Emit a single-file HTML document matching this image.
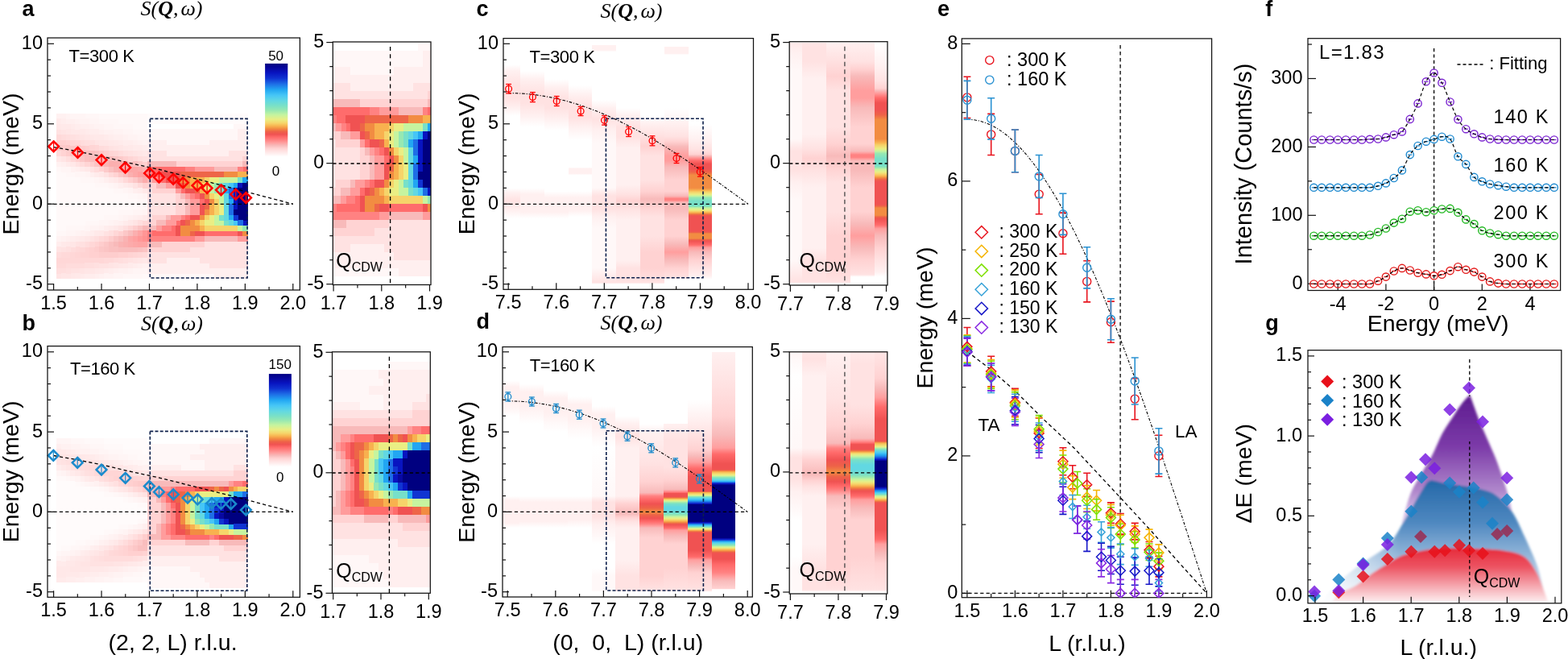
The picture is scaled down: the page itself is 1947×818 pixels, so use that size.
<!DOCTYPE html>
<html><head><meta charset="utf-8"><title>Figure</title>
<style>html,body{margin:0;padding:0;background:#fff;width:1947px;height:818px;overflow:hidden}svg{display:block}</style>
</head><body>
<svg width="1947" height="818" viewBox="0 0 1947 818"><clipPath id="cp1"><rect x="413.3" y="52" width="121.7" height="301.5"/></clipPath><g clip-path="url(#cp1)" shape-rendering="crispEdges"><path fill="#fff7f7" d="M518.6 52.6h6.4v10.4h-6.4zM524.5 52.6h6.4v10.4h-6.4zM530.5 52.6h6.4v10.4h-6.4zM411.1 62.6h6.4v10.4h-6.4zM417.1 62.6h6.4v10.4h-6.4zM423.1 62.6h6.4v10.4h-6.4zM429 62.6h6.4v10.4h-6.4zM435 62.6h6.4v10.4h-6.4zM441 62.6h6.4v10.4h-6.4zM446.9 62.6h6.4v10.4h-6.4zM452.9 62.6h6.4v10.4h-6.4zM458.9 62.6h6.4v10.4h-6.4zM464.8 62.6h6.4v10.4h-6.4zM470.8 62.6h6.4v10.4h-6.4zM476.8 62.6h6.4v10.4h-6.4zM482.8 62.6h6.4v10.4h-6.4zM488.7 62.6h6.4v10.4h-6.4zM494.7 62.6h6.4v10.4h-6.4zM500.7 62.6h6.4v10.4h-6.4zM506.6 62.6h6.4v10.4h-6.4zM512.6 62.6h6.4v10.4h-6.4zM518.6 62.6h6.4v10.4h-6.4zM411.1 72.6h6.4v10.4h-6.4zM417.1 72.6h6.4v10.4h-6.4zM423.1 72.6h6.4v10.4h-6.4zM429 72.6h6.4v10.4h-6.4zM435 72.6h6.4v10.4h-6.4zM441 72.6h6.4v10.4h-6.4zM446.9 72.6h6.4v10.4h-6.4zM452.9 72.6h6.4v10.4h-6.4zM458.9 72.6h6.4v10.4h-6.4zM464.8 72.6h6.4v10.4h-6.4zM470.8 72.6h6.4v10.4h-6.4zM476.8 72.6h6.4v10.4h-6.4zM482.8 72.6h6.4v10.4h-6.4zM488.7 72.6h6.4v10.4h-6.4zM494.7 72.6h6.4v10.4h-6.4zM500.7 72.6h6.4v10.4h-6.4zM506.6 72.6h6.4v10.4h-6.4zM512.6 72.6h6.4v10.4h-6.4zM518.6 72.6h6.4v10.4h-6.4zM435 82.6h6.4v10.4h-6.4zM441 82.6h6.4v10.4h-6.4zM446.9 82.6h6.4v10.4h-6.4zM452.9 82.6h6.4v10.4h-6.4zM458.9 82.6h6.4v10.4h-6.4zM464.8 82.6h6.4v10.4h-6.4zM470.8 82.6h6.4v10.4h-6.4zM476.8 82.6h6.4v10.4h-6.4zM482.8 82.6h6.4v10.4h-6.4zM411.1 332.7h6.4v10.4h-6.4zM417.1 332.7h6.4v10.4h-6.4zM423.1 332.7h6.4v10.4h-6.4zM429 332.7h6.4v10.4h-6.4zM435 332.7h6.4v10.4h-6.4zM441 332.7h6.4v10.4h-6.4zM446.9 332.7h6.4v10.4h-6.4zM452.9 332.7h6.4v10.4h-6.4zM458.9 332.7h6.4v10.4h-6.4zM464.8 332.7h6.4v10.4h-6.4zM470.8 332.7h6.4v10.4h-6.4zM476.8 332.7h6.4v10.4h-6.4zM482.8 332.7h6.4v10.4h-6.4zM488.7 332.7h6.4v10.4h-6.4z"/><path fill="#ffefef" d="M524.5 62.6h6.4v10.4h-6.4zM530.5 62.6h6.4v10.4h-6.4zM524.5 72.6h6.4v10.4h-6.4zM530.5 72.6h6.4v10.4h-6.4zM411.1 82.6h6.4v10.4h-6.4zM417.1 82.6h6.4v10.4h-6.4zM423.1 82.6h6.4v10.4h-6.4zM429 82.6h6.4v10.4h-6.4zM488.7 82.6h6.4v10.4h-6.4zM494.7 82.6h6.4v10.4h-6.4zM500.7 82.6h6.4v10.4h-6.4zM506.6 82.6h6.4v10.4h-6.4zM512.6 82.6h6.4v10.4h-6.4zM518.6 82.6h6.4v10.4h-6.4zM524.5 82.6h6.4v10.4h-6.4zM530.5 82.6h6.4v10.4h-6.4zM411.1 92.6h6.4v10.4h-6.4zM417.1 92.6h6.4v10.4h-6.4zM423.1 92.6h6.4v10.4h-6.4zM429 92.6h6.4v10.4h-6.4zM435 92.6h6.4v10.4h-6.4zM441 92.6h6.4v10.4h-6.4zM446.9 92.6h6.4v10.4h-6.4zM452.9 92.6h6.4v10.4h-6.4zM458.9 92.6h6.4v10.4h-6.4zM464.8 92.6h6.4v10.4h-6.4zM470.8 92.6h6.4v10.4h-6.4zM476.8 92.6h6.4v10.4h-6.4zM482.8 92.6h6.4v10.4h-6.4zM488.7 92.6h6.4v10.4h-6.4zM494.7 92.6h6.4v10.4h-6.4zM500.7 92.6h6.4v10.4h-6.4zM506.6 92.6h6.4v10.4h-6.4zM512.6 92.6h6.4v10.4h-6.4zM518.6 92.6h6.4v10.4h-6.4zM524.5 92.6h6.4v10.4h-6.4zM530.5 92.6h6.4v10.4h-6.4zM435 102.6h6.4v10.4h-6.4zM441 102.6h6.4v10.4h-6.4zM446.9 102.6h6.4v10.4h-6.4zM452.9 102.6h6.4v10.4h-6.4zM458.9 102.6h6.4v10.4h-6.4zM464.8 102.6h6.4v10.4h-6.4zM470.8 102.6h6.4v10.4h-6.4zM476.8 102.6h6.4v10.4h-6.4zM482.8 102.6h6.4v10.4h-6.4zM488.7 102.6h6.4v10.4h-6.4zM494.7 102.6h6.4v10.4h-6.4zM500.7 102.6h6.4v10.4h-6.4zM506.6 102.6h6.4v10.4h-6.4zM435 302.7h6.4v10.4h-6.4zM441 302.7h6.4v10.4h-6.4zM446.9 302.7h6.4v10.4h-6.4zM452.9 302.7h6.4v10.4h-6.4zM458.9 302.7h6.4v10.4h-6.4zM464.8 302.7h6.4v10.4h-6.4zM470.8 302.7h6.4v10.4h-6.4zM411.1 312.7h6.4v10.4h-6.4zM417.1 312.7h6.4v10.4h-6.4zM423.1 312.7h6.4v10.4h-6.4zM429 312.7h6.4v10.4h-6.4zM435 312.7h6.4v10.4h-6.4zM441 312.7h6.4v10.4h-6.4zM446.9 312.7h6.4v10.4h-6.4zM452.9 312.7h6.4v10.4h-6.4zM458.9 312.7h6.4v10.4h-6.4zM464.8 312.7h6.4v10.4h-6.4zM470.8 312.7h6.4v10.4h-6.4zM476.8 312.7h6.4v10.4h-6.4zM482.8 312.7h6.4v10.4h-6.4zM411.1 322.7h6.4v10.4h-6.4zM417.1 322.7h6.4v10.4h-6.4zM423.1 322.7h6.4v10.4h-6.4zM429 322.7h6.4v10.4h-6.4zM435 322.7h6.4v10.4h-6.4zM441 322.7h6.4v10.4h-6.4zM446.9 322.7h6.4v10.4h-6.4zM452.9 322.7h6.4v10.4h-6.4zM458.9 322.7h6.4v10.4h-6.4zM464.8 322.7h6.4v10.4h-6.4zM470.8 322.7h6.4v10.4h-6.4zM476.8 322.7h6.4v10.4h-6.4zM482.8 322.7h6.4v10.4h-6.4zM488.7 322.7h6.4v10.4h-6.4zM494.7 322.7h6.4v10.4h-6.4zM500.7 322.7h6.4v10.4h-6.4zM506.6 322.7h6.4v10.4h-6.4zM512.6 322.7h6.4v10.4h-6.4zM518.6 322.7h6.4v10.4h-6.4zM524.5 322.7h6.4v10.4h-6.4zM530.5 322.7h6.4v10.4h-6.4zM494.7 332.7h6.4v10.4h-6.4zM500.7 332.7h6.4v10.4h-6.4zM506.6 332.7h6.4v10.4h-6.4zM512.6 332.7h6.4v10.4h-6.4zM518.6 332.7h6.4v10.4h-6.4zM524.5 332.7h6.4v10.4h-6.4zM530.5 332.7h6.4v10.4h-6.4z"/><path fill="#ffe2e2" d="M411.1 102.6h6.4v10.4h-6.4zM417.1 102.6h6.4v10.4h-6.4zM423.1 102.6h6.4v10.4h-6.4zM429 102.6h6.4v10.4h-6.4zM512.6 102.6h6.4v10.4h-6.4zM518.6 102.6h6.4v10.4h-6.4zM524.5 102.6h6.4v10.4h-6.4zM530.5 102.6h6.4v10.4h-6.4zM411.1 112.6h6.4v10.4h-6.4zM417.1 112.6h6.4v10.4h-6.4zM423.1 112.6h6.4v10.4h-6.4zM429 112.6h6.4v10.4h-6.4zM435 112.6h6.4v10.4h-6.4zM441 112.6h6.4v10.4h-6.4zM446.9 112.6h6.4v10.4h-6.4zM452.9 112.6h6.4v10.4h-6.4zM458.9 112.6h6.4v10.4h-6.4zM464.8 112.6h6.4v10.4h-6.4zM470.8 112.6h6.4v10.4h-6.4zM476.8 112.6h6.4v10.4h-6.4zM482.8 112.6h6.4v10.4h-6.4zM488.7 112.6h6.4v10.4h-6.4zM494.7 112.6h6.4v10.4h-6.4zM500.7 112.6h6.4v10.4h-6.4zM506.6 112.6h6.4v10.4h-6.4zM512.6 112.6h6.4v10.4h-6.4zM518.6 112.6h6.4v10.4h-6.4zM524.5 112.6h6.4v10.4h-6.4zM411.1 172.6h6.4v10.4h-6.4zM411.1 182.6h6.4v10.4h-6.4zM417.1 182.6h6.4v10.4h-6.4zM423.1 182.6h6.4v10.4h-6.4zM429 182.6h6.4v10.4h-6.4zM435 182.6h6.4v10.4h-6.4zM441 182.6h6.4v10.4h-6.4zM411.1 192.6h6.4v10.4h-6.4zM417.1 192.6h6.4v10.4h-6.4zM423.1 192.6h6.4v10.4h-6.4zM429 192.6h6.4v10.4h-6.4zM435 192.6h6.4v10.4h-6.4zM441 192.6h6.4v10.4h-6.4zM411.1 202.6h6.4v10.4h-6.4zM417.1 202.6h6.4v10.4h-6.4zM423.1 202.6h6.4v10.4h-6.4zM429 202.6h6.4v10.4h-6.4zM435 202.6h6.4v10.4h-6.4zM441 202.6h6.4v10.4h-6.4zM411.1 212.7h6.4v10.4h-6.4zM417.1 212.7h6.4v10.4h-6.4zM423.1 212.7h6.4v10.4h-6.4zM429 212.7h6.4v10.4h-6.4zM435 212.7h6.4v10.4h-6.4zM441 212.7h6.4v10.4h-6.4zM411.1 222.7h6.4v10.4h-6.4zM482.8 272.7h6.4v10.4h-6.4zM488.7 272.7h6.4v10.4h-6.4zM494.7 272.7h6.4v10.4h-6.4zM500.7 272.7h6.4v10.4h-6.4zM506.6 272.7h6.4v10.4h-6.4zM512.6 272.7h6.4v10.4h-6.4zM518.6 272.7h6.4v10.4h-6.4zM524.5 272.7h6.4v10.4h-6.4zM530.5 272.7h6.4v10.4h-6.4zM464.8 282.7h6.4v10.4h-6.4zM470.8 282.7h6.4v10.4h-6.4zM476.8 282.7h6.4v10.4h-6.4zM482.8 282.7h6.4v10.4h-6.4zM488.7 282.7h6.4v10.4h-6.4zM494.7 282.7h6.4v10.4h-6.4zM500.7 282.7h6.4v10.4h-6.4zM506.6 282.7h6.4v10.4h-6.4zM512.6 282.7h6.4v10.4h-6.4zM518.6 282.7h6.4v10.4h-6.4zM524.5 282.7h6.4v10.4h-6.4zM530.5 282.7h6.4v10.4h-6.4zM411.1 292.7h6.4v10.4h-6.4zM417.1 292.7h6.4v10.4h-6.4zM423.1 292.7h6.4v10.4h-6.4zM429 292.7h6.4v10.4h-6.4zM435 292.7h6.4v10.4h-6.4zM441 292.7h6.4v10.4h-6.4zM446.9 292.7h6.4v10.4h-6.4zM452.9 292.7h6.4v10.4h-6.4zM458.9 292.7h6.4v10.4h-6.4zM464.8 292.7h6.4v10.4h-6.4zM470.8 292.7h6.4v10.4h-6.4zM476.8 292.7h6.4v10.4h-6.4zM482.8 292.7h6.4v10.4h-6.4zM488.7 292.7h6.4v10.4h-6.4zM494.7 292.7h6.4v10.4h-6.4zM500.7 292.7h6.4v10.4h-6.4zM506.6 292.7h6.4v10.4h-6.4zM512.6 292.7h6.4v10.4h-6.4zM518.6 292.7h6.4v10.4h-6.4zM524.5 292.7h6.4v10.4h-6.4zM530.5 292.7h6.4v10.4h-6.4zM411.1 302.7h6.4v10.4h-6.4zM417.1 302.7h6.4v10.4h-6.4zM423.1 302.7h6.4v10.4h-6.4zM429 302.7h6.4v10.4h-6.4zM476.8 302.7h6.4v10.4h-6.4zM482.8 302.7h6.4v10.4h-6.4zM488.7 302.7h6.4v10.4h-6.4zM494.7 302.7h6.4v10.4h-6.4zM500.7 302.7h6.4v10.4h-6.4zM506.6 302.7h6.4v10.4h-6.4zM512.6 302.7h6.4v10.4h-6.4zM518.6 302.7h6.4v10.4h-6.4zM524.5 302.7h6.4v10.4h-6.4zM530.5 302.7h6.4v10.4h-6.4zM488.7 312.7h6.4v10.4h-6.4zM494.7 312.7h6.4v10.4h-6.4zM500.7 312.7h6.4v10.4h-6.4zM506.6 312.7h6.4v10.4h-6.4zM512.6 312.7h6.4v10.4h-6.4zM518.6 312.7h6.4v10.4h-6.4zM524.5 312.7h6.4v10.4h-6.4zM530.5 312.7h6.4v10.4h-6.4z"/><path fill="#ffd3d3" d="M530.5 112.6h6.4v10.4h-6.4zM446.9 122.6h6.4v10.4h-6.4zM452.9 122.6h6.4v10.4h-6.4zM458.9 122.6h6.4v10.4h-6.4zM464.8 122.6h6.4v10.4h-6.4zM470.8 122.6h6.4v10.4h-6.4zM476.8 122.6h6.4v10.4h-6.4zM482.8 122.6h6.4v10.4h-6.4zM488.7 122.6h6.4v10.4h-6.4zM494.7 122.6h6.4v10.4h-6.4zM500.7 122.6h6.4v10.4h-6.4zM506.6 122.6h6.4v10.4h-6.4zM512.6 122.6h6.4v10.4h-6.4zM518.6 122.6h6.4v10.4h-6.4zM524.5 122.6h6.4v10.4h-6.4zM411.1 162.6h6.4v10.4h-6.4zM417.1 162.6h6.4v10.4h-6.4zM417.1 172.6h6.4v10.4h-6.4zM423.1 172.6h6.4v10.4h-6.4zM429 172.6h6.4v10.4h-6.4zM435 172.6h6.4v10.4h-6.4zM441 172.6h6.4v10.4h-6.4zM446.9 182.6h6.4v10.4h-6.4zM446.9 192.6h6.4v10.4h-6.4zM452.9 192.6h6.4v10.4h-6.4zM446.9 202.6h6.4v10.4h-6.4zM452.9 202.6h6.4v10.4h-6.4zM446.9 212.7h6.4v10.4h-6.4zM452.9 212.7h6.4v10.4h-6.4zM417.1 222.7h6.4v10.4h-6.4zM423.1 222.7h6.4v10.4h-6.4zM429 222.7h6.4v10.4h-6.4zM411.1 232.7h6.4v10.4h-6.4zM417.1 232.7h6.4v10.4h-6.4zM429 272.7h6.4v10.4h-6.4zM435 272.7h6.4v10.4h-6.4zM441 272.7h6.4v10.4h-6.4zM446.9 272.7h6.4v10.4h-6.4zM452.9 272.7h6.4v10.4h-6.4zM458.9 272.7h6.4v10.4h-6.4zM464.8 272.7h6.4v10.4h-6.4zM470.8 272.7h6.4v10.4h-6.4zM476.8 272.7h6.4v10.4h-6.4zM411.1 282.7h6.4v10.4h-6.4zM417.1 282.7h6.4v10.4h-6.4zM423.1 282.7h6.4v10.4h-6.4zM429 282.7h6.4v10.4h-6.4zM435 282.7h6.4v10.4h-6.4zM441 282.7h6.4v10.4h-6.4zM446.9 282.7h6.4v10.4h-6.4zM452.9 282.7h6.4v10.4h-6.4zM458.9 282.7h6.4v10.4h-6.4z"/><path fill="#f8baba" d="M411.1 122.6h6.4v10.4h-6.4zM417.1 122.6h6.4v10.4h-6.4zM423.1 122.6h6.4v10.4h-6.4zM429 122.6h6.4v10.4h-6.4zM435 122.6h6.4v10.4h-6.4zM441 122.6h6.4v10.4h-6.4zM530.5 122.6h6.4v10.4h-6.4zM494.7 132.6h6.4v10.4h-6.4zM500.7 132.6h6.4v10.4h-6.4zM506.6 132.6h6.4v10.4h-6.4zM512.6 132.6h6.4v10.4h-6.4zM518.6 132.6h6.4v10.4h-6.4zM411.1 152.6h6.4v10.4h-6.4zM423.1 162.6h6.4v10.4h-6.4zM429 162.6h6.4v10.4h-6.4zM452.9 182.6h6.4v10.4h-6.4zM458.9 192.6h6.4v10.4h-6.4zM458.9 202.6h6.4v10.4h-6.4zM458.9 212.7h6.4v10.4h-6.4zM435 222.7h6.4v10.4h-6.4zM423.1 232.7h6.4v10.4h-6.4zM429 232.7h6.4v10.4h-6.4zM411.1 242.7h6.4v10.4h-6.4zM417.1 242.7h6.4v10.4h-6.4zM482.8 262.7h6.4v10.4h-6.4zM488.7 262.7h6.4v10.4h-6.4zM494.7 262.7h6.4v10.4h-6.4zM500.7 262.7h6.4v10.4h-6.4zM506.6 262.7h6.4v10.4h-6.4zM512.6 262.7h6.4v10.4h-6.4zM518.6 262.7h6.4v10.4h-6.4zM411.1 272.7h6.4v10.4h-6.4zM417.1 272.7h6.4v10.4h-6.4zM423.1 272.7h6.4v10.4h-6.4z"/><path fill="#ff6c6c" d="M411.1 132.6h6.4v10.4h-6.4zM417.1 132.6h6.4v10.4h-6.4zM423.1 132.6h6.4v10.4h-6.4zM429 132.6h6.4v10.4h-6.4zM435 132.6h6.4v10.4h-6.4zM441 132.6h6.4v10.4h-6.4zM446.9 132.6h6.4v10.4h-6.4zM452.9 132.6h6.4v10.4h-6.4zM530.5 132.6h6.4v10.4h-6.4zM417.1 142.6h6.4v10.4h-6.4zM423.1 142.6h6.4v10.4h-6.4zM429 152.6h6.4v10.4h-6.4zM452.9 172.6h6.4v10.4h-6.4zM470.8 182.6h6.4v10.4h-6.4zM476.8 192.6h6.4v10.4h-6.4zM458.9 222.7h6.4v10.4h-6.4zM446.9 232.7h6.4v10.4h-6.4zM441 242.7h6.4v10.4h-6.4zM417.1 252.7h6.4v10.4h-6.4zM423.1 252.7h6.4v10.4h-6.4zM429 252.7h6.4v10.4h-6.4zM435 252.7h6.4v10.4h-6.4zM441 252.7h6.4v10.4h-6.4zM482.8 252.7h6.4v10.4h-6.4zM488.7 252.7h6.4v10.4h-6.4zM494.7 252.7h6.4v10.4h-6.4zM500.7 252.7h6.4v10.4h-6.4zM506.6 252.7h6.4v10.4h-6.4zM512.6 252.7h6.4v10.4h-6.4zM518.6 252.7h6.4v10.4h-6.4z"/><path fill="#ff8282" d="M458.9 132.6h6.4v10.4h-6.4zM464.8 132.6h6.4v10.4h-6.4zM524.5 132.6h6.4v10.4h-6.4zM411.1 142.6h6.4v10.4h-6.4zM423.1 152.6h6.4v10.4h-6.4zM464.8 182.6h6.4v10.4h-6.4zM452.9 222.7h6.4v10.4h-6.4zM429 242.7h6.4v10.4h-6.4zM435 242.7h6.4v10.4h-6.4zM411.1 252.7h6.4v10.4h-6.4zM411.1 262.7h6.4v10.4h-6.4zM417.1 262.7h6.4v10.4h-6.4zM423.1 262.7h6.4v10.4h-6.4zM429 262.7h6.4v10.4h-6.4zM435 262.7h6.4v10.4h-6.4zM441 262.7h6.4v10.4h-6.4zM446.9 262.7h6.4v10.4h-6.4zM452.9 262.7h6.4v10.4h-6.4zM458.9 262.7h6.4v10.4h-6.4zM464.8 262.7h6.4v10.4h-6.4z"/><path fill="#ff9c9c" d="M470.8 132.6h6.4v10.4h-6.4zM476.8 132.6h6.4v10.4h-6.4zM482.8 132.6h6.4v10.4h-6.4zM488.7 132.6h6.4v10.4h-6.4zM417.1 152.6h6.4v10.4h-6.4zM435 162.6h6.4v10.4h-6.4zM441 162.6h6.4v10.4h-6.4zM446.9 172.6h6.4v10.4h-6.4zM458.9 182.6h6.4v10.4h-6.4zM464.8 192.6h6.4v10.4h-6.4zM470.8 192.6h6.4v10.4h-6.4zM464.8 202.6h6.4v10.4h-6.4zM470.8 202.6h6.4v10.4h-6.4zM464.8 212.7h6.4v10.4h-6.4zM470.8 212.7h6.4v10.4h-6.4zM441 222.7h6.4v10.4h-6.4zM446.9 222.7h6.4v10.4h-6.4zM435 232.7h6.4v10.4h-6.4zM441 232.7h6.4v10.4h-6.4zM423.1 242.7h6.4v10.4h-6.4zM470.8 262.7h6.4v10.4h-6.4zM476.8 262.7h6.4v10.4h-6.4zM524.5 262.7h6.4v10.4h-6.4zM530.5 262.7h6.4v10.4h-6.4z"/><path fill="#f05252" d="M429 142.6h6.4v10.4h-6.4zM435 142.6h6.4v10.4h-6.4zM441 142.6h6.4v10.4h-6.4zM446.9 142.6h6.4v10.4h-6.4zM435 152.6h6.4v10.4h-6.4zM441 152.6h6.4v10.4h-6.4zM446.9 162.6h6.4v10.4h-6.4zM458.9 172.6h6.4v10.4h-6.4zM464.8 172.6h6.4v10.4h-6.4zM476.8 182.6h6.4v10.4h-6.4zM482.8 192.6h6.4v10.4h-6.4zM476.8 202.6h6.4v10.4h-6.4zM476.8 212.7h6.4v10.4h-6.4zM464.8 222.7h6.4v10.4h-6.4zM470.8 222.7h6.4v10.4h-6.4zM452.9 232.7h6.4v10.4h-6.4zM446.9 242.7h6.4v10.4h-6.4zM446.9 252.7h6.4v10.4h-6.4zM470.8 252.7h6.4v10.4h-6.4zM476.8 252.7h6.4v10.4h-6.4zM524.5 252.7h6.4v10.4h-6.4z"/><path fill="#ee6548" d="M452.9 142.6h6.4v10.4h-6.4zM458.9 142.6h6.4v10.4h-6.4zM464.8 142.6h6.4v10.4h-6.4zM470.8 142.6h6.4v10.4h-6.4zM476.8 142.6h6.4v10.4h-6.4zM482.8 142.6h6.4v10.4h-6.4zM488.7 142.6h6.4v10.4h-6.4zM494.7 142.6h6.4v10.4h-6.4zM500.7 142.6h6.4v10.4h-6.4zM446.9 152.6h6.4v10.4h-6.4zM452.9 162.6h6.4v10.4h-6.4zM470.8 172.6h6.4v10.4h-6.4zM482.8 202.6h6.4v10.4h-6.4zM458.9 232.7h6.4v10.4h-6.4zM464.8 252.7h6.4v10.4h-6.4z"/><path fill="#f28c42" d="M506.6 142.6h6.4v10.4h-6.4zM512.6 142.6h6.4v10.4h-6.4zM518.6 142.6h6.4v10.4h-6.4zM452.9 152.6h6.4v10.4h-6.4zM458.9 152.6h6.4v10.4h-6.4zM458.9 162.6h6.4v10.4h-6.4zM482.8 182.6h6.4v10.4h-6.4zM488.7 192.6h6.4v10.4h-6.4zM482.8 212.7h6.4v10.4h-6.4zM476.8 222.7h6.4v10.4h-6.4zM464.8 232.7h6.4v10.4h-6.4zM452.9 242.7h6.4v10.4h-6.4zM458.9 242.7h6.4v10.4h-6.4zM464.8 242.7h6.4v10.4h-6.4zM470.8 242.7h6.4v10.4h-6.4zM452.9 252.7h6.4v10.4h-6.4zM458.9 252.7h6.4v10.4h-6.4zM530.5 252.7h6.4v10.4h-6.4z"/><path fill="#f8b14f" d="M524.5 142.6h6.4v10.4h-6.4zM530.5 142.6h6.4v10.4h-6.4zM464.8 152.6h6.4v10.4h-6.4zM470.8 152.6h6.4v10.4h-6.4zM476.8 152.6h6.4v10.4h-6.4zM464.8 162.6h6.4v10.4h-6.4zM470.8 162.6h6.4v10.4h-6.4zM476.8 172.6h6.4v10.4h-6.4zM488.7 202.6h6.4v10.4h-6.4zM488.7 212.7h6.4v10.4h-6.4zM470.8 232.7h6.4v10.4h-6.4zM476.8 242.7h6.4v10.4h-6.4z"/><path fill="#f6d46a" d="M482.8 152.6h6.4v10.4h-6.4zM476.8 162.6h6.4v10.4h-6.4zM488.7 182.6h6.4v10.4h-6.4zM494.7 192.6h6.4v10.4h-6.4zM494.7 202.6h6.4v10.4h-6.4zM494.7 212.7h6.4v10.4h-6.4zM482.8 222.7h6.4v10.4h-6.4zM476.8 232.7h6.4v10.4h-6.4zM482.8 242.7h6.4v10.4h-6.4zM488.7 242.7h6.4v10.4h-6.4zM494.7 242.7h6.4v10.4h-6.4zM500.7 242.7h6.4v10.4h-6.4zM506.6 242.7h6.4v10.4h-6.4zM512.6 242.7h6.4v10.4h-6.4zM518.6 242.7h6.4v10.4h-6.4z"/><path fill="#eaee84" d="M488.7 152.6h6.4v10.4h-6.4zM494.7 152.6h6.4v10.4h-6.4zM482.8 162.6h6.4v10.4h-6.4zM482.8 172.6h6.4v10.4h-6.4zM494.7 182.6h6.4v10.4h-6.4zM500.7 202.6h6.4v10.4h-6.4zM500.7 212.7h6.4v10.4h-6.4zM488.7 222.7h6.4v10.4h-6.4zM482.8 232.7h6.4v10.4h-6.4zM488.7 232.7h6.4v10.4h-6.4z"/><path fill="#c6f49f" d="M500.7 152.6h6.4v10.4h-6.4zM506.6 152.6h6.4v10.4h-6.4zM512.6 152.6h6.4v10.4h-6.4zM518.6 152.6h6.4v10.4h-6.4zM488.7 162.6h6.4v10.4h-6.4zM488.7 172.6h6.4v10.4h-6.4zM500.7 182.6h6.4v10.4h-6.4zM500.7 192.6h6.4v10.4h-6.4zM494.7 222.7h6.4v10.4h-6.4zM494.7 232.7h6.4v10.4h-6.4zM500.7 232.7h6.4v10.4h-6.4zM524.5 242.7h6.4v10.4h-6.4z"/><path fill="#77e0c9" d="M524.5 152.6h6.4v10.4h-6.4zM500.7 162.6h6.4v10.4h-6.4zM500.7 172.6h6.4v10.4h-6.4zM500.7 222.7h6.4v10.4h-6.4zM506.6 232.7h6.4v10.4h-6.4z"/><path fill="#22a6f2" d="M530.5 152.6h6.4v10.4h-6.4zM518.6 162.6h6.4v10.4h-6.4zM506.6 172.6h6.4v10.4h-6.4zM512.6 192.6h6.4v10.4h-6.4zM512.6 222.7h6.4v10.4h-6.4z"/><path fill="#96e8b2" d="M494.7 162.6h6.4v10.4h-6.4zM494.7 172.6h6.4v10.4h-6.4zM530.5 242.7h6.4v10.4h-6.4z"/><path fill="#62d8e2" d="M506.6 162.6h6.4v10.4h-6.4zM506.6 182.6h6.4v10.4h-6.4zM506.6 192.6h6.4v10.4h-6.4zM506.6 202.6h6.4v10.4h-6.4zM506.6 212.7h6.4v10.4h-6.4zM506.6 222.7h6.4v10.4h-6.4zM512.6 232.7h6.4v10.4h-6.4z"/><path fill="#46c6f6" d="M512.6 162.6h6.4v10.4h-6.4zM518.6 232.7h6.4v10.4h-6.4z"/><path fill="#0814c0" d="M524.5 162.6h6.4v10.4h-6.4zM518.6 172.6h6.4v10.4h-6.4zM518.6 182.6h6.4v10.4h-6.4zM518.6 192.6h6.4v10.4h-6.4zM518.6 202.6h6.4v10.4h-6.4zM530.5 232.7h6.4v10.4h-6.4z"/><path fill="#000080" d="M530.5 162.6h6.4v10.4h-6.4zM524.5 172.6h6.4v10.4h-6.4zM530.5 172.6h6.4v10.4h-6.4zM524.5 182.6h6.4v10.4h-6.4zM530.5 182.6h6.4v10.4h-6.4zM524.5 192.6h6.4v10.4h-6.4zM530.5 192.6h6.4v10.4h-6.4zM524.5 202.6h6.4v10.4h-6.4zM530.5 202.6h6.4v10.4h-6.4zM518.6 212.7h6.4v10.4h-6.4zM524.5 212.7h6.4v10.4h-6.4zM530.5 212.7h6.4v10.4h-6.4zM524.5 222.7h6.4v10.4h-6.4zM530.5 222.7h6.4v10.4h-6.4z"/><path fill="#1e6ee6" d="M512.6 172.6h6.4v10.4h-6.4zM512.6 182.6h6.4v10.4h-6.4zM512.6 202.6h6.4v10.4h-6.4zM512.6 212.7h6.4v10.4h-6.4zM524.5 232.7h6.4v10.4h-6.4z"/><path fill="#1034d2" d="M518.6 222.7h6.4v10.4h-6.4z"/></g>
<clipPath id="cp2"><rect x="59" y="47" width="313.4" height="313"/></clipPath><g clip-path="url(#cp2)" shape-rendering="crispEdges"><path fill="#fff7f7" d="M289.5 153.8h6.3v7h-6.3zM295.4 153.8h6.3v7h-6.3zM301.4 153.8h6.3v7h-6.3zM182.5 160.4h6.3v7h-6.3zM188.5 160.4h6.3v7h-6.3zM194.4 160.4h6.3v7h-6.3zM200.3 160.4h6.3v7h-6.3zM206.3 160.4h6.3v7h-6.3zM212.2 160.4h6.3v7h-6.3zM218.2 160.4h6.3v7h-6.3zM224.1 160.4h6.3v7h-6.3zM230.1 160.4h6.3v7h-6.3zM236 160.4h6.3v7h-6.3zM241.9 160.4h6.3v7h-6.3zM247.9 160.4h6.3v7h-6.3zM253.8 160.4h6.3v7h-6.3zM259.8 160.4h6.3v7h-6.3zM265.7 160.4h6.3v7h-6.3zM271.7 160.4h6.3v7h-6.3zM277.6 160.4h6.3v7h-6.3zM283.6 160.4h6.3v7h-6.3zM289.5 160.4h6.3v7h-6.3zM182.5 167h6.3v7h-6.3zM188.5 167h6.3v7h-6.3zM194.4 167h6.3v7h-6.3zM200.3 167h6.3v7h-6.3zM206.3 167h6.3v7h-6.3zM212.2 167h6.3v7h-6.3zM218.2 167h6.3v7h-6.3zM224.1 167h6.3v7h-6.3zM230.1 167h6.3v7h-6.3zM236 167h6.3v7h-6.3zM241.9 167h6.3v7h-6.3zM247.9 167h6.3v7h-6.3zM253.8 167h6.3v7h-6.3zM259.8 167h6.3v7h-6.3zM265.7 167h6.3v7h-6.3zM271.7 167h6.3v7h-6.3zM277.6 167h6.3v7h-6.3zM283.6 167h6.3v7h-6.3zM289.5 167h6.3v7h-6.3zM206.3 173.7h6.3v7h-6.3zM212.2 173.7h6.3v7h-6.3zM218.2 173.7h6.3v7h-6.3zM224.1 173.7h6.3v7h-6.3zM230.1 173.7h6.3v7h-6.3zM236 173.7h6.3v7h-6.3zM241.9 173.7h6.3v7h-6.3zM247.9 173.7h6.3v7h-6.3zM253.8 173.7h6.3v7h-6.3zM182.5 339.4h6.3v7h-6.3zM188.5 339.4h6.3v7h-6.3zM194.4 339.4h6.3v7h-6.3zM200.3 339.4h6.3v7h-6.3zM206.3 339.4h6.3v7h-6.3zM212.2 339.4h6.3v7h-6.3zM218.2 339.4h6.3v7h-6.3zM224.1 339.4h6.3v7h-6.3zM230.1 339.4h6.3v7h-6.3zM236 339.4h6.3v7h-6.3zM241.9 339.4h6.3v7h-6.3zM247.9 339.4h6.3v7h-6.3zM253.8 339.4h6.3v7h-6.3zM259.8 339.4h6.3v7h-6.3zM69.6 206.8h6.3v7h-6.3zM69.6 286.4h6.3v7h-6.3zM75.5 286.4h6.3v7h-6.3zM81.5 213.4h6.3v7h-6.3zM81.5 279.8h6.3v7h-6.3zM87.4 213.4h6.3v7h-6.3zM87.4 279.8h6.3v7h-6.3zM93.3 279.8h6.3v7h-6.3zM99.3 220.1h6.3v7h-6.3zM99.3 279.8h6.3v7h-6.3zM105.2 140.5h6.3v7h-6.3zM105.2 220.1h6.3v7h-6.3zM105.2 273.1h6.3v7h-6.3zM111.2 140.5h6.3v7h-6.3zM111.2 220.1h6.3v7h-6.3zM111.2 273.1h6.3v7h-6.3zM117.1 140.5h6.3v7h-6.3zM117.1 226.7h6.3v7h-6.3zM117.1 273.1h6.3v7h-6.3zM123.1 147.1h6.3v7h-6.3zM123.1 226.7h6.3v7h-6.3zM129 147.1h6.3v7h-6.3zM129 226.7h6.3v7h-6.3zM129 266.5h6.3v7h-6.3zM135 147.1h6.3v7h-6.3zM135 266.5h6.3v7h-6.3zM140.9 147.1h6.3v7h-6.3zM140.9 153.8h6.3v7h-6.3zM140.9 233.3h6.3v7h-6.3zM140.9 266.5h6.3v7h-6.3zM146.8 153.8h6.3v7h-6.3zM146.8 233.3h6.3v7h-6.3zM146.8 259.9h6.3v7h-6.3zM152.8 153.8h6.3v7h-6.3zM152.8 259.9h6.3v7h-6.3zM152.8 339.4h6.3v7h-6.3zM158.7 153.8h6.3v7h-6.3zM158.7 240h6.3v7h-6.3zM158.7 259.9h6.3v7h-6.3zM158.7 339.4h6.3v7h-6.3zM164.7 160.4h6.3v7h-6.3zM164.7 240h6.3v7h-6.3zM164.7 339.4h6.3v7h-6.3zM170.6 160.4h6.3v7h-6.3zM170.6 246.6h6.3v7h-6.3zM170.6 253.2h6.3v7h-6.3zM170.6 339.4h6.3v7h-6.3zM176.6 160.4h6.3v7h-6.3zM176.6 246.6h6.3v7h-6.3zM176.6 253.2h6.3v7h-6.3z"/><path fill="#ffefef" d="M295.4 160.4h6.3v7h-6.3zM301.4 160.4h6.3v7h-6.3zM295.4 167h6.3v7h-6.3zM301.4 167h6.3v7h-6.3zM182.5 173.7h6.3v7h-6.3zM188.5 173.7h6.3v7h-6.3zM194.4 173.7h6.3v7h-6.3zM200.3 173.7h6.3v7h-6.3zM259.8 173.7h6.3v7h-6.3zM265.7 173.7h6.3v7h-6.3zM271.7 173.7h6.3v7h-6.3zM277.6 173.7h6.3v7h-6.3zM283.6 173.7h6.3v7h-6.3zM289.5 173.7h6.3v7h-6.3zM295.4 173.7h6.3v7h-6.3zM301.4 173.7h6.3v7h-6.3zM182.5 180.3h6.3v7h-6.3zM188.5 180.3h6.3v7h-6.3zM194.4 180.3h6.3v7h-6.3zM200.3 180.3h6.3v7h-6.3zM206.3 180.3h6.3v7h-6.3zM212.2 180.3h6.3v7h-6.3zM218.2 180.3h6.3v7h-6.3zM224.1 180.3h6.3v7h-6.3zM230.1 180.3h6.3v7h-6.3zM236 180.3h6.3v7h-6.3zM241.9 180.3h6.3v7h-6.3zM247.9 180.3h6.3v7h-6.3zM253.8 180.3h6.3v7h-6.3zM259.8 180.3h6.3v7h-6.3zM265.7 180.3h6.3v7h-6.3zM271.7 180.3h6.3v7h-6.3zM277.6 180.3h6.3v7h-6.3zM283.6 180.3h6.3v7h-6.3zM289.5 180.3h6.3v7h-6.3zM295.4 180.3h6.3v7h-6.3zM301.4 180.3h6.3v7h-6.3zM206.3 186.9h6.3v7h-6.3zM212.2 186.9h6.3v7h-6.3zM218.2 186.9h6.3v7h-6.3zM224.1 186.9h6.3v7h-6.3zM230.1 186.9h6.3v7h-6.3zM236 186.9h6.3v7h-6.3zM241.9 186.9h6.3v7h-6.3zM247.9 186.9h6.3v7h-6.3zM253.8 186.9h6.3v7h-6.3zM259.8 186.9h6.3v7h-6.3zM265.7 186.9h6.3v7h-6.3zM271.7 186.9h6.3v7h-6.3zM277.6 186.9h6.3v7h-6.3zM206.3 319.5h6.3v7h-6.3zM212.2 319.5h6.3v7h-6.3zM218.2 319.5h6.3v7h-6.3zM224.1 319.5h6.3v7h-6.3zM230.1 319.5h6.3v7h-6.3zM236 319.5h6.3v7h-6.3zM241.9 319.5h6.3v7h-6.3zM182.5 326.2h6.3v7h-6.3zM188.5 326.2h6.3v7h-6.3zM194.4 326.2h6.3v7h-6.3zM200.3 326.2h6.3v7h-6.3zM206.3 326.2h6.3v7h-6.3zM212.2 326.2h6.3v7h-6.3zM218.2 326.2h6.3v7h-6.3zM224.1 326.2h6.3v7h-6.3zM230.1 326.2h6.3v7h-6.3zM236 326.2h6.3v7h-6.3zM241.9 326.2h6.3v7h-6.3zM247.9 326.2h6.3v7h-6.3zM253.8 326.2h6.3v7h-6.3zM182.5 332.8h6.3v7h-6.3zM188.5 332.8h6.3v7h-6.3zM194.4 332.8h6.3v7h-6.3zM200.3 332.8h6.3v7h-6.3zM206.3 332.8h6.3v7h-6.3zM212.2 332.8h6.3v7h-6.3zM218.2 332.8h6.3v7h-6.3zM224.1 332.8h6.3v7h-6.3zM230.1 332.8h6.3v7h-6.3zM236 332.8h6.3v7h-6.3zM241.9 332.8h6.3v7h-6.3zM247.9 332.8h6.3v7h-6.3zM253.8 332.8h6.3v7h-6.3zM259.8 332.8h6.3v7h-6.3zM265.7 332.8h6.3v7h-6.3zM271.7 332.8h6.3v7h-6.3zM277.6 332.8h6.3v7h-6.3zM283.6 332.8h6.3v7h-6.3zM289.5 332.8h6.3v7h-6.3zM295.4 332.8h6.3v7h-6.3zM301.4 332.8h6.3v7h-6.3zM265.7 339.4h6.3v7h-6.3zM271.7 339.4h6.3v7h-6.3zM277.6 339.4h6.3v7h-6.3zM283.6 339.4h6.3v7h-6.3zM289.5 339.4h6.3v7h-6.3zM295.4 339.4h6.3v7h-6.3zM301.4 339.4h6.3v7h-6.3zM75.5 200.2h6.3v7h-6.3zM81.5 147.1h6.3v7h-6.3zM81.5 293h6.3v7h-6.3zM87.4 147.1h6.3v7h-6.3zM93.3 206.8h6.3v7h-6.3zM99.3 153.8h6.3v7h-6.3zM105.2 153.8h6.3v7h-6.3zM105.2 286.4h6.3v7h-6.3zM111.2 213.4h6.3v7h-6.3zM117.1 339.4h6.3v7h-6.3zM123.1 160.4h6.3v7h-6.3zM129 220.1h6.3v7h-6.3zM140.9 167h6.3v7h-6.3zM140.9 332.8h6.3v7h-6.3zM146.8 167h6.3v7h-6.3zM146.8 226.7h6.3v7h-6.3zM146.8 273.1h6.3v7h-6.3zM164.7 173.7h6.3v7h-6.3zM164.7 233.3h6.3v7h-6.3zM164.7 266.5h6.3v7h-6.3zM170.6 326.2h6.3v7h-6.3z"/><path fill="#ffe2e2" d="M182.5 186.9h6.3v7h-6.3zM188.5 186.9h6.3v7h-6.3zM194.4 186.9h6.3v7h-6.3zM200.3 186.9h6.3v7h-6.3zM283.6 186.9h6.3v7h-6.3zM289.5 186.9h6.3v7h-6.3zM295.4 186.9h6.3v7h-6.3zM301.4 186.9h6.3v7h-6.3zM182.5 193.6h6.3v7h-6.3zM188.5 193.6h6.3v7h-6.3zM194.4 193.6h6.3v7h-6.3zM200.3 193.6h6.3v7h-6.3zM206.3 193.6h6.3v7h-6.3zM212.2 193.6h6.3v7h-6.3zM218.2 193.6h6.3v7h-6.3zM224.1 193.6h6.3v7h-6.3zM230.1 193.6h6.3v7h-6.3zM236 193.6h6.3v7h-6.3zM241.9 193.6h6.3v7h-6.3zM247.9 193.6h6.3v7h-6.3zM253.8 193.6h6.3v7h-6.3zM259.8 193.6h6.3v7h-6.3zM265.7 193.6h6.3v7h-6.3zM271.7 193.6h6.3v7h-6.3zM277.6 193.6h6.3v7h-6.3zM283.6 193.6h6.3v7h-6.3zM289.5 193.6h6.3v7h-6.3zM295.4 193.6h6.3v7h-6.3zM182.5 233.3h6.3v7h-6.3zM182.5 240h6.3v7h-6.3zM188.5 240h6.3v7h-6.3zM194.4 240h6.3v7h-6.3zM200.3 240h6.3v7h-6.3zM206.3 240h6.3v7h-6.3zM212.2 240h6.3v7h-6.3zM182.5 246.6h6.3v7h-6.3zM188.5 246.6h6.3v7h-6.3zM194.4 246.6h6.3v7h-6.3zM200.3 246.6h6.3v7h-6.3zM206.3 246.6h6.3v7h-6.3zM212.2 246.6h6.3v7h-6.3zM182.5 253.2h6.3v7h-6.3zM188.5 253.2h6.3v7h-6.3zM194.4 253.2h6.3v7h-6.3zM200.3 253.2h6.3v7h-6.3zM206.3 253.2h6.3v7h-6.3zM212.2 253.2h6.3v7h-6.3zM182.5 259.9h6.3v7h-6.3zM188.5 259.9h6.3v7h-6.3zM194.4 259.9h6.3v7h-6.3zM200.3 259.9h6.3v7h-6.3zM206.3 259.9h6.3v7h-6.3zM212.2 259.9h6.3v7h-6.3zM182.5 266.5h6.3v7h-6.3zM253.8 299.7h6.3v7h-6.3zM259.8 299.7h6.3v7h-6.3zM265.7 299.7h6.3v7h-6.3zM271.7 299.7h6.3v7h-6.3zM277.6 299.7h6.3v7h-6.3zM283.6 299.7h6.3v7h-6.3zM289.5 299.7h6.3v7h-6.3zM295.4 299.7h6.3v7h-6.3zM301.4 299.7h6.3v7h-6.3zM236 306.3h6.3v7h-6.3zM241.9 306.3h6.3v7h-6.3zM247.9 306.3h6.3v7h-6.3zM253.8 306.3h6.3v7h-6.3zM259.8 306.3h6.3v7h-6.3zM265.7 306.3h6.3v7h-6.3zM271.7 306.3h6.3v7h-6.3zM277.6 306.3h6.3v7h-6.3zM283.6 306.3h6.3v7h-6.3zM289.5 306.3h6.3v7h-6.3zM295.4 306.3h6.3v7h-6.3zM301.4 306.3h6.3v7h-6.3zM182.5 312.9h6.3v7h-6.3zM188.5 312.9h6.3v7h-6.3zM194.4 312.9h6.3v7h-6.3zM200.3 312.9h6.3v7h-6.3zM206.3 312.9h6.3v7h-6.3zM212.2 312.9h6.3v7h-6.3zM218.2 312.9h6.3v7h-6.3zM224.1 312.9h6.3v7h-6.3zM230.1 312.9h6.3v7h-6.3zM236 312.9h6.3v7h-6.3zM241.9 312.9h6.3v7h-6.3zM247.9 312.9h6.3v7h-6.3zM253.8 312.9h6.3v7h-6.3zM259.8 312.9h6.3v7h-6.3zM265.7 312.9h6.3v7h-6.3zM271.7 312.9h6.3v7h-6.3zM277.6 312.9h6.3v7h-6.3zM283.6 312.9h6.3v7h-6.3zM289.5 312.9h6.3v7h-6.3zM295.4 312.9h6.3v7h-6.3zM301.4 312.9h6.3v7h-6.3zM182.5 319.5h6.3v7h-6.3zM188.5 319.5h6.3v7h-6.3zM194.4 319.5h6.3v7h-6.3zM200.3 319.5h6.3v7h-6.3zM247.9 319.5h6.3v7h-6.3zM253.8 319.5h6.3v7h-6.3zM259.8 319.5h6.3v7h-6.3zM265.7 319.5h6.3v7h-6.3zM271.7 319.5h6.3v7h-6.3zM277.6 319.5h6.3v7h-6.3zM283.6 319.5h6.3v7h-6.3zM289.5 319.5h6.3v7h-6.3zM295.4 319.5h6.3v7h-6.3zM301.4 319.5h6.3v7h-6.3zM259.8 326.2h6.3v7h-6.3zM265.7 326.2h6.3v7h-6.3zM271.7 326.2h6.3v7h-6.3zM277.6 326.2h6.3v7h-6.3zM283.6 326.2h6.3v7h-6.3zM289.5 326.2h6.3v7h-6.3zM295.4 326.2h6.3v7h-6.3zM301.4 326.2h6.3v7h-6.3zM69.6 160.4h6.3v7h-6.3zM75.5 306.3h6.3v7h-6.3zM87.4 332.8h6.3v7h-6.3zM93.3 167h6.3v7h-6.3zM93.3 200.2h6.3v7h-6.3zM93.3 299.7h6.3v7h-6.3zM93.3 332.8h6.3v7h-6.3zM111.2 206.8h6.3v7h-6.3zM111.2 293h6.3v7h-6.3zM123.1 326.2h6.3v7h-6.3zM129 213.4h6.3v7h-6.3zM129 286.4h6.3v7h-6.3zM129 326.2h6.3v7h-6.3zM135 180.3h6.3v7h-6.3zM146.8 220.1h6.3v7h-6.3zM158.7 186.9h6.3v7h-6.3zM158.7 319.5h6.3v7h-6.3zM164.7 226.7h6.3v7h-6.3z"/><path fill="#ffd3d3" d="M301.4 193.6h6.3v7h-6.3zM218.2 200.2h6.3v7h-6.3zM224.1 200.2h6.3v7h-6.3zM230.1 200.2h6.3v7h-6.3zM236 200.2h6.3v7h-6.3zM241.9 200.2h6.3v7h-6.3zM247.9 200.2h6.3v7h-6.3zM253.8 200.2h6.3v7h-6.3zM259.8 200.2h6.3v7h-6.3zM265.7 200.2h6.3v7h-6.3zM271.7 200.2h6.3v7h-6.3zM277.6 200.2h6.3v7h-6.3zM283.6 200.2h6.3v7h-6.3zM289.5 200.2h6.3v7h-6.3zM295.4 200.2h6.3v7h-6.3zM182.5 226.7h6.3v7h-6.3zM188.5 226.7h6.3v7h-6.3zM188.5 233.3h6.3v7h-6.3zM194.4 233.3h6.3v7h-6.3zM200.3 233.3h6.3v7h-6.3zM206.3 233.3h6.3v7h-6.3zM212.2 233.3h6.3v7h-6.3zM218.2 240h6.3v7h-6.3zM218.2 246.6h6.3v7h-6.3zM224.1 246.6h6.3v7h-6.3zM218.2 253.2h6.3v7h-6.3zM224.1 253.2h6.3v7h-6.3zM218.2 259.9h6.3v7h-6.3zM224.1 259.9h6.3v7h-6.3zM188.5 266.5h6.3v7h-6.3zM194.4 266.5h6.3v7h-6.3zM200.3 266.5h6.3v7h-6.3zM182.5 273.1h6.3v7h-6.3zM188.5 273.1h6.3v7h-6.3zM200.3 299.7h6.3v7h-6.3zM206.3 299.7h6.3v7h-6.3zM212.2 299.7h6.3v7h-6.3zM218.2 299.7h6.3v7h-6.3zM224.1 299.7h6.3v7h-6.3zM230.1 299.7h6.3v7h-6.3zM236 299.7h6.3v7h-6.3zM241.9 299.7h6.3v7h-6.3zM247.9 299.7h6.3v7h-6.3zM182.5 306.3h6.3v7h-6.3zM188.5 306.3h6.3v7h-6.3zM194.4 306.3h6.3v7h-6.3zM200.3 306.3h6.3v7h-6.3zM206.3 306.3h6.3v7h-6.3zM212.2 306.3h6.3v7h-6.3zM218.2 306.3h6.3v7h-6.3zM224.1 306.3h6.3v7h-6.3zM230.1 306.3h6.3v7h-6.3zM75.5 186.9h6.3v7h-6.3zM81.5 173.7h6.3v7h-6.3zM99.3 312.9h6.3v7h-6.3zM105.2 306.3h6.3v7h-6.3zM105.2 312.9h6.3v7h-6.3zM117.1 299.7h6.3v7h-6.3zM123.1 206.8h6.3v7h-6.3zM140.9 213.4h6.3v7h-6.3zM158.7 312.9h6.3v7h-6.3z"/><path fill="#f8baba" d="M182.5 200.2h6.3v7h-6.3zM188.5 200.2h6.3v7h-6.3zM194.4 200.2h6.3v7h-6.3zM200.3 200.2h6.3v7h-6.3zM206.3 200.2h6.3v7h-6.3zM212.2 200.2h6.3v7h-6.3zM301.4 200.2h6.3v7h-6.3zM265.7 206.8h6.3v7h-6.3zM271.7 206.8h6.3v7h-6.3zM277.6 206.8h6.3v7h-6.3zM283.6 206.8h6.3v7h-6.3zM289.5 206.8h6.3v7h-6.3zM182.5 220.1h6.3v7h-6.3zM194.4 226.7h6.3v7h-6.3zM200.3 226.7h6.3v7h-6.3zM224.1 240h6.3v7h-6.3zM230.1 246.6h6.3v7h-6.3zM230.1 253.2h6.3v7h-6.3zM230.1 259.9h6.3v7h-6.3zM206.3 266.5h6.3v7h-6.3zM194.4 273.1h6.3v7h-6.3zM200.3 273.1h6.3v7h-6.3zM182.5 279.8h6.3v7h-6.3zM188.5 279.8h6.3v7h-6.3zM253.8 293h6.3v7h-6.3zM259.8 293h6.3v7h-6.3zM265.7 293h6.3v7h-6.3zM271.7 293h6.3v7h-6.3zM277.6 293h6.3v7h-6.3zM283.6 293h6.3v7h-6.3zM289.5 293h6.3v7h-6.3zM182.5 299.7h6.3v7h-6.3zM188.5 299.7h6.3v7h-6.3zM194.4 299.7h6.3v7h-6.3zM117.1 193.6h6.3v7h-6.3zM123.1 200.2h6.3v7h-6.3zM129 193.6h6.3v7h-6.3zM140.9 299.7h6.3v7h-6.3zM158.7 200.2h6.3v7h-6.3zM170.6 220.1h6.3v7h-6.3z"/><path fill="#ff6c6c" d="M182.5 206.8h6.3v7h-6.3zM188.5 206.8h6.3v7h-6.3zM194.4 206.8h6.3v7h-6.3zM200.3 206.8h6.3v7h-6.3zM206.3 206.8h6.3v7h-6.3zM212.2 206.8h6.3v7h-6.3zM218.2 206.8h6.3v7h-6.3zM224.1 206.8h6.3v7h-6.3zM301.4 206.8h6.3v7h-6.3zM188.5 213.4h6.3v7h-6.3zM194.4 213.4h6.3v7h-6.3zM200.3 220.1h6.3v7h-6.3zM224.1 233.3h6.3v7h-6.3zM241.9 240h6.3v7h-6.3zM247.9 246.6h6.3v7h-6.3zM230.1 266.5h6.3v7h-6.3zM218.2 273.1h6.3v7h-6.3zM212.2 279.8h6.3v7h-6.3zM188.5 286.4h6.3v7h-6.3zM194.4 286.4h6.3v7h-6.3zM200.3 286.4h6.3v7h-6.3zM206.3 286.4h6.3v7h-6.3zM212.2 286.4h6.3v7h-6.3zM253.8 286.4h6.3v7h-6.3zM259.8 286.4h6.3v7h-6.3zM265.7 286.4h6.3v7h-6.3zM271.7 286.4h6.3v7h-6.3zM277.6 286.4h6.3v7h-6.3zM283.6 286.4h6.3v7h-6.3zM289.5 286.4h6.3v7h-6.3z"/><path fill="#ff8282" d="M230.1 206.8h6.3v7h-6.3zM236 206.8h6.3v7h-6.3zM295.4 206.8h6.3v7h-6.3zM182.5 213.4h6.3v7h-6.3zM194.4 220.1h6.3v7h-6.3zM236 240h6.3v7h-6.3zM224.1 266.5h6.3v7h-6.3zM200.3 279.8h6.3v7h-6.3zM206.3 279.8h6.3v7h-6.3zM182.5 286.4h6.3v7h-6.3zM182.5 293h6.3v7h-6.3zM188.5 293h6.3v7h-6.3zM194.4 293h6.3v7h-6.3zM200.3 293h6.3v7h-6.3zM206.3 293h6.3v7h-6.3zM212.2 293h6.3v7h-6.3zM218.2 293h6.3v7h-6.3zM224.1 293h6.3v7h-6.3zM230.1 293h6.3v7h-6.3zM236 293h6.3v7h-6.3z"/><path fill="#ff9c9c" d="M241.9 206.8h6.3v7h-6.3zM247.9 206.8h6.3v7h-6.3zM253.8 206.8h6.3v7h-6.3zM259.8 206.8h6.3v7h-6.3zM188.5 220.1h6.3v7h-6.3zM206.3 226.7h6.3v7h-6.3zM212.2 226.7h6.3v7h-6.3zM218.2 233.3h6.3v7h-6.3zM230.1 240h6.3v7h-6.3zM236 246.6h6.3v7h-6.3zM241.9 246.6h6.3v7h-6.3zM236 253.2h6.3v7h-6.3zM241.9 253.2h6.3v7h-6.3zM236 259.9h6.3v7h-6.3zM241.9 259.9h6.3v7h-6.3zM212.2 266.5h6.3v7h-6.3zM218.2 266.5h6.3v7h-6.3zM206.3 273.1h6.3v7h-6.3zM212.2 273.1h6.3v7h-6.3zM194.4 279.8h6.3v7h-6.3zM241.9 293h6.3v7h-6.3zM247.9 293h6.3v7h-6.3zM295.4 293h6.3v7h-6.3zM301.4 293h6.3v7h-6.3zM176.6 213.4h6.3v7h-6.3z"/><path fill="#f05252" d="M200.3 213.4h6.3v7h-6.3zM206.3 213.4h6.3v7h-6.3zM212.2 213.4h6.3v7h-6.3zM218.2 213.4h6.3v7h-6.3zM206.3 220.1h6.3v7h-6.3zM212.2 220.1h6.3v7h-6.3zM218.2 226.7h6.3v7h-6.3zM230.1 233.3h6.3v7h-6.3zM236 233.3h6.3v7h-6.3zM247.9 240h6.3v7h-6.3zM253.8 246.6h6.3v7h-6.3zM247.9 253.2h6.3v7h-6.3zM247.9 259.9h6.3v7h-6.3zM236 266.5h6.3v7h-6.3zM241.9 266.5h6.3v7h-6.3zM224.1 273.1h6.3v7h-6.3zM218.2 279.8h6.3v7h-6.3zM218.2 286.4h6.3v7h-6.3zM241.9 286.4h6.3v7h-6.3zM247.9 286.4h6.3v7h-6.3zM295.4 286.4h6.3v7h-6.3z"/><path fill="#ee6548" d="M224.1 213.4h6.3v7h-6.3zM230.1 213.4h6.3v7h-6.3zM236 213.4h6.3v7h-6.3zM241.9 213.4h6.3v7h-6.3zM247.9 213.4h6.3v7h-6.3zM253.8 213.4h6.3v7h-6.3zM259.8 213.4h6.3v7h-6.3zM265.7 213.4h6.3v7h-6.3zM271.7 213.4h6.3v7h-6.3zM218.2 220.1h6.3v7h-6.3zM224.1 226.7h6.3v7h-6.3zM241.9 233.3h6.3v7h-6.3zM253.8 253.2h6.3v7h-6.3zM230.1 273.1h6.3v7h-6.3zM236 286.4h6.3v7h-6.3z"/><path fill="#f28c42" d="M277.6 213.4h6.3v7h-6.3zM283.6 213.4h6.3v7h-6.3zM289.5 213.4h6.3v7h-6.3zM224.1 220.1h6.3v7h-6.3zM230.1 220.1h6.3v7h-6.3zM230.1 226.7h6.3v7h-6.3zM253.8 240h6.3v7h-6.3zM259.8 246.6h6.3v7h-6.3zM253.8 259.9h6.3v7h-6.3zM247.9 266.5h6.3v7h-6.3zM236 273.1h6.3v7h-6.3zM224.1 279.8h6.3v7h-6.3zM230.1 279.8h6.3v7h-6.3zM236 279.8h6.3v7h-6.3zM241.9 279.8h6.3v7h-6.3zM224.1 286.4h6.3v7h-6.3zM230.1 286.4h6.3v7h-6.3zM301.4 286.4h6.3v7h-6.3z"/><path fill="#f8b14f" d="M295.4 213.4h6.3v7h-6.3zM301.4 213.4h6.3v7h-6.3zM236 220.1h6.3v7h-6.3zM241.9 220.1h6.3v7h-6.3zM247.9 220.1h6.3v7h-6.3zM236 226.7h6.3v7h-6.3zM241.9 226.7h6.3v7h-6.3zM247.9 233.3h6.3v7h-6.3zM259.8 253.2h6.3v7h-6.3zM259.8 259.9h6.3v7h-6.3zM241.9 273.1h6.3v7h-6.3zM247.9 279.8h6.3v7h-6.3z"/><path fill="#f6d46a" d="M253.8 220.1h6.3v7h-6.3zM247.9 226.7h6.3v7h-6.3zM259.8 240h6.3v7h-6.3zM265.7 246.6h6.3v7h-6.3zM265.7 253.2h6.3v7h-6.3zM265.7 259.9h6.3v7h-6.3zM253.8 266.5h6.3v7h-6.3zM247.9 273.1h6.3v7h-6.3zM253.8 279.8h6.3v7h-6.3zM259.8 279.8h6.3v7h-6.3zM265.7 279.8h6.3v7h-6.3zM271.7 279.8h6.3v7h-6.3zM277.6 279.8h6.3v7h-6.3zM283.6 279.8h6.3v7h-6.3zM289.5 279.8h6.3v7h-6.3z"/><path fill="#eaee84" d="M259.8 220.1h6.3v7h-6.3zM265.7 220.1h6.3v7h-6.3zM253.8 226.7h6.3v7h-6.3zM253.8 233.3h6.3v7h-6.3zM265.7 240h6.3v7h-6.3zM271.7 253.2h6.3v7h-6.3zM271.7 259.9h6.3v7h-6.3zM259.8 266.5h6.3v7h-6.3zM253.8 273.1h6.3v7h-6.3zM259.8 273.1h6.3v7h-6.3z"/><path fill="#c6f49f" d="M271.7 220.1h6.3v7h-6.3zM277.6 220.1h6.3v7h-6.3zM283.6 220.1h6.3v7h-6.3zM289.5 220.1h6.3v7h-6.3zM259.8 226.7h6.3v7h-6.3zM259.8 233.3h6.3v7h-6.3zM271.7 240h6.3v7h-6.3zM271.7 246.6h6.3v7h-6.3zM265.7 266.5h6.3v7h-6.3zM265.7 273.1h6.3v7h-6.3zM271.7 273.1h6.3v7h-6.3zM295.4 279.8h6.3v7h-6.3z"/><path fill="#77e0c9" d="M295.4 220.1h6.3v7h-6.3zM271.7 226.7h6.3v7h-6.3zM271.7 233.3h6.3v7h-6.3zM271.7 266.5h6.3v7h-6.3zM277.6 273.1h6.3v7h-6.3z"/><path fill="#22a6f2" d="M301.4 220.1h6.3v7h-6.3zM289.5 226.7h6.3v7h-6.3zM277.6 233.3h6.3v7h-6.3zM283.6 246.6h6.3v7h-6.3zM283.6 266.5h6.3v7h-6.3z"/><path fill="#96e8b2" d="M265.7 226.7h6.3v7h-6.3zM265.7 233.3h6.3v7h-6.3zM301.4 279.8h6.3v7h-6.3z"/><path fill="#62d8e2" d="M277.6 226.7h6.3v7h-6.3zM277.6 240h6.3v7h-6.3zM277.6 246.6h6.3v7h-6.3zM277.6 253.2h6.3v7h-6.3zM277.6 259.9h6.3v7h-6.3zM277.6 266.5h6.3v7h-6.3zM283.6 273.1h6.3v7h-6.3z"/><path fill="#46c6f6" d="M283.6 226.7h6.3v7h-6.3zM289.5 273.1h6.3v7h-6.3z"/><path fill="#0814c0" d="M295.4 226.7h6.3v7h-6.3zM289.5 233.3h6.3v7h-6.3zM289.5 240h6.3v7h-6.3zM289.5 246.6h6.3v7h-6.3zM289.5 253.2h6.3v7h-6.3zM301.4 273.1h6.3v7h-6.3z"/><path fill="#000080" d="M301.4 226.7h6.3v7h-6.3zM295.4 233.3h6.3v7h-6.3zM301.4 233.3h6.3v7h-6.3zM295.4 240h6.3v7h-6.3zM301.4 240h6.3v7h-6.3zM295.4 246.6h6.3v7h-6.3zM301.4 246.6h6.3v7h-6.3zM295.4 253.2h6.3v7h-6.3zM301.4 253.2h6.3v7h-6.3zM289.5 259.9h6.3v7h-6.3zM295.4 259.9h6.3v7h-6.3zM301.4 259.9h6.3v7h-6.3zM295.4 266.5h6.3v7h-6.3zM301.4 266.5h6.3v7h-6.3z"/><path fill="#1e6ee6" d="M283.6 233.3h6.3v7h-6.3zM283.6 240h6.3v7h-6.3zM283.6 253.2h6.3v7h-6.3zM283.6 259.9h6.3v7h-6.3zM295.4 273.1h6.3v7h-6.3z"/><path fill="#1034d2" d="M289.5 266.5h6.3v7h-6.3z"/><path fill="#fffbfb" d="M182.5 147.1h6.3v7h-6.3zM188.5 147.1h6.3v7h-6.3zM194.4 147.1h6.3v7h-6.3zM200.3 147.1h6.3v7h-6.3zM206.3 147.1h6.3v7h-6.3zM212.2 147.1h6.3v7h-6.3zM218.2 147.1h6.3v7h-6.3zM224.1 147.1h6.3v7h-6.3zM230.1 147.1h6.3v7h-6.3zM236 147.1h6.3v7h-6.3zM241.9 147.1h6.3v7h-6.3zM247.9 147.1h6.3v7h-6.3zM253.8 147.1h6.3v7h-6.3zM259.8 147.1h6.3v7h-6.3zM265.7 147.1h6.3v7h-6.3zM271.7 147.1h6.3v7h-6.3zM277.6 147.1h6.3v7h-6.3zM283.6 147.1h6.3v7h-6.3zM289.5 147.1h6.3v7h-6.3zM295.4 147.1h6.3v7h-6.3zM301.4 147.1h6.3v7h-6.3zM182.5 140.5h6.3v7h-6.3zM188.5 140.5h6.3v7h-6.3zM194.4 140.5h6.3v7h-6.3zM200.3 140.5h6.3v7h-6.3zM206.3 140.5h6.3v7h-6.3zM212.2 140.5h6.3v7h-6.3zM218.2 140.5h6.3v7h-6.3zM224.1 140.5h6.3v7h-6.3zM230.1 140.5h6.3v7h-6.3zM236 140.5h6.3v7h-6.3zM241.9 140.5h6.3v7h-6.3zM247.9 140.5h6.3v7h-6.3zM253.8 140.5h6.3v7h-6.3zM259.8 140.5h6.3v7h-6.3zM265.7 140.5h6.3v7h-6.3zM271.7 140.5h6.3v7h-6.3zM277.6 140.5h6.3v7h-6.3zM283.6 140.5h6.3v7h-6.3zM289.5 140.5h6.3v7h-6.3zM295.4 140.5h6.3v7h-6.3zM301.4 140.5h6.3v7h-6.3z"/><path fill="#fff1f1" d="M69.6 140.5h6.3v7h-6.3zM69.6 200.2h6.3v7h-6.3zM75.5 140.5h6.3v7h-6.3zM75.5 293h6.3v7h-6.3zM87.4 206.8h6.3v7h-6.3zM93.3 147.1h6.3v7h-6.3zM99.3 286.4h6.3v7h-6.3zM111.2 153.8h6.3v7h-6.3zM123.1 279.8h6.3v7h-6.3zM123.1 339.4h6.3v7h-6.3zM129 160.4h6.3v7h-6.3zM135 160.4h6.3v7h-6.3zM140.9 273.1h6.3v7h-6.3zM146.8 332.8h6.3v7h-6.3zM152.8 167h6.3v7h-6.3zM152.8 332.8h6.3v7h-6.3zM158.7 266.5h6.3v7h-6.3zM170.6 173.7h6.3v7h-6.3zM176.6 326.2h6.3v7h-6.3z"/><path fill="#ffebeb" d="M69.6 147.1h6.3v7h-6.3zM81.5 200.2h6.3v7h-6.3zM87.4 153.8h6.3v7h-6.3zM93.3 293h6.3v7h-6.3zM99.3 206.8h6.3v7h-6.3zM99.3 339.4h6.3v7h-6.3zM105.2 160.4h6.3v7h-6.3zM117.1 213.4h6.3v7h-6.3zM129 167h6.3v7h-6.3zM129 332.8h6.3v7h-6.3zM135 220.1h6.3v7h-6.3zM135 279.8h6.3v7h-6.3zM146.8 173.7h6.3v7h-6.3zM152.8 226.7h6.3v7h-6.3zM152.8 273.1h6.3v7h-6.3zM158.7 326.2h6.3v7h-6.3zM164.7 180.3h6.3v7h-6.3zM170.6 180.3h6.3v7h-6.3z"/><path fill="#ffe8e8" d="M69.6 153.8h6.3v7h-6.3zM69.6 193.6h6.3v7h-6.3zM81.5 299.7h6.3v7h-6.3zM87.4 160.4h6.3v7h-6.3zM87.4 200.2h6.3v7h-6.3zM87.4 339.4h6.3v7h-6.3zM93.3 160.4h6.3v7h-6.3zM105.2 206.8h6.3v7h-6.3zM111.2 167h6.3v7h-6.3zM117.1 332.8h6.3v7h-6.3zM123.1 213.4h6.3v7h-6.3zM123.1 286.4h6.3v7h-6.3zM135 173.7h6.3v7h-6.3zM140.9 220.1h6.3v7h-6.3zM140.9 279.8h6.3v7h-6.3zM146.8 326.2h6.3v7h-6.3zM152.8 180.3h6.3v7h-6.3zM158.7 226.7h6.3v7h-6.3zM158.7 273.1h6.3v7h-6.3zM176.6 186.9h6.3v7h-6.3zM176.6 233.3h6.3v7h-6.3zM176.6 319.5h6.3v7h-6.3z"/><path fill="#ffd9d9" d="M69.6 167h6.3v7h-6.3zM69.6 186.9h6.3v7h-6.3zM69.6 326.2h6.3v7h-6.3zM75.5 312.9h6.3v7h-6.3zM75.5 326.2h6.3v7h-6.3zM81.5 312.9h6.3v7h-6.3zM93.3 306.3h6.3v7h-6.3zM123.1 293h6.3v7h-6.3zM129 319.5h6.3v7h-6.3zM135 213.4h6.3v7h-6.3zM135 319.5h6.3v7h-6.3zM152.8 220.1h6.3v7h-6.3zM164.7 193.6h6.3v7h-6.3zM170.6 226.7h6.3v7h-6.3zM176.6 312.9h6.3v7h-6.3z"/><path fill="#ffd0d0" d="M69.6 173.7h6.3v7h-6.3zM75.5 173.7h6.3v7h-6.3zM93.3 193.6h6.3v7h-6.3zM105.2 180.3h6.3v7h-6.3zM111.2 306.3h6.3v7h-6.3zM111.2 312.9h6.3v7h-6.3zM117.1 312.9h6.3v7h-6.3zM129 186.9h6.3v7h-6.3zM146.8 286.4h6.3v7h-6.3zM146.8 312.9h6.3v7h-6.3zM152.8 193.6h6.3v7h-6.3zM152.8 312.9h6.3v7h-6.3zM158.7 220.1h6.3v7h-6.3zM176.6 200.2h6.3v7h-6.3zM176.6 226.7h6.3v7h-6.3z"/><path fill="#fecdcd" d="M69.6 180.3h6.3v7h-6.3zM81.5 186.9h6.3v7h-6.3zM99.3 180.3h6.3v7h-6.3zM111.2 200.2h6.3v7h-6.3zM117.1 306.3h6.3v7h-6.3zM123.1 299.7h6.3v7h-6.3zM123.1 312.9h6.3v7h-6.3zM129 312.9h6.3v7h-6.3zM135 293h6.3v7h-6.3zM135 312.9h6.3v7h-6.3zM140.9 312.9h6.3v7h-6.3zM164.7 279.8h6.3v7h-6.3z"/><path fill="#fff9f9" d="M69.6 213.4h6.3v7h-6.3zM69.6 220.1h6.3v7h-6.3zM69.6 226.7h6.3v7h-6.3zM69.6 233.3h6.3v7h-6.3zM69.6 240h6.3v7h-6.3zM69.6 246.6h6.3v7h-6.3zM69.6 253.2h6.3v7h-6.3zM69.6 259.9h6.3v7h-6.3zM69.6 266.5h6.3v7h-6.3zM69.6 273.1h6.3v7h-6.3zM69.6 279.8h6.3v7h-6.3zM75.5 213.4h6.3v7h-6.3zM75.5 220.1h6.3v7h-6.3zM75.5 226.7h6.3v7h-6.3zM75.5 233.3h6.3v7h-6.3zM75.5 240h6.3v7h-6.3zM75.5 246.6h6.3v7h-6.3zM75.5 253.2h6.3v7h-6.3zM75.5 259.9h6.3v7h-6.3zM75.5 266.5h6.3v7h-6.3zM75.5 273.1h6.3v7h-6.3zM75.5 279.8h6.3v7h-6.3zM81.5 220.1h6.3v7h-6.3zM81.5 226.7h6.3v7h-6.3zM81.5 233.3h6.3v7h-6.3zM81.5 240h6.3v7h-6.3zM81.5 246.6h6.3v7h-6.3zM81.5 253.2h6.3v7h-6.3zM81.5 259.9h6.3v7h-6.3zM81.5 266.5h6.3v7h-6.3zM81.5 273.1h6.3v7h-6.3zM87.4 220.1h6.3v7h-6.3zM87.4 226.7h6.3v7h-6.3zM87.4 233.3h6.3v7h-6.3zM87.4 240h6.3v7h-6.3zM87.4 246.6h6.3v7h-6.3zM87.4 253.2h6.3v7h-6.3zM87.4 259.9h6.3v7h-6.3zM87.4 266.5h6.3v7h-6.3zM87.4 273.1h6.3v7h-6.3zM93.3 220.1h6.3v7h-6.3zM93.3 226.7h6.3v7h-6.3zM93.3 233.3h6.3v7h-6.3zM93.3 240h6.3v7h-6.3zM93.3 246.6h6.3v7h-6.3zM93.3 253.2h6.3v7h-6.3zM93.3 259.9h6.3v7h-6.3zM93.3 266.5h6.3v7h-6.3zM93.3 273.1h6.3v7h-6.3zM99.3 226.7h6.3v7h-6.3zM99.3 233.3h6.3v7h-6.3zM99.3 240h6.3v7h-6.3zM99.3 246.6h6.3v7h-6.3zM99.3 253.2h6.3v7h-6.3zM99.3 259.9h6.3v7h-6.3zM99.3 266.5h6.3v7h-6.3zM99.3 273.1h6.3v7h-6.3zM105.2 226.7h6.3v7h-6.3zM105.2 233.3h6.3v7h-6.3zM105.2 240h6.3v7h-6.3zM105.2 246.6h6.3v7h-6.3zM105.2 253.2h6.3v7h-6.3zM105.2 259.9h6.3v7h-6.3zM105.2 266.5h6.3v7h-6.3zM111.2 226.7h6.3v7h-6.3zM111.2 233.3h6.3v7h-6.3zM111.2 240h6.3v7h-6.3zM111.2 246.6h6.3v7h-6.3zM111.2 253.2h6.3v7h-6.3zM111.2 259.9h6.3v7h-6.3zM111.2 266.5h6.3v7h-6.3zM117.1 233.3h6.3v7h-6.3zM117.1 240h6.3v7h-6.3zM117.1 246.6h6.3v7h-6.3zM117.1 253.2h6.3v7h-6.3zM117.1 259.9h6.3v7h-6.3zM117.1 266.5h6.3v7h-6.3zM123.1 140.5h6.3v7h-6.3zM123.1 233.3h6.3v7h-6.3zM123.1 240h6.3v7h-6.3zM123.1 246.6h6.3v7h-6.3zM123.1 253.2h6.3v7h-6.3zM123.1 259.9h6.3v7h-6.3zM123.1 266.5h6.3v7h-6.3zM129 140.5h6.3v7h-6.3zM129 233.3h6.3v7h-6.3zM129 240h6.3v7h-6.3zM129 246.6h6.3v7h-6.3zM129 253.2h6.3v7h-6.3zM129 259.9h6.3v7h-6.3zM135 140.5h6.3v7h-6.3zM135 233.3h6.3v7h-6.3zM135 240h6.3v7h-6.3zM135 246.6h6.3v7h-6.3zM135 253.2h6.3v7h-6.3zM135 259.9h6.3v7h-6.3zM140.9 140.5h6.3v7h-6.3zM140.9 240h6.3v7h-6.3zM140.9 246.6h6.3v7h-6.3zM140.9 253.2h6.3v7h-6.3zM140.9 259.9h6.3v7h-6.3zM146.8 140.5h6.3v7h-6.3zM146.8 147.1h6.3v7h-6.3zM146.8 240h6.3v7h-6.3zM146.8 246.6h6.3v7h-6.3zM146.8 253.2h6.3v7h-6.3zM152.8 140.5h6.3v7h-6.3zM152.8 147.1h6.3v7h-6.3zM152.8 240h6.3v7h-6.3zM152.8 246.6h6.3v7h-6.3zM152.8 253.2h6.3v7h-6.3zM158.7 140.5h6.3v7h-6.3zM158.7 147.1h6.3v7h-6.3zM158.7 246.6h6.3v7h-6.3zM158.7 253.2h6.3v7h-6.3zM164.7 140.5h6.3v7h-6.3zM164.7 147.1h6.3v7h-6.3zM164.7 153.8h6.3v7h-6.3zM164.7 246.6h6.3v7h-6.3zM164.7 253.2h6.3v7h-6.3zM170.6 140.5h6.3v7h-6.3zM170.6 147.1h6.3v7h-6.3zM170.6 153.8h6.3v7h-6.3zM176.6 140.5h6.3v7h-6.3zM176.6 147.1h6.3v7h-6.3zM176.6 153.8h6.3v7h-6.3zM176.6 339.4h6.3v7h-6.3z"/><path fill="#fff3f3" d="M69.6 293h6.3v7h-6.3zM81.5 140.5h6.3v7h-6.3zM93.3 286.4h6.3v7h-6.3zM99.3 147.1h6.3v7h-6.3zM105.2 147.1h6.3v7h-6.3zM105.2 213.4h6.3v7h-6.3zM111.2 279.8h6.3v7h-6.3zM117.1 153.8h6.3v7h-6.3zM117.1 279.8h6.3v7h-6.3zM123.1 153.8h6.3v7h-6.3zM123.1 220.1h6.3v7h-6.3zM129 339.4h6.3v7h-6.3zM135 273.1h6.3v7h-6.3zM135 339.4h6.3v7h-6.3zM140.9 160.4h6.3v7h-6.3zM140.9 226.7h6.3v7h-6.3zM146.8 160.4h6.3v7h-6.3zM152.8 266.5h6.3v7h-6.3zM158.7 167h6.3v7h-6.3zM158.7 233.3h6.3v7h-6.3zM158.7 332.8h6.3v7h-6.3zM164.7 167h6.3v7h-6.3zM176.6 173.7h6.3v7h-6.3zM176.6 240h6.3v7h-6.3zM176.6 259.9h6.3v7h-6.3z"/><path fill="#ffeded" d="M69.6 299.7h6.3v7h-6.3zM75.5 147.1h6.3v7h-6.3zM87.4 293h6.3v7h-6.3zM93.3 153.8h6.3v7h-6.3zM105.2 339.4h6.3v7h-6.3zM111.2 160.4h6.3v7h-6.3zM111.2 286.4h6.3v7h-6.3zM111.2 339.4h6.3v7h-6.3zM117.1 160.4h6.3v7h-6.3zM129 279.8h6.3v7h-6.3zM135 167h6.3v7h-6.3zM135 332.8h6.3v7h-6.3zM152.8 173.7h6.3v7h-6.3zM158.7 173.7h6.3v7h-6.3zM164.7 326.2h6.3v7h-6.3zM170.6 233.3h6.3v7h-6.3zM170.6 266.5h6.3v7h-6.3zM176.6 180.3h6.3v7h-6.3z"/><path fill="#ffe4e4" d="M69.6 306.3h6.3v7h-6.3zM69.6 339.4h6.3v7h-6.3zM75.5 160.4h6.3v7h-6.3zM75.5 193.6h6.3v7h-6.3zM99.3 167h6.3v7h-6.3zM99.3 332.8h6.3v7h-6.3zM117.1 173.7h6.3v7h-6.3zM135 326.2h6.3v7h-6.3zM140.9 180.3h6.3v7h-6.3zM146.8 279.8h6.3v7h-6.3zM164.7 186.9h6.3v7h-6.3zM164.7 273.1h6.3v7h-6.3zM164.7 319.5h6.3v7h-6.3z"/><path fill="#ffdcdc" d="M69.6 312.9h6.3v7h-6.3zM75.5 167h6.3v7h-6.3zM81.5 326.2h6.3v7h-6.3zM87.4 306.3h6.3v7h-6.3zM87.4 326.2h6.3v7h-6.3zM93.3 326.2h6.3v7h-6.3zM99.3 173.7h6.3v7h-6.3zM99.3 200.2h6.3v7h-6.3zM99.3 326.2h6.3v7h-6.3zM105.2 299.7h6.3v7h-6.3zM117.1 206.8h6.3v7h-6.3zM123.1 180.3h6.3v7h-6.3zM140.9 319.5h6.3v7h-6.3zM146.8 186.9h6.3v7h-6.3z"/><path fill="#ffd7d7" d="M69.6 319.5h6.3v7h-6.3zM75.5 319.5h6.3v7h-6.3zM81.5 319.5h6.3v7h-6.3zM87.4 193.6h6.3v7h-6.3zM87.4 312.9h6.3v7h-6.3zM87.4 319.5h6.3v7h-6.3zM93.3 173.7h6.3v7h-6.3zM93.3 319.5h6.3v7h-6.3zM99.3 306.3h6.3v7h-6.3zM99.3 319.5h6.3v7h-6.3zM105.2 319.5h6.3v7h-6.3zM111.2 299.7h6.3v7h-6.3zM111.2 319.5h6.3v7h-6.3zM117.1 180.3h6.3v7h-6.3zM117.1 319.5h6.3v7h-6.3zM123.1 319.5h6.3v7h-6.3zM140.9 186.9h6.3v7h-6.3zM140.9 286.4h6.3v7h-6.3zM158.7 279.8h6.3v7h-6.3zM170.6 312.9h6.3v7h-6.3zM176.6 273.1h6.3v7h-6.3z"/><path fill="#ffdede" d="M69.6 332.8h6.3v7h-6.3zM75.5 332.8h6.3v7h-6.3zM81.5 167h6.3v7h-6.3zM81.5 193.6h6.3v7h-6.3zM105.2 173.7h6.3v7h-6.3zM105.2 326.2h6.3v7h-6.3zM111.2 326.2h6.3v7h-6.3zM117.1 293h6.3v7h-6.3zM129 180.3h6.3v7h-6.3zM135 286.4h6.3v7h-6.3zM146.8 319.5h6.3v7h-6.3zM152.8 279.8h6.3v7h-6.3zM170.6 193.6h6.3v7h-6.3zM170.6 273.1h6.3v7h-6.3z"/><path fill="#ffe9e9" d="M75.5 153.8h6.3v7h-6.3zM75.5 299.7h6.3v7h-6.3zM81.5 153.8h6.3v7h-6.3zM93.3 339.4h6.3v7h-6.3zM99.3 160.4h6.3v7h-6.3zM99.3 293h6.3v7h-6.3zM117.1 167h6.3v7h-6.3zM117.1 286.4h6.3v7h-6.3zM123.1 167h6.3v7h-6.3zM123.1 332.8h6.3v7h-6.3zM140.9 173.7h6.3v7h-6.3zM152.8 326.2h6.3v7h-6.3zM158.7 180.3h6.3v7h-6.3zM176.6 266.5h6.3v7h-6.3z"/><path fill="#fdcaca" d="M75.5 180.3h6.3v7h-6.3zM93.3 180.3h6.3v7h-6.3zM123.1 186.9h6.3v7h-6.3zM129 206.8h6.3v7h-6.3zM146.8 193.6h6.3v7h-6.3zM170.6 200.2h6.3v7h-6.3z"/><path fill="#fff5f5" d="M75.5 206.8h6.3v7h-6.3zM81.5 206.8h6.3v7h-6.3zM81.5 286.4h6.3v7h-6.3zM87.4 140.5h6.3v7h-6.3zM87.4 286.4h6.3v7h-6.3zM93.3 140.5h6.3v7h-6.3zM93.3 213.4h6.3v7h-6.3zM99.3 140.5h6.3v7h-6.3zM99.3 213.4h6.3v7h-6.3zM105.2 279.8h6.3v7h-6.3zM111.2 147.1h6.3v7h-6.3zM117.1 147.1h6.3v7h-6.3zM117.1 220.1h6.3v7h-6.3zM123.1 273.1h6.3v7h-6.3zM129 153.8h6.3v7h-6.3zM129 273.1h6.3v7h-6.3zM135 153.8h6.3v7h-6.3zM135 226.7h6.3v7h-6.3zM140.9 339.4h6.3v7h-6.3zM146.8 266.5h6.3v7h-6.3zM146.8 339.4h6.3v7h-6.3zM152.8 160.4h6.3v7h-6.3zM152.8 233.3h6.3v7h-6.3zM158.7 160.4h6.3v7h-6.3zM164.7 259.9h6.3v7h-6.3zM164.7 332.8h6.3v7h-6.3zM170.6 167h6.3v7h-6.3zM170.6 240h6.3v7h-6.3zM170.6 259.9h6.3v7h-6.3zM170.6 332.8h6.3v7h-6.3zM176.6 167h6.3v7h-6.3zM176.6 332.8h6.3v7h-6.3z"/><path fill="#ffe6e6" d="M75.5 339.4h6.3v7h-6.3zM81.5 160.4h6.3v7h-6.3zM81.5 339.4h6.3v7h-6.3zM87.4 299.7h6.3v7h-6.3zM105.2 167h6.3v7h-6.3zM105.2 293h6.3v7h-6.3zM105.2 332.8h6.3v7h-6.3zM111.2 332.8h6.3v7h-6.3zM123.1 173.7h6.3v7h-6.3zM129 173.7h6.3v7h-6.3zM140.9 326.2h6.3v7h-6.3zM146.8 180.3h6.3v7h-6.3zM170.6 186.9h6.3v7h-6.3zM170.6 319.5h6.3v7h-6.3z"/><path fill="#fcc7c7" d="M81.5 180.3h6.3v7h-6.3zM87.4 180.3h6.3v7h-6.3zM87.4 186.9h6.3v7h-6.3zM99.3 193.6h6.3v7h-6.3zM123.1 306.3h6.3v7h-6.3zM129 299.7h6.3v7h-6.3zM146.8 213.4h6.3v7h-6.3zM152.8 286.4h6.3v7h-6.3zM164.7 220.1h6.3v7h-6.3z"/><path fill="#ffe0e0" d="M81.5 306.3h6.3v7h-6.3zM81.5 332.8h6.3v7h-6.3zM87.4 167h6.3v7h-6.3zM99.3 299.7h6.3v7h-6.3zM111.2 173.7h6.3v7h-6.3zM117.1 326.2h6.3v7h-6.3zM152.8 186.9h6.3v7h-6.3zM152.8 319.5h6.3v7h-6.3zM176.6 193.6h6.3v7h-6.3z"/><path fill="#ffd5d5" d="M87.4 173.7h6.3v7h-6.3zM93.3 312.9h6.3v7h-6.3zM105.2 200.2h6.3v7h-6.3zM111.2 180.3h6.3v7h-6.3zM129 293h6.3v7h-6.3zM135 186.9h6.3v7h-6.3zM158.7 193.6h6.3v7h-6.3zM164.7 312.9h6.3v7h-6.3z"/><path fill="#fbc4c4" d="M93.3 186.9h6.3v7h-6.3zM117.1 186.9h6.3v7h-6.3zM117.1 200.2h6.3v7h-6.3zM129 306.3h6.3v7h-6.3zM140.9 193.6h6.3v7h-6.3zM140.9 293h6.3v7h-6.3zM170.6 279.8h6.3v7h-6.3zM176.6 306.3h6.3v7h-6.3z"/><path fill="#fac0c0" d="M99.3 186.9h6.3v7h-6.3zM105.2 186.9h6.3v7h-6.3zM105.2 193.6h6.3v7h-6.3zM111.2 186.9h6.3v7h-6.3zM135 206.8h6.3v7h-6.3zM135 299.7h6.3v7h-6.3zM135 306.3h6.3v7h-6.3zM140.9 306.3h6.3v7h-6.3zM164.7 200.2h6.3v7h-6.3zM170.6 306.3h6.3v7h-6.3z"/><path fill="#f9bdbd" d="M111.2 193.6h6.3v7h-6.3zM135 193.6h6.3v7h-6.3zM146.8 293h6.3v7h-6.3zM146.8 306.3h6.3v7h-6.3zM152.8 213.4h6.3v7h-6.3zM152.8 306.3h6.3v7h-6.3zM158.7 286.4h6.3v7h-6.3zM158.7 306.3h6.3v7h-6.3zM164.7 306.3h6.3v7h-6.3z"/><path fill="#f9b6b6" d="M123.1 193.6h6.3v7h-6.3zM129 200.2h6.3v7h-6.3zM140.9 206.8h6.3v7h-6.3zM152.8 200.2h6.3v7h-6.3zM176.6 279.8h6.3v7h-6.3z"/><path fill="#fbafaf" d="M135 200.2h6.3v7h-6.3zM140.9 200.2h6.3v7h-6.3zM146.8 200.2h6.3v7h-6.3zM146.8 206.8h6.3v7h-6.3zM152.8 299.7h6.3v7h-6.3zM158.7 213.4h6.3v7h-6.3zM164.7 286.4h6.3v7h-6.3z"/><path fill="#fab3b3" d="M146.8 299.7h6.3v7h-6.3zM152.8 293h6.3v7h-6.3zM176.6 206.8h6.3v7h-6.3z"/><path fill="#fda7a7" d="M152.8 206.8h6.3v7h-6.3zM158.7 206.8h6.3v7h-6.3zM158.7 293h6.3v7h-6.3zM164.7 206.8h6.3v7h-6.3zM164.7 213.4h6.3v7h-6.3zM164.7 299.7h6.3v7h-6.3z"/><path fill="#fcabab" d="M158.7 299.7h6.3v7h-6.3zM170.6 206.8h6.3v7h-6.3zM176.6 220.1h6.3v7h-6.3z"/><path fill="#ffa0a0" d="M164.7 293h6.3v7h-6.3zM170.6 213.4h6.3v7h-6.3z"/><path fill="#fea4a4" d="M170.6 286.4h6.3v7h-6.3zM170.6 299.7h6.3v7h-6.3zM176.6 299.7h6.3v7h-6.3z"/><path fill="#ff9898" d="M170.6 293h6.3v7h-6.3z"/><path fill="#ff9595" d="M176.6 286.4h6.3v7h-6.3z"/><path fill="#ff9191" d="M176.6 293h6.3v7h-6.3z"/></g>
<clipPath id="cp3"><rect x="412.5" y="436.8" width="121.8" height="299.5"/></clipPath><g clip-path="url(#cp3)" shape-rendering="crispEdges"><path fill="#fff7f7" d="M481.9 449.4h6.3v10.4h-6.3zM487.8 449.4h6.3v10.4h-6.3zM493.8 449.4h6.3v10.4h-6.3zM499.7 449.4h6.3v10.4h-6.3zM505.6 449.4h6.3v10.4h-6.3zM511.5 449.4h6.3v10.4h-6.3zM517.5 449.4h6.3v10.4h-6.3zM523.4 449.4h6.3v10.4h-6.3zM529.3 449.4h6.3v10.4h-6.3zM410.7 459.4h6.3v10.4h-6.3zM416.7 459.4h6.3v10.4h-6.3zM422.6 459.4h6.3v10.4h-6.3zM428.5 459.4h6.3v10.4h-6.3zM434.5 459.4h6.3v10.4h-6.3zM440.4 459.4h6.3v10.4h-6.3zM446.3 459.4h6.3v10.4h-6.3zM452.2 459.4h6.3v10.4h-6.3zM458.2 459.4h6.3v10.4h-6.3zM464.1 459.4h6.3v10.4h-6.3zM410.7 469.3h6.3v10.4h-6.3zM416.7 469.3h6.3v10.4h-6.3zM422.6 469.3h6.3v10.4h-6.3zM428.5 469.3h6.3v10.4h-6.3zM434.5 469.3h6.3v10.4h-6.3zM440.4 469.3h6.3v10.4h-6.3zM446.3 469.3h6.3v10.4h-6.3zM452.2 469.3h6.3v10.4h-6.3zM458.2 469.3h6.3v10.4h-6.3zM464.1 469.3h6.3v10.4h-6.3zM470 469.3h6.3v10.4h-6.3zM410.7 479.3h6.3v10.4h-6.3zM416.7 479.3h6.3v10.4h-6.3zM422.6 479.3h6.3v10.4h-6.3zM428.5 479.3h6.3v10.4h-6.3zM434.5 479.3h6.3v10.4h-6.3zM440.4 479.3h6.3v10.4h-6.3zM446.3 479.3h6.3v10.4h-6.3zM452.2 479.3h6.3v10.4h-6.3zM410.7 489.3h6.3v10.4h-6.3zM416.7 489.3h6.3v10.4h-6.3zM422.6 489.3h6.3v10.4h-6.3zM428.5 489.3h6.3v10.4h-6.3zM434.5 489.3h6.3v10.4h-6.3zM440.4 489.3h6.3v10.4h-6.3zM446.3 489.3h6.3v10.4h-6.3zM452.2 489.3h6.3v10.4h-6.3zM458.2 489.3h6.3v10.4h-6.3zM464.1 489.3h6.3v10.4h-6.3zM470 489.3h6.3v10.4h-6.3zM446.3 499.2h6.3v10.4h-6.3zM452.2 499.2h6.3v10.4h-6.3zM458.2 499.2h6.3v10.4h-6.3zM464.1 499.2h6.3v10.4h-6.3zM470 499.2h6.3v10.4h-6.3zM410.7 688.7h6.3v10.4h-6.3zM416.7 688.7h6.3v10.4h-6.3zM422.6 688.7h6.3v10.4h-6.3zM428.5 688.7h6.3v10.4h-6.3zM434.5 688.7h6.3v10.4h-6.3zM440.4 688.7h6.3v10.4h-6.3zM446.3 688.7h6.3v10.4h-6.3zM452.2 688.7h6.3v10.4h-6.3zM410.7 698.6h6.3v10.4h-6.3zM416.7 698.6h6.3v10.4h-6.3zM422.6 698.6h6.3v10.4h-6.3zM428.5 698.6h6.3v10.4h-6.3zM434.5 698.6h6.3v10.4h-6.3zM440.4 698.6h6.3v10.4h-6.3zM446.3 698.6h6.3v10.4h-6.3zM452.2 698.6h6.3v10.4h-6.3zM458.2 698.6h6.3v10.4h-6.3zM464.1 698.6h6.3v10.4h-6.3zM410.7 708.6h6.3v10.4h-6.3zM416.7 708.6h6.3v10.4h-6.3zM422.6 708.6h6.3v10.4h-6.3zM428.5 708.6h6.3v10.4h-6.3zM434.5 708.6h6.3v10.4h-6.3zM440.4 708.6h6.3v10.4h-6.3zM446.3 708.6h6.3v10.4h-6.3zM452.2 708.6h6.3v10.4h-6.3zM458.2 708.6h6.3v10.4h-6.3zM464.1 708.6h6.3v10.4h-6.3zM470 708.6h6.3v10.4h-6.3zM410.7 718.6h6.3v10.4h-6.3zM416.7 718.6h6.3v10.4h-6.3zM422.6 718.6h6.3v10.4h-6.3zM428.5 718.6h6.3v10.4h-6.3zM434.5 718.6h6.3v10.4h-6.3zM440.4 718.6h6.3v10.4h-6.3zM446.3 718.6h6.3v10.4h-6.3zM452.2 718.6h6.3v10.4h-6.3zM458.2 718.6h6.3v10.4h-6.3zM464.1 718.6h6.3v10.4h-6.3zM470 718.6h6.3v10.4h-6.3zM476 718.6h6.3v10.4h-6.3z"/><path fill="#ffefef" d="M470 459.4h6.3v10.4h-6.3zM476 459.4h6.3v10.4h-6.3zM481.9 459.4h6.3v10.4h-6.3zM487.8 459.4h6.3v10.4h-6.3zM493.8 459.4h6.3v10.4h-6.3zM499.7 459.4h6.3v10.4h-6.3zM505.6 459.4h6.3v10.4h-6.3zM511.5 459.4h6.3v10.4h-6.3zM517.5 459.4h6.3v10.4h-6.3zM523.4 459.4h6.3v10.4h-6.3zM529.3 459.4h6.3v10.4h-6.3zM476 469.3h6.3v10.4h-6.3zM481.9 469.3h6.3v10.4h-6.3zM487.8 469.3h6.3v10.4h-6.3zM493.8 469.3h6.3v10.4h-6.3zM499.7 469.3h6.3v10.4h-6.3zM505.6 469.3h6.3v10.4h-6.3zM511.5 469.3h6.3v10.4h-6.3zM517.5 469.3h6.3v10.4h-6.3zM523.4 469.3h6.3v10.4h-6.3zM529.3 469.3h6.3v10.4h-6.3zM458.2 479.3h6.3v10.4h-6.3zM464.1 479.3h6.3v10.4h-6.3zM470 479.3h6.3v10.4h-6.3zM476 479.3h6.3v10.4h-6.3zM481.9 479.3h6.3v10.4h-6.3zM487.8 479.3h6.3v10.4h-6.3zM493.8 479.3h6.3v10.4h-6.3zM499.7 479.3h6.3v10.4h-6.3zM505.6 479.3h6.3v10.4h-6.3zM511.5 479.3h6.3v10.4h-6.3zM517.5 479.3h6.3v10.4h-6.3zM523.4 479.3h6.3v10.4h-6.3zM529.3 479.3h6.3v10.4h-6.3zM476 489.3h6.3v10.4h-6.3zM481.9 489.3h6.3v10.4h-6.3zM487.8 489.3h6.3v10.4h-6.3zM493.8 489.3h6.3v10.4h-6.3zM499.7 489.3h6.3v10.4h-6.3zM505.6 489.3h6.3v10.4h-6.3zM511.5 489.3h6.3v10.4h-6.3zM517.5 489.3h6.3v10.4h-6.3zM523.4 489.3h6.3v10.4h-6.3zM410.7 499.2h6.3v10.4h-6.3zM416.7 499.2h6.3v10.4h-6.3zM422.6 499.2h6.3v10.4h-6.3zM428.5 499.2h6.3v10.4h-6.3zM434.5 499.2h6.3v10.4h-6.3zM440.4 499.2h6.3v10.4h-6.3zM476 499.2h6.3v10.4h-6.3zM481.9 499.2h6.3v10.4h-6.3zM487.8 499.2h6.3v10.4h-6.3zM493.8 499.2h6.3v10.4h-6.3zM499.7 499.2h6.3v10.4h-6.3zM505.6 499.2h6.3v10.4h-6.3zM410.7 668.7h6.3v10.4h-6.3zM416.7 668.7h6.3v10.4h-6.3zM422.6 668.7h6.3v10.4h-6.3zM428.5 668.7h6.3v10.4h-6.3zM434.5 668.7h6.3v10.4h-6.3zM440.4 668.7h6.3v10.4h-6.3zM446.3 668.7h6.3v10.4h-6.3zM452.2 668.7h6.3v10.4h-6.3zM458.2 668.7h6.3v10.4h-6.3zM464.1 668.7h6.3v10.4h-6.3zM470 668.7h6.3v10.4h-6.3zM476 668.7h6.3v10.4h-6.3zM481.9 668.7h6.3v10.4h-6.3zM487.8 668.7h6.3v10.4h-6.3zM410.7 678.7h6.3v10.4h-6.3zM416.7 678.7h6.3v10.4h-6.3zM422.6 678.7h6.3v10.4h-6.3zM428.5 678.7h6.3v10.4h-6.3zM434.5 678.7h6.3v10.4h-6.3zM440.4 678.7h6.3v10.4h-6.3zM446.3 678.7h6.3v10.4h-6.3zM452.2 678.7h6.3v10.4h-6.3zM458.2 678.7h6.3v10.4h-6.3zM464.1 678.7h6.3v10.4h-6.3zM470 678.7h6.3v10.4h-6.3zM476 678.7h6.3v10.4h-6.3zM481.9 678.7h6.3v10.4h-6.3zM487.8 678.7h6.3v10.4h-6.3zM493.8 678.7h6.3v10.4h-6.3zM499.7 678.7h6.3v10.4h-6.3zM505.6 678.7h6.3v10.4h-6.3zM511.5 678.7h6.3v10.4h-6.3zM517.5 678.7h6.3v10.4h-6.3zM523.4 678.7h6.3v10.4h-6.3zM529.3 678.7h6.3v10.4h-6.3zM458.2 688.7h6.3v10.4h-6.3zM464.1 688.7h6.3v10.4h-6.3zM470 688.7h6.3v10.4h-6.3zM476 688.7h6.3v10.4h-6.3zM481.9 688.7h6.3v10.4h-6.3zM487.8 688.7h6.3v10.4h-6.3zM493.8 688.7h6.3v10.4h-6.3zM499.7 688.7h6.3v10.4h-6.3zM505.6 688.7h6.3v10.4h-6.3zM511.5 688.7h6.3v10.4h-6.3zM517.5 688.7h6.3v10.4h-6.3zM523.4 688.7h6.3v10.4h-6.3zM529.3 688.7h6.3v10.4h-6.3zM470 698.6h6.3v10.4h-6.3zM476 698.6h6.3v10.4h-6.3zM481.9 698.6h6.3v10.4h-6.3zM487.8 698.6h6.3v10.4h-6.3zM493.8 698.6h6.3v10.4h-6.3zM499.7 698.6h6.3v10.4h-6.3zM505.6 698.6h6.3v10.4h-6.3zM511.5 698.6h6.3v10.4h-6.3zM517.5 698.6h6.3v10.4h-6.3zM523.4 698.6h6.3v10.4h-6.3zM529.3 698.6h6.3v10.4h-6.3zM476 708.6h6.3v10.4h-6.3zM481.9 708.6h6.3v10.4h-6.3zM487.8 708.6h6.3v10.4h-6.3zM493.8 708.6h6.3v10.4h-6.3zM499.7 708.6h6.3v10.4h-6.3zM505.6 708.6h6.3v10.4h-6.3zM511.5 708.6h6.3v10.4h-6.3zM517.5 708.6h6.3v10.4h-6.3zM523.4 708.6h6.3v10.4h-6.3zM529.3 708.6h6.3v10.4h-6.3zM481.9 718.6h6.3v10.4h-6.3zM487.8 718.6h6.3v10.4h-6.3zM493.8 718.6h6.3v10.4h-6.3zM499.7 718.6h6.3v10.4h-6.3zM505.6 718.6h6.3v10.4h-6.3zM511.5 718.6h6.3v10.4h-6.3zM517.5 718.6h6.3v10.4h-6.3zM523.4 718.6h6.3v10.4h-6.3zM529.3 718.6h6.3v10.4h-6.3z"/><path fill="#ffe2e2" d="M529.3 489.3h6.3v10.4h-6.3zM511.5 499.2h6.3v10.4h-6.3zM517.5 499.2h6.3v10.4h-6.3zM523.4 499.2h6.3v10.4h-6.3zM529.3 499.2h6.3v10.4h-6.3zM410.7 509.2h6.3v10.4h-6.3zM416.7 509.2h6.3v10.4h-6.3zM422.6 509.2h6.3v10.4h-6.3zM428.5 509.2h6.3v10.4h-6.3zM434.5 509.2h6.3v10.4h-6.3zM440.4 509.2h6.3v10.4h-6.3zM446.3 509.2h6.3v10.4h-6.3zM452.2 509.2h6.3v10.4h-6.3zM458.2 509.2h6.3v10.4h-6.3zM464.1 509.2h6.3v10.4h-6.3zM470 509.2h6.3v10.4h-6.3zM476 509.2h6.3v10.4h-6.3zM481.9 509.2h6.3v10.4h-6.3zM487.8 509.2h6.3v10.4h-6.3zM493.8 509.2h6.3v10.4h-6.3zM499.7 509.2h6.3v10.4h-6.3zM505.6 509.2h6.3v10.4h-6.3zM410.7 648.8h6.3v10.4h-6.3zM416.7 648.8h6.3v10.4h-6.3zM422.6 648.8h6.3v10.4h-6.3zM428.5 648.8h6.3v10.4h-6.3zM434.5 648.8h6.3v10.4h-6.3zM440.4 648.8h6.3v10.4h-6.3zM446.3 648.8h6.3v10.4h-6.3zM452.2 648.8h6.3v10.4h-6.3zM458.2 648.8h6.3v10.4h-6.3zM464.1 648.8h6.3v10.4h-6.3zM470 648.8h6.3v10.4h-6.3zM476 648.8h6.3v10.4h-6.3zM481.9 648.8h6.3v10.4h-6.3zM487.8 648.8h6.3v10.4h-6.3zM493.8 648.8h6.3v10.4h-6.3zM410.7 658.8h6.3v10.4h-6.3zM416.7 658.8h6.3v10.4h-6.3zM422.6 658.8h6.3v10.4h-6.3zM428.5 658.8h6.3v10.4h-6.3zM434.5 658.8h6.3v10.4h-6.3zM440.4 658.8h6.3v10.4h-6.3zM446.3 658.8h6.3v10.4h-6.3zM452.2 658.8h6.3v10.4h-6.3zM458.2 658.8h6.3v10.4h-6.3zM464.1 658.8h6.3v10.4h-6.3zM470 658.8h6.3v10.4h-6.3zM476 658.8h6.3v10.4h-6.3zM481.9 658.8h6.3v10.4h-6.3zM487.8 658.8h6.3v10.4h-6.3zM493.8 658.8h6.3v10.4h-6.3zM499.7 658.8h6.3v10.4h-6.3zM505.6 658.8h6.3v10.4h-6.3zM511.5 658.8h6.3v10.4h-6.3zM517.5 658.8h6.3v10.4h-6.3zM523.4 658.8h6.3v10.4h-6.3zM529.3 658.8h6.3v10.4h-6.3zM493.8 668.7h6.3v10.4h-6.3zM499.7 668.7h6.3v10.4h-6.3zM505.6 668.7h6.3v10.4h-6.3zM511.5 668.7h6.3v10.4h-6.3zM517.5 668.7h6.3v10.4h-6.3zM523.4 668.7h6.3v10.4h-6.3zM529.3 668.7h6.3v10.4h-6.3z"/><path fill="#ffd3d3" d="M511.5 509.2h6.3v10.4h-6.3zM517.5 509.2h6.3v10.4h-6.3zM523.4 509.2h6.3v10.4h-6.3zM529.3 509.2h6.3v10.4h-6.3zM410.7 519.2h6.3v10.4h-6.3zM416.7 519.2h6.3v10.4h-6.3zM422.6 519.2h6.3v10.4h-6.3zM428.5 519.2h6.3v10.4h-6.3zM434.5 519.2h6.3v10.4h-6.3zM440.4 519.2h6.3v10.4h-6.3zM446.3 519.2h6.3v10.4h-6.3zM452.2 519.2h6.3v10.4h-6.3zM458.2 519.2h6.3v10.4h-6.3zM464.1 519.2h6.3v10.4h-6.3zM470 519.2h6.3v10.4h-6.3zM476 519.2h6.3v10.4h-6.3zM481.9 519.2h6.3v10.4h-6.3zM487.8 519.2h6.3v10.4h-6.3zM493.8 519.2h6.3v10.4h-6.3zM499.7 519.2h6.3v10.4h-6.3zM505.6 519.2h6.3v10.4h-6.3zM511.5 519.2h6.3v10.4h-6.3zM517.5 519.2h6.3v10.4h-6.3zM523.4 519.2h6.3v10.4h-6.3zM529.3 519.2h6.3v10.4h-6.3zM410.7 559.1h6.3v10.4h-6.3zM410.7 569h6.3v10.4h-6.3zM416.7 569h6.3v10.4h-6.3zM410.7 579h6.3v10.4h-6.3zM416.7 579h6.3v10.4h-6.3zM410.7 589h6.3v10.4h-6.3zM416.7 589h6.3v10.4h-6.3zM410.7 598.9h6.3v10.4h-6.3zM416.7 598.9h6.3v10.4h-6.3zM410.7 608.9h6.3v10.4h-6.3zM410.7 618.9h6.3v10.4h-6.3zM410.7 638.8h6.3v10.4h-6.3zM416.7 638.8h6.3v10.4h-6.3zM422.6 638.8h6.3v10.4h-6.3zM428.5 638.8h6.3v10.4h-6.3zM434.5 638.8h6.3v10.4h-6.3zM440.4 638.8h6.3v10.4h-6.3zM446.3 638.8h6.3v10.4h-6.3zM481.9 638.8h6.3v10.4h-6.3zM487.8 638.8h6.3v10.4h-6.3zM499.7 648.8h6.3v10.4h-6.3zM505.6 648.8h6.3v10.4h-6.3zM511.5 648.8h6.3v10.4h-6.3zM517.5 648.8h6.3v10.4h-6.3zM523.4 648.8h6.3v10.4h-6.3zM529.3 648.8h6.3v10.4h-6.3z"/><path fill="#f8baba" d="M410.7 529.1h6.3v10.4h-6.3zM416.7 529.1h6.3v10.4h-6.3zM422.6 529.1h6.3v10.4h-6.3zM428.5 529.1h6.3v10.4h-6.3zM434.5 529.1h6.3v10.4h-6.3zM440.4 529.1h6.3v10.4h-6.3zM446.3 529.1h6.3v10.4h-6.3zM452.2 529.1h6.3v10.4h-6.3zM458.2 529.1h6.3v10.4h-6.3zM464.1 529.1h6.3v10.4h-6.3zM470 529.1h6.3v10.4h-6.3zM476 529.1h6.3v10.4h-6.3zM481.9 529.1h6.3v10.4h-6.3zM487.8 529.1h6.3v10.4h-6.3zM493.8 529.1h6.3v10.4h-6.3zM499.7 529.1h6.3v10.4h-6.3zM410.7 539.1h6.3v10.4h-6.3zM416.7 539.1h6.3v10.4h-6.3zM410.7 549.1h6.3v10.4h-6.3zM416.7 559.1h6.3v10.4h-6.3zM422.6 569h6.3v10.4h-6.3zM422.6 579h6.3v10.4h-6.3zM422.6 589h6.3v10.4h-6.3zM422.6 598.9h6.3v10.4h-6.3zM416.7 608.9h6.3v10.4h-6.3zM416.7 618.9h6.3v10.4h-6.3zM410.7 628.8h6.3v10.4h-6.3zM416.7 628.8h6.3v10.4h-6.3zM452.2 638.8h6.3v10.4h-6.3zM458.2 638.8h6.3v10.4h-6.3zM464.1 638.8h6.3v10.4h-6.3zM470 638.8h6.3v10.4h-6.3zM476 638.8h6.3v10.4h-6.3zM493.8 638.8h6.3v10.4h-6.3zM499.7 638.8h6.3v10.4h-6.3zM505.6 638.8h6.3v10.4h-6.3zM511.5 638.8h6.3v10.4h-6.3zM517.5 638.8h6.3v10.4h-6.3zM523.4 638.8h6.3v10.4h-6.3z"/><path fill="#ff9c9c" d="M505.6 529.1h6.3v10.4h-6.3zM422.6 539.1h6.3v10.4h-6.3zM428.5 539.1h6.3v10.4h-6.3zM416.7 549.1h6.3v10.4h-6.3zM422.6 559.1h6.3v10.4h-6.3zM428.5 569h6.3v10.4h-6.3zM428.5 579h6.3v10.4h-6.3zM428.5 589h6.3v10.4h-6.3zM428.5 598.9h6.3v10.4h-6.3zM422.6 608.9h6.3v10.4h-6.3zM422.6 618.9h6.3v10.4h-6.3zM422.6 628.8h6.3v10.4h-6.3zM428.5 628.8h6.3v10.4h-6.3zM529.3 638.8h6.3v10.4h-6.3z"/><path fill="#ff8282" d="M511.5 529.1h6.3v10.4h-6.3zM517.5 529.1h6.3v10.4h-6.3zM434.5 539.1h6.3v10.4h-6.3zM422.6 549.1h6.3v10.4h-6.3zM434.5 579h6.3v10.4h-6.3zM434.5 589h6.3v10.4h-6.3zM434.5 598.9h6.3v10.4h-6.3zM428.5 608.9h6.3v10.4h-6.3zM428.5 618.9h6.3v10.4h-6.3zM434.5 628.8h6.3v10.4h-6.3zM440.4 628.8h6.3v10.4h-6.3zM446.3 628.8h6.3v10.4h-6.3zM481.9 628.8h6.3v10.4h-6.3z"/><path fill="#ff6c6c" d="M523.4 529.1h6.3v10.4h-6.3zM529.3 529.1h6.3v10.4h-6.3zM440.4 539.1h6.3v10.4h-6.3zM446.3 539.1h6.3v10.4h-6.3zM452.2 539.1h6.3v10.4h-6.3zM458.2 539.1h6.3v10.4h-6.3zM428.5 549.1h6.3v10.4h-6.3zM428.5 559.1h6.3v10.4h-6.3zM434.5 569h6.3v10.4h-6.3zM434.5 608.9h6.3v10.4h-6.3zM434.5 618.9h6.3v10.4h-6.3zM452.2 628.8h6.3v10.4h-6.3zM458.2 628.8h6.3v10.4h-6.3zM464.1 628.8h6.3v10.4h-6.3zM470 628.8h6.3v10.4h-6.3zM476 628.8h6.3v10.4h-6.3zM487.8 628.8h6.3v10.4h-6.3z"/><path fill="#f05252" d="M464.1 539.1h6.3v10.4h-6.3zM470 539.1h6.3v10.4h-6.3zM476 539.1h6.3v10.4h-6.3zM499.7 539.1h6.3v10.4h-6.3zM434.5 549.1h6.3v10.4h-6.3zM434.5 559.1h6.3v10.4h-6.3zM440.4 569h6.3v10.4h-6.3zM440.4 579h6.3v10.4h-6.3zM440.4 589h6.3v10.4h-6.3zM440.4 598.9h6.3v10.4h-6.3zM440.4 608.9h6.3v10.4h-6.3zM440.4 618.9h6.3v10.4h-6.3zM446.3 618.9h6.3v10.4h-6.3zM493.8 628.8h6.3v10.4h-6.3zM499.7 628.8h6.3v10.4h-6.3zM505.6 628.8h6.3v10.4h-6.3z"/><path fill="#ee6548" d="M481.9 539.1h6.3v10.4h-6.3zM493.8 539.1h6.3v10.4h-6.3zM440.4 549.1h6.3v10.4h-6.3zM446.3 549.1h6.3v10.4h-6.3zM440.4 559.1h6.3v10.4h-6.3zM446.3 608.9h6.3v10.4h-6.3zM452.2 618.9h6.3v10.4h-6.3zM511.5 628.8h6.3v10.4h-6.3zM517.5 628.8h6.3v10.4h-6.3z"/><path fill="#f28c42" d="M487.8 539.1h6.3v10.4h-6.3zM505.6 539.1h6.3v10.4h-6.3zM452.2 549.1h6.3v10.4h-6.3zM446.3 559.1h6.3v10.4h-6.3zM446.3 569h6.3v10.4h-6.3zM446.3 579h6.3v10.4h-6.3zM446.3 589h6.3v10.4h-6.3zM446.3 598.9h6.3v10.4h-6.3zM452.2 608.9h6.3v10.4h-6.3zM458.2 618.9h6.3v10.4h-6.3zM464.1 618.9h6.3v10.4h-6.3zM470 618.9h6.3v10.4h-6.3zM523.4 628.8h6.3v10.4h-6.3zM529.3 628.8h6.3v10.4h-6.3z"/><path fill="#f8b14f" d="M511.5 539.1h6.3v10.4h-6.3zM458.2 549.1h6.3v10.4h-6.3zM452.2 559.1h6.3v10.4h-6.3zM458.2 608.9h6.3v10.4h-6.3zM476 618.9h6.3v10.4h-6.3zM481.9 618.9h6.3v10.4h-6.3zM487.8 618.9h6.3v10.4h-6.3z"/><path fill="#f6d46a" d="M517.5 539.1h6.3v10.4h-6.3zM523.4 539.1h6.3v10.4h-6.3zM464.1 549.1h6.3v10.4h-6.3zM452.2 569h6.3v10.4h-6.3zM452.2 579h6.3v10.4h-6.3zM452.2 589h6.3v10.4h-6.3zM452.2 598.9h6.3v10.4h-6.3zM464.1 608.9h6.3v10.4h-6.3zM493.8 618.9h6.3v10.4h-6.3zM499.7 618.9h6.3v10.4h-6.3z"/><path fill="#eaee84" d="M529.3 539.1h6.3v10.4h-6.3zM470 549.1h6.3v10.4h-6.3zM476 549.1h6.3v10.4h-6.3zM481.9 549.1h6.3v10.4h-6.3zM487.8 549.1h6.3v10.4h-6.3zM493.8 549.1h6.3v10.4h-6.3zM499.7 549.1h6.3v10.4h-6.3zM458.2 559.1h6.3v10.4h-6.3zM458.2 598.9h6.3v10.4h-6.3zM470 608.9h6.3v10.4h-6.3zM505.6 618.9h6.3v10.4h-6.3z"/><path fill="#77e0c9" d="M505.6 549.1h6.3v10.4h-6.3zM470 559.1h6.3v10.4h-6.3zM464.1 569h6.3v10.4h-6.3zM464.1 579h6.3v10.4h-6.3zM464.1 589h6.3v10.4h-6.3zM470 598.9h6.3v10.4h-6.3zM487.8 608.9h6.3v10.4h-6.3zM493.8 608.9h6.3v10.4h-6.3zM499.7 608.9h6.3v10.4h-6.3z"/><path fill="#22a6f2" d="M511.5 549.1h6.3v10.4h-6.3zM517.5 549.1h6.3v10.4h-6.3zM487.8 559.1h6.3v10.4h-6.3zM493.8 559.1h6.3v10.4h-6.3zM476 569h6.3v10.4h-6.3zM476 579h6.3v10.4h-6.3zM476 589h6.3v10.4h-6.3zM487.8 598.9h6.3v10.4h-6.3zM505.6 608.9h6.3v10.4h-6.3z"/><path fill="#1e6ee6" d="M523.4 549.1h6.3v10.4h-6.3zM529.3 549.1h6.3v10.4h-6.3zM481.9 569h6.3v10.4h-6.3zM481.9 579h6.3v10.4h-6.3zM481.9 589h6.3v10.4h-6.3z"/><path fill="#c6f49f" d="M464.1 559.1h6.3v10.4h-6.3zM458.2 569h6.3v10.4h-6.3zM458.2 579h6.3v10.4h-6.3zM458.2 589h6.3v10.4h-6.3zM476 608.9h6.3v10.4h-6.3zM511.5 618.9h6.3v10.4h-6.3zM517.5 618.9h6.3v10.4h-6.3zM523.4 618.9h6.3v10.4h-6.3zM529.3 618.9h6.3v10.4h-6.3z"/><path fill="#62d8e2" d="M476 559.1h6.3v10.4h-6.3zM470 589h6.3v10.4h-6.3zM476 598.9h6.3v10.4h-6.3z"/><path fill="#46c6f6" d="M481.9 559.1h6.3v10.4h-6.3zM470 569h6.3v10.4h-6.3zM470 579h6.3v10.4h-6.3zM481.9 598.9h6.3v10.4h-6.3z"/><path fill="#0814c0" d="M499.7 559.1h6.3v10.4h-6.3zM487.8 569h6.3v10.4h-6.3zM493.8 569h6.3v10.4h-6.3zM493.8 579h6.3v10.4h-6.3zM487.8 589h6.3v10.4h-6.3zM499.7 598.9h6.3v10.4h-6.3z"/><path fill="#000080" d="M505.6 559.1h6.3v10.4h-6.3zM511.5 559.1h6.3v10.4h-6.3zM517.5 559.1h6.3v10.4h-6.3zM523.4 559.1h6.3v10.4h-6.3zM529.3 559.1h6.3v10.4h-6.3zM499.7 569h6.3v10.4h-6.3zM505.6 569h6.3v10.4h-6.3zM511.5 569h6.3v10.4h-6.3zM517.5 569h6.3v10.4h-6.3zM523.4 569h6.3v10.4h-6.3zM529.3 569h6.3v10.4h-6.3zM499.7 579h6.3v10.4h-6.3zM505.6 579h6.3v10.4h-6.3zM511.5 579h6.3v10.4h-6.3zM517.5 579h6.3v10.4h-6.3zM523.4 579h6.3v10.4h-6.3zM529.3 579h6.3v10.4h-6.3zM499.7 589h6.3v10.4h-6.3zM505.6 589h6.3v10.4h-6.3zM511.5 589h6.3v10.4h-6.3zM517.5 589h6.3v10.4h-6.3zM523.4 589h6.3v10.4h-6.3zM529.3 589h6.3v10.4h-6.3zM505.6 598.9h6.3v10.4h-6.3zM511.5 598.9h6.3v10.4h-6.3zM517.5 598.9h6.3v10.4h-6.3zM523.4 598.9h6.3v10.4h-6.3zM529.3 598.9h6.3v10.4h-6.3z"/><path fill="#1034d2" d="M487.8 579h6.3v10.4h-6.3zM493.8 598.9h6.3v10.4h-6.3zM511.5 608.9h6.3v10.4h-6.3zM517.5 608.9h6.3v10.4h-6.3zM523.4 608.9h6.3v10.4h-6.3zM529.3 608.9h6.3v10.4h-6.3z"/><path fill="#0808a1" d="M493.8 589h6.3v10.4h-6.3z"/><path fill="#96e8b2" d="M464.1 598.9h6.3v10.4h-6.3zM481.9 608.9h6.3v10.4h-6.3z"/></g>
<clipPath id="cp4"><rect x="59" y="429.6" width="313.4" height="311.7"/></clipPath><g clip-path="url(#cp4)" shape-rendering="crispEdges"><path fill="#fff7f7" d="M259.8 544.1h6.3v7h-6.3zM265.7 544.1h6.3v7h-6.3zM271.7 544.1h6.3v7h-6.3zM277.6 544.1h6.3v7h-6.3zM283.6 544.1h6.3v7h-6.3zM289.5 544.1h6.3v7h-6.3zM295.4 544.1h6.3v7h-6.3zM301.4 544.1h6.3v7h-6.3zM188.5 550.7h6.3v7h-6.3zM194.4 550.7h6.3v7h-6.3zM200.3 550.7h6.3v7h-6.3zM206.3 550.7h6.3v7h-6.3zM212.2 550.7h6.3v7h-6.3zM218.2 550.7h6.3v7h-6.3zM224.1 550.7h6.3v7h-6.3zM230.1 550.7h6.3v7h-6.3zM236 550.7h6.3v7h-6.3zM241.9 550.7h6.3v7h-6.3zM188.5 557.4h6.3v7h-6.3zM194.4 557.4h6.3v7h-6.3zM200.3 557.4h6.3v7h-6.3zM206.3 557.4h6.3v7h-6.3zM212.2 557.4h6.3v7h-6.3zM218.2 557.4h6.3v7h-6.3zM224.1 557.4h6.3v7h-6.3zM230.1 557.4h6.3v7h-6.3zM236 557.4h6.3v7h-6.3zM241.9 557.4h6.3v7h-6.3zM247.9 557.4h6.3v7h-6.3zM188.5 564h6.3v7h-6.3zM194.4 564h6.3v7h-6.3zM200.3 564h6.3v7h-6.3zM206.3 564h6.3v7h-6.3zM212.2 564h6.3v7h-6.3zM218.2 564h6.3v7h-6.3zM224.1 564h6.3v7h-6.3zM230.1 564h6.3v7h-6.3zM188.5 570.6h6.3v7h-6.3zM194.4 570.6h6.3v7h-6.3zM200.3 570.6h6.3v7h-6.3zM206.3 570.6h6.3v7h-6.3zM212.2 570.6h6.3v7h-6.3zM218.2 570.6h6.3v7h-6.3zM224.1 570.6h6.3v7h-6.3zM230.1 570.6h6.3v7h-6.3zM236 570.6h6.3v7h-6.3zM241.9 570.6h6.3v7h-6.3zM247.9 570.6h6.3v7h-6.3zM224.1 577.2h6.3v7h-6.3zM230.1 577.2h6.3v7h-6.3zM236 577.2h6.3v7h-6.3zM241.9 577.2h6.3v7h-6.3zM247.9 577.2h6.3v7h-6.3zM188.5 703.1h6.3v7h-6.3zM194.4 703.1h6.3v7h-6.3zM200.3 703.1h6.3v7h-6.3zM206.3 703.1h6.3v7h-6.3zM212.2 703.1h6.3v7h-6.3zM218.2 703.1h6.3v7h-6.3zM224.1 703.1h6.3v7h-6.3zM230.1 703.1h6.3v7h-6.3zM188.5 709.7h6.3v7h-6.3zM194.4 709.7h6.3v7h-6.3zM200.3 709.7h6.3v7h-6.3zM206.3 709.7h6.3v7h-6.3zM212.2 709.7h6.3v7h-6.3zM218.2 709.7h6.3v7h-6.3zM224.1 709.7h6.3v7h-6.3zM230.1 709.7h6.3v7h-6.3zM236 709.7h6.3v7h-6.3zM241.9 709.7h6.3v7h-6.3zM188.5 716.3h6.3v7h-6.3zM194.4 716.3h6.3v7h-6.3zM200.3 716.3h6.3v7h-6.3zM206.3 716.3h6.3v7h-6.3zM212.2 716.3h6.3v7h-6.3zM218.2 716.3h6.3v7h-6.3zM224.1 716.3h6.3v7h-6.3zM230.1 716.3h6.3v7h-6.3zM236 716.3h6.3v7h-6.3zM241.9 716.3h6.3v7h-6.3zM247.9 716.3h6.3v7h-6.3zM188.5 722.9h6.3v7h-6.3zM194.4 722.9h6.3v7h-6.3zM200.3 722.9h6.3v7h-6.3zM206.3 722.9h6.3v7h-6.3zM212.2 722.9h6.3v7h-6.3zM218.2 722.9h6.3v7h-6.3zM224.1 722.9h6.3v7h-6.3zM230.1 722.9h6.3v7h-6.3zM236 722.9h6.3v7h-6.3zM241.9 722.9h6.3v7h-6.3zM247.9 722.9h6.3v7h-6.3zM253.8 722.9h6.3v7h-6.3zM182.5 550.7h6.3v7h-6.3zM182.5 557.4h6.3v7h-6.3zM182.5 564h6.3v7h-6.3zM182.5 570.6h6.3v7h-6.3zM182.5 703.1h6.3v7h-6.3zM182.5 709.7h6.3v7h-6.3zM182.5 716.3h6.3v7h-6.3zM182.5 722.9h6.3v7h-6.3zM69.6 683.2h6.3v7h-6.3zM81.5 590.5h6.3v7h-6.3zM87.4 544.1h6.3v7h-6.3zM87.4 676.6h6.3v7h-6.3zM93.3 544.1h6.3v7h-6.3zM93.3 676.6h6.3v7h-6.3zM99.3 544.1h6.3v7h-6.3zM99.3 597.1h6.3v7h-6.3zM105.2 669.9h6.3v7h-6.3zM111.2 550.7h6.3v7h-6.3zM111.2 669.9h6.3v7h-6.3zM117.1 550.7h6.3v7h-6.3zM123.1 550.7h6.3v7h-6.3zM123.1 603.7h6.3v7h-6.3zM123.1 663.3h6.3v7h-6.3zM135 557.4h6.3v7h-6.3zM140.9 557.4h6.3v7h-6.3zM140.9 610.3h6.3v7h-6.3zM140.9 656.7h6.3v7h-6.3zM140.9 716.3h6.3v7h-6.3zM146.8 557.4h6.3v7h-6.3zM146.8 716.3h6.3v7h-6.3zM158.7 564h6.3v7h-6.3zM158.7 617h6.3v7h-6.3zM158.7 650.1h6.3v7h-6.3zM164.7 564h6.3v7h-6.3zM164.7 709.7h6.3v7h-6.3zM170.6 709.7h6.3v7h-6.3zM176.6 570.6h6.3v7h-6.3zM176.6 643.5h6.3v7h-6.3z"/><path fill="#ffefef" d="M247.9 550.7h6.3v7h-6.3zM253.8 550.7h6.3v7h-6.3zM259.8 550.7h6.3v7h-6.3zM265.7 550.7h6.3v7h-6.3zM271.7 550.7h6.3v7h-6.3zM277.6 550.7h6.3v7h-6.3zM283.6 550.7h6.3v7h-6.3zM289.5 550.7h6.3v7h-6.3zM295.4 550.7h6.3v7h-6.3zM301.4 550.7h6.3v7h-6.3zM253.8 557.4h6.3v7h-6.3zM259.8 557.4h6.3v7h-6.3zM265.7 557.4h6.3v7h-6.3zM271.7 557.4h6.3v7h-6.3zM277.6 557.4h6.3v7h-6.3zM283.6 557.4h6.3v7h-6.3zM289.5 557.4h6.3v7h-6.3zM295.4 557.4h6.3v7h-6.3zM301.4 557.4h6.3v7h-6.3zM236 564h6.3v7h-6.3zM241.9 564h6.3v7h-6.3zM247.9 564h6.3v7h-6.3zM253.8 564h6.3v7h-6.3zM259.8 564h6.3v7h-6.3zM265.7 564h6.3v7h-6.3zM271.7 564h6.3v7h-6.3zM277.6 564h6.3v7h-6.3zM283.6 564h6.3v7h-6.3zM289.5 564h6.3v7h-6.3zM295.4 564h6.3v7h-6.3zM301.4 564h6.3v7h-6.3zM253.8 570.6h6.3v7h-6.3zM259.8 570.6h6.3v7h-6.3zM265.7 570.6h6.3v7h-6.3zM271.7 570.6h6.3v7h-6.3zM277.6 570.6h6.3v7h-6.3zM283.6 570.6h6.3v7h-6.3zM289.5 570.6h6.3v7h-6.3zM295.4 570.6h6.3v7h-6.3zM301.4 570.6h6.3v7h-6.3zM188.5 577.2h6.3v7h-6.3zM194.4 577.2h6.3v7h-6.3zM200.3 577.2h6.3v7h-6.3zM206.3 577.2h6.3v7h-6.3zM212.2 577.2h6.3v7h-6.3zM218.2 577.2h6.3v7h-6.3zM253.8 577.2h6.3v7h-6.3zM259.8 577.2h6.3v7h-6.3zM265.7 577.2h6.3v7h-6.3zM271.7 577.2h6.3v7h-6.3zM277.6 577.2h6.3v7h-6.3zM283.6 577.2h6.3v7h-6.3zM188.5 689.8h6.3v7h-6.3zM194.4 689.8h6.3v7h-6.3zM200.3 689.8h6.3v7h-6.3zM206.3 689.8h6.3v7h-6.3zM212.2 689.8h6.3v7h-6.3zM218.2 689.8h6.3v7h-6.3zM224.1 689.8h6.3v7h-6.3zM230.1 689.8h6.3v7h-6.3zM236 689.8h6.3v7h-6.3zM241.9 689.8h6.3v7h-6.3zM247.9 689.8h6.3v7h-6.3zM253.8 689.8h6.3v7h-6.3zM259.8 689.8h6.3v7h-6.3zM265.7 689.8h6.3v7h-6.3zM188.5 696.4h6.3v7h-6.3zM194.4 696.4h6.3v7h-6.3zM200.3 696.4h6.3v7h-6.3zM206.3 696.4h6.3v7h-6.3zM212.2 696.4h6.3v7h-6.3zM218.2 696.4h6.3v7h-6.3zM224.1 696.4h6.3v7h-6.3zM230.1 696.4h6.3v7h-6.3zM236 696.4h6.3v7h-6.3zM241.9 696.4h6.3v7h-6.3zM247.9 696.4h6.3v7h-6.3zM253.8 696.4h6.3v7h-6.3zM259.8 696.4h6.3v7h-6.3zM265.7 696.4h6.3v7h-6.3zM271.7 696.4h6.3v7h-6.3zM277.6 696.4h6.3v7h-6.3zM283.6 696.4h6.3v7h-6.3zM289.5 696.4h6.3v7h-6.3zM295.4 696.4h6.3v7h-6.3zM301.4 696.4h6.3v7h-6.3zM236 703.1h6.3v7h-6.3zM241.9 703.1h6.3v7h-6.3zM247.9 703.1h6.3v7h-6.3zM253.8 703.1h6.3v7h-6.3zM259.8 703.1h6.3v7h-6.3zM265.7 703.1h6.3v7h-6.3zM271.7 703.1h6.3v7h-6.3zM277.6 703.1h6.3v7h-6.3zM283.6 703.1h6.3v7h-6.3zM289.5 703.1h6.3v7h-6.3zM295.4 703.1h6.3v7h-6.3zM301.4 703.1h6.3v7h-6.3zM247.9 709.7h6.3v7h-6.3zM253.8 709.7h6.3v7h-6.3zM259.8 709.7h6.3v7h-6.3zM265.7 709.7h6.3v7h-6.3zM271.7 709.7h6.3v7h-6.3zM277.6 709.7h6.3v7h-6.3zM283.6 709.7h6.3v7h-6.3zM289.5 709.7h6.3v7h-6.3zM295.4 709.7h6.3v7h-6.3zM301.4 709.7h6.3v7h-6.3zM253.8 716.3h6.3v7h-6.3zM259.8 716.3h6.3v7h-6.3zM265.7 716.3h6.3v7h-6.3zM271.7 716.3h6.3v7h-6.3zM277.6 716.3h6.3v7h-6.3zM283.6 716.3h6.3v7h-6.3zM289.5 716.3h6.3v7h-6.3zM295.4 716.3h6.3v7h-6.3zM301.4 716.3h6.3v7h-6.3zM259.8 722.9h6.3v7h-6.3zM265.7 722.9h6.3v7h-6.3zM271.7 722.9h6.3v7h-6.3zM277.6 722.9h6.3v7h-6.3zM283.6 722.9h6.3v7h-6.3zM289.5 722.9h6.3v7h-6.3zM295.4 722.9h6.3v7h-6.3zM301.4 722.9h6.3v7h-6.3zM182.5 577.2h6.3v7h-6.3zM182.5 689.8h6.3v7h-6.3zM182.5 696.4h6.3v7h-6.3zM69.6 550.7h6.3v7h-6.3zM81.5 583.9h6.3v7h-6.3zM81.5 689.8h6.3v7h-6.3zM93.3 557.4h6.3v7h-6.3zM93.3 716.3h6.3v7h-6.3zM99.3 590.5h6.3v7h-6.3zM99.3 716.3h6.3v7h-6.3zM111.2 676.6h6.3v7h-6.3zM123.1 564h6.3v7h-6.3zM123.1 709.7h6.3v7h-6.3zM129 669.9h6.3v7h-6.3zM129 709.7h6.3v7h-6.3zM146.8 570.6h6.3v7h-6.3zM152.8 703.1h6.3v7h-6.3zM158.7 610.3h6.3v7h-6.3zM158.7 656.7h6.3v7h-6.3zM170.6 577.2h6.3v7h-6.3zM176.6 650.1h6.3v7h-6.3z"/><path fill="#ffe2e2" d="M289.5 577.2h6.3v7h-6.3zM295.4 577.2h6.3v7h-6.3zM301.4 577.2h6.3v7h-6.3zM188.5 583.9h6.3v7h-6.3zM194.4 583.9h6.3v7h-6.3zM200.3 583.9h6.3v7h-6.3zM206.3 583.9h6.3v7h-6.3zM212.2 583.9h6.3v7h-6.3zM218.2 583.9h6.3v7h-6.3zM224.1 583.9h6.3v7h-6.3zM230.1 583.9h6.3v7h-6.3zM236 583.9h6.3v7h-6.3zM241.9 583.9h6.3v7h-6.3zM247.9 583.9h6.3v7h-6.3zM253.8 583.9h6.3v7h-6.3zM259.8 583.9h6.3v7h-6.3zM265.7 583.9h6.3v7h-6.3zM271.7 583.9h6.3v7h-6.3zM277.6 583.9h6.3v7h-6.3zM283.6 583.9h6.3v7h-6.3zM188.5 676.6h6.3v7h-6.3zM194.4 676.6h6.3v7h-6.3zM200.3 676.6h6.3v7h-6.3zM206.3 676.6h6.3v7h-6.3zM212.2 676.6h6.3v7h-6.3zM218.2 676.6h6.3v7h-6.3zM224.1 676.6h6.3v7h-6.3zM230.1 676.6h6.3v7h-6.3zM236 676.6h6.3v7h-6.3zM241.9 676.6h6.3v7h-6.3zM247.9 676.6h6.3v7h-6.3zM253.8 676.6h6.3v7h-6.3zM259.8 676.6h6.3v7h-6.3zM265.7 676.6h6.3v7h-6.3zM271.7 676.6h6.3v7h-6.3zM188.5 683.2h6.3v7h-6.3zM194.4 683.2h6.3v7h-6.3zM200.3 683.2h6.3v7h-6.3zM206.3 683.2h6.3v7h-6.3zM212.2 683.2h6.3v7h-6.3zM218.2 683.2h6.3v7h-6.3zM224.1 683.2h6.3v7h-6.3zM230.1 683.2h6.3v7h-6.3zM236 683.2h6.3v7h-6.3zM241.9 683.2h6.3v7h-6.3zM247.9 683.2h6.3v7h-6.3zM253.8 683.2h6.3v7h-6.3zM259.8 683.2h6.3v7h-6.3zM265.7 683.2h6.3v7h-6.3zM271.7 683.2h6.3v7h-6.3zM277.6 683.2h6.3v7h-6.3zM283.6 683.2h6.3v7h-6.3zM289.5 683.2h6.3v7h-6.3zM295.4 683.2h6.3v7h-6.3zM301.4 683.2h6.3v7h-6.3zM271.7 689.8h6.3v7h-6.3zM277.6 689.8h6.3v7h-6.3zM283.6 689.8h6.3v7h-6.3zM289.5 689.8h6.3v7h-6.3zM295.4 689.8h6.3v7h-6.3zM301.4 689.8h6.3v7h-6.3zM182.5 583.9h6.3v7h-6.3zM182.5 676.6h6.3v7h-6.3zM182.5 683.2h6.3v7h-6.3zM75.5 570.6h6.3v7h-6.3zM87.4 577.2h6.3v7h-6.3zM111.2 570.6h6.3v7h-6.3zM111.2 689.8h6.3v7h-6.3zM111.2 696.4h6.3v7h-6.3zM117.1 696.4h6.3v7h-6.3zM123.1 683.2h6.3v7h-6.3zM123.1 696.4h6.3v7h-6.3zM129 696.4h6.3v7h-6.3zM135 676.6h6.3v7h-6.3zM135 696.4h6.3v7h-6.3zM140.9 577.2h6.3v7h-6.3zM146.8 669.9h6.3v7h-6.3zM164.7 583.9h6.3v7h-6.3zM176.6 610.3h6.3v7h-6.3zM176.6 656.7h6.3v7h-6.3zM176.6 689.8h6.3v7h-6.3z"/><path fill="#ffd3d3" d="M289.5 583.9h6.3v7h-6.3zM295.4 583.9h6.3v7h-6.3zM301.4 583.9h6.3v7h-6.3zM188.5 590.5h6.3v7h-6.3zM194.4 590.5h6.3v7h-6.3zM200.3 590.5h6.3v7h-6.3zM206.3 590.5h6.3v7h-6.3zM212.2 590.5h6.3v7h-6.3zM218.2 590.5h6.3v7h-6.3zM224.1 590.5h6.3v7h-6.3zM230.1 590.5h6.3v7h-6.3zM236 590.5h6.3v7h-6.3zM241.9 590.5h6.3v7h-6.3zM247.9 590.5h6.3v7h-6.3zM253.8 590.5h6.3v7h-6.3zM259.8 590.5h6.3v7h-6.3zM265.7 590.5h6.3v7h-6.3zM271.7 590.5h6.3v7h-6.3zM277.6 590.5h6.3v7h-6.3zM283.6 590.5h6.3v7h-6.3zM289.5 590.5h6.3v7h-6.3zM295.4 590.5h6.3v7h-6.3zM301.4 590.5h6.3v7h-6.3zM188.5 617h6.3v7h-6.3zM188.5 623.6h6.3v7h-6.3zM194.4 623.6h6.3v7h-6.3zM188.5 630.2h6.3v7h-6.3zM194.4 630.2h6.3v7h-6.3zM188.5 636.8h6.3v7h-6.3zM194.4 636.8h6.3v7h-6.3zM188.5 643.5h6.3v7h-6.3zM194.4 643.5h6.3v7h-6.3zM188.5 650.1h6.3v7h-6.3zM188.5 656.7h6.3v7h-6.3zM188.5 669.9h6.3v7h-6.3zM194.4 669.9h6.3v7h-6.3zM200.3 669.9h6.3v7h-6.3zM206.3 669.9h6.3v7h-6.3zM212.2 669.9h6.3v7h-6.3zM218.2 669.9h6.3v7h-6.3zM224.1 669.9h6.3v7h-6.3zM259.8 669.9h6.3v7h-6.3zM265.7 669.9h6.3v7h-6.3zM277.6 676.6h6.3v7h-6.3zM283.6 676.6h6.3v7h-6.3zM289.5 676.6h6.3v7h-6.3zM295.4 676.6h6.3v7h-6.3zM301.4 676.6h6.3v7h-6.3zM182.5 590.5h6.3v7h-6.3zM182.5 617h6.3v7h-6.3zM182.5 623.6h6.3v7h-6.3zM182.5 630.2h6.3v7h-6.3zM182.5 636.8h6.3v7h-6.3zM182.5 643.5h6.3v7h-6.3zM182.5 650.1h6.3v7h-6.3zM182.5 656.7h6.3v7h-6.3zM182.5 669.9h6.3v7h-6.3zM140.9 590.5h6.3v7h-6.3zM152.8 676.6h6.3v7h-6.3zM152.8 683.2h6.3v7h-6.3zM164.7 590.5h6.3v7h-6.3zM176.6 683.2h6.3v7h-6.3z"/><path fill="#f8baba" d="M188.5 597.1h6.3v7h-6.3zM194.4 597.1h6.3v7h-6.3zM200.3 597.1h6.3v7h-6.3zM206.3 597.1h6.3v7h-6.3zM212.2 597.1h6.3v7h-6.3zM218.2 597.1h6.3v7h-6.3zM224.1 597.1h6.3v7h-6.3zM230.1 597.1h6.3v7h-6.3zM236 597.1h6.3v7h-6.3zM241.9 597.1h6.3v7h-6.3zM247.9 597.1h6.3v7h-6.3zM253.8 597.1h6.3v7h-6.3zM259.8 597.1h6.3v7h-6.3zM265.7 597.1h6.3v7h-6.3zM271.7 597.1h6.3v7h-6.3zM277.6 597.1h6.3v7h-6.3zM188.5 603.7h6.3v7h-6.3zM194.4 603.7h6.3v7h-6.3zM188.5 610.3h6.3v7h-6.3zM194.4 617h6.3v7h-6.3zM200.3 623.6h6.3v7h-6.3zM200.3 630.2h6.3v7h-6.3zM200.3 636.8h6.3v7h-6.3zM200.3 643.5h6.3v7h-6.3zM194.4 650.1h6.3v7h-6.3zM194.4 656.7h6.3v7h-6.3zM188.5 663.3h6.3v7h-6.3zM194.4 663.3h6.3v7h-6.3zM230.1 669.9h6.3v7h-6.3zM236 669.9h6.3v7h-6.3zM241.9 669.9h6.3v7h-6.3zM247.9 669.9h6.3v7h-6.3zM253.8 669.9h6.3v7h-6.3zM271.7 669.9h6.3v7h-6.3zM277.6 669.9h6.3v7h-6.3zM283.6 669.9h6.3v7h-6.3zM289.5 669.9h6.3v7h-6.3zM295.4 669.9h6.3v7h-6.3zM301.4 669.9h6.3v7h-6.3zM182.5 597.1h6.3v7h-6.3zM182.5 603.7h6.3v7h-6.3zM182.5 610.3h6.3v7h-6.3zM182.5 663.3h6.3v7h-6.3z"/><path fill="#ff9c9c" d="M283.6 597.1h6.3v7h-6.3zM200.3 603.7h6.3v7h-6.3zM206.3 603.7h6.3v7h-6.3zM194.4 610.3h6.3v7h-6.3zM200.3 617h6.3v7h-6.3zM206.3 623.6h6.3v7h-6.3zM206.3 630.2h6.3v7h-6.3zM206.3 636.8h6.3v7h-6.3zM206.3 643.5h6.3v7h-6.3zM200.3 650.1h6.3v7h-6.3zM200.3 656.7h6.3v7h-6.3zM200.3 663.3h6.3v7h-6.3zM206.3 663.3h6.3v7h-6.3z"/><path fill="#ff8282" d="M289.5 597.1h6.3v7h-6.3zM295.4 597.1h6.3v7h-6.3zM212.2 603.7h6.3v7h-6.3zM200.3 610.3h6.3v7h-6.3zM212.2 630.2h6.3v7h-6.3zM212.2 636.8h6.3v7h-6.3zM212.2 643.5h6.3v7h-6.3zM206.3 650.1h6.3v7h-6.3zM206.3 656.7h6.3v7h-6.3zM212.2 663.3h6.3v7h-6.3zM218.2 663.3h6.3v7h-6.3zM224.1 663.3h6.3v7h-6.3zM259.8 663.3h6.3v7h-6.3z"/><path fill="#ff6c6c" d="M301.4 597.1h6.3v7h-6.3zM218.2 603.7h6.3v7h-6.3zM224.1 603.7h6.3v7h-6.3zM230.1 603.7h6.3v7h-6.3zM236 603.7h6.3v7h-6.3zM206.3 610.3h6.3v7h-6.3zM206.3 617h6.3v7h-6.3zM212.2 623.6h6.3v7h-6.3zM212.2 650.1h6.3v7h-6.3zM212.2 656.7h6.3v7h-6.3zM230.1 663.3h6.3v7h-6.3zM236 663.3h6.3v7h-6.3zM241.9 663.3h6.3v7h-6.3zM247.9 663.3h6.3v7h-6.3zM253.8 663.3h6.3v7h-6.3zM265.7 663.3h6.3v7h-6.3z"/><path fill="#f05252" d="M241.9 603.7h6.3v7h-6.3zM247.9 603.7h6.3v7h-6.3zM253.8 603.7h6.3v7h-6.3zM277.6 603.7h6.3v7h-6.3zM212.2 610.3h6.3v7h-6.3zM212.2 617h6.3v7h-6.3zM218.2 623.6h6.3v7h-6.3zM218.2 630.2h6.3v7h-6.3zM218.2 636.8h6.3v7h-6.3zM218.2 643.5h6.3v7h-6.3zM218.2 650.1h6.3v7h-6.3zM218.2 656.7h6.3v7h-6.3zM224.1 656.7h6.3v7h-6.3zM271.7 663.3h6.3v7h-6.3zM277.6 663.3h6.3v7h-6.3zM283.6 663.3h6.3v7h-6.3z"/><path fill="#ee6548" d="M259.8 603.7h6.3v7h-6.3zM271.7 603.7h6.3v7h-6.3zM218.2 610.3h6.3v7h-6.3zM224.1 610.3h6.3v7h-6.3zM218.2 617h6.3v7h-6.3zM224.1 650.1h6.3v7h-6.3zM230.1 656.7h6.3v7h-6.3zM289.5 663.3h6.3v7h-6.3zM295.4 663.3h6.3v7h-6.3z"/><path fill="#f28c42" d="M265.7 603.7h6.3v7h-6.3zM283.6 603.7h6.3v7h-6.3zM230.1 610.3h6.3v7h-6.3zM224.1 617h6.3v7h-6.3zM224.1 623.6h6.3v7h-6.3zM224.1 630.2h6.3v7h-6.3zM224.1 636.8h6.3v7h-6.3zM224.1 643.5h6.3v7h-6.3zM230.1 650.1h6.3v7h-6.3zM236 656.7h6.3v7h-6.3zM241.9 656.7h6.3v7h-6.3zM247.9 656.7h6.3v7h-6.3zM301.4 663.3h6.3v7h-6.3z"/><path fill="#f8b14f" d="M289.5 603.7h6.3v7h-6.3zM236 610.3h6.3v7h-6.3zM230.1 617h6.3v7h-6.3zM236 650.1h6.3v7h-6.3zM253.8 656.7h6.3v7h-6.3zM259.8 656.7h6.3v7h-6.3zM265.7 656.7h6.3v7h-6.3z"/><path fill="#f6d46a" d="M295.4 603.7h6.3v7h-6.3zM301.4 603.7h6.3v7h-6.3zM241.9 610.3h6.3v7h-6.3zM230.1 623.6h6.3v7h-6.3zM230.1 630.2h6.3v7h-6.3zM230.1 636.8h6.3v7h-6.3zM230.1 643.5h6.3v7h-6.3zM241.9 650.1h6.3v7h-6.3zM271.7 656.7h6.3v7h-6.3zM277.6 656.7h6.3v7h-6.3z"/><path fill="#eaee84" d="M247.9 610.3h6.3v7h-6.3zM253.8 610.3h6.3v7h-6.3zM259.8 610.3h6.3v7h-6.3zM265.7 610.3h6.3v7h-6.3zM271.7 610.3h6.3v7h-6.3zM277.6 610.3h6.3v7h-6.3zM236 617h6.3v7h-6.3zM236 643.5h6.3v7h-6.3zM247.9 650.1h6.3v7h-6.3zM283.6 656.7h6.3v7h-6.3z"/><path fill="#77e0c9" d="M283.6 610.3h6.3v7h-6.3zM247.9 617h6.3v7h-6.3zM241.9 623.6h6.3v7h-6.3zM241.9 630.2h6.3v7h-6.3zM241.9 636.8h6.3v7h-6.3zM247.9 643.5h6.3v7h-6.3zM265.7 650.1h6.3v7h-6.3zM271.7 650.1h6.3v7h-6.3zM277.6 650.1h6.3v7h-6.3z"/><path fill="#22a6f2" d="M289.5 610.3h6.3v7h-6.3zM295.4 610.3h6.3v7h-6.3zM265.7 617h6.3v7h-6.3zM271.7 617h6.3v7h-6.3zM253.8 623.6h6.3v7h-6.3zM253.8 630.2h6.3v7h-6.3zM253.8 636.8h6.3v7h-6.3zM265.7 643.5h6.3v7h-6.3zM283.6 650.1h6.3v7h-6.3z"/><path fill="#1e6ee6" d="M301.4 610.3h6.3v7h-6.3zM259.8 623.6h6.3v7h-6.3zM259.8 630.2h6.3v7h-6.3zM259.8 636.8h6.3v7h-6.3z"/><path fill="#c6f49f" d="M241.9 617h6.3v7h-6.3zM236 623.6h6.3v7h-6.3zM236 630.2h6.3v7h-6.3zM236 636.8h6.3v7h-6.3zM253.8 650.1h6.3v7h-6.3zM289.5 656.7h6.3v7h-6.3zM295.4 656.7h6.3v7h-6.3zM301.4 656.7h6.3v7h-6.3z"/><path fill="#62d8e2" d="M253.8 617h6.3v7h-6.3zM247.9 636.8h6.3v7h-6.3zM253.8 643.5h6.3v7h-6.3z"/><path fill="#46c6f6" d="M259.8 617h6.3v7h-6.3zM247.9 623.6h6.3v7h-6.3zM247.9 630.2h6.3v7h-6.3zM259.8 643.5h6.3v7h-6.3z"/><path fill="#0814c0" d="M277.6 617h6.3v7h-6.3zM265.7 623.6h6.3v7h-6.3zM271.7 623.6h6.3v7h-6.3zM271.7 630.2h6.3v7h-6.3zM265.7 636.8h6.3v7h-6.3zM277.6 643.5h6.3v7h-6.3z"/><path fill="#000080" d="M283.6 617h6.3v7h-6.3zM289.5 617h6.3v7h-6.3zM295.4 617h6.3v7h-6.3zM301.4 617h6.3v7h-6.3zM277.6 623.6h6.3v7h-6.3zM283.6 623.6h6.3v7h-6.3zM289.5 623.6h6.3v7h-6.3zM295.4 623.6h6.3v7h-6.3zM301.4 623.6h6.3v7h-6.3zM277.6 630.2h6.3v7h-6.3zM283.6 630.2h6.3v7h-6.3zM289.5 630.2h6.3v7h-6.3zM295.4 630.2h6.3v7h-6.3zM301.4 630.2h6.3v7h-6.3zM277.6 636.8h6.3v7h-6.3zM283.6 636.8h6.3v7h-6.3zM289.5 636.8h6.3v7h-6.3zM295.4 636.8h6.3v7h-6.3zM301.4 636.8h6.3v7h-6.3zM283.6 643.5h6.3v7h-6.3zM289.5 643.5h6.3v7h-6.3zM295.4 643.5h6.3v7h-6.3zM301.4 643.5h6.3v7h-6.3z"/><path fill="#1034d2" d="M265.7 630.2h6.3v7h-6.3zM271.7 643.5h6.3v7h-6.3zM289.5 650.1h6.3v7h-6.3zM295.4 650.1h6.3v7h-6.3zM301.4 650.1h6.3v7h-6.3z"/><path fill="#0808a1" d="M271.7 636.8h6.3v7h-6.3z"/><path fill="#96e8b2" d="M241.9 643.5h6.3v7h-6.3zM259.8 650.1h6.3v7h-6.3z"/><path fill="#fff5f5" d="M69.6 544.1h6.3v7h-6.3zM69.6 583.9h6.3v7h-6.3zM75.5 544.1h6.3v7h-6.3zM75.5 683.2h6.3v7h-6.3zM81.5 544.1h6.3v7h-6.3zM81.5 683.2h6.3v7h-6.3zM87.4 590.5h6.3v7h-6.3zM99.3 550.7h6.3v7h-6.3zM99.3 676.6h6.3v7h-6.3zM105.2 550.7h6.3v7h-6.3zM105.2 597.1h6.3v7h-6.3zM117.1 669.9h6.3v7h-6.3zM123.1 557.4h6.3v7h-6.3zM129 557.4h6.3v7h-6.3zM129 603.7h6.3v7h-6.3zM129 663.3h6.3v7h-6.3zM129 716.3h6.3v7h-6.3zM135 716.3h6.3v7h-6.3zM146.8 564h6.3v7h-6.3zM146.8 610.3h6.3v7h-6.3zM146.8 656.7h6.3v7h-6.3zM152.8 564h6.3v7h-6.3zM152.8 709.7h6.3v7h-6.3zM158.7 709.7h6.3v7h-6.3zM164.7 570.6h6.3v7h-6.3zM164.7 617h6.3v7h-6.3zM164.7 650.1h6.3v7h-6.3zM170.6 570.6h6.3v7h-6.3zM176.6 703.1h6.3v7h-6.3z"/><path fill="#ffe9e9" d="M69.6 557.4h6.3v7h-6.3zM75.5 557.4h6.3v7h-6.3zM75.5 577.2h6.3v7h-6.3zM81.5 696.4h6.3v7h-6.3zM81.5 709.7h6.3v7h-6.3zM87.4 709.7h6.3v7h-6.3zM93.3 689.8h6.3v7h-6.3zM93.3 709.7h6.3v7h-6.3zM105.2 564h6.3v7h-6.3zM123.1 676.6h6.3v7h-6.3zM129 570.6h6.3v7h-6.3zM129 597.1h6.3v7h-6.3zM129 703.1h6.3v7h-6.3zM146.8 603.7h6.3v7h-6.3zM152.8 663.3h6.3v7h-6.3zM164.7 696.4h6.3v7h-6.3z"/><path fill="#ffe4e4" d="M69.6 564h6.3v7h-6.3zM69.6 570.6h6.3v7h-6.3zM75.5 564h6.3v7h-6.3zM81.5 564h6.3v7h-6.3zM99.3 583.9h6.3v7h-6.3zM99.3 696.4h6.3v7h-6.3zM105.2 696.4h6.3v7h-6.3zM117.1 570.6h6.3v7h-6.3zM117.1 590.5h6.3v7h-6.3zM135 597.1h6.3v7h-6.3zM140.9 696.4h6.3v7h-6.3zM146.8 696.4h6.3v7h-6.3zM158.7 663.3h6.3v7h-6.3zM170.6 583.9h6.3v7h-6.3z"/><path fill="#ffeded" d="M69.6 577.2h6.3v7h-6.3zM81.5 716.3h6.3v7h-6.3zM87.4 557.4h6.3v7h-6.3zM87.4 716.3h6.3v7h-6.3zM99.3 683.2h6.3v7h-6.3zM111.2 709.7h6.3v7h-6.3zM117.1 564h6.3v7h-6.3zM117.1 676.6h6.3v7h-6.3zM117.1 709.7h6.3v7h-6.3zM123.1 597.1h6.3v7h-6.3zM140.9 570.6h6.3v7h-6.3zM140.9 603.7h6.3v7h-6.3zM146.8 663.3h6.3v7h-6.3zM146.8 703.1h6.3v7h-6.3zM164.7 577.2h6.3v7h-6.3zM176.6 696.4h6.3v7h-6.3z"/><path fill="#fff9f9" d="M69.6 590.5h6.3v7h-6.3zM75.5 590.5h6.3v7h-6.3zM75.5 676.6h6.3v7h-6.3zM81.5 676.6h6.3v7h-6.3zM93.3 597.1h6.3v7h-6.3zM93.3 669.9h6.3v7h-6.3zM99.3 669.9h6.3v7h-6.3zM105.2 544.1h6.3v7h-6.3zM111.2 544.1h6.3v7h-6.3zM111.2 603.7h6.3v7h-6.3zM111.2 663.3h6.3v7h-6.3zM117.1 544.1h6.3v7h-6.3zM117.1 603.7h6.3v7h-6.3zM117.1 663.3h6.3v7h-6.3zM123.1 544.1h6.3v7h-6.3zM129 550.7h6.3v7h-6.3zM129 610.3h6.3v7h-6.3zM129 656.7h6.3v7h-6.3zM135 550.7h6.3v7h-6.3zM135 610.3h6.3v7h-6.3zM135 656.7h6.3v7h-6.3zM140.9 550.7h6.3v7h-6.3zM146.8 550.7h6.3v7h-6.3zM146.8 650.1h6.3v7h-6.3zM152.8 557.4h6.3v7h-6.3zM152.8 617h6.3v7h-6.3zM152.8 650.1h6.3v7h-6.3zM152.8 716.3h6.3v7h-6.3zM158.7 557.4h6.3v7h-6.3zM158.7 716.3h6.3v7h-6.3zM164.7 557.4h6.3v7h-6.3zM164.7 716.3h6.3v7h-6.3zM170.6 557.4h6.3v7h-6.3zM170.6 564h6.3v7h-6.3zM170.6 623.6h6.3v7h-6.3zM170.6 643.5h6.3v7h-6.3zM170.6 716.3h6.3v7h-6.3zM176.6 564h6.3v7h-6.3zM176.6 623.6h6.3v7h-6.3zM176.6 709.7h6.3v7h-6.3z"/><path fill="#fffbfb" d="M69.6 597.1h6.3v7h-6.3zM69.6 603.7h6.3v7h-6.3zM69.6 610.3h6.3v7h-6.3zM69.6 617h6.3v7h-6.3zM69.6 623.6h6.3v7h-6.3zM69.6 630.2h6.3v7h-6.3zM69.6 636.8h6.3v7h-6.3zM69.6 643.5h6.3v7h-6.3zM69.6 650.1h6.3v7h-6.3zM69.6 656.7h6.3v7h-6.3zM69.6 663.3h6.3v7h-6.3zM69.6 669.9h6.3v7h-6.3zM69.6 676.6h6.3v7h-6.3zM75.5 597.1h6.3v7h-6.3zM75.5 603.7h6.3v7h-6.3zM75.5 610.3h6.3v7h-6.3zM75.5 617h6.3v7h-6.3zM75.5 623.6h6.3v7h-6.3zM75.5 630.2h6.3v7h-6.3zM75.5 636.8h6.3v7h-6.3zM75.5 643.5h6.3v7h-6.3zM75.5 650.1h6.3v7h-6.3zM75.5 656.7h6.3v7h-6.3zM75.5 663.3h6.3v7h-6.3zM75.5 669.9h6.3v7h-6.3zM81.5 597.1h6.3v7h-6.3zM81.5 603.7h6.3v7h-6.3zM81.5 610.3h6.3v7h-6.3zM81.5 617h6.3v7h-6.3zM81.5 623.6h6.3v7h-6.3zM81.5 630.2h6.3v7h-6.3zM81.5 636.8h6.3v7h-6.3zM81.5 643.5h6.3v7h-6.3zM81.5 650.1h6.3v7h-6.3zM81.5 656.7h6.3v7h-6.3zM81.5 663.3h6.3v7h-6.3zM81.5 669.9h6.3v7h-6.3zM87.4 597.1h6.3v7h-6.3zM87.4 603.7h6.3v7h-6.3zM87.4 610.3h6.3v7h-6.3zM87.4 617h6.3v7h-6.3zM87.4 623.6h6.3v7h-6.3zM87.4 630.2h6.3v7h-6.3zM87.4 636.8h6.3v7h-6.3zM87.4 643.5h6.3v7h-6.3zM87.4 650.1h6.3v7h-6.3zM87.4 656.7h6.3v7h-6.3zM87.4 663.3h6.3v7h-6.3zM87.4 669.9h6.3v7h-6.3zM93.3 603.7h6.3v7h-6.3zM93.3 610.3h6.3v7h-6.3zM93.3 617h6.3v7h-6.3zM93.3 623.6h6.3v7h-6.3zM93.3 630.2h6.3v7h-6.3zM93.3 636.8h6.3v7h-6.3zM93.3 643.5h6.3v7h-6.3zM93.3 650.1h6.3v7h-6.3zM93.3 656.7h6.3v7h-6.3zM93.3 663.3h6.3v7h-6.3zM99.3 603.7h6.3v7h-6.3zM99.3 610.3h6.3v7h-6.3zM99.3 617h6.3v7h-6.3zM99.3 623.6h6.3v7h-6.3zM99.3 630.2h6.3v7h-6.3zM99.3 636.8h6.3v7h-6.3zM99.3 643.5h6.3v7h-6.3zM99.3 650.1h6.3v7h-6.3zM99.3 656.7h6.3v7h-6.3zM99.3 663.3h6.3v7h-6.3zM105.2 603.7h6.3v7h-6.3zM105.2 610.3h6.3v7h-6.3zM105.2 617h6.3v7h-6.3zM105.2 623.6h6.3v7h-6.3zM105.2 630.2h6.3v7h-6.3zM105.2 636.8h6.3v7h-6.3zM105.2 643.5h6.3v7h-6.3zM105.2 650.1h6.3v7h-6.3zM105.2 656.7h6.3v7h-6.3zM105.2 663.3h6.3v7h-6.3zM111.2 610.3h6.3v7h-6.3zM111.2 617h6.3v7h-6.3zM111.2 623.6h6.3v7h-6.3zM111.2 630.2h6.3v7h-6.3zM111.2 636.8h6.3v7h-6.3zM111.2 643.5h6.3v7h-6.3zM111.2 650.1h6.3v7h-6.3zM111.2 656.7h6.3v7h-6.3zM117.1 610.3h6.3v7h-6.3zM117.1 617h6.3v7h-6.3zM117.1 623.6h6.3v7h-6.3zM117.1 630.2h6.3v7h-6.3zM117.1 636.8h6.3v7h-6.3zM117.1 643.5h6.3v7h-6.3zM117.1 650.1h6.3v7h-6.3zM117.1 656.7h6.3v7h-6.3zM123.1 610.3h6.3v7h-6.3zM123.1 617h6.3v7h-6.3zM123.1 623.6h6.3v7h-6.3zM123.1 630.2h6.3v7h-6.3zM123.1 636.8h6.3v7h-6.3zM123.1 643.5h6.3v7h-6.3zM123.1 650.1h6.3v7h-6.3zM123.1 656.7h6.3v7h-6.3zM129 544.1h6.3v7h-6.3zM129 617h6.3v7h-6.3zM129 623.6h6.3v7h-6.3zM129 630.2h6.3v7h-6.3zM129 636.8h6.3v7h-6.3zM129 643.5h6.3v7h-6.3zM129 650.1h6.3v7h-6.3zM135 544.1h6.3v7h-6.3zM135 617h6.3v7h-6.3zM135 623.6h6.3v7h-6.3zM135 630.2h6.3v7h-6.3zM135 636.8h6.3v7h-6.3zM135 643.5h6.3v7h-6.3zM135 650.1h6.3v7h-6.3zM140.9 544.1h6.3v7h-6.3zM140.9 617h6.3v7h-6.3zM140.9 623.6h6.3v7h-6.3zM140.9 630.2h6.3v7h-6.3zM140.9 636.8h6.3v7h-6.3zM140.9 643.5h6.3v7h-6.3zM140.9 650.1h6.3v7h-6.3zM146.8 544.1h6.3v7h-6.3zM146.8 617h6.3v7h-6.3zM146.8 623.6h6.3v7h-6.3zM146.8 630.2h6.3v7h-6.3zM146.8 636.8h6.3v7h-6.3zM146.8 643.5h6.3v7h-6.3zM152.8 544.1h6.3v7h-6.3zM152.8 550.7h6.3v7h-6.3zM152.8 623.6h6.3v7h-6.3zM152.8 630.2h6.3v7h-6.3zM152.8 636.8h6.3v7h-6.3zM152.8 643.5h6.3v7h-6.3zM158.7 544.1h6.3v7h-6.3zM158.7 550.7h6.3v7h-6.3zM158.7 623.6h6.3v7h-6.3zM158.7 630.2h6.3v7h-6.3zM158.7 636.8h6.3v7h-6.3zM158.7 643.5h6.3v7h-6.3zM164.7 544.1h6.3v7h-6.3zM164.7 550.7h6.3v7h-6.3zM164.7 623.6h6.3v7h-6.3zM164.7 630.2h6.3v7h-6.3zM164.7 636.8h6.3v7h-6.3zM164.7 643.5h6.3v7h-6.3zM170.6 544.1h6.3v7h-6.3zM170.6 550.7h6.3v7h-6.3zM170.6 630.2h6.3v7h-6.3zM170.6 636.8h6.3v7h-6.3zM176.6 544.1h6.3v7h-6.3zM176.6 550.7h6.3v7h-6.3zM176.6 557.4h6.3v7h-6.3zM176.6 630.2h6.3v7h-6.3zM176.6 636.8h6.3v7h-6.3zM176.6 716.3h6.3v7h-6.3z"/><path fill="#fff3f3" d="M69.6 689.8h6.3v7h-6.3zM75.5 583.9h6.3v7h-6.3zM87.4 550.7h6.3v7h-6.3zM87.4 683.2h6.3v7h-6.3zM93.3 550.7h6.3v7h-6.3zM93.3 590.5h6.3v7h-6.3zM105.2 676.6h6.3v7h-6.3zM111.2 557.4h6.3v7h-6.3zM111.2 597.1h6.3v7h-6.3zM117.1 557.4h6.3v7h-6.3zM117.1 716.3h6.3v7h-6.3zM123.1 716.3h6.3v7h-6.3zM135 564h6.3v7h-6.3zM135 663.3h6.3v7h-6.3zM140.9 564h6.3v7h-6.3zM140.9 709.7h6.3v7h-6.3zM146.8 709.7h6.3v7h-6.3zM152.8 610.3h6.3v7h-6.3zM152.8 656.7h6.3v7h-6.3zM158.7 570.6h6.3v7h-6.3zM170.6 617h6.3v7h-6.3zM170.6 650.1h6.3v7h-6.3zM170.6 703.1h6.3v7h-6.3z"/><path fill="#ffebeb" d="M69.6 696.4h6.3v7h-6.3zM69.6 716.3h6.3v7h-6.3zM75.5 696.4h6.3v7h-6.3zM75.5 716.3h6.3v7h-6.3zM81.5 557.4h6.3v7h-6.3zM87.4 583.9h6.3v7h-6.3zM87.4 689.8h6.3v7h-6.3zM99.3 709.7h6.3v7h-6.3zM105.2 590.5h6.3v7h-6.3zM105.2 683.2h6.3v7h-6.3zM105.2 709.7h6.3v7h-6.3zM111.2 564h6.3v7h-6.3zM135 570.6h6.3v7h-6.3zM135 669.9h6.3v7h-6.3zM135 703.1h6.3v7h-6.3zM140.9 703.1h6.3v7h-6.3zM158.7 577.2h6.3v7h-6.3zM164.7 610.3h6.3v7h-6.3zM164.7 656.7h6.3v7h-6.3zM170.6 696.4h6.3v7h-6.3z"/><path fill="#ffe8e8" d="M69.6 703.1h6.3v7h-6.3zM69.6 709.7h6.3v7h-6.3zM75.5 703.1h6.3v7h-6.3zM75.5 709.7h6.3v7h-6.3zM81.5 703.1h6.3v7h-6.3zM87.4 696.4h6.3v7h-6.3zM93.3 583.9h6.3v7h-6.3zM99.3 564h6.3v7h-6.3zM99.3 689.8h6.3v7h-6.3zM111.2 590.5h6.3v7h-6.3zM111.2 683.2h6.3v7h-6.3zM111.2 703.1h6.3v7h-6.3zM117.1 703.1h6.3v7h-6.3zM123.1 570.6h6.3v7h-6.3zM123.1 703.1h6.3v7h-6.3zM140.9 669.9h6.3v7h-6.3zM152.8 577.2h6.3v7h-6.3zM158.7 696.4h6.3v7h-6.3zM170.6 656.7h6.3v7h-6.3zM176.6 583.9h6.3v7h-6.3z"/><path fill="#fff1f1" d="M75.5 550.7h6.3v7h-6.3zM75.5 689.8h6.3v7h-6.3zM81.5 550.7h6.3v7h-6.3zM93.3 683.2h6.3v7h-6.3zM99.3 557.4h6.3v7h-6.3zM105.2 557.4h6.3v7h-6.3zM105.2 716.3h6.3v7h-6.3zM111.2 716.3h6.3v7h-6.3zM117.1 597.1h6.3v7h-6.3zM123.1 669.9h6.3v7h-6.3zM129 564h6.3v7h-6.3zM135 603.7h6.3v7h-6.3zM135 709.7h6.3v7h-6.3zM140.9 663.3h6.3v7h-6.3zM152.8 570.6h6.3v7h-6.3zM158.7 703.1h6.3v7h-6.3zM164.7 703.1h6.3v7h-6.3zM176.6 577.2h6.3v7h-6.3zM176.6 617h6.3v7h-6.3z"/><path fill="#ffe0e0" d="M81.5 570.6h6.3v7h-6.3zM87.4 570.6h6.3v7h-6.3zM93.3 577.2h6.3v7h-6.3zM99.3 570.6h6.3v7h-6.3zM105.2 570.6h6.3v7h-6.3zM105.2 583.9h6.3v7h-6.3zM117.1 689.8h6.3v7h-6.3zM123.1 590.5h6.3v7h-6.3zM135 577.2h6.3v7h-6.3zM140.9 597.1h6.3v7h-6.3zM158.7 603.7h6.3v7h-6.3zM170.6 689.8h6.3v7h-6.3z"/><path fill="#ffe6e6" d="M81.5 577.2h6.3v7h-6.3zM87.4 564h6.3v7h-6.3zM87.4 703.1h6.3v7h-6.3zM93.3 564h6.3v7h-6.3zM93.3 696.4h6.3v7h-6.3zM93.3 703.1h6.3v7h-6.3zM99.3 703.1h6.3v7h-6.3zM105.2 689.8h6.3v7h-6.3zM105.2 703.1h6.3v7h-6.3zM117.1 683.2h6.3v7h-6.3zM129 676.6h6.3v7h-6.3zM146.8 577.2h6.3v7h-6.3zM152.8 603.7h6.3v7h-6.3zM152.8 696.4h6.3v7h-6.3zM170.6 610.3h6.3v7h-6.3z"/><path fill="#ffdede" d="M93.3 570.6h6.3v7h-6.3zM99.3 577.2h6.3v7h-6.3zM111.2 583.9h6.3v7h-6.3zM123.1 689.8h6.3v7h-6.3zM129 577.2h6.3v7h-6.3zM129 683.2h6.3v7h-6.3zM158.7 583.9h6.3v7h-6.3zM164.7 663.3h6.3v7h-6.3zM164.7 689.8h6.3v7h-6.3z"/><path fill="#ffdcdc" d="M105.2 577.2h6.3v7h-6.3zM123.1 577.2h6.3v7h-6.3zM129 590.5h6.3v7h-6.3zM129 689.8h6.3v7h-6.3zM135 689.8h6.3v7h-6.3zM140.9 676.6h6.3v7h-6.3zM140.9 689.8h6.3v7h-6.3zM146.8 689.8h6.3v7h-6.3zM152.8 669.9h6.3v7h-6.3zM152.8 689.8h6.3v7h-6.3zM158.7 689.8h6.3v7h-6.3z"/><path fill="#ffd9d9" d="M111.2 577.2h6.3v7h-6.3zM117.1 577.2h6.3v7h-6.3zM117.1 583.9h6.3v7h-6.3zM135 683.2h6.3v7h-6.3zM146.8 597.1h6.3v7h-6.3zM152.8 583.9h6.3v7h-6.3zM164.7 603.7h6.3v7h-6.3z"/><path fill="#ffd7d7" d="M123.1 583.9h6.3v7h-6.3zM135 590.5h6.3v7h-6.3zM140.9 683.2h6.3v7h-6.3zM146.8 583.9h6.3v7h-6.3zM146.8 676.6h6.3v7h-6.3zM170.6 663.3h6.3v7h-6.3zM176.6 590.5h6.3v7h-6.3z"/><path fill="#ffd5d5" d="M129 583.9h6.3v7h-6.3zM135 583.9h6.3v7h-6.3zM140.9 583.9h6.3v7h-6.3zM146.8 683.2h6.3v7h-6.3zM152.8 597.1h6.3v7h-6.3zM158.7 669.9h6.3v7h-6.3zM170.6 590.5h6.3v7h-6.3zM170.6 603.7h6.3v7h-6.3z"/><path fill="#ffd0d0" d="M146.8 590.5h6.3v7h-6.3zM152.8 590.5h6.3v7h-6.3zM158.7 590.5h6.3v7h-6.3zM158.7 597.1h6.3v7h-6.3zM158.7 683.2h6.3v7h-6.3zM164.7 683.2h6.3v7h-6.3zM170.6 683.2h6.3v7h-6.3z"/><path fill="#fecdcd" d="M158.7 676.6h6.3v7h-6.3zM164.7 597.1h6.3v7h-6.3zM164.7 669.9h6.3v7h-6.3zM176.6 603.7h6.3v7h-6.3zM176.6 663.3h6.3v7h-6.3z"/><path fill="#fcc7c7" d="M164.7 676.6h6.3v7h-6.3zM170.6 669.9h6.3v7h-6.3z"/><path fill="#fdcaca" d="M170.6 597.1h6.3v7h-6.3zM176.6 597.1h6.3v7h-6.3z"/><path fill="#fac0c0" d="M170.6 676.6h6.3v7h-6.3zM176.6 676.6h6.3v7h-6.3z"/><path fill="#f9bdbd" d="M176.6 669.9h6.3v7h-6.3z"/></g>
<clipPath id="cp5"><rect x="625" y="47.6" width="310.5" height="311.7"/></clipPath><g clip-path="url(#cp5)" shape-rendering="crispEdges"><linearGradient id="sg1" x1="0" y1="0" x2="0" y2="1"><stop offset="0.000" stop-color="#ffffff"/><stop offset="0.042" stop-color="#fff0f0"/><stop offset="0.135" stop-color="#ffe2e2"/><stop offset="0.219" stop-color="#ffe2e2"/><stop offset="0.281" stop-color="#fff0f0"/><stop offset="0.333" stop-color="#ffffff"/><stop offset="0.802" stop-color="#ffffff"/><stop offset="0.833" stop-color="#fff0f0"/><stop offset="0.885" stop-color="#ffe2e2"/><stop offset="0.948" stop-color="#fff0f0"/><stop offset="1.000" stop-color="#ffffff"/></linearGradient><rect x="616.3" y="80.2" width="29.8" height="191.0" fill="url(#sg1)"/><linearGradient id="sg2" x1="0" y1="0" x2="0" y2="1"><stop offset="0.000" stop-color="#ffffff"/><stop offset="0.054" stop-color="#fff0f0"/><stop offset="0.152" stop-color="#ffe2e2"/><stop offset="0.217" stop-color="#ffe2e2"/><stop offset="0.304" stop-color="#fff0f0"/><stop offset="0.380" stop-color="#ffffff"/><stop offset="0.793" stop-color="#ffffff"/><stop offset="0.837" stop-color="#fff0f0"/><stop offset="0.957" stop-color="#fff0f0"/><stop offset="1.000" stop-color="#ffffff"/></linearGradient><rect x="646.1" y="88.1" width="29.8" height="183.0" fill="url(#sg2)"/><linearGradient id="sg3" x1="0" y1="0" x2="0" y2="1"><stop offset="0.000" stop-color="#ffffff"/><stop offset="0.057" stop-color="#fff0f0"/><stop offset="0.138" stop-color="#ffe2e2"/><stop offset="0.207" stop-color="#ffe2e2"/><stop offset="0.287" stop-color="#fff0f0"/><stop offset="0.368" stop-color="#ffffff"/><stop offset="0.805" stop-color="#ffffff"/><stop offset="0.851" stop-color="#fff0f0"/><stop offset="0.954" stop-color="#fff0f0"/><stop offset="1.000" stop-color="#ffffff"/></linearGradient><rect x="675.9" y="98.1" width="29.8" height="173.1" fill="url(#sg3)"/><linearGradient id="sg4" x1="0" y1="0" x2="0" y2="1"><stop offset="0.000" stop-color="#ffffff"/><stop offset="0.073" stop-color="#fff0f0"/><stop offset="0.159" stop-color="#ffe2e2"/><stop offset="0.244" stop-color="#ffe2e2"/><stop offset="0.317" stop-color="#fff0f0"/><stop offset="0.415" stop-color="#ffffff"/><stop offset="0.622" stop-color="#ffffff"/><stop offset="0.634" stop-color="#fff0f0"/><stop offset="0.671" stop-color="#fff0f0"/><stop offset="0.683" stop-color="#ffffff"/><stop offset="0.805" stop-color="#ffffff"/><stop offset="0.854" stop-color="#fff0f0"/><stop offset="0.951" stop-color="#fff0f0"/><stop offset="1.000" stop-color="#ffffff"/></linearGradient><rect x="705.7" y="106.0" width="29.8" height="163.1" fill="url(#sg4)"/><linearGradient id="sg5" x1="0" y1="0" x2="0" y2="1"><stop offset="0.000" stop-color="#fff0f0"/><stop offset="0.020" stop-color="#fff0f0"/><stop offset="0.027" stop-color="#ffffff"/><stop offset="0.228" stop-color="#ffffff"/><stop offset="0.262" stop-color="#fff0f0"/><stop offset="0.309" stop-color="#ffe2e2"/><stop offset="0.356" stop-color="#fff0f0"/><stop offset="0.409" stop-color="#fff8f8"/><stop offset="0.597" stop-color="#fff8f8"/><stop offset="0.614" stop-color="#ffecec"/><stop offset="0.631" stop-color="#ffe2e2"/><stop offset="0.685" stop-color="#ffe2e2"/><stop offset="0.718" stop-color="#fff0f0"/><stop offset="0.765" stop-color="#fff8f8"/><stop offset="0.933" stop-color="#fff8f8"/><stop offset="0.953" stop-color="#fff0f0"/><stop offset="0.993" stop-color="#ffe2e2"/><stop offset="0.997" stop-color="#fff0f0"/><stop offset="1.000" stop-color="#ffffff"/></linearGradient><rect x="735.4" y="56.3" width="29.8" height="296.4" fill="url(#sg5)"/><linearGradient id="sg6" x1="0" y1="0" x2="0" y2="1"><stop offset="0.000" stop-color="#ffffff"/><stop offset="0.045" stop-color="#fff0f0"/><stop offset="0.109" stop-color="#ffe2e2"/><stop offset="0.164" stop-color="#ffe2e2"/><stop offset="0.227" stop-color="#fff0f0"/><stop offset="0.436" stop-color="#fff0f0"/><stop offset="0.491" stop-color="#ffe2e2"/><stop offset="0.527" stop-color="#ffd2d2"/><stop offset="0.573" stop-color="#ffe2e2"/><stop offset="0.636" stop-color="#fff0f0"/><stop offset="0.864" stop-color="#fff0f0"/><stop offset="0.909" stop-color="#ffe2e2"/><stop offset="0.991" stop-color="#ffe2e2"/><stop offset="0.995" stop-color="#fff0f0"/><stop offset="1.000" stop-color="#ffffff"/></linearGradient><rect x="765.2" y="133.9" width="29.8" height="218.8" fill="url(#sg6)"/><linearGradient id="sg7" x1="0" y1="0" x2="0" y2="1"><stop offset="0.000" stop-color="#ffffff"/><stop offset="0.048" stop-color="#fff0f0"/><stop offset="0.114" stop-color="#ffe2e2"/><stop offset="0.181" stop-color="#ffd2d2"/><stop offset="0.238" stop-color="#ffe2e2"/><stop offset="0.381" stop-color="#ffe2e2"/><stop offset="0.448" stop-color="#ffd2d2"/><stop offset="0.495" stop-color="#f8baba"/><stop offset="0.543" stop-color="#ffd2d2"/><stop offset="0.600" stop-color="#ffe2e2"/><stop offset="0.714" stop-color="#ffe2e2"/><stop offset="0.810" stop-color="#ffd2d2"/><stop offset="0.905" stop-color="#ffd2d2"/><stop offset="0.990" stop-color="#ffe2e2"/><stop offset="0.995" stop-color="#fff0f0"/><stop offset="1.000" stop-color="#ffffff"/></linearGradient><rect x="795.0" y="143.8" width="29.8" height="208.9" fill="url(#sg7)"/><linearGradient id="sg8" x1="0" y1="0" x2="0" y2="1"><stop offset="0.000" stop-color="#fff0f0"/><stop offset="0.028" stop-color="#fff0f0"/><stop offset="0.034" stop-color="#ffffff"/><stop offset="0.262" stop-color="#ffffff"/><stop offset="0.331" stop-color="#fff0f0"/><stop offset="0.386" stop-color="#ffe2e2"/><stop offset="0.407" stop-color="#ffd2d2"/><stop offset="0.428" stop-color="#f8baba"/><stop offset="0.469" stop-color="#ff9e9e"/><stop offset="0.490" stop-color="#ff9e9e"/><stop offset="0.517" stop-color="#f8baba"/><stop offset="0.572" stop-color="#ffd2d2"/><stop offset="0.621" stop-color="#ffd2d2"/><stop offset="0.641" stop-color="#f8baba"/><stop offset="0.647" stop-color="#ff9e9e"/><stop offset="0.652" stop-color="#ff8282"/><stop offset="0.659" stop-color="#ff8282"/><stop offset="0.664" stop-color="#ff9e9e"/><stop offset="0.669" stop-color="#f8baba"/><stop offset="0.697" stop-color="#f8baba"/><stop offset="0.745" stop-color="#ffd2d2"/><stop offset="0.814" stop-color="#ffd2d2"/><stop offset="0.848" stop-color="#f8baba"/><stop offset="0.883" stop-color="#ff9e9e"/><stop offset="0.917" stop-color="#f8baba"/><stop offset="0.952" stop-color="#ffd2d2"/><stop offset="0.993" stop-color="#ffe2e2"/><stop offset="0.997" stop-color="#fff0f0"/><stop offset="1.000" stop-color="#ffffff"/></linearGradient><rect x="824.8" y="58.3" width="29.8" height="288.5" fill="url(#sg8)"/><linearGradient id="sg9" x1="0" y1="0" x2="0" y2="1"><stop offset="0.000" stop-color="#ffffff"/><stop offset="0.103" stop-color="#fff0f0"/><stop offset="0.165" stop-color="#ffe2e2"/><stop offset="0.196" stop-color="#ffd2d2"/><stop offset="0.206" stop-color="#f8baba"/><stop offset="0.216" stop-color="#ff9e9e"/><stop offset="0.227" stop-color="#ff8282"/><stop offset="0.237" stop-color="#ff6a6a"/><stop offset="0.258" stop-color="#f05252"/><stop offset="0.289" stop-color="#f05252"/><stop offset="0.299" stop-color="#ef5a4d"/><stop offset="0.309" stop-color="#ee6248"/><stop offset="0.330" stop-color="#f28c42"/><stop offset="0.412" stop-color="#f28c42"/><stop offset="0.420" stop-color="#f5a049"/><stop offset="0.428" stop-color="#f8b450"/><stop offset="0.436" stop-color="#f6cd64"/><stop offset="0.445" stop-color="#f1df75"/><stop offset="0.454" stop-color="#eaee84"/><stop offset="0.459" stop-color="#d7f192"/><stop offset="0.464" stop-color="#c4f4a0"/><stop offset="0.469" stop-color="#adeea9"/><stop offset="0.474" stop-color="#96e8b2"/><stop offset="0.485" stop-color="#87e4bd"/><stop offset="0.495" stop-color="#78e0c8"/><stop offset="0.526" stop-color="#78e0c8"/><stop offset="0.530" stop-color="#87e4bd"/><stop offset="0.534" stop-color="#96e8b2"/><stop offset="0.537" stop-color="#adeea9"/><stop offset="0.541" stop-color="#c4f4a0"/><stop offset="0.546" stop-color="#d5f193"/><stop offset="0.552" stop-color="#e6ef87"/><stop offset="0.557" stop-color="#efe379"/><stop offset="0.562" stop-color="#f6d46a"/><stop offset="0.570" stop-color="#f8b450"/><stop offset="0.577" stop-color="#f28c42"/><stop offset="0.585" stop-color="#ee6248"/><stop offset="0.593" stop-color="#f05252"/><stop offset="0.691" stop-color="#f05252"/><stop offset="0.698" stop-color="#ee6248"/><stop offset="0.706" stop-color="#f28c42"/><stop offset="0.737" stop-color="#f28c42"/><stop offset="0.745" stop-color="#ee6248"/><stop offset="0.753" stop-color="#f05252"/><stop offset="0.778" stop-color="#ff6a6a"/><stop offset="0.786" stop-color="#ff8282"/><stop offset="0.794" stop-color="#ff9e9e"/><stop offset="0.825" stop-color="#f8baba"/><stop offset="0.876" stop-color="#ffd2d2"/><stop offset="0.928" stop-color="#ffe2e2"/><stop offset="0.979" stop-color="#fff0f0"/><stop offset="1.000" stop-color="#ffffff"/></linearGradient><rect x="854.5" y="153.8" width="29.8" height="193.0" fill="url(#sg9)"/></g>
<clipPath id="cp6"><rect x="980.2" y="51.7" width="121.8" height="302.3"/></clipPath><g clip-path="url(#cp6)" shape-rendering="crispEdges"><linearGradient id="sg10" x1="0" y1="0" x2="0" y2="1"><stop offset="0.000" stop-color="#ffe8e8"/><stop offset="0.040" stop-color="#fff0f0"/><stop offset="0.120" stop-color="#fff8f8"/><stop offset="0.400" stop-color="#fff8f8"/><stop offset="0.425" stop-color="#ffecec"/><stop offset="0.450" stop-color="#ffe2e2"/><stop offset="0.530" stop-color="#ffe2e2"/><stop offset="0.580" stop-color="#fff0f0"/><stop offset="0.650" stop-color="#fff8f8"/><stop offset="0.900" stop-color="#fff8f8"/><stop offset="0.930" stop-color="#fff0f0"/><stop offset="0.990" stop-color="#ffe2e2"/><stop offset="0.995" stop-color="#fff0f0"/><stop offset="1.000" stop-color="#ffffff"/></linearGradient><rect x="966.5" y="52.6" width="29.8" height="300.1" fill="url(#sg10)"/><linearGradient id="sg11" x1="0" y1="0" x2="0" y2="1"><stop offset="0.000" stop-color="#ffe6e6"/><stop offset="0.020" stop-color="#ffe2e2"/><stop offset="0.080" stop-color="#ffe2e2"/><stop offset="0.150" stop-color="#fff0f0"/><stop offset="0.380" stop-color="#fff0f0"/><stop offset="0.440" stop-color="#ffe2e2"/><stop offset="0.480" stop-color="#ffd2d2"/><stop offset="0.530" stop-color="#ffe2e2"/><stop offset="0.600" stop-color="#fff0f0"/><stop offset="0.850" stop-color="#fff0f0"/><stop offset="0.900" stop-color="#ffe2e2"/><stop offset="0.990" stop-color="#ffe2e2"/><stop offset="0.995" stop-color="#fff0f0"/><stop offset="1.000" stop-color="#ffffff"/></linearGradient><rect x="996.3" y="52.6" width="29.8" height="300.1" fill="url(#sg11)"/><linearGradient id="sg12" x1="0" y1="0" x2="0" y2="1"><stop offset="0.000" stop-color="#fff0f0"/><stop offset="0.070" stop-color="#ffe2e2"/><stop offset="0.140" stop-color="#ffd2d2"/><stop offset="0.200" stop-color="#ffe2e2"/><stop offset="0.350" stop-color="#ffe2e2"/><stop offset="0.420" stop-color="#ffd2d2"/><stop offset="0.470" stop-color="#f8baba"/><stop offset="0.520" stop-color="#ffd2d2"/><stop offset="0.580" stop-color="#ffe2e2"/><stop offset="0.700" stop-color="#ffe2e2"/><stop offset="0.800" stop-color="#ffd2d2"/><stop offset="0.900" stop-color="#ffd2d2"/><stop offset="0.990" stop-color="#ffe2e2"/><stop offset="0.995" stop-color="#fff0f0"/><stop offset="1.000" stop-color="#ffffff"/></linearGradient><rect x="1026.1" y="52.6" width="29.8" height="300.1" fill="url(#sg12)"/><linearGradient id="sg13" x1="0" y1="0" x2="0" y2="1"><stop offset="0.000" stop-color="#fff0f0"/><stop offset="0.082" stop-color="#ffe2e2"/><stop offset="0.113" stop-color="#ffd2d2"/><stop offset="0.144" stop-color="#f8baba"/><stop offset="0.206" stop-color="#ff9e9e"/><stop offset="0.237" stop-color="#ff9e9e"/><stop offset="0.278" stop-color="#f8baba"/><stop offset="0.361" stop-color="#ffd2d2"/><stop offset="0.433" stop-color="#ffd2d2"/><stop offset="0.464" stop-color="#f8baba"/><stop offset="0.472" stop-color="#ff9e9e"/><stop offset="0.479" stop-color="#ff8282"/><stop offset="0.490" stop-color="#ff8282"/><stop offset="0.497" stop-color="#ff9e9e"/><stop offset="0.505" stop-color="#f8baba"/><stop offset="0.546" stop-color="#f8baba"/><stop offset="0.619" stop-color="#ffd2d2"/><stop offset="0.722" stop-color="#ffd2d2"/><stop offset="0.773" stop-color="#f8baba"/><stop offset="0.825" stop-color="#ff9e9e"/><stop offset="0.876" stop-color="#f8baba"/><stop offset="0.928" stop-color="#ffd2d2"/><stop offset="0.990" stop-color="#ffe2e2"/><stop offset="0.995" stop-color="#fff0f0"/><stop offset="1.000" stop-color="#ffffff"/></linearGradient><rect x="1055.8" y="52.6" width="29.8" height="291.1" fill="url(#sg13)"/><linearGradient id="sg14" x1="0" y1="0" x2="0" y2="1"><stop offset="0.000" stop-color="#ffffff"/><stop offset="0.103" stop-color="#fff0f0"/><stop offset="0.165" stop-color="#ffe2e2"/><stop offset="0.196" stop-color="#ffd2d2"/><stop offset="0.206" stop-color="#f8baba"/><stop offset="0.216" stop-color="#ff9e9e"/><stop offset="0.227" stop-color="#ff8282"/><stop offset="0.237" stop-color="#ff6a6a"/><stop offset="0.258" stop-color="#f05252"/><stop offset="0.289" stop-color="#f05252"/><stop offset="0.299" stop-color="#ef5a4d"/><stop offset="0.309" stop-color="#ee6248"/><stop offset="0.330" stop-color="#f28c42"/><stop offset="0.412" stop-color="#f28c42"/><stop offset="0.420" stop-color="#f5a049"/><stop offset="0.428" stop-color="#f8b450"/><stop offset="0.436" stop-color="#f6cd64"/><stop offset="0.445" stop-color="#f1df75"/><stop offset="0.454" stop-color="#eaee84"/><stop offset="0.459" stop-color="#d7f192"/><stop offset="0.464" stop-color="#c4f4a0"/><stop offset="0.469" stop-color="#adeea9"/><stop offset="0.474" stop-color="#96e8b2"/><stop offset="0.485" stop-color="#87e4bd"/><stop offset="0.495" stop-color="#78e0c8"/><stop offset="0.526" stop-color="#78e0c8"/><stop offset="0.530" stop-color="#87e4bd"/><stop offset="0.534" stop-color="#96e8b2"/><stop offset="0.537" stop-color="#adeea9"/><stop offset="0.541" stop-color="#c4f4a0"/><stop offset="0.546" stop-color="#d5f193"/><stop offset="0.552" stop-color="#e6ef87"/><stop offset="0.557" stop-color="#efe379"/><stop offset="0.562" stop-color="#f6d46a"/><stop offset="0.570" stop-color="#f8b450"/><stop offset="0.577" stop-color="#f28c42"/><stop offset="0.585" stop-color="#ee6248"/><stop offset="0.593" stop-color="#f05252"/><stop offset="0.691" stop-color="#f05252"/><stop offset="0.698" stop-color="#ee6248"/><stop offset="0.706" stop-color="#f28c42"/><stop offset="0.737" stop-color="#f28c42"/><stop offset="0.745" stop-color="#ee6248"/><stop offset="0.753" stop-color="#f05252"/><stop offset="0.778" stop-color="#ff6a6a"/><stop offset="0.786" stop-color="#ff8282"/><stop offset="0.794" stop-color="#ff9e9e"/><stop offset="0.825" stop-color="#f8baba"/><stop offset="0.876" stop-color="#ffd2d2"/><stop offset="0.928" stop-color="#ffe2e2"/><stop offset="0.979" stop-color="#fff0f0"/><stop offset="1.000" stop-color="#ffffff"/></linearGradient><rect x="1085.6" y="52.6" width="29.8" height="291.1" fill="url(#sg14)"/></g>
<clipPath id="cp7"><rect x="624" y="430.6" width="310.3" height="310.4"/></clipPath><g clip-path="url(#cp7)" shape-rendering="crispEdges"><linearGradient id="sg15" x1="0" y1="0" x2="0" y2="1"><stop offset="0.000" stop-color="#ffffff"/><stop offset="0.043" stop-color="#fff0f0"/><stop offset="0.130" stop-color="#fff0f0"/><stop offset="0.207" stop-color="#fff8f8"/><stop offset="0.239" stop-color="#ffffff"/><stop offset="0.783" stop-color="#ffffff"/><stop offset="0.815" stop-color="#fff0f0"/><stop offset="0.891" stop-color="#fff0f0"/><stop offset="0.967" stop-color="#fff0f0"/><stop offset="1.000" stop-color="#ffffff"/></linearGradient><rect x="615.3" y="472.5" width="29.8" height="182.7" fill="url(#sg15)"/><linearGradient id="sg16" x1="0" y1="0" x2="0" y2="1"><stop offset="0.000" stop-color="#ffffff"/><stop offset="0.056" stop-color="#fff0f0"/><stop offset="0.156" stop-color="#fff0f0"/><stop offset="0.222" stop-color="#fff8f8"/><stop offset="0.278" stop-color="#ffffff"/><stop offset="0.778" stop-color="#ffffff"/><stop offset="0.822" stop-color="#fff0f0"/><stop offset="0.956" stop-color="#fff0f0"/><stop offset="1.000" stop-color="#ffffff"/></linearGradient><rect x="645.1" y="476.5" width="29.8" height="178.7" fill="url(#sg16)"/><linearGradient id="sg17" x1="0" y1="0" x2="0" y2="1"><stop offset="0.000" stop-color="#ffffff"/><stop offset="0.058" stop-color="#fff0f0"/><stop offset="0.163" stop-color="#fff0f0"/><stop offset="0.233" stop-color="#fff8f8"/><stop offset="0.302" stop-color="#ffffff"/><stop offset="0.767" stop-color="#ffffff"/><stop offset="0.814" stop-color="#fff0f0"/><stop offset="0.953" stop-color="#fff0f0"/><stop offset="1.000" stop-color="#ffffff"/></linearGradient><rect x="674.9" y="484.5" width="29.8" height="170.8" fill="url(#sg17)"/><linearGradient id="sg18" x1="0" y1="0" x2="0" y2="1"><stop offset="0.000" stop-color="#ffffff"/><stop offset="0.061" stop-color="#fff0f0"/><stop offset="0.171" stop-color="#fff0f0"/><stop offset="0.244" stop-color="#fff8f8"/><stop offset="0.329" stop-color="#ffffff"/><stop offset="0.756" stop-color="#ffffff"/><stop offset="0.805" stop-color="#fff0f0"/><stop offset="0.939" stop-color="#fff0f0"/><stop offset="1.000" stop-color="#ffffff"/></linearGradient><rect x="704.7" y="492.4" width="29.8" height="162.9" fill="url(#sg18)"/><linearGradient id="sg19" x1="0" y1="0" x2="0" y2="1"><stop offset="0.000" stop-color="#ffffff"/><stop offset="0.043" stop-color="#fff0f0"/><stop offset="0.112" stop-color="#fff0f0"/><stop offset="0.164" stop-color="#fff8f8"/><stop offset="0.224" stop-color="#ffffff"/><stop offset="0.483" stop-color="#fff8f8"/><stop offset="0.500" stop-color="#ffecec"/><stop offset="0.517" stop-color="#ffe2e2"/><stop offset="0.595" stop-color="#ffe2e2"/><stop offset="0.638" stop-color="#fff0f0"/><stop offset="0.698" stop-color="#fff8f8"/><stop offset="0.741" stop-color="#ffffff"/><stop offset="0.871" stop-color="#ffffff"/><stop offset="0.914" stop-color="#fff8f8"/><stop offset="0.991" stop-color="#fff8f8"/><stop offset="1.000" stop-color="#ffffff"/></linearGradient><rect x="734.5" y="504.3" width="29.8" height="230.4" fill="url(#sg19)"/><linearGradient id="sg20" x1="0" y1="0" x2="0" y2="1"><stop offset="0.000" stop-color="#ffffff"/><stop offset="0.045" stop-color="#fff0f0"/><stop offset="0.118" stop-color="#ffe2e2"/><stop offset="0.182" stop-color="#fff0f0"/><stop offset="0.273" stop-color="#fff0f0"/><stop offset="0.455" stop-color="#fff0f0"/><stop offset="0.477" stop-color="#ffe2e2"/><stop offset="0.500" stop-color="#ffd2d2"/><stop offset="0.555" stop-color="#f8baba"/><stop offset="0.577" stop-color="#ffd2d2"/><stop offset="0.600" stop-color="#ffe2e2"/><stop offset="0.636" stop-color="#fff0f0"/><stop offset="0.818" stop-color="#fff0f0"/><stop offset="0.909" stop-color="#ffe2e2"/><stop offset="0.991" stop-color="#ffe2e2"/><stop offset="0.995" stop-color="#fff0f0"/><stop offset="1.000" stop-color="#ffffff"/></linearGradient><rect x="764.3" y="516.2" width="29.8" height="218.5" fill="url(#sg20)"/><linearGradient id="sg21" x1="0" y1="0" x2="0" y2="1"><stop offset="0.000" stop-color="#ffffff"/><stop offset="0.048" stop-color="#fff0f0"/><stop offset="0.238" stop-color="#ffe2e2"/><stop offset="0.343" stop-color="#ffd2d2"/><stop offset="0.410" stop-color="#f8baba"/><stop offset="0.419" stop-color="#ff9e9e"/><stop offset="0.429" stop-color="#ff8282"/><stop offset="0.448" stop-color="#ff6a6a"/><stop offset="0.476" stop-color="#f05252"/><stop offset="0.488" stop-color="#ef5a4d"/><stop offset="0.500" stop-color="#ee6248"/><stop offset="0.524" stop-color="#f28c42"/><stop offset="0.543" stop-color="#ee6248"/><stop offset="0.552" stop-color="#ef5a4d"/><stop offset="0.562" stop-color="#f05252"/><stop offset="0.581" stop-color="#ff6a6a"/><stop offset="0.595" stop-color="#ff8282"/><stop offset="0.607" stop-color="#ff9e9e"/><stop offset="0.619" stop-color="#f8baba"/><stop offset="0.676" stop-color="#ffd2d2"/><stop offset="0.810" stop-color="#ffd2d2"/><stop offset="0.905" stop-color="#ffd2d2"/><stop offset="0.990" stop-color="#ffe2e2"/><stop offset="0.995" stop-color="#fff0f0"/><stop offset="1.000" stop-color="#ffffff"/></linearGradient><rect x="794.1" y="526.2" width="29.8" height="208.5" fill="url(#sg21)"/><linearGradient id="sg22" x1="0" y1="0" x2="0" y2="1"><stop offset="0.000" stop-color="#fff0f0"/><stop offset="0.095" stop-color="#ffe2e2"/><stop offset="0.257" stop-color="#ffe2e2"/><stop offset="0.333" stop-color="#ffd2d2"/><stop offset="0.390" stop-color="#f8baba"/><stop offset="0.398" stop-color="#ff9e9e"/><stop offset="0.405" stop-color="#ff8282"/><stop offset="0.410" stop-color="#ff6a6a"/><stop offset="0.414" stop-color="#f05252"/><stop offset="0.433" stop-color="#f05252"/><stop offset="0.436" stop-color="#ee5e4b"/><stop offset="0.440" stop-color="#f07745"/><stop offset="0.443" stop-color="#f49646"/><stop offset="0.446" stop-color="#f8b450"/><stop offset="0.450" stop-color="#f6d46a"/><stop offset="0.454" stop-color="#ede87e"/><stop offset="0.458" stop-color="#dbf08f"/><stop offset="0.462" stop-color="#c4f4a0"/><stop offset="0.465" stop-color="#adeea9"/><stop offset="0.469" stop-color="#96e8b2"/><stop offset="0.473" stop-color="#87e4bd"/><stop offset="0.476" stop-color="#78e0c8"/><stop offset="0.486" stop-color="#6ddcd5"/><stop offset="0.495" stop-color="#62d8e2"/><stop offset="0.514" stop-color="#62d8e2"/><stop offset="0.524" stop-color="#6ddcd5"/><stop offset="0.533" stop-color="#78e0c8"/><stop offset="0.538" stop-color="#87e4bd"/><stop offset="0.543" stop-color="#96e8b2"/><stop offset="0.548" stop-color="#adeea9"/><stop offset="0.552" stop-color="#c4f4a0"/><stop offset="0.557" stop-color="#d5f193"/><stop offset="0.562" stop-color="#e6ef87"/><stop offset="0.567" stop-color="#efe379"/><stop offset="0.571" stop-color="#f6d46a"/><stop offset="0.579" stop-color="#f8b450"/><stop offset="0.586" stop-color="#f28c42"/><stop offset="0.593" stop-color="#ee6248"/><stop offset="0.600" stop-color="#f05252"/><stop offset="0.619" stop-color="#ff6a6a"/><stop offset="0.626" stop-color="#ff8282"/><stop offset="0.633" stop-color="#ff9e9e"/><stop offset="0.667" stop-color="#f8baba"/><stop offset="0.714" stop-color="#ffd2d2"/><stop offset="0.857" stop-color="#ffd2d2"/><stop offset="0.990" stop-color="#ffe2e2"/><stop offset="0.995" stop-color="#fff0f0"/><stop offset="1.000" stop-color="#ffffff"/></linearGradient><rect x="823.9" y="526.2" width="29.8" height="208.5" fill="url(#sg22)"/><linearGradient id="sg23" x1="0" y1="0" x2="0" y2="1"><stop offset="0.000" stop-color="#ffffff"/><stop offset="0.100" stop-color="#fff0f0"/><stop offset="0.183" stop-color="#ffe2e2"/><stop offset="0.258" stop-color="#ffd2d2"/><stop offset="0.292" stop-color="#f8baba"/><stop offset="0.325" stop-color="#ff9e9e"/><stop offset="0.342" stop-color="#ff8282"/><stop offset="0.358" stop-color="#ff6a6a"/><stop offset="0.400" stop-color="#f05252"/><stop offset="0.475" stop-color="#f05252"/><stop offset="0.477" stop-color="#ee5e4a"/><stop offset="0.479" stop-color="#f07745"/><stop offset="0.481" stop-color="#f39645"/><stop offset="0.483" stop-color="#f8b450"/><stop offset="0.488" stop-color="#f6cd64"/><stop offset="0.492" stop-color="#f1df75"/><stop offset="0.496" stop-color="#eaee84"/><stop offset="0.498" stop-color="#d4f194"/><stop offset="0.500" stop-color="#bdf2a3"/><stop offset="0.502" stop-color="#a3ebad"/><stop offset="0.504" stop-color="#8de6b8"/><stop offset="0.506" stop-color="#7ce1c5"/><stop offset="0.508" stop-color="#6fddd3"/><stop offset="0.510" stop-color="#62d8e2"/><stop offset="0.514" stop-color="#54cfec"/><stop offset="0.518" stop-color="#46c6f6"/><stop offset="0.521" stop-color="#34b6f4"/><stop offset="0.525" stop-color="#22a6f2"/><stop offset="0.528" stop-color="#208aec"/><stop offset="0.531" stop-color="#1e6ee6"/><stop offset="0.534" stop-color="#1751dc"/><stop offset="0.538" stop-color="#1034d2"/><stop offset="0.539" stop-color="#0c26ca"/><stop offset="0.540" stop-color="#0918c2"/><stop offset="0.542" stop-color="#080fb3"/><stop offset="0.543" stop-color="#0809a2"/><stop offset="0.544" stop-color="#040491"/><stop offset="0.546" stop-color="#000080"/><stop offset="0.633" stop-color="#000080"/><stop offset="0.635" stop-color="#040491"/><stop offset="0.636" stop-color="#0809a2"/><stop offset="0.638" stop-color="#080fb3"/><stop offset="0.639" stop-color="#0918c2"/><stop offset="0.640" stop-color="#0c26ca"/><stop offset="0.642" stop-color="#1034d2"/><stop offset="0.644" stop-color="#1751dc"/><stop offset="0.646" stop-color="#1e6ee6"/><stop offset="0.648" stop-color="#208aec"/><stop offset="0.650" stop-color="#22a6f2"/><stop offset="0.652" stop-color="#34b6f4"/><stop offset="0.654" stop-color="#46c6f6"/><stop offset="0.656" stop-color="#52ceed"/><stop offset="0.657" stop-color="#5ed6e5"/><stop offset="0.659" stop-color="#6adbd8"/><stop offset="0.660" stop-color="#76dfcb"/><stop offset="0.662" stop-color="#85e3bf"/><stop offset="0.664" stop-color="#95e8b3"/><stop offset="0.665" stop-color="#aceea9"/><stop offset="0.667" stop-color="#c4f4a0"/><stop offset="0.670" stop-color="#dbf08f"/><stop offset="0.673" stop-color="#ede87e"/><stop offset="0.676" stop-color="#f6d46a"/><stop offset="0.679" stop-color="#f8b450"/><stop offset="0.682" stop-color="#f49646"/><stop offset="0.685" stop-color="#f07745"/><stop offset="0.689" stop-color="#ee5e4a"/><stop offset="0.692" stop-color="#f05252"/><stop offset="0.783" stop-color="#f05252"/><stop offset="0.817" stop-color="#ff6a6a"/><stop offset="0.825" stop-color="#ff8282"/><stop offset="0.833" stop-color="#ff9e9e"/><stop offset="0.867" stop-color="#f8baba"/><stop offset="0.900" stop-color="#ffd2d2"/><stop offset="0.992" stop-color="#ffe2e2"/><stop offset="0.996" stop-color="#fff0f0"/><stop offset="1.000" stop-color="#ffffff"/></linearGradient><rect x="853.7" y="496.4" width="29.8" height="238.3" fill="url(#sg23)"/><linearGradient id="sg24" x1="0" y1="0" x2="0" y2="1"><stop offset="0.000" stop-color="#fff0f0"/><stop offset="0.135" stop-color="#ffe2e2"/><stop offset="0.269" stop-color="#ffd2d2"/><stop offset="0.350" stop-color="#f8baba"/><stop offset="0.404" stop-color="#ff9e9e"/><stop offset="0.418" stop-color="#ff8282"/><stop offset="0.431" stop-color="#ff6a6a"/><stop offset="0.471" stop-color="#f05252"/><stop offset="0.495" stop-color="#f05252"/><stop offset="0.497" stop-color="#ee5e4a"/><stop offset="0.500" stop-color="#f07745"/><stop offset="0.503" stop-color="#f49645"/><stop offset="0.505" stop-color="#f8b450"/><stop offset="0.510" stop-color="#f6cd64"/><stop offset="0.514" stop-color="#f1df75"/><stop offset="0.519" stop-color="#eaee84"/><stop offset="0.521" stop-color="#d7f192"/><stop offset="0.523" stop-color="#c4f4a0"/><stop offset="0.525" stop-color="#adeea9"/><stop offset="0.527" stop-color="#96e8b2"/><stop offset="0.530" stop-color="#87e4bd"/><stop offset="0.532" stop-color="#78e0c8"/><stop offset="0.535" stop-color="#6cdcd6"/><stop offset="0.538" stop-color="#60d6e4"/><stop offset="0.541" stop-color="#53ceed"/><stop offset="0.543" stop-color="#46c6f6"/><stop offset="0.545" stop-color="#34b6f4"/><stop offset="0.546" stop-color="#22a6f2"/><stop offset="0.548" stop-color="#208aec"/><stop offset="0.549" stop-color="#1e6ee6"/><stop offset="0.551" stop-color="#1751dc"/><stop offset="0.552" stop-color="#1034d2"/><stop offset="0.554" stop-color="#0c26ca"/><stop offset="0.555" stop-color="#0918c2"/><stop offset="0.556" stop-color="#080fb3"/><stop offset="0.558" stop-color="#0809a2"/><stop offset="0.559" stop-color="#040491"/><stop offset="0.560" stop-color="#000080"/><stop offset="0.782" stop-color="#000080"/><stop offset="0.784" stop-color="#040491"/><stop offset="0.785" stop-color="#0809a2"/><stop offset="0.787" stop-color="#080fb3"/><stop offset="0.788" stop-color="#0918c2"/><stop offset="0.790" stop-color="#0c26ca"/><stop offset="0.791" stop-color="#1034d2"/><stop offset="0.793" stop-color="#1751dc"/><stop offset="0.795" stop-color="#1e6ee6"/><stop offset="0.796" stop-color="#208aec"/><stop offset="0.798" stop-color="#22a6f2"/><stop offset="0.800" stop-color="#34b6f4"/><stop offset="0.801" stop-color="#46c6f6"/><stop offset="0.804" stop-color="#52ceed"/><stop offset="0.806" stop-color="#5fd6e4"/><stop offset="0.808" stop-color="#6bdbd8"/><stop offset="0.810" stop-color="#77dfca"/><stop offset="0.813" stop-color="#86e4be"/><stop offset="0.815" stop-color="#96e8b2"/><stop offset="0.818" stop-color="#b0efa8"/><stop offset="0.820" stop-color="#c9f39d"/><stop offset="0.823" stop-color="#def08d"/><stop offset="0.826" stop-color="#eee67c"/><stop offset="0.828" stop-color="#f6d46a"/><stop offset="0.833" stop-color="#f8b450"/><stop offset="0.838" stop-color="#f28c42"/><stop offset="0.843" stop-color="#ee6248"/><stop offset="0.848" stop-color="#f05252"/><stop offset="0.872" stop-color="#f05252"/><stop offset="0.896" stop-color="#ff6a6a"/><stop offset="0.929" stop-color="#ff8282"/><stop offset="0.946" stop-color="#ff9e9e"/><stop offset="0.963" stop-color="#f8baba"/><stop offset="0.997" stop-color="#ffd2d2"/><stop offset="0.998" stop-color="#ffe2e2"/><stop offset="0.999" stop-color="#fff0f0"/><stop offset="1.000" stop-color="#ffffff"/></linearGradient><rect x="883.5" y="436.8" width="29.8" height="294.9" fill="url(#sg24)"/></g>
<clipPath id="cp8"><rect x="980.2" y="436.8" width="121.6" height="300.2"/></clipPath><g clip-path="url(#cp8)" shape-rendering="crispEdges"><linearGradient id="sg25" x1="0" y1="0" x2="0" y2="1"><stop offset="0.000" stop-color="#fff4f4"/><stop offset="0.030" stop-color="#fff8f8"/><stop offset="0.100" stop-color="#ffffff"/><stop offset="0.400" stop-color="#fff8f8"/><stop offset="0.420" stop-color="#ffecec"/><stop offset="0.440" stop-color="#ffe2e2"/><stop offset="0.530" stop-color="#ffe2e2"/><stop offset="0.580" stop-color="#fff0f0"/><stop offset="0.650" stop-color="#fff8f8"/><stop offset="0.700" stop-color="#ffffff"/><stop offset="0.850" stop-color="#ffffff"/><stop offset="0.900" stop-color="#fff8f8"/><stop offset="0.990" stop-color="#fff8f8"/><stop offset="1.000" stop-color="#ffffff"/></linearGradient><rect x="966.5" y="436.8" width="29.8" height="298.2" fill="url(#sg25)"/><linearGradient id="sg26" x1="0" y1="0" x2="0" y2="1"><stop offset="0.000" stop-color="#ffe7e7"/><stop offset="0.030" stop-color="#ffe2e2"/><stop offset="0.100" stop-color="#fff0f0"/><stop offset="0.200" stop-color="#fff0f0"/><stop offset="0.400" stop-color="#fff0f0"/><stop offset="0.425" stop-color="#ffe2e2"/><stop offset="0.450" stop-color="#ffd2d2"/><stop offset="0.510" stop-color="#f8baba"/><stop offset="0.535" stop-color="#ffd2d2"/><stop offset="0.560" stop-color="#ffe2e2"/><stop offset="0.600" stop-color="#fff0f0"/><stop offset="0.800" stop-color="#fff0f0"/><stop offset="0.900" stop-color="#ffe2e2"/><stop offset="0.990" stop-color="#ffe2e2"/><stop offset="0.995" stop-color="#fff0f0"/><stop offset="1.000" stop-color="#ffffff"/></linearGradient><rect x="996.3" y="436.8" width="29.8" height="298.2" fill="url(#sg26)"/><linearGradient id="sg27" x1="0" y1="0" x2="0" y2="1"><stop offset="0.000" stop-color="#fff0f0"/><stop offset="0.200" stop-color="#ffe2e2"/><stop offset="0.310" stop-color="#ffd2d2"/><stop offset="0.380" stop-color="#f8baba"/><stop offset="0.390" stop-color="#ff9e9e"/><stop offset="0.400" stop-color="#ff8282"/><stop offset="0.420" stop-color="#ff6a6a"/><stop offset="0.450" stop-color="#f05252"/><stop offset="0.462" stop-color="#ef5a4d"/><stop offset="0.475" stop-color="#ee6248"/><stop offset="0.500" stop-color="#f28c42"/><stop offset="0.520" stop-color="#ee6248"/><stop offset="0.530" stop-color="#ef5a4d"/><stop offset="0.540" stop-color="#f05252"/><stop offset="0.560" stop-color="#ff6a6a"/><stop offset="0.575" stop-color="#ff8282"/><stop offset="0.588" stop-color="#ff9e9e"/><stop offset="0.600" stop-color="#f8baba"/><stop offset="0.660" stop-color="#ffd2d2"/><stop offset="0.800" stop-color="#ffd2d2"/><stop offset="0.900" stop-color="#ffd2d2"/><stop offset="0.990" stop-color="#ffe2e2"/><stop offset="0.995" stop-color="#fff0f0"/><stop offset="1.000" stop-color="#ffffff"/></linearGradient><rect x="1026.1" y="436.8" width="29.8" height="298.2" fill="url(#sg27)"/><linearGradient id="sg28" x1="0" y1="0" x2="0" y2="1"><stop offset="0.000" stop-color="#ffe9e9"/><stop offset="0.050" stop-color="#ffe2e2"/><stop offset="0.220" stop-color="#ffe2e2"/><stop offset="0.300" stop-color="#ffd2d2"/><stop offset="0.360" stop-color="#f8baba"/><stop offset="0.368" stop-color="#ff9e9e"/><stop offset="0.375" stop-color="#ff8282"/><stop offset="0.380" stop-color="#ff6a6a"/><stop offset="0.385" stop-color="#f05252"/><stop offset="0.405" stop-color="#f05252"/><stop offset="0.408" stop-color="#ee5e4b"/><stop offset="0.412" stop-color="#f07745"/><stop offset="0.415" stop-color="#f49646"/><stop offset="0.418" stop-color="#f8b450"/><stop offset="0.422" stop-color="#f6d46a"/><stop offset="0.426" stop-color="#ede87e"/><stop offset="0.431" stop-color="#dbf08f"/><stop offset="0.435" stop-color="#c4f4a0"/><stop offset="0.439" stop-color="#adeea9"/><stop offset="0.443" stop-color="#96e8b2"/><stop offset="0.446" stop-color="#87e4bd"/><stop offset="0.450" stop-color="#78e0c8"/><stop offset="0.460" stop-color="#6ddcd5"/><stop offset="0.470" stop-color="#62d8e2"/><stop offset="0.490" stop-color="#62d8e2"/><stop offset="0.500" stop-color="#6ddcd5"/><stop offset="0.510" stop-color="#78e0c8"/><stop offset="0.515" stop-color="#87e4bd"/><stop offset="0.520" stop-color="#96e8b2"/><stop offset="0.525" stop-color="#adeea9"/><stop offset="0.530" stop-color="#c4f4a0"/><stop offset="0.535" stop-color="#d5f193"/><stop offset="0.540" stop-color="#e6ef87"/><stop offset="0.545" stop-color="#efe379"/><stop offset="0.550" stop-color="#f6d46a"/><stop offset="0.558" stop-color="#f8b450"/><stop offset="0.565" stop-color="#f28c42"/><stop offset="0.573" stop-color="#ee6248"/><stop offset="0.580" stop-color="#f05252"/><stop offset="0.600" stop-color="#ff6a6a"/><stop offset="0.608" stop-color="#ff8282"/><stop offset="0.615" stop-color="#ff9e9e"/><stop offset="0.650" stop-color="#f8baba"/><stop offset="0.700" stop-color="#ffd2d2"/><stop offset="0.850" stop-color="#ffd2d2"/><stop offset="0.990" stop-color="#ffe2e2"/><stop offset="0.995" stop-color="#fff0f0"/><stop offset="1.000" stop-color="#ffffff"/></linearGradient><rect x="1055.8" y="436.8" width="29.8" height="298.2" fill="url(#sg28)"/><linearGradient id="sg29" x1="0" y1="0" x2="0" y2="1"><stop offset="0.000" stop-color="#ffe5e5"/><stop offset="0.020" stop-color="#ffe2e2"/><stop offset="0.110" stop-color="#ffd2d2"/><stop offset="0.150" stop-color="#f8baba"/><stop offset="0.190" stop-color="#ff9e9e"/><stop offset="0.210" stop-color="#ff8282"/><stop offset="0.230" stop-color="#ff6a6a"/><stop offset="0.280" stop-color="#f05252"/><stop offset="0.370" stop-color="#f05252"/><stop offset="0.372" stop-color="#ee5e4a"/><stop offset="0.375" stop-color="#f07745"/><stop offset="0.377" stop-color="#f39645"/><stop offset="0.380" stop-color="#f8b450"/><stop offset="0.385" stop-color="#f6cd64"/><stop offset="0.390" stop-color="#f1df75"/><stop offset="0.395" stop-color="#eaee84"/><stop offset="0.397" stop-color="#d4f194"/><stop offset="0.400" stop-color="#bdf2a3"/><stop offset="0.402" stop-color="#a3ebad"/><stop offset="0.405" stop-color="#8de6b8"/><stop offset="0.407" stop-color="#7ce1c5"/><stop offset="0.410" stop-color="#6fddd3"/><stop offset="0.412" stop-color="#62d8e2"/><stop offset="0.417" stop-color="#54cfec"/><stop offset="0.421" stop-color="#46c6f6"/><stop offset="0.425" stop-color="#34b6f4"/><stop offset="0.430" stop-color="#22a6f2"/><stop offset="0.434" stop-color="#208aec"/><stop offset="0.438" stop-color="#1e6ee6"/><stop offset="0.441" stop-color="#1751dc"/><stop offset="0.445" stop-color="#1034d2"/><stop offset="0.447" stop-color="#0c26ca"/><stop offset="0.448" stop-color="#0918c2"/><stop offset="0.450" stop-color="#080fb3"/><stop offset="0.452" stop-color="#0809a2"/><stop offset="0.453" stop-color="#040491"/><stop offset="0.455" stop-color="#000080"/><stop offset="0.560" stop-color="#000080"/><stop offset="0.562" stop-color="#040491"/><stop offset="0.563" stop-color="#0809a2"/><stop offset="0.565" stop-color="#080fb3"/><stop offset="0.567" stop-color="#0918c2"/><stop offset="0.568" stop-color="#0c26ca"/><stop offset="0.570" stop-color="#1034d2"/><stop offset="0.573" stop-color="#1751dc"/><stop offset="0.575" stop-color="#1e6ee6"/><stop offset="0.577" stop-color="#208aec"/><stop offset="0.580" stop-color="#22a6f2"/><stop offset="0.583" stop-color="#34b6f4"/><stop offset="0.585" stop-color="#46c6f6"/><stop offset="0.587" stop-color="#52ceed"/><stop offset="0.589" stop-color="#5ed6e5"/><stop offset="0.591" stop-color="#6adbd8"/><stop offset="0.593" stop-color="#76dfcb"/><stop offset="0.594" stop-color="#85e3bf"/><stop offset="0.596" stop-color="#95e8b3"/><stop offset="0.598" stop-color="#aceea9"/><stop offset="0.600" stop-color="#c4f4a0"/><stop offset="0.604" stop-color="#dbf08f"/><stop offset="0.608" stop-color="#ede87e"/><stop offset="0.611" stop-color="#f6d46a"/><stop offset="0.615" stop-color="#f8b450"/><stop offset="0.619" stop-color="#f49646"/><stop offset="0.622" stop-color="#f07745"/><stop offset="0.626" stop-color="#ee5e4a"/><stop offset="0.630" stop-color="#f05252"/><stop offset="0.740" stop-color="#f05252"/><stop offset="0.780" stop-color="#ff6a6a"/><stop offset="0.790" stop-color="#ff8282"/><stop offset="0.800" stop-color="#ff9e9e"/><stop offset="0.840" stop-color="#f8baba"/><stop offset="0.880" stop-color="#ffd2d2"/><stop offset="0.990" stop-color="#ffe2e2"/><stop offset="0.995" stop-color="#fff0f0"/><stop offset="1.000" stop-color="#ffffff"/></linearGradient><rect x="1085.6" y="436.8" width="29.8" height="298.2" fill="url(#sg29)"/></g>
<line x1="59" y1="253.4" x2="363.80000000000007" y2="253.4" stroke="#000" stroke-width="1.3" stroke-dasharray="4.2,3.2"/>
<polyline points="66.6,182.6 95.7,187.8 126.6,194.2 159.9,202.1 198.9,210.7 256.8,225.3 295.4,235.2 327.5,243.8 363.8,253.2" fill="none" stroke="#000" stroke-width="1.3" stroke-dasharray="4.2,3.2"/>
<rect x="186.3" y="147.4" width="120.8" height="197.6" fill="none" stroke="#0c1f4a" stroke-width="1.6" stroke-dasharray="4,2.2"/>
<line x1="66.6" y1="174.8" x2="66.6" y2="188.8" stroke="#f00" stroke-width="1.2"/>
<path d="M66.60 175.40L73.00 181.80L66.60 188.20L60.20 181.80Z" fill="none" stroke="#ff0000" stroke-width="2.5" stroke-linejoin="miter"/>
<line x1="96.5" y1="182.4" x2="96.5" y2="196.4" stroke="#f00" stroke-width="1.2"/>
<path d="M96.50 183.00L102.90 189.40L96.50 195.80L90.10 189.40Z" fill="none" stroke="#ff0000" stroke-width="2.5" stroke-linejoin="miter"/>
<line x1="126" y1="191.6" x2="126" y2="205.6" stroke="#f00" stroke-width="1.2"/>
<path d="M126.00 192.20L132.40 198.60L126.00 205.00L119.60 198.60Z" fill="none" stroke="#ff0000" stroke-width="2.5" stroke-linejoin="miter"/>
<line x1="155.6" y1="201" x2="155.6" y2="215" stroke="#f00" stroke-width="1.2"/>
<path d="M155.60 201.60L162.00 208.00L155.60 214.40L149.20 208.00Z" fill="none" stroke="#ff0000" stroke-width="2.5" stroke-linejoin="miter"/>
<line x1="185.6" y1="207.9" x2="185.6" y2="221.9" stroke="#f00" stroke-width="1.2"/>
<path d="M185.60 208.50L192.00 214.90L185.60 221.30L179.20 214.90Z" fill="none" stroke="#ff0000" stroke-width="2.5" stroke-linejoin="miter"/>
<line x1="197.5" y1="213.1" x2="197.5" y2="227.1" stroke="#f00" stroke-width="1.2"/>
<path d="M197.50 213.70L203.90 220.10L197.50 226.50L191.10 220.10Z" fill="none" stroke="#ff0000" stroke-width="2.5" stroke-linejoin="miter"/>
<line x1="215.2" y1="215.3" x2="215.2" y2="229.3" stroke="#f00" stroke-width="1.2"/>
<path d="M215.20 215.90L221.60 222.30L215.20 228.70L208.80 222.30Z" fill="none" stroke="#ff0000" stroke-width="2.5" stroke-linejoin="miter"/>
<line x1="227.3" y1="219.7" x2="227.3" y2="233.7" stroke="#f00" stroke-width="1.2"/>
<path d="M227.30 220.30L233.70 226.70L227.30 233.10L220.90 226.70Z" fill="none" stroke="#ff0000" stroke-width="2.5" stroke-linejoin="miter"/>
<line x1="245" y1="223.3" x2="245" y2="237.3" stroke="#f00" stroke-width="1.2"/>
<path d="M245.00 223.90L251.40 230.30L245.00 236.70L238.60 230.30Z" fill="none" stroke="#ff0000" stroke-width="2.5" stroke-linejoin="miter"/>
<line x1="257.1" y1="226.5" x2="257.1" y2="240.5" stroke="#f00" stroke-width="1.2"/>
<path d="M257.10 227.10L263.50 233.50L257.10 239.90L250.70 233.50Z" fill="none" stroke="#ff0000" stroke-width="2.5" stroke-linejoin="miter"/>
<line x1="274.5" y1="228.8" x2="274.5" y2="242.8" stroke="#f00" stroke-width="1.2"/>
<path d="M274.50 229.40L280.90 235.80L274.50 242.20L268.10 235.80Z" fill="none" stroke="#ff0000" stroke-width="2.5" stroke-linejoin="miter"/>
<line x1="292.7" y1="234.2" x2="292.7" y2="248.2" stroke="#f00" stroke-width="1.2"/>
<path d="M292.70 234.80L299.10 241.20L292.70 247.60L286.30 241.20Z" fill="none" stroke="#ff0000" stroke-width="2.5" stroke-linejoin="miter"/>
<line x1="305.5" y1="238.5" x2="305.5" y2="252.5" stroke="#f00" stroke-width="1.2"/>
<path d="M305.50 239.10L311.90 245.50L305.50 251.90L299.10 245.50Z" fill="none" stroke="#ff0000" stroke-width="2.5" stroke-linejoin="miter"/>
<linearGradient id="cb329" x1="0" y1="0" x2="0" y2="1"><stop offset="0.000" stop-color="#000080"/><stop offset="0.050" stop-color="#0808a0"/><stop offset="0.100" stop-color="#0814c0"/><stop offset="0.160" stop-color="#1034d2"/><stop offset="0.220" stop-color="#1e6ee6"/><stop offset="0.280" stop-color="#22a6f2"/><stop offset="0.340" stop-color="#46c6f6"/><stop offset="0.400" stop-color="#62d8e2"/><stop offset="0.450" stop-color="#78e0c8"/><stop offset="0.500" stop-color="#96e8b2"/><stop offset="0.550" stop-color="#c4f4a0"/><stop offset="0.600" stop-color="#eaee84"/><stop offset="0.640" stop-color="#f6d46a"/><stop offset="0.670" stop-color="#f8b450"/><stop offset="0.700" stop-color="#f28c42"/><stop offset="0.730" stop-color="#ee6248"/><stop offset="0.760" stop-color="#f05252"/><stop offset="0.790" stop-color="#ff6a6a"/><stop offset="0.820" stop-color="#ff8282"/><stop offset="0.850" stop-color="#ff9e9e"/><stop offset="0.880" stop-color="#f8baba"/><stop offset="0.910" stop-color="#ffd2d2"/><stop offset="0.940" stop-color="#ffe2e2"/><stop offset="0.970" stop-color="#fff0f0"/><stop offset="0.985" stop-color="#fff8f8"/><stop offset="1.000" stop-color="#ffffff"/></linearGradient><rect x="329.1" y="78.9" width="28.19999999999999" height="115.6" fill="url(#cb329)"/><text x="342.6" y="74.7" font-size="17" font-family="'Liberation Sans', Arial, Helvetica, sans-serif" text-anchor="middle">50</text><text x="342.6" y="218" font-size="17" font-family="'Liberation Sans', Arial, Helvetica, sans-serif" text-anchor="middle">0</text>
<line x1="59" y1="635.4" x2="363.80000000000007" y2="635.4" stroke="#000" stroke-width="1.3" stroke-dasharray="4.2,3.2"/>
<polyline points="66.6,565.5 95.7,570.7 126.6,577.0 159.9,584.8 198.9,593.3 256.8,607.8 295.4,617.5 327.5,626.1 363.8,635.4" fill="none" stroke="#000" stroke-width="1.3" stroke-dasharray="4.2,3.2"/>
<rect x="186.3" y="535.4" width="120.5" height="197.8" fill="none" stroke="#0c1f4a" stroke-width="1.6" stroke-dasharray="4,2.2"/>
<line x1="66.3" y1="558.4" x2="66.3" y2="572.4" stroke="#1a8acc" stroke-width="1.2"/>
<path d="M66.30 559.00L72.70 565.40L66.30 571.80L59.90 565.40Z" fill="none" stroke="#1a8acc" stroke-width="2.5" stroke-linejoin="miter"/>
<line x1="96.2" y1="567.3" x2="96.2" y2="581.3" stroke="#1a8acc" stroke-width="1.2"/>
<path d="M96.20 567.90L102.60 574.30L96.20 580.70L89.80 574.30Z" fill="none" stroke="#1a8acc" stroke-width="2.5" stroke-linejoin="miter"/>
<line x1="126" y1="576.1" x2="126" y2="590.1" stroke="#1a8acc" stroke-width="1.2"/>
<path d="M126.00 576.70L132.40 583.10L126.00 589.50L119.60 583.10Z" fill="none" stroke="#1a8acc" stroke-width="2.5" stroke-linejoin="miter"/>
<line x1="155.7" y1="586.3" x2="155.7" y2="600.3" stroke="#1a8acc" stroke-width="1.2"/>
<path d="M155.70 586.90L162.10 593.30L155.70 599.70L149.30 593.30Z" fill="none" stroke="#1a8acc" stroke-width="2.5" stroke-linejoin="miter"/>
<line x1="185.4" y1="596.5" x2="185.4" y2="610.5" stroke="#1a8acc" stroke-width="1.2"/>
<path d="M185.40 597.10L191.80 603.50L185.40 609.90L179.00 603.50Z" fill="none" stroke="#1a8acc" stroke-width="2.5" stroke-linejoin="miter"/>
<line x1="197.5" y1="603.7" x2="197.5" y2="617.7" stroke="#1a8acc" stroke-width="1.2"/>
<path d="M197.50 604.30L203.90 610.70L197.50 617.10L191.10 610.70Z" fill="none" stroke="#1a8acc" stroke-width="2.5" stroke-linejoin="miter"/>
<line x1="215.3" y1="606.7" x2="215.3" y2="620.7" stroke="#1a8acc" stroke-width="1.2"/>
<path d="M215.30 607.30L221.70 613.70L215.30 620.10L208.90 613.70Z" fill="none" stroke="#1a8acc" stroke-width="2.5" stroke-linejoin="miter"/>
<line x1="233" y1="611.1" x2="233" y2="625.1" stroke="#1a8acc" stroke-width="1.2"/>
<path d="M233.00 611.70L239.40 618.10L233.00 624.50L226.60 618.10Z" fill="none" stroke="#1a8acc" stroke-width="2.5" stroke-linejoin="miter"/>
<line x1="245.3" y1="612.9" x2="245.3" y2="626.9" stroke="#1a8acc" stroke-width="1.2"/>
<path d="M245.30 613.50L251.70 619.90L245.30 626.30L238.90 619.90Z" fill="none" stroke="#1a8acc" stroke-width="2.5" stroke-linejoin="miter"/>
<line x1="263" y1="617.6" x2="263" y2="631.6" stroke="#1a8acc" stroke-width="1.2"/>
<path d="M263.00 618.20L269.40 624.60L263.00 631.00L256.60 624.60Z" fill="none" stroke="#1a8acc" stroke-width="2.5" stroke-linejoin="miter"/>
<line x1="274.4" y1="618.3" x2="274.4" y2="632.3" stroke="#1a8acc" stroke-width="1.2"/>
<path d="M274.40 618.90L280.80 625.30L274.40 631.70L268.00 625.30Z" fill="none" stroke="#1a8acc" stroke-width="2.5" stroke-linejoin="miter"/>
<line x1="286.7" y1="618.6" x2="286.7" y2="632.6" stroke="#1a8acc" stroke-width="1.2"/>
<path d="M286.70 619.20L293.10 625.60L286.70 632.00L280.30 625.60Z" fill="none" stroke="#1a8acc" stroke-width="2.5" stroke-linejoin="miter"/>
<line x1="305.4" y1="626.1" x2="305.4" y2="640.1" stroke="#1a8acc" stroke-width="1.2"/>
<path d="M305.40 626.70L311.80 633.10L305.40 639.50L299.00 633.10Z" fill="none" stroke="#1a8acc" stroke-width="2.5" stroke-linejoin="miter"/>
<linearGradient id="cb333" x1="0" y1="0" x2="0" y2="1"><stop offset="0.000" stop-color="#000080"/><stop offset="0.050" stop-color="#0808a0"/><stop offset="0.100" stop-color="#0814c0"/><stop offset="0.160" stop-color="#1034d2"/><stop offset="0.220" stop-color="#1e6ee6"/><stop offset="0.280" stop-color="#22a6f2"/><stop offset="0.340" stop-color="#46c6f6"/><stop offset="0.400" stop-color="#62d8e2"/><stop offset="0.450" stop-color="#78e0c8"/><stop offset="0.500" stop-color="#96e8b2"/><stop offset="0.550" stop-color="#c4f4a0"/><stop offset="0.600" stop-color="#eaee84"/><stop offset="0.640" stop-color="#f6d46a"/><stop offset="0.670" stop-color="#f8b450"/><stop offset="0.700" stop-color="#f28c42"/><stop offset="0.730" stop-color="#ee6248"/><stop offset="0.760" stop-color="#f05252"/><stop offset="0.790" stop-color="#ff6a6a"/><stop offset="0.820" stop-color="#ff8282"/><stop offset="0.850" stop-color="#ff9e9e"/><stop offset="0.880" stop-color="#f8baba"/><stop offset="0.910" stop-color="#ffd2d2"/><stop offset="0.940" stop-color="#ffe2e2"/><stop offset="0.970" stop-color="#fff0f0"/><stop offset="0.985" stop-color="#fff8f8"/><stop offset="1.000" stop-color="#ffffff"/></linearGradient><rect x="333.9" y="464.1" width="28.0" height="115.19999999999993" fill="url(#cb333)"/><text x="347.8" y="457.8" font-size="17" font-family="'Liberation Sans', Arial, Helvetica, sans-serif" text-anchor="middle">150</text><text x="347.8" y="598" font-size="17" font-family="'Liberation Sans', Arial, Helvetica, sans-serif" text-anchor="middle">0</text>
<line x1="413.3" y1="203.0" x2="535" y2="203.0" stroke="#000" stroke-width="1.3" stroke-dasharray="4.2,3.2"/>
<line x1="484.6" y1="58" x2="484.6" y2="353.5" stroke="#000" stroke-width="1.3" stroke-dasharray="5,4.3"/>
<line x1="412.5" y1="587.0" x2="534.3" y2="587.0" stroke="#000" stroke-width="1.3" stroke-dasharray="4.2,3.2"/>
<line x1="483.4" y1="442.8" x2="483.4" y2="736.3" stroke="#000" stroke-width="1.3" stroke-dasharray="5,4.3"/>
<text x="417.3" y="331.8" font-size="25" font-family="'Liberation Sans', Arial, Helvetica, sans-serif">Q<tspan font-size="16" dy="5">CDW</tspan></text>
<text x="417.3" y="716.5" font-size="25" font-family="'Liberation Sans', Arial, Helvetica, sans-serif">Q<tspan font-size="16" dy="5">CDW</tspan></text>
<text x="85.5" y="77.3" font-size="22" letter-spacing="-0.4" font-family="'Liberation Sans', Arial, Helvetica, sans-serif">T=300 K</text>
<line x1="625" y1="253.3" x2="929.0" y2="253.3" stroke="#000" stroke-width="1.3" stroke-dasharray="4.2,3.2"/>
<polyline points="631.2,115.6 636.2,115.6 641.1,115.8 646.1,116.0 651.1,116.3 656.0,116.7 661.0,117.3 665.9,117.9 670.9,118.6 675.9,119.4 680.8,120.3 685.8,121.2 690.8,122.3 695.7,123.5 700.7,124.7 705.7,126.1 710.6,127.5 715.6,129.0 720.5,130.6 725.5,132.3 730.5,134.0 735.4,135.9 740.4,137.8 745.4,139.8 750.3,141.9 755.3,144.0 760.2,146.2 765.2,148.6 770.2,150.9 775.1,153.4 780.1,155.9 785.1,158.5 790.0,161.1 795.0,163.8 800.0,166.6 804.9,169.4 809.9,172.3 814.8,175.3 819.8,178.3 824.8,181.3 829.7,184.4 834.7,187.5 839.7,190.7 844.6,194.0 849.6,197.2 854.5,200.6 859.5,203.9 864.5,207.3 869.4,210.7 874.4,214.1 879.4,217.6 884.3,221.1 889.3,224.6 894.3,228.1 899.2,231.7 904.2,235.3 909.1,238.8 914.1,242.4 919.1,246.0 924.0,249.6 929.0,253.2" fill="none" stroke="#000" stroke-width="1.1" stroke-dasharray="3.6,1.9,1.1,1.9"/>
<rect x="752.4" y="147.2" width="120.6" height="197.5" fill="none" stroke="#0c1f4a" stroke-width="1.6" stroke-dasharray="4,2.2"/>
<line x1="631.6" y1="104.5" x2="631.6" y2="115.9" stroke="#f00" stroke-width="1.3"/><line x1="628.2" y1="104.5" x2="635.0" y2="104.5" stroke="#f00" stroke-width="1.3"/><line x1="628.2" y1="115.9" x2="635.0" y2="115.9" stroke="#f00" stroke-width="1.3"/><circle cx="631.6" cy="110.2" r="3.9" fill="none" stroke="#f00" stroke-width="1.3"/>
<line x1="661.4" y1="114.6" x2="661.4" y2="126.6" stroke="#f00" stroke-width="1.3"/><line x1="658.0" y1="114.6" x2="664.8" y2="114.6" stroke="#f00" stroke-width="1.3"/><line x1="658.0" y1="126.6" x2="664.8" y2="126.6" stroke="#f00" stroke-width="1.3"/><circle cx="661.4" cy="120.6" r="3.9" fill="none" stroke="#f00" stroke-width="1.3"/>
<line x1="691.2" y1="119.5" x2="691.2" y2="131.5" stroke="#f00" stroke-width="1.3"/><line x1="687.8000000000001" y1="119.5" x2="694.6" y2="119.5" stroke="#f00" stroke-width="1.3"/><line x1="687.8000000000001" y1="131.5" x2="694.6" y2="131.5" stroke="#f00" stroke-width="1.3"/><circle cx="691.2" cy="125.5" r="3.9" fill="none" stroke="#f00" stroke-width="1.3"/>
<line x1="721.1" y1="132.4" x2="721.1" y2="143.6" stroke="#f00" stroke-width="1.3"/><line x1="717.7" y1="132.4" x2="724.5" y2="132.4" stroke="#f00" stroke-width="1.3"/><line x1="717.7" y1="143.6" x2="724.5" y2="143.6" stroke="#f00" stroke-width="1.3"/><circle cx="721.1" cy="138" r="3.9" fill="none" stroke="#f00" stroke-width="1.3"/>
<line x1="750.5" y1="143.5" x2="750.5" y2="155.1" stroke="#f00" stroke-width="1.3"/><line x1="747.1" y1="143.5" x2="753.9" y2="143.5" stroke="#f00" stroke-width="1.3"/><line x1="747.1" y1="155.1" x2="753.9" y2="155.1" stroke="#f00" stroke-width="1.3"/><circle cx="750.5" cy="149.3" r="3.9" fill="none" stroke="#f00" stroke-width="1.3"/>
<line x1="780.6" y1="157.5" x2="780.6" y2="169.5" stroke="#f00" stroke-width="1.3"/><line x1="777.2" y1="157.5" x2="784.0" y2="157.5" stroke="#f00" stroke-width="1.3"/><line x1="777.2" y1="169.5" x2="784.0" y2="169.5" stroke="#f00" stroke-width="1.3"/><circle cx="780.6" cy="163.5" r="3.9" fill="none" stroke="#f00" stroke-width="1.3"/>
<line x1="810" y1="168.8" x2="810" y2="180.8" stroke="#f00" stroke-width="1.3"/><line x1="806.6" y1="168.8" x2="813.4" y2="168.8" stroke="#f00" stroke-width="1.3"/><line x1="806.6" y1="180.8" x2="813.4" y2="180.8" stroke="#f00" stroke-width="1.3"/><circle cx="810" cy="174.8" r="3.9" fill="none" stroke="#f00" stroke-width="1.3"/>
<line x1="840" y1="190.5" x2="840" y2="202.5" stroke="#f00" stroke-width="1.3"/><line x1="836.6" y1="190.5" x2="843.4" y2="190.5" stroke="#f00" stroke-width="1.3"/><line x1="836.6" y1="202.5" x2="843.4" y2="202.5" stroke="#f00" stroke-width="1.3"/><circle cx="840" cy="196.5" r="3.9" fill="none" stroke="#f00" stroke-width="1.3"/>
<line x1="869.3" y1="207.5" x2="869.3" y2="219.1" stroke="#f00" stroke-width="1.3"/><line x1="865.9" y1="207.5" x2="872.6999999999999" y2="207.5" stroke="#f00" stroke-width="1.3"/><line x1="865.9" y1="219.1" x2="872.6999999999999" y2="219.1" stroke="#f00" stroke-width="1.3"/><circle cx="869.3" cy="213.3" r="3.9" fill="none" stroke="#f00" stroke-width="1.3"/>
<text x="657.5" y="77.6" font-size="22" letter-spacing="-0.4" font-family="'Liberation Sans', Arial, Helvetica, sans-serif">T=300 K</text>
<line x1="624" y1="635.4" x2="928.2" y2="635.4" stroke="#000" stroke-width="1.3" stroke-dasharray="4.2,3.2"/>
<polyline points="630.2,497.8 635.2,497.8 640.1,498.0 645.1,498.2 650.1,498.5 655.0,498.9 660.0,499.5 665.0,500.1 669.9,500.8 674.9,501.6 679.9,502.5 684.8,503.4 689.8,504.5 694.8,505.7 699.7,506.9 704.7,508.2 709.7,509.7 714.6,511.2 719.6,512.8 724.6,514.4 729.5,516.2 734.5,518.1 739.5,520.0 744.4,522.0 749.4,524.1 754.4,526.2 759.3,528.4 764.3,530.7 769.3,533.1 774.2,535.6 779.2,538.1 784.2,540.7 789.1,543.3 794.1,546.0 799.1,548.8 804.0,551.6 809.0,554.5 814.0,557.4 818.9,560.4 823.9,563.5 828.9,566.6 833.8,569.7 838.8,572.9 843.8,576.1 848.7,579.4 853.7,582.7 858.7,586.1 863.6,589.5 868.6,592.9 873.6,596.3 878.5,599.8 883.5,603.3 888.5,606.8 893.4,610.3 898.4,613.9 903.4,617.4 908.3,621.0 913.3,624.6 918.3,628.2 923.2,631.8 928.2,635.4" fill="none" stroke="#000" stroke-width="1.1" stroke-dasharray="3.6,1.9,1.1,1.9"/>
<rect x="752.8" y="534.7" width="120.6" height="198.3" fill="none" stroke="#0c1f4a" stroke-width="1.6" stroke-dasharray="4,2.2"/>
<line x1="630.8" y1="486.9" x2="630.8" y2="497.9" stroke="#1a8acc" stroke-width="1.3"/><line x1="627.4" y1="486.9" x2="634.1999999999999" y2="486.9" stroke="#1a8acc" stroke-width="1.3"/><line x1="627.4" y1="497.9" x2="634.1999999999999" y2="497.9" stroke="#1a8acc" stroke-width="1.3"/><circle cx="630.8" cy="492.4" r="3.9" fill="none" stroke="#1a8acc" stroke-width="1.3"/>
<line x1="660.4" y1="493.0" x2="660.4" y2="504.0" stroke="#1a8acc" stroke-width="1.3"/><line x1="657.0" y1="493.0" x2="663.8" y2="493.0" stroke="#1a8acc" stroke-width="1.3"/><line x1="657.0" y1="504.0" x2="663.8" y2="504.0" stroke="#1a8acc" stroke-width="1.3"/><circle cx="660.4" cy="498.5" r="3.9" fill="none" stroke="#1a8acc" stroke-width="1.3"/>
<line x1="690.5" y1="501.5" x2="690.5" y2="512.5" stroke="#1a8acc" stroke-width="1.3"/><line x1="687.1" y1="501.5" x2="693.9" y2="501.5" stroke="#1a8acc" stroke-width="1.3"/><line x1="687.1" y1="512.5" x2="693.9" y2="512.5" stroke="#1a8acc" stroke-width="1.3"/><circle cx="690.5" cy="507" r="3.9" fill="none" stroke="#1a8acc" stroke-width="1.3"/>
<line x1="719.3" y1="509.2" x2="719.3" y2="520.2" stroke="#1a8acc" stroke-width="1.3"/><line x1="715.9" y1="509.2" x2="722.6999999999999" y2="509.2" stroke="#1a8acc" stroke-width="1.3"/><line x1="715.9" y1="520.2" x2="722.6999999999999" y2="520.2" stroke="#1a8acc" stroke-width="1.3"/><circle cx="719.3" cy="514.7" r="3.9" fill="none" stroke="#1a8acc" stroke-width="1.3"/>
<line x1="749" y1="520.0" x2="749" y2="531.0" stroke="#1a8acc" stroke-width="1.3"/><line x1="745.6" y1="520.0" x2="752.4" y2="520.0" stroke="#1a8acc" stroke-width="1.3"/><line x1="745.6" y1="531.0" x2="752.4" y2="531.0" stroke="#1a8acc" stroke-width="1.3"/><circle cx="749" cy="525.5" r="3.9" fill="none" stroke="#1a8acc" stroke-width="1.3"/>
<line x1="779" y1="536.2" x2="779" y2="547.2" stroke="#1a8acc" stroke-width="1.3"/><line x1="775.6" y1="536.2" x2="782.4" y2="536.2" stroke="#1a8acc" stroke-width="1.3"/><line x1="775.6" y1="547.2" x2="782.4" y2="547.2" stroke="#1a8acc" stroke-width="1.3"/><circle cx="779" cy="541.7" r="3.9" fill="none" stroke="#1a8acc" stroke-width="1.3"/>
<line x1="808.7" y1="550.8" x2="808.7" y2="561.8" stroke="#1a8acc" stroke-width="1.3"/><line x1="805.3000000000001" y1="550.8" x2="812.1" y2="550.8" stroke="#1a8acc" stroke-width="1.3"/><line x1="805.3000000000001" y1="561.8" x2="812.1" y2="561.8" stroke="#1a8acc" stroke-width="1.3"/><circle cx="808.7" cy="556.3" r="3.9" fill="none" stroke="#1a8acc" stroke-width="1.3"/>
<line x1="838.7" y1="568.9" x2="838.7" y2="579.9" stroke="#1a8acc" stroke-width="1.3"/><line x1="835.3000000000001" y1="568.9" x2="842.1" y2="568.9" stroke="#1a8acc" stroke-width="1.3"/><line x1="835.3000000000001" y1="579.9" x2="842.1" y2="579.9" stroke="#1a8acc" stroke-width="1.3"/><circle cx="838.7" cy="574.4" r="3.9" fill="none" stroke="#1a8acc" stroke-width="1.3"/>
<line x1="868.4" y1="588.9" x2="868.4" y2="599.9" stroke="#1a8acc" stroke-width="1.3"/><line x1="865.0" y1="588.9" x2="871.8" y2="588.9" stroke="#1a8acc" stroke-width="1.3"/><line x1="865.0" y1="599.9" x2="871.8" y2="599.9" stroke="#1a8acc" stroke-width="1.3"/><circle cx="868.4" cy="594.4" r="3.9" fill="none" stroke="#1a8acc" stroke-width="1.3"/>
<text x="657.7" y="460.8" font-size="22" letter-spacing="-0.4" font-family="'Liberation Sans', Arial, Helvetica, sans-serif">T=160 K</text>
<text x="86.9" y="465.2" font-size="22" letter-spacing="-0.4" font-family="'Liberation Sans', Arial, Helvetica, sans-serif">T=160 K</text>
<line x1="980.2" y1="203.0" x2="1102" y2="203.0" stroke="#000" stroke-width="1.3" stroke-dasharray="4.2,3.2"/>
<line x1="1048.9" y1="57.7" x2="1048.9" y2="354" stroke="#444" stroke-width="1.3" stroke-dasharray="5.5,4"/>
<line x1="980.2" y1="586.9" x2="1101.8" y2="586.9" stroke="#000" stroke-width="1.3" stroke-dasharray="4.2,3.2"/>
<line x1="1048.9" y1="442.8" x2="1048.9" y2="737" stroke="#444" stroke-width="1.3" stroke-dasharray="5.5,4"/>
<text x="992.6" y="331.8" font-size="25" font-family="'Liberation Sans', Arial, Helvetica, sans-serif">Q<tspan font-size="16" dy="5">CDW</tspan></text>
<text x="992.6" y="715.8" font-size="25" font-family="'Liberation Sans', Arial, Helvetica, sans-serif">Q<tspan font-size="16" dy="5">CDW</tspan></text>
<defs>
<linearGradient id="gR" x1="0" y1="0" x2="0" y2="1"><stop offset="0" stop-color="#e62a3a"/><stop offset="0.35" stop-color="#ec5462"/><stop offset="1" stop-color="#fdeef0"/></linearGradient>
<linearGradient id="gB" x1="0" y1="0" x2="0" y2="1"><stop offset="0" stop-color="#2468a8"/><stop offset="0.35" stop-color="#4f88c0"/><stop offset="0.75" stop-color="#b4cde6"/><stop offset="1" stop-color="#f4f8fc"/></linearGradient>
<linearGradient id="gBh" x1="0" y1="0" x2="1" y2="0"><stop offset="0" stop-color="#fff" stop-opacity="0.85"/><stop offset="0.35" stop-color="#fff" stop-opacity="0"/></linearGradient>
<linearGradient id="gP" x1="0" y1="0" x2="0" y2="1"><stop offset="0" stop-color="#5c1a8e"/><stop offset="0.4" stop-color="#7b3aa8"/><stop offset="0.75" stop-color="#b088cc"/><stop offset="1" stop-color="#e6d8f0"/></linearGradient>
<filter id="gblur" x="-5%" y="-5%" width="110%" height="110%"><feGaussianBlur stdDeviation="1.6"/></filter>
</defs>
<g filter="url(#gblur)">
<path d="M1740.3,650.3C1742.2,644.0 1747.4,623.1 1751.6,612.6C1755.8,602.0 1760.9,595.3 1765.4,587.2C1770.0,579.0 1774.8,571.9 1779.0,563.7C1783.3,555.6 1786.7,546.0 1790.9,538.1C1795.2,530.3 1800.6,522.8 1804.5,516.7C1808.5,510.6 1811.5,505.6 1814.8,501.4C1818.0,497.2 1822.2,492.8 1824.1,491.3C1825.9,489.8 1824.1,487.9 1826.0,492.5C1827.9,497.0 1832.4,510.4 1835.6,518.7C1838.9,527.0 1842.0,533.8 1845.6,542.3C1849.2,550.8 1853.8,560.4 1857.4,569.5C1861.0,578.6 1864.3,588.4 1867.1,596.9C1869.9,605.4 1872.2,611.6 1874.4,620.5C1876.6,629.4 1879.3,645.3 1880.3,650.3Z" fill="url(#gP)"/>
<path d="M1641.9,747.5C1644.6,744.1 1650.3,734.6 1658.0,726.9C1665.8,719.2 1677.4,709.8 1688.4,701.3C1699.5,692.8 1714.9,685.2 1724.2,675.9C1733.5,666.5 1737.6,656.2 1744.5,645.1C1751.3,634.0 1760.1,617.5 1765.3,609.4C1770.5,601.3 1771.2,598.4 1775.4,596.7C1779.7,595.0 1785.9,598.4 1790.9,599.3C1796.0,600.1 1798.2,600.4 1805.8,601.6C1813.5,602.9 1828.3,604.7 1836.8,606.8C1845.4,609.0 1850.3,609.8 1857.1,614.5C1863.9,619.2 1871.4,626.5 1877.4,635.0C1883.3,643.5 1887.7,654.5 1892.9,665.6C1898.0,676.6 1904.6,691.1 1908.4,701.3C1912.1,711.5 1913.5,719.2 1915.5,726.9C1917.5,734.6 1919.5,744.1 1920.3,747.5Z" fill="url(#gB)"/>
<path d="M1641.9,747.5C1644.6,744.1 1650.3,734.6 1658.0,726.9C1665.8,719.2 1677.4,709.8 1688.4,701.3C1699.5,692.8 1714.9,685.2 1724.2,675.9C1733.5,666.5 1737.6,656.2 1744.5,645.1C1751.3,634.0 1760.1,617.5 1765.3,609.4C1770.5,601.3 1771.2,598.4 1775.4,596.7C1779.7,595.0 1785.9,598.4 1790.9,599.3C1796.0,600.1 1798.2,600.4 1805.8,601.6C1813.5,602.9 1828.3,604.7 1836.8,606.8C1845.4,609.0 1850.3,609.8 1857.1,614.5C1863.9,619.2 1871.4,626.5 1877.4,635.0C1883.3,643.5 1887.7,654.5 1892.9,665.6C1898.0,676.6 1904.6,691.1 1908.4,701.3C1912.1,711.5 1913.5,719.2 1915.5,726.9C1917.5,734.6 1919.5,744.1 1920.3,747.5Z" fill="url(#gBh)"/>
<path d="M1653.9,747.5C1655.3,745.8 1657.8,740.5 1662.8,737.0C1667.8,733.6 1676.8,731.1 1683.7,726.9C1690.5,722.7 1697.2,716.5 1703.9,711.8C1710.7,707.1 1717.4,702.8 1724.2,698.9C1730.9,695.0 1735.9,691.4 1744.5,688.6C1753.0,685.8 1766.2,683.4 1775.4,682.0C1784.7,680.7 1791.3,680.6 1799.9,680.4C1808.4,680.2 1815.5,680.3 1826.7,680.8C1837.9,681.3 1856.2,681.7 1867.2,683.4C1878.3,685.1 1886.0,686.5 1892.9,691.2C1899.7,695.8 1904.1,703.8 1908.4,711.4C1912.6,719.1 1916.2,731.0 1918.5,737.0C1920.8,743.0 1921.5,745.8 1922.1,747.5Z" fill="url(#gR)"/>
</g>
<line x1="1824.8" y1="446" x2="1824.8" y2="492" stroke="#000" stroke-width="1.3" stroke-dasharray="4.2,3.2"/>
<line x1="1824.8" y1="548" x2="1824.8" y2="741" stroke="#000" stroke-width="1.3" stroke-dasharray="4.2,3.2" stroke-dashoffset="1"/>
<g fill-opacity="0.85">
<path d="M1662.30 727.20L1670.30 735.20L1662.30 743.20L1654.30 735.20Z" fill="#e8101a" stroke="#e8101a" stroke-width="0" stroke-linejoin="miter"/>
<path d="M1692.60 707.50L1700.60 715.50L1692.60 723.50L1684.60 715.50Z" fill="#e8101a" stroke="#e8101a" stroke-width="0" stroke-linejoin="miter"/>
<path d="M1722.80 686.10L1730.80 694.10L1722.80 702.10L1714.80 694.10Z" fill="#e8101a" stroke="#e8101a" stroke-width="0" stroke-linejoin="miter"/>
<path d="M1752.30 676.80L1760.30 684.80L1752.30 692.80L1744.30 684.80Z" fill="#e8101a" stroke="#e8101a" stroke-width="0" stroke-linejoin="miter"/>
<path d="M1781.30 676.80L1789.30 684.80L1781.30 692.80L1773.30 684.80Z" fill="#e8101a" stroke="#e8101a" stroke-width="0" stroke-linejoin="miter"/>
<path d="M1794.20 675.20L1802.20 683.20L1794.20 691.20L1786.20 683.20Z" fill="#e8101a" stroke="#e8101a" stroke-width="0" stroke-linejoin="miter"/>
<path d="M1812.00 668.80L1820.00 676.80L1812.00 684.80L1804.00 676.80Z" fill="#e8101a" stroke="#e8101a" stroke-width="0" stroke-linejoin="miter"/>
<path d="M1824.00 675.20L1832.00 683.20L1824.00 691.20L1816.00 683.20Z" fill="#e8101a" stroke="#e8101a" stroke-width="0" stroke-linejoin="miter"/>
<path d="M1841.00 678.90L1849.00 686.90L1841.00 694.90L1833.00 686.90Z" fill="#e8101a" stroke="#e8101a" stroke-width="0" stroke-linejoin="miter"/>
<path d="M1764.00 657.90L1772.00 665.90L1764.00 673.90L1756.00 665.90Z" fill="#9a2a50" stroke="#9a2a50" stroke-width="0" stroke-linejoin="miter"/>
<path d="M1859.10 655.10L1867.10 663.10L1859.10 671.10L1851.10 663.10Z" fill="#9a2a50" stroke="#9a2a50" stroke-width="0" stroke-linejoin="miter"/>
<path d="M1871.20 651.00L1879.20 659.00L1871.20 667.00L1863.20 659.00Z" fill="#9a2a50" stroke="#9a2a50" stroke-width="0" stroke-linejoin="miter"/>
<path d="M1632.10 731.70L1640.10 739.70L1632.10 747.70L1624.10 739.70Z" fill="#1a82c8" stroke="#1a82c8" stroke-width="0" stroke-linejoin="miter"/>
<path d="M1662.30 711.50L1670.30 719.50L1662.30 727.50L1654.30 719.50Z" fill="#1a82c8" stroke="#1a82c8" stroke-width="0" stroke-linejoin="miter"/>
<path d="M1692.60 691.40L1700.60 699.40L1692.60 707.40L1684.60 699.40Z" fill="#1a82c8" stroke="#1a82c8" stroke-width="0" stroke-linejoin="miter"/>
<path d="M1722.80 659.90L1730.80 667.90L1722.80 675.90L1714.80 667.90Z" fill="#1a82c8" stroke="#1a82c8" stroke-width="0" stroke-linejoin="miter"/>
<path d="M1752.30 626.80L1760.30 634.80L1752.30 642.80L1744.30 634.80Z" fill="#1a82c8" stroke="#1a82c8" stroke-width="0" stroke-linejoin="miter"/>
<path d="M1765.20 584.50L1773.20 592.50L1765.20 600.50L1757.20 592.50Z" fill="#1a82c8" stroke="#1a82c8" stroke-width="0" stroke-linejoin="miter"/>
<path d="M1800.20 591.40L1808.20 599.40L1800.20 607.40L1792.20 599.40Z" fill="#1a82c8" stroke="#1a82c8" stroke-width="0" stroke-linejoin="miter"/>
<path d="M1812.00 602.60L1820.00 610.60L1812.00 618.60L1804.00 610.60Z" fill="#1a82c8" stroke="#1a82c8" stroke-width="0" stroke-linejoin="miter"/>
<path d="M1829.70 597.40L1837.70 605.40L1829.70 613.40L1821.70 605.40Z" fill="#1a82c8" stroke="#1a82c8" stroke-width="0" stroke-linejoin="miter"/>
<path d="M1841.00 615.50L1849.00 623.50L1841.00 631.50L1833.00 623.50Z" fill="#1a82c8" stroke="#1a82c8" stroke-width="0" stroke-linejoin="miter"/>
<path d="M1853.00 641.80L1861.00 649.80L1853.00 657.80L1845.00 649.80Z" fill="#1a82c8" stroke="#1a82c8" stroke-width="0" stroke-linejoin="miter"/>
<path d="M1871.20 612.30L1879.20 620.30L1871.20 628.30L1863.20 620.30Z" fill="#1a82c8" stroke="#1a82c8" stroke-width="0" stroke-linejoin="miter"/>
<path d="M1632.10 726.40L1640.10 734.40L1632.10 742.40L1624.10 734.40Z" fill="#7a1fe0" stroke="#7a1fe0" stroke-width="0" stroke-linejoin="miter"/>
<path d="M1662.30 725.20L1670.30 733.20L1662.30 741.20L1654.30 733.20Z" fill="#7a1fe0" stroke="#7a1fe0" stroke-width="0" stroke-linejoin="miter"/>
<path d="M1692.60 693.00L1700.60 701.00L1692.60 709.00L1684.60 701.00Z" fill="#7a1fe0" stroke="#7a1fe0" stroke-width="0" stroke-linejoin="miter"/>
<path d="M1722.80 668.00L1730.80 676.00L1722.80 684.00L1714.80 676.00Z" fill="#7a1fe0" stroke="#7a1fe0" stroke-width="0" stroke-linejoin="miter"/>
<path d="M1752.30 584.50L1760.30 592.50L1752.30 600.50L1744.30 592.50Z" fill="#7a1fe0" stroke="#7a1fe0" stroke-width="0" stroke-linejoin="miter"/>
<path d="M1770.00 562.30L1778.00 570.30L1770.00 578.30L1762.00 570.30Z" fill="#7a1fe0" stroke="#7a1fe0" stroke-width="0" stroke-linejoin="miter"/>
<path d="M1781.30 573.20L1789.30 581.20L1781.30 589.20L1773.30 581.20Z" fill="#7a1fe0" stroke="#7a1fe0" stroke-width="0" stroke-linejoin="miter"/>
<path d="M1800.20 500.60L1808.20 508.60L1800.20 516.60L1792.20 508.60Z" fill="#7a1fe0" stroke="#7a1fe0" stroke-width="0" stroke-linejoin="miter"/>
<path d="M1824.00 473.60L1832.00 481.60L1824.00 489.60L1816.00 481.60Z" fill="#7a1fe0" stroke="#7a1fe0" stroke-width="0" stroke-linejoin="miter"/>
<path d="M1841.00 515.50L1849.00 523.50L1841.00 531.50L1833.00 523.50Z" fill="#7a1fe0" stroke="#7a1fe0" stroke-width="0" stroke-linejoin="miter"/>
<path d="M1871.20 585.30L1879.20 593.30L1871.20 601.30L1863.20 593.30Z" fill="#7a1fe0" stroke="#7a1fe0" stroke-width="0" stroke-linejoin="miter"/>
</g>
<path d="M1648.20 465.50L1656.20 473.50L1648.20 481.50L1640.20 473.50Z" fill="#e8101a" stroke="#e8101a" stroke-width="0" stroke-linejoin="miter"/>
<text x="1666" y="482.1" font-size="23.5" font-family="'Liberation Sans', Arial, Helvetica, sans-serif">: 300 K</text>
<path d="M1648.20 489.10L1656.20 497.10L1648.20 505.10L1640.20 497.10Z" fill="#1a82c8" stroke="#1a82c8" stroke-width="0" stroke-linejoin="miter"/>
<text x="1666" y="505.7" font-size="23.5" font-family="'Liberation Sans', Arial, Helvetica, sans-serif">: 160 K</text>
<path d="M1648.20 512.70L1656.20 520.70L1648.20 528.70L1640.20 520.70Z" fill="#7a1fe0" stroke="#7a1fe0" stroke-width="0" stroke-linejoin="miter"/>
<text x="1666" y="529.3" font-size="23.5" font-family="'Liberation Sans', Arial, Helvetica, sans-serif">: 130 K</text>
<text x="1829.7" y="723.5" font-size="25" font-family="'Liberation Sans', Arial, Helvetica, sans-serif">Q<tspan font-size="16" dy="5">CDW</tspan></text>
<line x1="66.6" y1="360" x2="66.6" y2="352" stroke="#111" stroke-width="1.2" stroke-linecap="butt"/>
<line x1="126.04" y1="360" x2="126.04" y2="352" stroke="#111" stroke-width="1.2" stroke-linecap="butt"/>
<line x1="185.48" y1="360" x2="185.48" y2="352" stroke="#111" stroke-width="1.2" stroke-linecap="butt"/>
<line x1="244.92" y1="360" x2="244.92" y2="352" stroke="#111" stroke-width="1.2" stroke-linecap="butt"/>
<line x1="304.36" y1="360" x2="304.36" y2="352" stroke="#111" stroke-width="1.2" stroke-linecap="butt"/>
<line x1="363.8" y1="360" x2="363.8" y2="352" stroke="#111" stroke-width="1.2" stroke-linecap="butt"/>
<line x1="96.32" y1="360" x2="96.32" y2="356" stroke="#111" stroke-width="1.2" stroke-linecap="butt"/>
<line x1="155.76" y1="360" x2="155.76" y2="356" stroke="#111" stroke-width="1.2" stroke-linecap="butt"/>
<line x1="215.2" y1="360" x2="215.2" y2="356" stroke="#111" stroke-width="1.2" stroke-linecap="butt"/>
<line x1="274.64" y1="360" x2="274.64" y2="356" stroke="#111" stroke-width="1.2" stroke-linecap="butt"/>
<line x1="334.08" y1="360" x2="334.08" y2="356" stroke="#111" stroke-width="1.2" stroke-linecap="butt"/>
<text x="66.6" y="384" font-size="23.5" font-family="'Liberation Sans', Arial, Helvetica, sans-serif" text-anchor="middle" fill="#000">1.5</text>
<text x="126.04" y="384" font-size="23.5" font-family="'Liberation Sans', Arial, Helvetica, sans-serif" text-anchor="middle" fill="#000">1.6</text>
<text x="185.48" y="384" font-size="23.5" font-family="'Liberation Sans', Arial, Helvetica, sans-serif" text-anchor="middle" fill="#000">1.7</text>
<text x="244.92" y="384" font-size="23.5" font-family="'Liberation Sans', Arial, Helvetica, sans-serif" text-anchor="middle" fill="#000">1.8</text>
<text x="304.36" y="384" font-size="23.5" font-family="'Liberation Sans', Arial, Helvetica, sans-serif" text-anchor="middle" fill="#000">1.9</text>
<text x="363.8" y="384" font-size="23.5" font-family="'Liberation Sans', Arial, Helvetica, sans-serif" text-anchor="middle" fill="#000">2.0</text>
<line x1="59" y1="54.3" x2="67" y2="54.3" stroke="#111" stroke-width="1.2" stroke-linecap="butt"/>
<line x1="59" y1="153.77" x2="67" y2="153.77" stroke="#111" stroke-width="1.2" stroke-linecap="butt"/>
<line x1="59" y1="253.23" x2="67" y2="253.23" stroke="#111" stroke-width="1.2" stroke-linecap="butt"/>
<line x1="59" y1="352.7" x2="67" y2="352.7" stroke="#111" stroke-width="1.2" stroke-linecap="butt"/>
<line x1="59" y1="74.19" x2="63" y2="74.19" stroke="#111" stroke-width="1.2" stroke-linecap="butt"/>
<line x1="59" y1="94.09" x2="63" y2="94.09" stroke="#111" stroke-width="1.2" stroke-linecap="butt"/>
<line x1="59" y1="113.98" x2="63" y2="113.98" stroke="#111" stroke-width="1.2" stroke-linecap="butt"/>
<line x1="59" y1="133.87" x2="63" y2="133.87" stroke="#111" stroke-width="1.2" stroke-linecap="butt"/>
<line x1="59" y1="173.66" x2="63" y2="173.66" stroke="#111" stroke-width="1.2" stroke-linecap="butt"/>
<line x1="59" y1="193.55" x2="63" y2="193.55" stroke="#111" stroke-width="1.2" stroke-linecap="butt"/>
<line x1="59" y1="213.45" x2="63" y2="213.45" stroke="#111" stroke-width="1.2" stroke-linecap="butt"/>
<line x1="59" y1="233.34" x2="63" y2="233.34" stroke="#111" stroke-width="1.2" stroke-linecap="butt"/>
<line x1="59" y1="273.13" x2="63" y2="273.13" stroke="#111" stroke-width="1.2" stroke-linecap="butt"/>
<line x1="59" y1="293.02" x2="63" y2="293.02" stroke="#111" stroke-width="1.2" stroke-linecap="butt"/>
<line x1="59" y1="312.91" x2="63" y2="312.91" stroke="#111" stroke-width="1.2" stroke-linecap="butt"/>
<line x1="59" y1="332.81" x2="63" y2="332.81" stroke="#111" stroke-width="1.2" stroke-linecap="butt"/>
<text x="53" y="60.8" font-size="23.5" font-family="'Liberation Sans', Arial, Helvetica, sans-serif" text-anchor="end" fill="#000">10</text>
<text x="53" y="160.27" font-size="23.5" font-family="'Liberation Sans', Arial, Helvetica, sans-serif" text-anchor="end" fill="#000">5</text>
<text x="53" y="259.73" font-size="23.5" font-family="'Liberation Sans', Arial, Helvetica, sans-serif" text-anchor="end" fill="#000">0</text>
<text x="53" y="359.2" font-size="23.5" font-family="'Liberation Sans', Arial, Helvetica, sans-serif" text-anchor="end" fill="#000">-5</text>
<rect x="59" y="47" width="313.4" height="313" fill="none" stroke="#111" stroke-width="1.25"/>
<text x="23" y="203.5" font-size="28.5" font-family="'Liberation Sans', Arial, Helvetica, sans-serif" text-anchor="middle" transform="rotate(-90 23 203.5)" fill="#000">Energy (meV)</text>
<line x1="66.6" y1="741.3" x2="66.6" y2="733.3" stroke="#111" stroke-width="1.2" stroke-linecap="butt"/>
<line x1="126.04" y1="741.3" x2="126.04" y2="733.3" stroke="#111" stroke-width="1.2" stroke-linecap="butt"/>
<line x1="185.48" y1="741.3" x2="185.48" y2="733.3" stroke="#111" stroke-width="1.2" stroke-linecap="butt"/>
<line x1="244.92" y1="741.3" x2="244.92" y2="733.3" stroke="#111" stroke-width="1.2" stroke-linecap="butt"/>
<line x1="304.36" y1="741.3" x2="304.36" y2="733.3" stroke="#111" stroke-width="1.2" stroke-linecap="butt"/>
<line x1="363.8" y1="741.3" x2="363.8" y2="733.3" stroke="#111" stroke-width="1.2" stroke-linecap="butt"/>
<line x1="96.32" y1="741.3" x2="96.32" y2="737.3" stroke="#111" stroke-width="1.2" stroke-linecap="butt"/>
<line x1="155.76" y1="741.3" x2="155.76" y2="737.3" stroke="#111" stroke-width="1.2" stroke-linecap="butt"/>
<line x1="215.2" y1="741.3" x2="215.2" y2="737.3" stroke="#111" stroke-width="1.2" stroke-linecap="butt"/>
<line x1="274.64" y1="741.3" x2="274.64" y2="737.3" stroke="#111" stroke-width="1.2" stroke-linecap="butt"/>
<line x1="334.08" y1="741.3" x2="334.08" y2="737.3" stroke="#111" stroke-width="1.2" stroke-linecap="butt"/>
<text x="66.6" y="765.3" font-size="23.5" font-family="'Liberation Sans', Arial, Helvetica, sans-serif" text-anchor="middle" fill="#000">1.5</text>
<text x="126.04" y="765.3" font-size="23.5" font-family="'Liberation Sans', Arial, Helvetica, sans-serif" text-anchor="middle" fill="#000">1.6</text>
<text x="185.48" y="765.3" font-size="23.5" font-family="'Liberation Sans', Arial, Helvetica, sans-serif" text-anchor="middle" fill="#000">1.7</text>
<text x="244.92" y="765.3" font-size="23.5" font-family="'Liberation Sans', Arial, Helvetica, sans-serif" text-anchor="middle" fill="#000">1.8</text>
<text x="304.36" y="765.3" font-size="23.5" font-family="'Liberation Sans', Arial, Helvetica, sans-serif" text-anchor="middle" fill="#000">1.9</text>
<text x="363.8" y="765.3" font-size="23.5" font-family="'Liberation Sans', Arial, Helvetica, sans-serif" text-anchor="middle" fill="#000">2.0</text>
<line x1="59" y1="436.8" x2="67" y2="436.8" stroke="#111" stroke-width="1.2" stroke-linecap="butt"/>
<line x1="59" y1="536.1" x2="67" y2="536.1" stroke="#111" stroke-width="1.2" stroke-linecap="butt"/>
<line x1="59" y1="635.4" x2="67" y2="635.4" stroke="#111" stroke-width="1.2" stroke-linecap="butt"/>
<line x1="59" y1="734.7" x2="67" y2="734.7" stroke="#111" stroke-width="1.2" stroke-linecap="butt"/>
<line x1="59" y1="456.66" x2="63" y2="456.66" stroke="#111" stroke-width="1.2" stroke-linecap="butt"/>
<line x1="59" y1="476.52" x2="63" y2="476.52" stroke="#111" stroke-width="1.2" stroke-linecap="butt"/>
<line x1="59" y1="496.38" x2="63" y2="496.38" stroke="#111" stroke-width="1.2" stroke-linecap="butt"/>
<line x1="59" y1="516.24" x2="63" y2="516.24" stroke="#111" stroke-width="1.2" stroke-linecap="butt"/>
<line x1="59" y1="555.96" x2="63" y2="555.96" stroke="#111" stroke-width="1.2" stroke-linecap="butt"/>
<line x1="59" y1="575.82" x2="63" y2="575.82" stroke="#111" stroke-width="1.2" stroke-linecap="butt"/>
<line x1="59" y1="595.68" x2="63" y2="595.68" stroke="#111" stroke-width="1.2" stroke-linecap="butt"/>
<line x1="59" y1="615.54" x2="63" y2="615.54" stroke="#111" stroke-width="1.2" stroke-linecap="butt"/>
<line x1="59" y1="655.26" x2="63" y2="655.26" stroke="#111" stroke-width="1.2" stroke-linecap="butt"/>
<line x1="59" y1="675.12" x2="63" y2="675.12" stroke="#111" stroke-width="1.2" stroke-linecap="butt"/>
<line x1="59" y1="694.98" x2="63" y2="694.98" stroke="#111" stroke-width="1.2" stroke-linecap="butt"/>
<line x1="59" y1="714.84" x2="63" y2="714.84" stroke="#111" stroke-width="1.2" stroke-linecap="butt"/>
<text x="53" y="443.3" font-size="23.5" font-family="'Liberation Sans', Arial, Helvetica, sans-serif" text-anchor="end" fill="#000">10</text>
<text x="53" y="542.6" font-size="23.5" font-family="'Liberation Sans', Arial, Helvetica, sans-serif" text-anchor="end" fill="#000">5</text>
<text x="53" y="641.9" font-size="23.5" font-family="'Liberation Sans', Arial, Helvetica, sans-serif" text-anchor="end" fill="#000">0</text>
<text x="53" y="741.2" font-size="23.5" font-family="'Liberation Sans', Arial, Helvetica, sans-serif" text-anchor="end" fill="#000">-5</text>
<rect x="59" y="429.6" width="313.4" height="311.7" fill="none" stroke="#111" stroke-width="1.25"/>
<text x="23" y="585.45" font-size="28.5" font-family="'Liberation Sans', Arial, Helvetica, sans-serif" text-anchor="middle" transform="rotate(-90 23 585.45)" fill="#000">Energy (meV)</text>
<line x1="414.1" y1="353.5" x2="414.1" y2="361.5" stroke="#111" stroke-width="1.2" stroke-linecap="butt"/>
<line x1="473.8" y1="353.5" x2="473.8" y2="361.5" stroke="#111" stroke-width="1.2" stroke-linecap="butt"/>
<line x1="533.5" y1="353.5" x2="533.5" y2="361.5" stroke="#111" stroke-width="1.2" stroke-linecap="butt"/>
<line x1="443.95" y1="353.5" x2="443.95" y2="357.5" stroke="#111" stroke-width="1.2" stroke-linecap="butt"/>
<line x1="503.65" y1="353.5" x2="503.65" y2="357.5" stroke="#111" stroke-width="1.2" stroke-linecap="butt"/>
<text x="414.1" y="384" font-size="23.5" font-family="'Liberation Sans', Arial, Helvetica, sans-serif" text-anchor="middle" fill="#000">1.7</text>
<text x="473.8" y="384" font-size="23.5" font-family="'Liberation Sans', Arial, Helvetica, sans-serif" text-anchor="middle" fill="#000">1.8</text>
<text x="533.5" y="384" font-size="23.5" font-family="'Liberation Sans', Arial, Helvetica, sans-serif" text-anchor="middle" fill="#000">1.9</text>
<line x1="413.3" y1="52.6" x2="405.3" y2="52.6" stroke="#111" stroke-width="1.2" stroke-linecap="butt"/>
<line x1="413.3" y1="202.65" x2="405.3" y2="202.65" stroke="#111" stroke-width="1.2" stroke-linecap="butt"/>
<line x1="413.3" y1="352.7" x2="405.3" y2="352.7" stroke="#111" stroke-width="1.2" stroke-linecap="butt"/>
<line x1="413.3" y1="82.61" x2="409.3" y2="82.61" stroke="#111" stroke-width="1.2" stroke-linecap="butt"/>
<line x1="413.3" y1="112.62" x2="409.3" y2="112.62" stroke="#111" stroke-width="1.2" stroke-linecap="butt"/>
<line x1="413.3" y1="142.63" x2="409.3" y2="142.63" stroke="#111" stroke-width="1.2" stroke-linecap="butt"/>
<line x1="413.3" y1="172.64" x2="409.3" y2="172.64" stroke="#111" stroke-width="1.2" stroke-linecap="butt"/>
<line x1="413.3" y1="232.66" x2="409.3" y2="232.66" stroke="#111" stroke-width="1.2" stroke-linecap="butt"/>
<line x1="413.3" y1="262.67" x2="409.3" y2="262.67" stroke="#111" stroke-width="1.2" stroke-linecap="butt"/>
<line x1="413.3" y1="292.68" x2="409.3" y2="292.68" stroke="#111" stroke-width="1.2" stroke-linecap="butt"/>
<line x1="413.3" y1="322.69" x2="409.3" y2="322.69" stroke="#111" stroke-width="1.2" stroke-linecap="butt"/>
<text x="402.3" y="59.1" font-size="23.5" font-family="'Liberation Sans', Arial, Helvetica, sans-serif" text-anchor="end" fill="#000">5</text>
<text x="402.3" y="209.15" font-size="23.5" font-family="'Liberation Sans', Arial, Helvetica, sans-serif" text-anchor="end" fill="#000">0</text>
<text x="402.3" y="359.2" font-size="23.5" font-family="'Liberation Sans', Arial, Helvetica, sans-serif" text-anchor="end" fill="#000">-5</text>
<rect x="413.3" y="52" width="121.7" height="301.5" fill="none" stroke="#111" stroke-width="1.25"/>
<line x1="413.7" y1="736.3" x2="413.7" y2="744.3" stroke="#111" stroke-width="1.2" stroke-linecap="butt"/>
<line x1="473" y1="736.3" x2="473" y2="744.3" stroke="#111" stroke-width="1.2" stroke-linecap="butt"/>
<line x1="532.3" y1="736.3" x2="532.3" y2="744.3" stroke="#111" stroke-width="1.2" stroke-linecap="butt"/>
<line x1="443.35" y1="736.3" x2="443.35" y2="740.3" stroke="#111" stroke-width="1.2" stroke-linecap="butt"/>
<line x1="502.65" y1="736.3" x2="502.65" y2="740.3" stroke="#111" stroke-width="1.2" stroke-linecap="butt"/>
<text x="413.7" y="766.8" font-size="23.5" font-family="'Liberation Sans', Arial, Helvetica, sans-serif" text-anchor="middle" fill="#000">1.7</text>
<text x="473" y="766.8" font-size="23.5" font-family="'Liberation Sans', Arial, Helvetica, sans-serif" text-anchor="middle" fill="#000">1.8</text>
<text x="532.3" y="766.8" font-size="23.5" font-family="'Liberation Sans', Arial, Helvetica, sans-serif" text-anchor="middle" fill="#000">1.9</text>
<line x1="412.5" y1="437.3" x2="404.5" y2="437.3" stroke="#111" stroke-width="1.2" stroke-linecap="butt"/>
<line x1="412.5" y1="586.8" x2="404.5" y2="586.8" stroke="#111" stroke-width="1.2" stroke-linecap="butt"/>
<line x1="412.5" y1="736.3" x2="404.5" y2="736.3" stroke="#111" stroke-width="1.2" stroke-linecap="butt"/>
<line x1="412.5" y1="467.2" x2="408.5" y2="467.2" stroke="#111" stroke-width="1.2" stroke-linecap="butt"/>
<line x1="412.5" y1="497.1" x2="408.5" y2="497.1" stroke="#111" stroke-width="1.2" stroke-linecap="butt"/>
<line x1="412.5" y1="527" x2="408.5" y2="527" stroke="#111" stroke-width="1.2" stroke-linecap="butt"/>
<line x1="412.5" y1="556.9" x2="408.5" y2="556.9" stroke="#111" stroke-width="1.2" stroke-linecap="butt"/>
<line x1="412.5" y1="616.7" x2="408.5" y2="616.7" stroke="#111" stroke-width="1.2" stroke-linecap="butt"/>
<line x1="412.5" y1="646.6" x2="408.5" y2="646.6" stroke="#111" stroke-width="1.2" stroke-linecap="butt"/>
<line x1="412.5" y1="676.5" x2="408.5" y2="676.5" stroke="#111" stroke-width="1.2" stroke-linecap="butt"/>
<line x1="412.5" y1="706.4" x2="408.5" y2="706.4" stroke="#111" stroke-width="1.2" stroke-linecap="butt"/>
<text x="401.5" y="443.8" font-size="23.5" font-family="'Liberation Sans', Arial, Helvetica, sans-serif" text-anchor="end" fill="#000">5</text>
<text x="401.5" y="593.3" font-size="23.5" font-family="'Liberation Sans', Arial, Helvetica, sans-serif" text-anchor="end" fill="#000">0</text>
<text x="401.5" y="742.8" font-size="23.5" font-family="'Liberation Sans', Arial, Helvetica, sans-serif" text-anchor="end" fill="#000">-5</text>
<rect x="412.5" y="436.8" width="121.8" height="299.5" fill="none" stroke="#111" stroke-width="1.25"/>
<line x1="631.2" y1="359.3" x2="631.2" y2="351.3" stroke="#111" stroke-width="1.2" stroke-linecap="butt"/>
<line x1="690.76" y1="359.3" x2="690.76" y2="351.3" stroke="#111" stroke-width="1.2" stroke-linecap="butt"/>
<line x1="750.32" y1="359.3" x2="750.32" y2="351.3" stroke="#111" stroke-width="1.2" stroke-linecap="butt"/>
<line x1="809.88" y1="359.3" x2="809.88" y2="351.3" stroke="#111" stroke-width="1.2" stroke-linecap="butt"/>
<line x1="869.44" y1="359.3" x2="869.44" y2="351.3" stroke="#111" stroke-width="1.2" stroke-linecap="butt"/>
<line x1="929" y1="359.3" x2="929" y2="351.3" stroke="#111" stroke-width="1.2" stroke-linecap="butt"/>
<line x1="660.98" y1="359.3" x2="660.98" y2="355.3" stroke="#111" stroke-width="1.2" stroke-linecap="butt"/>
<line x1="720.54" y1="359.3" x2="720.54" y2="355.3" stroke="#111" stroke-width="1.2" stroke-linecap="butt"/>
<line x1="780.1" y1="359.3" x2="780.1" y2="355.3" stroke="#111" stroke-width="1.2" stroke-linecap="butt"/>
<line x1="839.66" y1="359.3" x2="839.66" y2="355.3" stroke="#111" stroke-width="1.2" stroke-linecap="butt"/>
<line x1="899.22" y1="359.3" x2="899.22" y2="355.3" stroke="#111" stroke-width="1.2" stroke-linecap="butt"/>
<text x="631.2" y="383.3" font-size="23.5" font-family="'Liberation Sans', Arial, Helvetica, sans-serif" text-anchor="middle" fill="#000">7.5</text>
<text x="690.76" y="383.3" font-size="23.5" font-family="'Liberation Sans', Arial, Helvetica, sans-serif" text-anchor="middle" fill="#000">7.6</text>
<text x="750.32" y="383.3" font-size="23.5" font-family="'Liberation Sans', Arial, Helvetica, sans-serif" text-anchor="middle" fill="#000">7.7</text>
<text x="809.88" y="383.3" font-size="23.5" font-family="'Liberation Sans', Arial, Helvetica, sans-serif" text-anchor="middle" fill="#000">7.8</text>
<text x="869.44" y="383.3" font-size="23.5" font-family="'Liberation Sans', Arial, Helvetica, sans-serif" text-anchor="middle" fill="#000">7.9</text>
<text x="929" y="383.3" font-size="23.5" font-family="'Liberation Sans', Arial, Helvetica, sans-serif" text-anchor="middle" fill="#000">8.0</text>
<line x1="625" y1="54.3" x2="633" y2="54.3" stroke="#111" stroke-width="1.2" stroke-linecap="butt"/>
<line x1="625" y1="153.77" x2="633" y2="153.77" stroke="#111" stroke-width="1.2" stroke-linecap="butt"/>
<line x1="625" y1="253.23" x2="633" y2="253.23" stroke="#111" stroke-width="1.2" stroke-linecap="butt"/>
<line x1="625" y1="352.7" x2="633" y2="352.7" stroke="#111" stroke-width="1.2" stroke-linecap="butt"/>
<line x1="625" y1="74.19" x2="629" y2="74.19" stroke="#111" stroke-width="1.2" stroke-linecap="butt"/>
<line x1="625" y1="94.09" x2="629" y2="94.09" stroke="#111" stroke-width="1.2" stroke-linecap="butt"/>
<line x1="625" y1="113.98" x2="629" y2="113.98" stroke="#111" stroke-width="1.2" stroke-linecap="butt"/>
<line x1="625" y1="133.87" x2="629" y2="133.87" stroke="#111" stroke-width="1.2" stroke-linecap="butt"/>
<line x1="625" y1="173.66" x2="629" y2="173.66" stroke="#111" stroke-width="1.2" stroke-linecap="butt"/>
<line x1="625" y1="193.55" x2="629" y2="193.55" stroke="#111" stroke-width="1.2" stroke-linecap="butt"/>
<line x1="625" y1="213.45" x2="629" y2="213.45" stroke="#111" stroke-width="1.2" stroke-linecap="butt"/>
<line x1="625" y1="233.34" x2="629" y2="233.34" stroke="#111" stroke-width="1.2" stroke-linecap="butt"/>
<line x1="625" y1="273.13" x2="629" y2="273.13" stroke="#111" stroke-width="1.2" stroke-linecap="butt"/>
<line x1="625" y1="293.02" x2="629" y2="293.02" stroke="#111" stroke-width="1.2" stroke-linecap="butt"/>
<line x1="625" y1="312.91" x2="629" y2="312.91" stroke="#111" stroke-width="1.2" stroke-linecap="butt"/>
<line x1="625" y1="332.81" x2="629" y2="332.81" stroke="#111" stroke-width="1.2" stroke-linecap="butt"/>
<text x="619" y="60.8" font-size="23.5" font-family="'Liberation Sans', Arial, Helvetica, sans-serif" text-anchor="end" fill="#000">10</text>
<text x="619" y="160.27" font-size="23.5" font-family="'Liberation Sans', Arial, Helvetica, sans-serif" text-anchor="end" fill="#000">5</text>
<text x="619" y="259.73" font-size="23.5" font-family="'Liberation Sans', Arial, Helvetica, sans-serif" text-anchor="end" fill="#000">0</text>
<text x="619" y="359.2" font-size="23.5" font-family="'Liberation Sans', Arial, Helvetica, sans-serif" text-anchor="end" fill="#000">-5</text>
<rect x="625" y="47.6" width="310.5" height="311.7" fill="none" stroke="#111" stroke-width="1.25"/>
<text x="589.5" y="203.45" font-size="28.5" font-family="'Liberation Sans', Arial, Helvetica, sans-serif" text-anchor="middle" transform="rotate(-90 589.5 203.45)" fill="#000">Energy (meV)</text>
<line x1="630.2" y1="741" x2="630.2" y2="733" stroke="#111" stroke-width="1.2" stroke-linecap="butt"/>
<line x1="689.8" y1="741" x2="689.8" y2="733" stroke="#111" stroke-width="1.2" stroke-linecap="butt"/>
<line x1="749.4" y1="741" x2="749.4" y2="733" stroke="#111" stroke-width="1.2" stroke-linecap="butt"/>
<line x1="809" y1="741" x2="809" y2="733" stroke="#111" stroke-width="1.2" stroke-linecap="butt"/>
<line x1="868.6" y1="741" x2="868.6" y2="733" stroke="#111" stroke-width="1.2" stroke-linecap="butt"/>
<line x1="928.2" y1="741" x2="928.2" y2="733" stroke="#111" stroke-width="1.2" stroke-linecap="butt"/>
<line x1="660" y1="741" x2="660" y2="737" stroke="#111" stroke-width="1.2" stroke-linecap="butt"/>
<line x1="719.6" y1="741" x2="719.6" y2="737" stroke="#111" stroke-width="1.2" stroke-linecap="butt"/>
<line x1="779.2" y1="741" x2="779.2" y2="737" stroke="#111" stroke-width="1.2" stroke-linecap="butt"/>
<line x1="838.8" y1="741" x2="838.8" y2="737" stroke="#111" stroke-width="1.2" stroke-linecap="butt"/>
<line x1="898.4" y1="741" x2="898.4" y2="737" stroke="#111" stroke-width="1.2" stroke-linecap="butt"/>
<text x="630.2" y="765" font-size="23.5" font-family="'Liberation Sans', Arial, Helvetica, sans-serif" text-anchor="middle" fill="#000">7.5</text>
<text x="689.8" y="765" font-size="23.5" font-family="'Liberation Sans', Arial, Helvetica, sans-serif" text-anchor="middle" fill="#000">7.6</text>
<text x="749.4" y="765" font-size="23.5" font-family="'Liberation Sans', Arial, Helvetica, sans-serif" text-anchor="middle" fill="#000">7.7</text>
<text x="809" y="765" font-size="23.5" font-family="'Liberation Sans', Arial, Helvetica, sans-serif" text-anchor="middle" fill="#000">7.8</text>
<text x="868.6" y="765" font-size="23.5" font-family="'Liberation Sans', Arial, Helvetica, sans-serif" text-anchor="middle" fill="#000">7.9</text>
<text x="928.2" y="765" font-size="23.5" font-family="'Liberation Sans', Arial, Helvetica, sans-serif" text-anchor="middle" fill="#000">8.0</text>
<line x1="624" y1="436.8" x2="632" y2="436.8" stroke="#111" stroke-width="1.2" stroke-linecap="butt"/>
<line x1="624" y1="536.1" x2="632" y2="536.1" stroke="#111" stroke-width="1.2" stroke-linecap="butt"/>
<line x1="624" y1="635.4" x2="632" y2="635.4" stroke="#111" stroke-width="1.2" stroke-linecap="butt"/>
<line x1="624" y1="734.7" x2="632" y2="734.7" stroke="#111" stroke-width="1.2" stroke-linecap="butt"/>
<line x1="624" y1="456.66" x2="628" y2="456.66" stroke="#111" stroke-width="1.2" stroke-linecap="butt"/>
<line x1="624" y1="476.52" x2="628" y2="476.52" stroke="#111" stroke-width="1.2" stroke-linecap="butt"/>
<line x1="624" y1="496.38" x2="628" y2="496.38" stroke="#111" stroke-width="1.2" stroke-linecap="butt"/>
<line x1="624" y1="516.24" x2="628" y2="516.24" stroke="#111" stroke-width="1.2" stroke-linecap="butt"/>
<line x1="624" y1="555.96" x2="628" y2="555.96" stroke="#111" stroke-width="1.2" stroke-linecap="butt"/>
<line x1="624" y1="575.82" x2="628" y2="575.82" stroke="#111" stroke-width="1.2" stroke-linecap="butt"/>
<line x1="624" y1="595.68" x2="628" y2="595.68" stroke="#111" stroke-width="1.2" stroke-linecap="butt"/>
<line x1="624" y1="615.54" x2="628" y2="615.54" stroke="#111" stroke-width="1.2" stroke-linecap="butt"/>
<line x1="624" y1="655.26" x2="628" y2="655.26" stroke="#111" stroke-width="1.2" stroke-linecap="butt"/>
<line x1="624" y1="675.12" x2="628" y2="675.12" stroke="#111" stroke-width="1.2" stroke-linecap="butt"/>
<line x1="624" y1="694.98" x2="628" y2="694.98" stroke="#111" stroke-width="1.2" stroke-linecap="butt"/>
<line x1="624" y1="714.84" x2="628" y2="714.84" stroke="#111" stroke-width="1.2" stroke-linecap="butt"/>
<text x="618" y="443.3" font-size="23.5" font-family="'Liberation Sans', Arial, Helvetica, sans-serif" text-anchor="end" fill="#000">10</text>
<text x="618" y="542.6" font-size="23.5" font-family="'Liberation Sans', Arial, Helvetica, sans-serif" text-anchor="end" fill="#000">5</text>
<text x="618" y="641.9" font-size="23.5" font-family="'Liberation Sans', Arial, Helvetica, sans-serif" text-anchor="end" fill="#000">0</text>
<text x="618" y="741.2" font-size="23.5" font-family="'Liberation Sans', Arial, Helvetica, sans-serif" text-anchor="end" fill="#000">-5</text>
<rect x="624" y="430.6" width="310.3" height="310.4" fill="none" stroke="#111" stroke-width="1.25"/>
<text x="589.5" y="585.8" font-size="28.5" font-family="'Liberation Sans', Arial, Helvetica, sans-serif" text-anchor="middle" transform="rotate(-90 589.5 585.8)" fill="#000">Energy (meV)</text>
<line x1="981.4" y1="354" x2="981.4" y2="362" stroke="#111" stroke-width="1.2" stroke-linecap="butt"/>
<line x1="1040.95" y1="354" x2="1040.95" y2="362" stroke="#111" stroke-width="1.2" stroke-linecap="butt"/>
<line x1="1100.5" y1="354" x2="1100.5" y2="362" stroke="#111" stroke-width="1.2" stroke-linecap="butt"/>
<line x1="1011.17" y1="354" x2="1011.17" y2="358" stroke="#111" stroke-width="1.2" stroke-linecap="butt"/>
<line x1="1070.72" y1="354" x2="1070.72" y2="358" stroke="#111" stroke-width="1.2" stroke-linecap="butt"/>
<text x="981.4" y="384.5" font-size="23.5" font-family="'Liberation Sans', Arial, Helvetica, sans-serif" text-anchor="middle" fill="#000">7.7</text>
<text x="1040.95" y="384.5" font-size="23.5" font-family="'Liberation Sans', Arial, Helvetica, sans-serif" text-anchor="middle" fill="#000">7.8</text>
<text x="1100.5" y="384.5" font-size="23.5" font-family="'Liberation Sans', Arial, Helvetica, sans-serif" text-anchor="middle" fill="#000">7.9</text>
<line x1="980.2" y1="52.6" x2="972.2" y2="52.6" stroke="#111" stroke-width="1.2" stroke-linecap="butt"/>
<line x1="980.2" y1="202.65" x2="972.2" y2="202.65" stroke="#111" stroke-width="1.2" stroke-linecap="butt"/>
<line x1="980.2" y1="352.7" x2="972.2" y2="352.7" stroke="#111" stroke-width="1.2" stroke-linecap="butt"/>
<line x1="980.2" y1="82.61" x2="976.2" y2="82.61" stroke="#111" stroke-width="1.2" stroke-linecap="butt"/>
<line x1="980.2" y1="112.62" x2="976.2" y2="112.62" stroke="#111" stroke-width="1.2" stroke-linecap="butt"/>
<line x1="980.2" y1="142.63" x2="976.2" y2="142.63" stroke="#111" stroke-width="1.2" stroke-linecap="butt"/>
<line x1="980.2" y1="172.64" x2="976.2" y2="172.64" stroke="#111" stroke-width="1.2" stroke-linecap="butt"/>
<line x1="980.2" y1="232.66" x2="976.2" y2="232.66" stroke="#111" stroke-width="1.2" stroke-linecap="butt"/>
<line x1="980.2" y1="262.67" x2="976.2" y2="262.67" stroke="#111" stroke-width="1.2" stroke-linecap="butt"/>
<line x1="980.2" y1="292.68" x2="976.2" y2="292.68" stroke="#111" stroke-width="1.2" stroke-linecap="butt"/>
<line x1="980.2" y1="322.69" x2="976.2" y2="322.69" stroke="#111" stroke-width="1.2" stroke-linecap="butt"/>
<text x="969.2" y="59.1" font-size="23.5" font-family="'Liberation Sans', Arial, Helvetica, sans-serif" text-anchor="end" fill="#000">5</text>
<text x="969.2" y="209.15" font-size="23.5" font-family="'Liberation Sans', Arial, Helvetica, sans-serif" text-anchor="end" fill="#000">0</text>
<text x="969.2" y="359.2" font-size="23.5" font-family="'Liberation Sans', Arial, Helvetica, sans-serif" text-anchor="end" fill="#000">-5</text>
<rect x="980.2" y="51.7" width="121.8" height="302.3" fill="none" stroke="#111" stroke-width="1.25"/>
<line x1="981.4" y1="737" x2="981.4" y2="745" stroke="#111" stroke-width="1.2" stroke-linecap="butt"/>
<line x1="1040.95" y1="737" x2="1040.95" y2="745" stroke="#111" stroke-width="1.2" stroke-linecap="butt"/>
<line x1="1100.5" y1="737" x2="1100.5" y2="745" stroke="#111" stroke-width="1.2" stroke-linecap="butt"/>
<line x1="1011.17" y1="737" x2="1011.17" y2="741" stroke="#111" stroke-width="1.2" stroke-linecap="butt"/>
<line x1="1070.72" y1="737" x2="1070.72" y2="741" stroke="#111" stroke-width="1.2" stroke-linecap="butt"/>
<text x="981.4" y="767.5" font-size="23.5" font-family="'Liberation Sans', Arial, Helvetica, sans-serif" text-anchor="middle" fill="#000">7.7</text>
<text x="1040.95" y="767.5" font-size="23.5" font-family="'Liberation Sans', Arial, Helvetica, sans-serif" text-anchor="middle" fill="#000">7.8</text>
<text x="1100.5" y="767.5" font-size="23.5" font-family="'Liberation Sans', Arial, Helvetica, sans-serif" text-anchor="middle" fill="#000">7.9</text>
<line x1="980.2" y1="436.8" x2="972.2" y2="436.8" stroke="#111" stroke-width="1.2" stroke-linecap="butt"/>
<line x1="980.2" y1="585.9" x2="972.2" y2="585.9" stroke="#111" stroke-width="1.2" stroke-linecap="butt"/>
<line x1="980.2" y1="735" x2="972.2" y2="735" stroke="#111" stroke-width="1.2" stroke-linecap="butt"/>
<line x1="980.2" y1="466.62" x2="976.2" y2="466.62" stroke="#111" stroke-width="1.2" stroke-linecap="butt"/>
<line x1="980.2" y1="496.44" x2="976.2" y2="496.44" stroke="#111" stroke-width="1.2" stroke-linecap="butt"/>
<line x1="980.2" y1="526.26" x2="976.2" y2="526.26" stroke="#111" stroke-width="1.2" stroke-linecap="butt"/>
<line x1="980.2" y1="556.08" x2="976.2" y2="556.08" stroke="#111" stroke-width="1.2" stroke-linecap="butt"/>
<line x1="980.2" y1="615.72" x2="976.2" y2="615.72" stroke="#111" stroke-width="1.2" stroke-linecap="butt"/>
<line x1="980.2" y1="645.54" x2="976.2" y2="645.54" stroke="#111" stroke-width="1.2" stroke-linecap="butt"/>
<line x1="980.2" y1="675.36" x2="976.2" y2="675.36" stroke="#111" stroke-width="1.2" stroke-linecap="butt"/>
<line x1="980.2" y1="705.18" x2="976.2" y2="705.18" stroke="#111" stroke-width="1.2" stroke-linecap="butt"/>
<text x="969.2" y="443.3" font-size="23.5" font-family="'Liberation Sans', Arial, Helvetica, sans-serif" text-anchor="end" fill="#000">5</text>
<text x="969.2" y="592.4" font-size="23.5" font-family="'Liberation Sans', Arial, Helvetica, sans-serif" text-anchor="end" fill="#000">0</text>
<text x="969.2" y="741.5" font-size="23.5" font-family="'Liberation Sans', Arial, Helvetica, sans-serif" text-anchor="end" fill="#000">-5</text>
<rect x="980.2" y="436.8" width="121.6" height="300.2" fill="none" stroke="#111" stroke-width="1.25"/>
<line x1="1200.9" y1="741.7" x2="1200.9" y2="732.7" stroke="#111" stroke-width="1.2" stroke-linecap="butt"/>
<line x1="1260.4" y1="741.7" x2="1260.4" y2="732.7" stroke="#111" stroke-width="1.2" stroke-linecap="butt"/>
<line x1="1319.9" y1="741.7" x2="1319.9" y2="732.7" stroke="#111" stroke-width="1.2" stroke-linecap="butt"/>
<line x1="1379.4" y1="741.7" x2="1379.4" y2="732.7" stroke="#111" stroke-width="1.2" stroke-linecap="butt"/>
<line x1="1438.9" y1="741.7" x2="1438.9" y2="732.7" stroke="#111" stroke-width="1.2" stroke-linecap="butt"/>
<line x1="1498.4" y1="741.7" x2="1498.4" y2="732.7" stroke="#111" stroke-width="1.2" stroke-linecap="butt"/>
<line x1="1230.65" y1="741.7" x2="1230.65" y2="736.7" stroke="#111" stroke-width="1.2" stroke-linecap="butt"/>
<line x1="1290.15" y1="741.7" x2="1290.15" y2="736.7" stroke="#111" stroke-width="1.2" stroke-linecap="butt"/>
<line x1="1349.65" y1="741.7" x2="1349.65" y2="736.7" stroke="#111" stroke-width="1.2" stroke-linecap="butt"/>
<line x1="1409.15" y1="741.7" x2="1409.15" y2="736.7" stroke="#111" stroke-width="1.2" stroke-linecap="butt"/>
<line x1="1468.65" y1="741.7" x2="1468.65" y2="736.7" stroke="#111" stroke-width="1.2" stroke-linecap="butt"/>
<text x="1200.9" y="766" font-size="23.5" font-family="'Liberation Sans', Arial, Helvetica, sans-serif" text-anchor="middle" fill="#000">1.5</text>
<text x="1260.4" y="766" font-size="23.5" font-family="'Liberation Sans', Arial, Helvetica, sans-serif" text-anchor="middle" fill="#000">1.6</text>
<text x="1319.9" y="766" font-size="23.5" font-family="'Liberation Sans', Arial, Helvetica, sans-serif" text-anchor="middle" fill="#000">1.7</text>
<text x="1379.4" y="766" font-size="23.5" font-family="'Liberation Sans', Arial, Helvetica, sans-serif" text-anchor="middle" fill="#000">1.8</text>
<text x="1438.9" y="766" font-size="23.5" font-family="'Liberation Sans', Arial, Helvetica, sans-serif" text-anchor="middle" fill="#000">1.9</text>
<text x="1498.4" y="766" font-size="23.5" font-family="'Liberation Sans', Arial, Helvetica, sans-serif" text-anchor="middle" fill="#000">2.0</text>
<line x1="1194.3" y1="54.4" x2="1204.8" y2="54.4" stroke="#111" stroke-width="1.2" stroke-linecap="butt"/>
<line x1="1194.3" y1="224.9" x2="1204.8" y2="224.9" stroke="#111" stroke-width="1.2" stroke-linecap="butt"/>
<line x1="1194.3" y1="395.4" x2="1204.8" y2="395.4" stroke="#111" stroke-width="1.2" stroke-linecap="butt"/>
<line x1="1194.3" y1="565.9" x2="1204.8" y2="565.9" stroke="#111" stroke-width="1.2" stroke-linecap="butt"/>
<line x1="1194.3" y1="736.4" x2="1204.8" y2="736.4" stroke="#111" stroke-width="1.2" stroke-linecap="butt"/>
<line x1="1194.3" y1="139.65" x2="1199.3" y2="139.65" stroke="#111" stroke-width="1.2" stroke-linecap="butt"/>
<line x1="1194.3" y1="310.15" x2="1199.3" y2="310.15" stroke="#111" stroke-width="1.2" stroke-linecap="butt"/>
<line x1="1194.3" y1="480.65" x2="1199.3" y2="480.65" stroke="#111" stroke-width="1.2" stroke-linecap="butt"/>
<line x1="1194.3" y1="651.15" x2="1199.3" y2="651.15" stroke="#111" stroke-width="1.2" stroke-linecap="butt"/>
<text x="1189.3" y="60.9" font-size="23.5" font-family="'Liberation Sans', Arial, Helvetica, sans-serif" text-anchor="end" fill="#000">8</text>
<text x="1189.3" y="231.4" font-size="23.5" font-family="'Liberation Sans', Arial, Helvetica, sans-serif" text-anchor="end" fill="#000">6</text>
<text x="1189.3" y="401.9" font-size="23.5" font-family="'Liberation Sans', Arial, Helvetica, sans-serif" text-anchor="end" fill="#000">4</text>
<text x="1189.3" y="572.4" font-size="23.5" font-family="'Liberation Sans', Arial, Helvetica, sans-serif" text-anchor="end" fill="#000">2</text>
<text x="1189.3" y="742.9" font-size="23.5" font-family="'Liberation Sans', Arial, Helvetica, sans-serif" text-anchor="end" fill="#000">0</text>
<rect x="1194.3" y="47.9" width="310.3" height="693.8" fill="none" stroke="#111" stroke-width="1.25"/>
<text x="1157.5" y="394.5" font-size="28.5" font-family="'Liberation Sans', Arial, Helvetica, sans-serif" text-anchor="middle" transform="rotate(-90 1157.5 394.5)" fill="#000">Energy (meV)</text>
<text x="1350" y="807.6" font-size="28.5" font-family="'Liberation Sans', Arial, Helvetica, sans-serif" text-anchor="middle" fill="#000">L (r.l.u.)</text>
<line x1="1661.24" y1="360.5" x2="1661.24" y2="352.5" stroke="#111" stroke-width="1.2" stroke-linecap="butt"/>
<line x1="1720.92" y1="360.5" x2="1720.92" y2="352.5" stroke="#111" stroke-width="1.2" stroke-linecap="butt"/>
<line x1="1780.6" y1="360.5" x2="1780.6" y2="352.5" stroke="#111" stroke-width="1.2" stroke-linecap="butt"/>
<line x1="1840.28" y1="360.5" x2="1840.28" y2="352.5" stroke="#111" stroke-width="1.2" stroke-linecap="butt"/>
<line x1="1899.96" y1="360.5" x2="1899.96" y2="352.5" stroke="#111" stroke-width="1.2" stroke-linecap="butt"/>
<text x="1661.24" y="384.5" font-size="23.5" font-family="'Liberation Sans', Arial, Helvetica, sans-serif" text-anchor="middle" fill="#000">-4</text>
<text x="1720.92" y="384.5" font-size="23.5" font-family="'Liberation Sans', Arial, Helvetica, sans-serif" text-anchor="middle" fill="#000">-2</text>
<text x="1780.6" y="384.5" font-size="23.5" font-family="'Liberation Sans', Arial, Helvetica, sans-serif" text-anchor="middle" fill="#000">0</text>
<text x="1840.28" y="384.5" font-size="23.5" font-family="'Liberation Sans', Arial, Helvetica, sans-serif" text-anchor="middle" fill="#000">2</text>
<text x="1899.96" y="384.5" font-size="23.5" font-family="'Liberation Sans', Arial, Helvetica, sans-serif" text-anchor="middle" fill="#000">4</text>
<line x1="1624" y1="352.2" x2="1634" y2="352.2" stroke="#111" stroke-width="1.2" stroke-linecap="butt"/>
<line x1="1624" y1="267.3" x2="1634" y2="267.3" stroke="#111" stroke-width="1.2" stroke-linecap="butt"/>
<line x1="1624" y1="182.4" x2="1634" y2="182.4" stroke="#111" stroke-width="1.2" stroke-linecap="butt"/>
<line x1="1624" y1="97.5" x2="1634" y2="97.5" stroke="#111" stroke-width="1.2" stroke-linecap="butt"/>
<line x1="1624" y1="309.75" x2="1629" y2="309.75" stroke="#111" stroke-width="1.2" stroke-linecap="butt"/>
<line x1="1624" y1="224.85" x2="1629" y2="224.85" stroke="#111" stroke-width="1.2" stroke-linecap="butt"/>
<line x1="1624" y1="139.95" x2="1629" y2="139.95" stroke="#111" stroke-width="1.2" stroke-linecap="butt"/>
<line x1="1624" y1="55.05" x2="1629" y2="55.05" stroke="#111" stroke-width="1.2" stroke-linecap="butt"/>
<text x="1617.5" y="358.7" font-size="23.5" font-family="'Liberation Sans', Arial, Helvetica, sans-serif" text-anchor="end" fill="#000">0</text>
<text x="1617.5" y="273.8" font-size="23.5" font-family="'Liberation Sans', Arial, Helvetica, sans-serif" text-anchor="end" fill="#000">100</text>
<text x="1617.5" y="188.9" font-size="23.5" font-family="'Liberation Sans', Arial, Helvetica, sans-serif" text-anchor="end" fill="#000">200</text>
<text x="1617.5" y="104" font-size="23.5" font-family="'Liberation Sans', Arial, Helvetica, sans-serif" text-anchor="end" fill="#000">300</text>
<rect x="1624" y="47.7" width="313.6" height="312.8" fill="none" stroke="#111" stroke-width="1.25"/>
<text x="1553.5" y="203.5" font-size="29" font-family="'Liberation Sans', Arial, Helvetica, sans-serif" text-anchor="middle" transform="rotate(-90 1553.5 203.5)" fill="#000">Intensity (Counts/s)</text>
<text x="1785.6" y="411.2" font-size="28.5" font-family="'Liberation Sans', Arial, Helvetica, sans-serif" text-anchor="middle" fill="#000">Energy (meV)</text>
<line x1="1633" y1="748.8" x2="1633" y2="740.8" stroke="#111" stroke-width="1.2" stroke-linecap="butt"/>
<line x1="1692.6" y1="748.8" x2="1692.6" y2="740.8" stroke="#111" stroke-width="1.2" stroke-linecap="butt"/>
<line x1="1752.2" y1="748.8" x2="1752.2" y2="740.8" stroke="#111" stroke-width="1.2" stroke-linecap="butt"/>
<line x1="1811.8" y1="748.8" x2="1811.8" y2="740.8" stroke="#111" stroke-width="1.2" stroke-linecap="butt"/>
<line x1="1871.4" y1="748.8" x2="1871.4" y2="740.8" stroke="#111" stroke-width="1.2" stroke-linecap="butt"/>
<line x1="1931" y1="748.8" x2="1931" y2="740.8" stroke="#111" stroke-width="1.2" stroke-linecap="butt"/>
<text x="1633" y="772.3" font-size="23.5" font-family="'Liberation Sans', Arial, Helvetica, sans-serif" text-anchor="middle" fill="#000">1.5</text>
<text x="1692.6" y="772.3" font-size="23.5" font-family="'Liberation Sans', Arial, Helvetica, sans-serif" text-anchor="middle" fill="#000">1.6</text>
<text x="1752.2" y="772.3" font-size="23.5" font-family="'Liberation Sans', Arial, Helvetica, sans-serif" text-anchor="middle" fill="#000">1.7</text>
<text x="1811.8" y="772.3" font-size="23.5" font-family="'Liberation Sans', Arial, Helvetica, sans-serif" text-anchor="middle" fill="#000">1.8</text>
<text x="1871.4" y="772.3" font-size="23.5" font-family="'Liberation Sans', Arial, Helvetica, sans-serif" text-anchor="middle" fill="#000">1.9</text>
<text x="1931" y="772.3" font-size="23.5" font-family="'Liberation Sans', Arial, Helvetica, sans-serif" text-anchor="middle" fill="#000">2.0</text>
<line x1="1624" y1="739.6" x2="1632" y2="739.6" stroke="#111" stroke-width="1.2" stroke-linecap="butt"/>
<line x1="1624" y1="640.37" x2="1632" y2="640.37" stroke="#111" stroke-width="1.2" stroke-linecap="butt"/>
<line x1="1624" y1="541.13" x2="1632" y2="541.13" stroke="#111" stroke-width="1.2" stroke-linecap="butt"/>
<line x1="1624" y1="441.9" x2="1632" y2="441.9" stroke="#111" stroke-width="1.2" stroke-linecap="butt"/>
<line x1="1624" y1="719.75" x2="1628" y2="719.75" stroke="#111" stroke-width="1.2" stroke-linecap="butt"/>
<line x1="1624" y1="699.91" x2="1628" y2="699.91" stroke="#111" stroke-width="1.2" stroke-linecap="butt"/>
<line x1="1624" y1="680.06" x2="1628" y2="680.06" stroke="#111" stroke-width="1.2" stroke-linecap="butt"/>
<line x1="1624" y1="660.21" x2="1628" y2="660.21" stroke="#111" stroke-width="1.2" stroke-linecap="butt"/>
<line x1="1624" y1="620.52" x2="1628" y2="620.52" stroke="#111" stroke-width="1.2" stroke-linecap="butt"/>
<line x1="1624" y1="600.67" x2="1628" y2="600.67" stroke="#111" stroke-width="1.2" stroke-linecap="butt"/>
<line x1="1624" y1="580.83" x2="1628" y2="580.83" stroke="#111" stroke-width="1.2" stroke-linecap="butt"/>
<line x1="1624" y1="560.98" x2="1628" y2="560.98" stroke="#111" stroke-width="1.2" stroke-linecap="butt"/>
<line x1="1624" y1="521.29" x2="1628" y2="521.29" stroke="#111" stroke-width="1.2" stroke-linecap="butt"/>
<line x1="1624" y1="501.44" x2="1628" y2="501.44" stroke="#111" stroke-width="1.2" stroke-linecap="butt"/>
<line x1="1624" y1="481.59" x2="1628" y2="481.59" stroke="#111" stroke-width="1.2" stroke-linecap="butt"/>
<line x1="1624" y1="461.75" x2="1628" y2="461.75" stroke="#111" stroke-width="1.2" stroke-linecap="butt"/>
<text x="1617" y="746.1" font-size="23.5" font-family="'Liberation Sans', Arial, Helvetica, sans-serif" text-anchor="end" fill="#000">0.0</text>
<text x="1617" y="646.87" font-size="23.5" font-family="'Liberation Sans', Arial, Helvetica, sans-serif" text-anchor="end" fill="#000">0.5</text>
<text x="1617" y="547.63" font-size="23.5" font-family="'Liberation Sans', Arial, Helvetica, sans-serif" text-anchor="end" fill="#000">1.0</text>
<text x="1617" y="448.4" font-size="23.5" font-family="'Liberation Sans', Arial, Helvetica, sans-serif" text-anchor="end" fill="#000">1.5</text>
<rect x="1624" y="434.7" width="314.8" height="314.1" fill="none" stroke="#111" stroke-width="1.25"/>
<text x="1554" y="587.7" font-size="28.5" font-family="'Liberation Sans', Arial, Helvetica, sans-serif" text-anchor="middle" transform="rotate(-90 1554 587.7)" fill="#000">ΔE (meV)</text>
<text x="1786.2" y="812.7" font-size="28.5" font-family="'Liberation Sans', Arial, Helvetica, sans-serif" text-anchor="middle" fill="#000">L (r.l.u.)</text>
<text x="214.6" y="807" font-size="28.5" font-family="'Liberation Sans', Arial, Helvetica, sans-serif" text-anchor="middle" fill="#000">(2, 2, L) r.l.u.</text>
<text x="779.7" y="807" font-size="28.5" font-family="'Liberation Sans', Arial, Helvetica, sans-serif" text-anchor="middle" fill="#000" xml:space="preserve">(0,  0,  L) (r.l.u)</text>
<text x="27.5" y="20" font-size="27" font-family="'Liberation Sans', Arial, Helvetica, sans-serif" text-anchor="start" font-weight="bold" fill="#000">a</text>
<text x="27.5" y="409.6" font-size="27" font-family="'Liberation Sans', Arial, Helvetica, sans-serif" text-anchor="start" font-weight="bold" fill="#000">b</text>
<text x="591.6" y="20.3" font-size="27" font-family="'Liberation Sans', Arial, Helvetica, sans-serif" text-anchor="start" font-weight="bold" fill="#000">c</text>
<text x="591.6" y="407.7" font-size="27" font-family="'Liberation Sans', Arial, Helvetica, sans-serif" text-anchor="start" font-weight="bold" fill="#000">d</text>
<text x="1164" y="19.6" font-size="27" font-family="'Liberation Sans', Arial, Helvetica, sans-serif" text-anchor="start" font-weight="bold" fill="#000">e</text>
<text x="1571.3" y="19.5" font-size="27" font-family="'Liberation Sans', Arial, Helvetica, sans-serif" text-anchor="start" font-weight="bold" fill="#000">f</text>
<text x="1571.3" y="409.5" font-size="27" font-family="'Liberation Sans', Arial, Helvetica, sans-serif" text-anchor="start" font-weight="bold" fill="#000">g</text>
<text x="213" y="18.5" font-size="26" font-family="'Liberation Serif', 'Times New Roman', serif" font-style="italic" text-anchor="middle">S(<tspan font-weight="bold">Q</tspan>,<tspan dx="3">ω</tspan>)</text>
<text x="213.5" y="409.5" font-size="26" font-family="'Liberation Serif', 'Times New Roman', serif" font-style="italic" text-anchor="middle">S(<tspan font-weight="bold">Q</tspan>,<tspan dx="3">ω</tspan>)</text>
<text x="784" y="21.5" font-size="26" font-family="'Liberation Serif', 'Times New Roman', serif" font-style="italic" text-anchor="middle">S(<tspan font-weight="bold">Q</tspan>,<tspan dx="3">ω</tspan>)</text>
<text x="784" y="408.5" font-size="26" font-family="'Liberation Serif', 'Times New Roman', serif" font-style="italic" text-anchor="middle">S(<tspan font-weight="bold">Q</tspan>,<tspan dx="3">ω</tspan>)</text>
<line x1="1195" y1="736.4" x2="1492.5" y2="736.4" stroke="#000" stroke-width="1.3" stroke-dasharray="4.2,3.2"/>
<line x1="1391.1" y1="56" x2="1391.1" y2="741" stroke="#000" stroke-width="1.3" stroke-dasharray="4.5,3.5"/>
<polyline points="1200.9,436.3 1230.1,458.5 1261.0,485.8 1294.3,519.0 1333.3,555.7 1391.3,617.9 1430.0,659.7 1462.1,696.3 1498.4,736.4" fill="none" stroke="#000" stroke-width="1.3" stroke-dasharray="4.5,3.5"/>
<polyline points="1200.9,148.2 1205.9,148.4 1210.8,149.0 1215.8,150.0 1220.7,151.4 1225.7,153.2 1230.7,155.4 1235.6,158.0 1240.6,161.0 1245.5,164.4 1250.5,168.2 1255.4,172.4 1260.4,177.0 1265.4,181.9 1270.3,187.2 1275.3,193.0 1280.2,199.0 1285.2,205.5 1290.2,212.3 1295.1,219.5 1300.1,227.0 1305.0,234.9 1310.0,243.1 1314.9,251.6 1319.9,260.5 1324.9,269.7 1329.8,279.3 1334.8,289.1 1339.7,299.3 1344.7,309.7 1349.7,320.5 1354.6,331.5 1359.6,342.8 1364.5,354.4 1369.5,366.2 1374.4,378.3 1379.4,390.7 1384.4,403.2 1389.3,416.0 1394.3,429.1 1399.2,442.3 1404.2,455.7 1409.2,469.4 1414.1,483.2 1419.1,497.1 1424.0,511.3 1429.0,525.6 1433.9,540.0 1438.9,554.6 1443.9,569.3 1448.8,584.2 1453.8,599.1 1458.7,614.1 1463.7,629.2 1468.7,644.4 1473.6,659.6 1478.6,674.9 1483.5,690.2 1488.5,705.6 1493.4,721.0 1498.4,736.4" fill="none" stroke="#000" stroke-width="1.1" stroke-dasharray="3.6,1.9,1.1,1.9"/>
<clipPath id="cpE"><rect x="1194.3" y="47.9" width="310.3" height="693.8"/></clipPath><g clip-path="url(#cpE)">
<line x1="1200.9" y1="406.5" x2="1200.9" y2="454.2" stroke="#e8141e" stroke-width="1.6"/><line x1="1196.4" y1="406.5" x2="1205.4" y2="406.5" stroke="#e8141e" stroke-width="1.6"/><line x1="1196.4" y1="454.2" x2="1205.4" y2="454.2" stroke="#e8141e" stroke-width="1.6"/>
<line x1="1230.7" y1="442.3" x2="1230.7" y2="479.8" stroke="#e8141e" stroke-width="1.6"/><line x1="1226.2" y1="442.3" x2="1235.2" y2="442.3" stroke="#e8141e" stroke-width="1.6"/><line x1="1226.2" y1="479.8" x2="1235.2" y2="479.8" stroke="#e8141e" stroke-width="1.6"/>
<line x1="1260.4" y1="482.4" x2="1260.4" y2="516.5" stroke="#e8141e" stroke-width="1.6"/><line x1="1255.9" y1="482.4" x2="1264.9" y2="482.4" stroke="#e8141e" stroke-width="1.6"/><line x1="1255.9" y1="516.5" x2="1264.9" y2="516.5" stroke="#e8141e" stroke-width="1.6"/>
<line x1="1290.2" y1="519.0" x2="1290.2" y2="556.5" stroke="#e8141e" stroke-width="1.6"/><line x1="1285.7" y1="519.0" x2="1294.7" y2="519.0" stroke="#e8141e" stroke-width="1.6"/><line x1="1285.7" y1="556.5" x2="1294.7" y2="556.5" stroke="#e8141e" stroke-width="1.6"/>
<line x1="1319.9" y1="555.7" x2="1319.9" y2="589.8" stroke="#e8141e" stroke-width="1.6"/><line x1="1315.4" y1="555.7" x2="1324.4" y2="555.7" stroke="#e8141e" stroke-width="1.6"/><line x1="1315.4" y1="589.8" x2="1324.4" y2="589.8" stroke="#e8141e" stroke-width="1.6"/>
<line x1="1331.8" y1="577.8" x2="1331.8" y2="606.8" stroke="#e8141e" stroke-width="1.6"/><line x1="1327.3" y1="577.8" x2="1336.3" y2="577.8" stroke="#e8141e" stroke-width="1.6"/><line x1="1327.3" y1="606.8" x2="1336.3" y2="606.8" stroke="#e8141e" stroke-width="1.6"/>
<line x1="1349.7" y1="587.2" x2="1349.7" y2="616.2" stroke="#e8141e" stroke-width="1.6"/><line x1="1345.2" y1="587.2" x2="1354.2" y2="587.2" stroke="#e8141e" stroke-width="1.6"/><line x1="1345.2" y1="616.2" x2="1354.2" y2="616.2" stroke="#e8141e" stroke-width="1.6"/>
<line x1="1379.4" y1="623.9" x2="1379.4" y2="649.4" stroke="#e8141e" stroke-width="1.6"/><line x1="1374.9" y1="623.9" x2="1383.9" y2="623.9" stroke="#e8141e" stroke-width="1.6"/><line x1="1374.9" y1="649.4" x2="1383.9" y2="649.4" stroke="#e8141e" stroke-width="1.6"/>
<line x1="1391.3" y1="637.5" x2="1391.3" y2="663.1" stroke="#e8141e" stroke-width="1.6"/><line x1="1386.8" y1="637.5" x2="1395.8" y2="637.5" stroke="#e8141e" stroke-width="1.6"/><line x1="1386.8" y1="663.1" x2="1395.8" y2="663.1" stroke="#e8141e" stroke-width="1.6"/>
<line x1="1409.2" y1="649.4" x2="1409.2" y2="669.9" stroke="#e8141e" stroke-width="1.6"/><line x1="1404.7" y1="649.4" x2="1413.7" y2="649.4" stroke="#e8141e" stroke-width="1.6"/><line x1="1404.7" y1="669.9" x2="1413.7" y2="669.9" stroke="#e8141e" stroke-width="1.6"/>
<line x1="1427.0" y1="672.5" x2="1427.0" y2="692.9" stroke="#e8141e" stroke-width="1.6"/><line x1="1422.5" y1="672.5" x2="1431.5" y2="672.5" stroke="#e8141e" stroke-width="1.6"/><line x1="1422.5" y1="692.9" x2="1431.5" y2="692.9" stroke="#e8141e" stroke-width="1.6"/>
<line x1="1438.9" y1="690.4" x2="1438.9" y2="715.9" stroke="#e8141e" stroke-width="1.6"/><line x1="1434.4" y1="690.4" x2="1443.4" y2="690.4" stroke="#e8141e" stroke-width="1.6"/><line x1="1434.4" y1="715.9" x2="1443.4" y2="715.9" stroke="#e8141e" stroke-width="1.6"/>
<line x1="1200.9" y1="415.9" x2="1200.9" y2="450.0" stroke="#f5b400" stroke-width="1.6"/><line x1="1196.4" y1="415.9" x2="1205.4" y2="415.9" stroke="#f5b400" stroke-width="1.6"/><line x1="1196.4" y1="450.0" x2="1205.4" y2="450.0" stroke="#f5b400" stroke-width="1.6"/>
<line x1="1230.7" y1="446.5" x2="1230.7" y2="480.6" stroke="#f5b400" stroke-width="1.6"/><line x1="1226.2" y1="446.5" x2="1235.2" y2="446.5" stroke="#f5b400" stroke-width="1.6"/><line x1="1226.2" y1="480.6" x2="1235.2" y2="480.6" stroke="#f5b400" stroke-width="1.6"/>
<line x1="1260.4" y1="484.1" x2="1260.4" y2="518.2" stroke="#f5b400" stroke-width="1.6"/><line x1="1255.9" y1="484.1" x2="1264.9" y2="484.1" stroke="#f5b400" stroke-width="1.6"/><line x1="1255.9" y1="518.2" x2="1264.9" y2="518.2" stroke="#f5b400" stroke-width="1.6"/>
<line x1="1290.2" y1="518.2" x2="1290.2" y2="552.3" stroke="#f5b400" stroke-width="1.6"/><line x1="1285.7" y1="518.2" x2="1294.7" y2="518.2" stroke="#f5b400" stroke-width="1.6"/><line x1="1285.7" y1="552.3" x2="1294.7" y2="552.3" stroke="#f5b400" stroke-width="1.6"/>
<line x1="1319.9" y1="559.1" x2="1319.9" y2="593.2" stroke="#f5b400" stroke-width="1.6"/><line x1="1315.4" y1="559.1" x2="1324.4" y2="559.1" stroke="#f5b400" stroke-width="1.6"/><line x1="1315.4" y1="593.2" x2="1324.4" y2="593.2" stroke="#f5b400" stroke-width="1.6"/>
<line x1="1331.8" y1="590.6" x2="1331.8" y2="619.6" stroke="#f5b400" stroke-width="1.6"/><line x1="1327.3" y1="590.6" x2="1336.3" y2="590.6" stroke="#f5b400" stroke-width="1.6"/><line x1="1327.3" y1="619.6" x2="1336.3" y2="619.6" stroke="#f5b400" stroke-width="1.6"/>
<line x1="1349.7" y1="602.6" x2="1349.7" y2="631.5" stroke="#f5b400" stroke-width="1.6"/><line x1="1345.2" y1="602.6" x2="1354.2" y2="602.6" stroke="#f5b400" stroke-width="1.6"/><line x1="1345.2" y1="631.5" x2="1354.2" y2="631.5" stroke="#f5b400" stroke-width="1.6"/>
<line x1="1361.6" y1="608.5" x2="1361.6" y2="634.1" stroke="#f5b400" stroke-width="1.6"/><line x1="1357.1" y1="608.5" x2="1366.1" y2="608.5" stroke="#f5b400" stroke-width="1.6"/><line x1="1357.1" y1="634.1" x2="1366.1" y2="634.1" stroke="#f5b400" stroke-width="1.6"/>
<line x1="1379.4" y1="626.4" x2="1379.4" y2="652.0" stroke="#f5b400" stroke-width="1.6"/><line x1="1374.9" y1="626.4" x2="1383.9" y2="626.4" stroke="#f5b400" stroke-width="1.6"/><line x1="1374.9" y1="652.0" x2="1383.9" y2="652.0" stroke="#f5b400" stroke-width="1.6"/>
<line x1="1391.3" y1="639.2" x2="1391.3" y2="664.8" stroke="#f5b400" stroke-width="1.6"/><line x1="1386.8" y1="639.2" x2="1395.8" y2="639.2" stroke="#f5b400" stroke-width="1.6"/><line x1="1386.8" y1="664.8" x2="1395.8" y2="664.8" stroke="#f5b400" stroke-width="1.6"/>
<line x1="1409.2" y1="652.9" x2="1409.2" y2="673.3" stroke="#f5b400" stroke-width="1.6"/><line x1="1404.7" y1="652.9" x2="1413.7" y2="652.9" stroke="#f5b400" stroke-width="1.6"/><line x1="1404.7" y1="673.3" x2="1413.7" y2="673.3" stroke="#f5b400" stroke-width="1.6"/>
<line x1="1427.0" y1="657.1" x2="1427.0" y2="677.6" stroke="#f5b400" stroke-width="1.6"/><line x1="1422.5" y1="657.1" x2="1431.5" y2="657.1" stroke="#f5b400" stroke-width="1.6"/><line x1="1422.5" y1="677.6" x2="1431.5" y2="677.6" stroke="#f5b400" stroke-width="1.6"/>
<line x1="1438.9" y1="675.9" x2="1438.9" y2="696.3" stroke="#f5b400" stroke-width="1.6"/><line x1="1434.4" y1="675.9" x2="1443.4" y2="675.9" stroke="#f5b400" stroke-width="1.6"/><line x1="1434.4" y1="696.3" x2="1443.4" y2="696.3" stroke="#f5b400" stroke-width="1.6"/>
<line x1="1200.9" y1="416.7" x2="1200.9" y2="450.8" stroke="#7ee000" stroke-width="1.6"/><line x1="1196.4" y1="416.7" x2="1205.4" y2="416.7" stroke="#7ee000" stroke-width="1.6"/><line x1="1196.4" y1="450.8" x2="1205.4" y2="450.8" stroke="#7ee000" stroke-width="1.6"/>
<line x1="1230.7" y1="448.3" x2="1230.7" y2="482.4" stroke="#7ee000" stroke-width="1.6"/><line x1="1226.2" y1="448.3" x2="1235.2" y2="448.3" stroke="#7ee000" stroke-width="1.6"/><line x1="1226.2" y1="482.4" x2="1235.2" y2="482.4" stroke="#7ee000" stroke-width="1.6"/>
<line x1="1260.4" y1="486.6" x2="1260.4" y2="520.7" stroke="#7ee000" stroke-width="1.6"/><line x1="1255.9" y1="486.6" x2="1264.9" y2="486.6" stroke="#7ee000" stroke-width="1.6"/><line x1="1255.9" y1="520.7" x2="1264.9" y2="520.7" stroke="#7ee000" stroke-width="1.6"/>
<line x1="1290.2" y1="515.6" x2="1290.2" y2="549.7" stroke="#7ee000" stroke-width="1.6"/><line x1="1285.7" y1="515.6" x2="1294.7" y2="515.6" stroke="#7ee000" stroke-width="1.6"/><line x1="1285.7" y1="549.7" x2="1294.7" y2="549.7" stroke="#7ee000" stroke-width="1.6"/>
<line x1="1319.9" y1="565.0" x2="1319.9" y2="599.1" stroke="#7ee000" stroke-width="1.6"/><line x1="1315.4" y1="565.0" x2="1324.4" y2="565.0" stroke="#7ee000" stroke-width="1.6"/><line x1="1315.4" y1="599.1" x2="1324.4" y2="599.1" stroke="#7ee000" stroke-width="1.6"/>
<line x1="1337.8" y1="585.5" x2="1337.8" y2="614.5" stroke="#7ee000" stroke-width="1.6"/><line x1="1333.2" y1="585.5" x2="1342.2" y2="585.5" stroke="#7ee000" stroke-width="1.6"/><line x1="1333.2" y1="614.5" x2="1342.2" y2="614.5" stroke="#7ee000" stroke-width="1.6"/>
<line x1="1349.7" y1="606.8" x2="1349.7" y2="635.8" stroke="#7ee000" stroke-width="1.6"/><line x1="1345.2" y1="606.8" x2="1354.2" y2="606.8" stroke="#7ee000" stroke-width="1.6"/><line x1="1345.2" y1="635.8" x2="1354.2" y2="635.8" stroke="#7ee000" stroke-width="1.6"/>
<line x1="1361.6" y1="619.6" x2="1361.6" y2="645.2" stroke="#7ee000" stroke-width="1.6"/><line x1="1357.1" y1="619.6" x2="1366.1" y2="619.6" stroke="#7ee000" stroke-width="1.6"/><line x1="1357.1" y1="645.2" x2="1366.1" y2="645.2" stroke="#7ee000" stroke-width="1.6"/>
<line x1="1379.4" y1="629.8" x2="1379.4" y2="655.4" stroke="#7ee000" stroke-width="1.6"/><line x1="1374.9" y1="629.8" x2="1383.9" y2="629.8" stroke="#7ee000" stroke-width="1.6"/><line x1="1374.9" y1="655.4" x2="1383.9" y2="655.4" stroke="#7ee000" stroke-width="1.6"/>
<line x1="1391.3" y1="650.3" x2="1391.3" y2="675.9" stroke="#7ee000" stroke-width="1.6"/><line x1="1386.8" y1="650.3" x2="1395.8" y2="650.3" stroke="#7ee000" stroke-width="1.6"/><line x1="1386.8" y1="675.9" x2="1395.8" y2="675.9" stroke="#7ee000" stroke-width="1.6"/>
<line x1="1409.2" y1="659.7" x2="1409.2" y2="680.1" stroke="#7ee000" stroke-width="1.6"/><line x1="1404.7" y1="659.7" x2="1413.7" y2="659.7" stroke="#7ee000" stroke-width="1.6"/><line x1="1404.7" y1="680.1" x2="1413.7" y2="680.1" stroke="#7ee000" stroke-width="1.6"/>
<line x1="1427.0" y1="675.0" x2="1427.0" y2="695.5" stroke="#7ee000" stroke-width="1.6"/><line x1="1422.5" y1="675.0" x2="1431.5" y2="675.0" stroke="#7ee000" stroke-width="1.6"/><line x1="1422.5" y1="695.5" x2="1431.5" y2="695.5" stroke="#7ee000" stroke-width="1.6"/>
<line x1="1438.9" y1="686.1" x2="1438.9" y2="706.6" stroke="#7ee000" stroke-width="1.6"/><line x1="1434.4" y1="686.1" x2="1443.4" y2="686.1" stroke="#7ee000" stroke-width="1.6"/><line x1="1434.4" y1="706.6" x2="1443.4" y2="706.6" stroke="#7ee000" stroke-width="1.6"/>
<line x1="1200.9" y1="417.6" x2="1200.9" y2="451.7" stroke="#36a2d8" stroke-width="1.6"/><line x1="1196.4" y1="417.6" x2="1205.4" y2="417.6" stroke="#36a2d8" stroke-width="1.6"/><line x1="1196.4" y1="451.7" x2="1205.4" y2="451.7" stroke="#36a2d8" stroke-width="1.6"/>
<line x1="1230.7" y1="453.4" x2="1230.7" y2="487.5" stroke="#36a2d8" stroke-width="1.6"/><line x1="1226.2" y1="453.4" x2="1235.2" y2="453.4" stroke="#36a2d8" stroke-width="1.6"/><line x1="1226.2" y1="487.5" x2="1235.2" y2="487.5" stroke="#36a2d8" stroke-width="1.6"/>
<line x1="1260.4" y1="489.2" x2="1260.4" y2="523.3" stroke="#36a2d8" stroke-width="1.6"/><line x1="1255.9" y1="489.2" x2="1264.9" y2="489.2" stroke="#36a2d8" stroke-width="1.6"/><line x1="1255.9" y1="523.3" x2="1264.9" y2="523.3" stroke="#36a2d8" stroke-width="1.6"/>
<line x1="1290.2" y1="525.0" x2="1290.2" y2="559.1" stroke="#36a2d8" stroke-width="1.6"/><line x1="1285.7" y1="525.0" x2="1294.7" y2="525.0" stroke="#36a2d8" stroke-width="1.6"/><line x1="1285.7" y1="559.1" x2="1294.7" y2="559.1" stroke="#36a2d8" stroke-width="1.6"/>
<line x1="1319.9" y1="580.4" x2="1319.9" y2="614.5" stroke="#36a2d8" stroke-width="1.6"/><line x1="1315.4" y1="580.4" x2="1324.4" y2="580.4" stroke="#36a2d8" stroke-width="1.6"/><line x1="1315.4" y1="614.5" x2="1324.4" y2="614.5" stroke="#36a2d8" stroke-width="1.6"/>
<line x1="1331.8" y1="614.5" x2="1331.8" y2="643.5" stroke="#36a2d8" stroke-width="1.6"/><line x1="1327.3" y1="614.5" x2="1336.3" y2="614.5" stroke="#36a2d8" stroke-width="1.6"/><line x1="1327.3" y1="643.5" x2="1336.3" y2="643.5" stroke="#36a2d8" stroke-width="1.6"/>
<line x1="1349.7" y1="627.3" x2="1349.7" y2="656.3" stroke="#36a2d8" stroke-width="1.6"/><line x1="1345.2" y1="627.3" x2="1354.2" y2="627.3" stroke="#36a2d8" stroke-width="1.6"/><line x1="1345.2" y1="656.3" x2="1354.2" y2="656.3" stroke="#36a2d8" stroke-width="1.6"/>
<line x1="1367.5" y1="647.7" x2="1367.5" y2="673.3" stroke="#36a2d8" stroke-width="1.6"/><line x1="1363.0" y1="647.7" x2="1372.0" y2="647.7" stroke="#36a2d8" stroke-width="1.6"/><line x1="1363.0" y1="673.3" x2="1372.0" y2="673.3" stroke="#36a2d8" stroke-width="1.6"/>
<line x1="1379.4" y1="654.6" x2="1379.4" y2="680.1" stroke="#36a2d8" stroke-width="1.6"/><line x1="1374.9" y1="654.6" x2="1383.9" y2="654.6" stroke="#36a2d8" stroke-width="1.6"/><line x1="1374.9" y1="680.1" x2="1383.9" y2="680.1" stroke="#36a2d8" stroke-width="1.6"/>
<line x1="1391.3" y1="675.0" x2="1391.3" y2="700.6" stroke="#36a2d8" stroke-width="1.6"/><line x1="1386.8" y1="675.0" x2="1395.8" y2="675.0" stroke="#36a2d8" stroke-width="1.6"/><line x1="1386.8" y1="700.6" x2="1395.8" y2="700.6" stroke="#36a2d8" stroke-width="1.6"/>
<line x1="1409.2" y1="681.0" x2="1409.2" y2="701.4" stroke="#36a2d8" stroke-width="1.6"/><line x1="1404.7" y1="681.0" x2="1413.7" y2="681.0" stroke="#36a2d8" stroke-width="1.6"/><line x1="1404.7" y1="701.4" x2="1413.7" y2="701.4" stroke="#36a2d8" stroke-width="1.6"/>
<line x1="1427.0" y1="682.7" x2="1427.0" y2="703.2" stroke="#36a2d8" stroke-width="1.6"/><line x1="1422.5" y1="682.7" x2="1431.5" y2="682.7" stroke="#36a2d8" stroke-width="1.6"/><line x1="1422.5" y1="703.2" x2="1431.5" y2="703.2" stroke="#36a2d8" stroke-width="1.6"/>
<line x1="1438.9" y1="713.4" x2="1438.9" y2="733.8" stroke="#36a2d8" stroke-width="1.6"/><line x1="1434.4" y1="713.4" x2="1443.4" y2="713.4" stroke="#36a2d8" stroke-width="1.6"/><line x1="1434.4" y1="733.8" x2="1443.4" y2="733.8" stroke="#36a2d8" stroke-width="1.6"/>
<line x1="1200.9" y1="419.3" x2="1200.9" y2="453.4" stroke="#1818c8" stroke-width="1.6"/><line x1="1196.4" y1="419.3" x2="1205.4" y2="419.3" stroke="#1818c8" stroke-width="1.6"/><line x1="1196.4" y1="453.4" x2="1205.4" y2="453.4" stroke="#1818c8" stroke-width="1.6"/>
<line x1="1230.7" y1="450.8" x2="1230.7" y2="484.9" stroke="#1818c8" stroke-width="1.6"/><line x1="1226.2" y1="450.8" x2="1235.2" y2="450.8" stroke="#1818c8" stroke-width="1.6"/><line x1="1226.2" y1="484.9" x2="1235.2" y2="484.9" stroke="#1818c8" stroke-width="1.6"/>
<line x1="1260.4" y1="492.6" x2="1260.4" y2="526.7" stroke="#1818c8" stroke-width="1.6"/><line x1="1255.9" y1="492.6" x2="1264.9" y2="492.6" stroke="#1818c8" stroke-width="1.6"/><line x1="1255.9" y1="526.7" x2="1264.9" y2="526.7" stroke="#1818c8" stroke-width="1.6"/>
<line x1="1290.2" y1="527.5" x2="1290.2" y2="561.6" stroke="#1818c8" stroke-width="1.6"/><line x1="1285.7" y1="527.5" x2="1294.7" y2="527.5" stroke="#1818c8" stroke-width="1.6"/><line x1="1285.7" y1="561.6" x2="1294.7" y2="561.6" stroke="#1818c8" stroke-width="1.6"/>
<line x1="1319.9" y1="604.3" x2="1319.9" y2="638.4" stroke="#1818c8" stroke-width="1.6"/><line x1="1315.4" y1="604.3" x2="1324.4" y2="604.3" stroke="#1818c8" stroke-width="1.6"/><line x1="1315.4" y1="638.4" x2="1324.4" y2="638.4" stroke="#1818c8" stroke-width="1.6"/>
<line x1="1337.8" y1="628.1" x2="1337.8" y2="662.2" stroke="#1818c8" stroke-width="1.6"/><line x1="1333.2" y1="628.1" x2="1342.2" y2="628.1" stroke="#1818c8" stroke-width="1.6"/><line x1="1333.2" y1="662.2" x2="1342.2" y2="662.2" stroke="#1818c8" stroke-width="1.6"/>
<line x1="1349.7" y1="646.9" x2="1349.7" y2="684.4" stroke="#1818c8" stroke-width="1.6"/><line x1="1345.2" y1="646.9" x2="1354.2" y2="646.9" stroke="#1818c8" stroke-width="1.6"/><line x1="1345.2" y1="684.4" x2="1354.2" y2="684.4" stroke="#1818c8" stroke-width="1.6"/>
<line x1="1367.5" y1="674.2" x2="1367.5" y2="708.3" stroke="#1818c8" stroke-width="1.6"/><line x1="1363.0" y1="674.2" x2="1372.0" y2="674.2" stroke="#1818c8" stroke-width="1.6"/><line x1="1363.0" y1="708.3" x2="1372.0" y2="708.3" stroke="#1818c8" stroke-width="1.6"/>
<line x1="1379.4" y1="678.4" x2="1379.4" y2="712.5" stroke="#1818c8" stroke-width="1.6"/><line x1="1374.9" y1="678.4" x2="1383.9" y2="678.4" stroke="#1818c8" stroke-width="1.6"/><line x1="1374.9" y1="712.5" x2="1383.9" y2="712.5" stroke="#1818c8" stroke-width="1.6"/>
<line x1="1391.3" y1="691.2" x2="1391.3" y2="725.3" stroke="#1818c8" stroke-width="1.6"/><line x1="1386.8" y1="691.2" x2="1395.8" y2="691.2" stroke="#1818c8" stroke-width="1.6"/><line x1="1386.8" y1="725.3" x2="1395.8" y2="725.3" stroke="#1818c8" stroke-width="1.6"/>
<line x1="1409.2" y1="692.1" x2="1409.2" y2="726.2" stroke="#1818c8" stroke-width="1.6"/><line x1="1404.7" y1="692.1" x2="1413.7" y2="692.1" stroke="#1818c8" stroke-width="1.6"/><line x1="1404.7" y1="726.2" x2="1413.7" y2="726.2" stroke="#1818c8" stroke-width="1.6"/>
<line x1="1427.0" y1="691.2" x2="1427.0" y2="725.3" stroke="#1818c8" stroke-width="1.6"/><line x1="1422.5" y1="691.2" x2="1431.5" y2="691.2" stroke="#1818c8" stroke-width="1.6"/><line x1="1422.5" y1="725.3" x2="1431.5" y2="725.3" stroke="#1818c8" stroke-width="1.6"/>
<line x1="1438.9" y1="693.8" x2="1438.9" y2="727.9" stroke="#1818c8" stroke-width="1.6"/><line x1="1434.4" y1="693.8" x2="1443.4" y2="693.8" stroke="#1818c8" stroke-width="1.6"/><line x1="1434.4" y1="727.9" x2="1443.4" y2="727.9" stroke="#1818c8" stroke-width="1.6"/>
<line x1="1200.9" y1="420.1" x2="1200.9" y2="454.2" stroke="#8a2be2" stroke-width="1.6"/><line x1="1196.4" y1="420.1" x2="1205.4" y2="420.1" stroke="#8a2be2" stroke-width="1.6"/><line x1="1196.4" y1="454.2" x2="1205.4" y2="454.2" stroke="#8a2be2" stroke-width="1.6"/>
<line x1="1230.7" y1="450.8" x2="1230.7" y2="484.9" stroke="#8a2be2" stroke-width="1.6"/><line x1="1226.2" y1="450.8" x2="1235.2" y2="450.8" stroke="#8a2be2" stroke-width="1.6"/><line x1="1226.2" y1="484.9" x2="1235.2" y2="484.9" stroke="#8a2be2" stroke-width="1.6"/>
<line x1="1260.4" y1="494.3" x2="1260.4" y2="528.4" stroke="#8a2be2" stroke-width="1.6"/><line x1="1255.9" y1="494.3" x2="1264.9" y2="494.3" stroke="#8a2be2" stroke-width="1.6"/><line x1="1255.9" y1="528.4" x2="1264.9" y2="528.4" stroke="#8a2be2" stroke-width="1.6"/>
<line x1="1290.2" y1="534.4" x2="1290.2" y2="568.5" stroke="#8a2be2" stroke-width="1.6"/><line x1="1285.7" y1="534.4" x2="1294.7" y2="534.4" stroke="#8a2be2" stroke-width="1.6"/><line x1="1285.7" y1="568.5" x2="1294.7" y2="568.5" stroke="#8a2be2" stroke-width="1.6"/>
<line x1="1319.9" y1="600.9" x2="1319.9" y2="635.0" stroke="#8a2be2" stroke-width="1.6"/><line x1="1315.4" y1="600.9" x2="1324.4" y2="600.9" stroke="#8a2be2" stroke-width="1.6"/><line x1="1315.4" y1="635.0" x2="1324.4" y2="635.0" stroke="#8a2be2" stroke-width="1.6"/>
<line x1="1337.8" y1="628.1" x2="1337.8" y2="662.2" stroke="#8a2be2" stroke-width="1.6"/><line x1="1333.2" y1="628.1" x2="1342.2" y2="628.1" stroke="#8a2be2" stroke-width="1.6"/><line x1="1333.2" y1="662.2" x2="1342.2" y2="662.2" stroke="#8a2be2" stroke-width="1.6"/>
<line x1="1349.7" y1="635.0" x2="1349.7" y2="669.1" stroke="#8a2be2" stroke-width="1.6"/><line x1="1345.2" y1="635.0" x2="1354.2" y2="635.0" stroke="#8a2be2" stroke-width="1.6"/><line x1="1345.2" y1="669.1" x2="1354.2" y2="669.1" stroke="#8a2be2" stroke-width="1.6"/>
<line x1="1367.5" y1="681.8" x2="1367.5" y2="715.9" stroke="#8a2be2" stroke-width="1.6"/><line x1="1363.0" y1="681.8" x2="1372.0" y2="681.8" stroke="#8a2be2" stroke-width="1.6"/><line x1="1363.0" y1="715.9" x2="1372.0" y2="715.9" stroke="#8a2be2" stroke-width="1.6"/>
<line x1="1379.4" y1="689.5" x2="1379.4" y2="723.6" stroke="#8a2be2" stroke-width="1.6"/><line x1="1374.9" y1="689.5" x2="1383.9" y2="689.5" stroke="#8a2be2" stroke-width="1.6"/><line x1="1374.9" y1="723.6" x2="1383.9" y2="723.6" stroke="#8a2be2" stroke-width="1.6"/>
<line x1="1391.3" y1="719.4" x2="1391.3" y2="753.4" stroke="#8a2be2" stroke-width="1.6"/><line x1="1386.8" y1="719.4" x2="1395.8" y2="719.4" stroke="#8a2be2" stroke-width="1.6"/><line x1="1386.8" y1="753.4" x2="1395.8" y2="753.4" stroke="#8a2be2" stroke-width="1.6"/>
<line x1="1409.2" y1="719.4" x2="1409.2" y2="753.4" stroke="#8a2be2" stroke-width="1.6"/><line x1="1404.7" y1="719.4" x2="1413.7" y2="719.4" stroke="#8a2be2" stroke-width="1.6"/><line x1="1404.7" y1="753.4" x2="1413.7" y2="753.4" stroke="#8a2be2" stroke-width="1.6"/>
<line x1="1438.9" y1="719.4" x2="1438.9" y2="753.4" stroke="#8a2be2" stroke-width="1.6"/><line x1="1434.4" y1="719.4" x2="1443.4" y2="719.4" stroke="#8a2be2" stroke-width="1.6"/><line x1="1434.4" y1="753.4" x2="1443.4" y2="753.4" stroke="#8a2be2" stroke-width="1.6"/>
<path d="M1200.90 424.35L1206.90 430.35L1200.90 436.35L1194.90 430.35Z" fill="none" stroke="#e8141e" stroke-width="1.5" stroke-linejoin="miter"/>
<path d="M1230.65 455.04L1236.65 461.04L1230.65 467.04L1224.65 461.04Z" fill="none" stroke="#e8141e" stroke-width="1.5" stroke-linejoin="miter"/>
<path d="M1260.40 493.40L1266.40 499.40L1260.40 505.40L1254.40 499.40Z" fill="none" stroke="#e8141e" stroke-width="1.5" stroke-linejoin="miter"/>
<path d="M1290.15 531.77L1296.15 537.77L1290.15 543.77L1284.15 537.77Z" fill="none" stroke="#e8141e" stroke-width="1.5" stroke-linejoin="miter"/>
<path d="M1319.90 566.72L1325.90 572.72L1319.90 578.72L1313.90 572.72Z" fill="none" stroke="#e8141e" stroke-width="1.5" stroke-linejoin="miter"/>
<path d="M1331.80 586.33L1337.80 592.33L1331.80 598.33L1325.80 592.33Z" fill="none" stroke="#e8141e" stroke-width="1.5" stroke-linejoin="miter"/>
<path d="M1349.65 595.70L1355.65 601.70L1349.65 607.70L1343.65 601.70Z" fill="none" stroke="#e8141e" stroke-width="1.5" stroke-linejoin="miter"/>
<path d="M1379.40 630.66L1385.40 636.66L1379.40 642.66L1373.40 636.66Z" fill="none" stroke="#e8141e" stroke-width="1.5" stroke-linejoin="miter"/>
<path d="M1391.30 644.30L1397.30 650.30L1391.30 656.30L1385.30 650.30Z" fill="none" stroke="#e8141e" stroke-width="1.5" stroke-linejoin="miter"/>
<path d="M1409.15 653.67L1415.15 659.67L1409.15 665.67L1403.15 659.67Z" fill="none" stroke="#e8141e" stroke-width="1.5" stroke-linejoin="miter"/>
<path d="M1427.00 676.69L1433.00 682.69L1427.00 688.69L1421.00 682.69Z" fill="none" stroke="#e8141e" stroke-width="1.5" stroke-linejoin="miter"/>
<path d="M1438.90 697.15L1444.90 703.15L1438.90 709.15L1432.90 703.15Z" fill="none" stroke="#e8141e" stroke-width="1.5" stroke-linejoin="miter"/>
<path d="M1200.90 426.91L1206.90 432.91L1200.90 438.91L1194.90 432.91Z" fill="none" stroke="#f5b400" stroke-width="1.5" stroke-linejoin="miter"/>
<path d="M1230.65 457.60L1236.65 463.60L1230.65 469.60L1224.65 463.60Z" fill="none" stroke="#f5b400" stroke-width="1.5" stroke-linejoin="miter"/>
<path d="M1260.40 495.11L1266.40 501.11L1260.40 507.11L1254.40 501.11Z" fill="none" stroke="#f5b400" stroke-width="1.5" stroke-linejoin="miter"/>
<path d="M1290.15 529.21L1296.15 535.21L1290.15 541.21L1284.15 535.21Z" fill="none" stroke="#f5b400" stroke-width="1.5" stroke-linejoin="miter"/>
<path d="M1319.90 570.13L1325.90 576.13L1319.90 582.13L1313.90 576.13Z" fill="none" stroke="#f5b400" stroke-width="1.5" stroke-linejoin="miter"/>
<path d="M1331.80 599.12L1337.80 605.12L1331.80 611.12L1325.80 605.12Z" fill="none" stroke="#f5b400" stroke-width="1.5" stroke-linejoin="miter"/>
<path d="M1349.65 611.05L1355.65 617.05L1349.65 623.05L1343.65 617.05Z" fill="none" stroke="#f5b400" stroke-width="1.5" stroke-linejoin="miter"/>
<path d="M1361.55 615.31L1367.55 621.31L1361.55 627.31L1355.55 621.31Z" fill="none" stroke="#f5b400" stroke-width="1.5" stroke-linejoin="miter"/>
<path d="M1379.40 633.22L1385.40 639.22L1379.40 645.22L1373.40 639.22Z" fill="none" stroke="#f5b400" stroke-width="1.5" stroke-linejoin="miter"/>
<path d="M1391.30 646.00L1397.30 652.00L1391.30 658.00L1385.30 652.00Z" fill="none" stroke="#f5b400" stroke-width="1.5" stroke-linejoin="miter"/>
<path d="M1409.15 657.09L1415.15 663.09L1409.15 669.09L1403.15 663.09Z" fill="none" stroke="#f5b400" stroke-width="1.5" stroke-linejoin="miter"/>
<path d="M1427.00 661.35L1433.00 667.35L1427.00 673.35L1421.00 667.35Z" fill="none" stroke="#f5b400" stroke-width="1.5" stroke-linejoin="miter"/>
<path d="M1438.90 680.10L1444.90 686.10L1438.90 692.10L1432.90 686.10Z" fill="none" stroke="#f5b400" stroke-width="1.5" stroke-linejoin="miter"/>
<path d="M1200.90 427.76L1206.90 433.76L1200.90 439.76L1194.90 433.76Z" fill="none" stroke="#7ee000" stroke-width="1.5" stroke-linejoin="miter"/>
<path d="M1230.65 459.30L1236.65 465.30L1230.65 471.30L1224.65 465.30Z" fill="none" stroke="#7ee000" stroke-width="1.5" stroke-linejoin="miter"/>
<path d="M1260.40 497.67L1266.40 503.67L1260.40 509.67L1254.40 503.67Z" fill="none" stroke="#7ee000" stroke-width="1.5" stroke-linejoin="miter"/>
<path d="M1290.15 526.65L1296.15 532.65L1290.15 538.65L1284.15 532.65Z" fill="none" stroke="#7ee000" stroke-width="1.5" stroke-linejoin="miter"/>
<path d="M1319.90 576.10L1325.90 582.10L1319.90 588.10L1313.90 582.10Z" fill="none" stroke="#7ee000" stroke-width="1.5" stroke-linejoin="miter"/>
<path d="M1337.75 594.00L1343.75 600.00L1337.75 606.00L1331.75 600.00Z" fill="none" stroke="#7ee000" stroke-width="1.5" stroke-linejoin="miter"/>
<path d="M1349.65 615.31L1355.65 621.31L1349.65 627.31L1343.65 621.31Z" fill="none" stroke="#7ee000" stroke-width="1.5" stroke-linejoin="miter"/>
<path d="M1361.55 626.39L1367.55 632.39L1361.55 638.39L1355.55 632.39Z" fill="none" stroke="#7ee000" stroke-width="1.5" stroke-linejoin="miter"/>
<path d="M1379.40 636.62L1385.40 642.62L1379.40 648.62L1373.40 642.62Z" fill="none" stroke="#7ee000" stroke-width="1.5" stroke-linejoin="miter"/>
<path d="M1391.30 657.09L1397.30 663.09L1391.30 669.09L1385.30 663.09Z" fill="none" stroke="#7ee000" stroke-width="1.5" stroke-linejoin="miter"/>
<path d="M1409.15 663.90L1415.15 669.90L1409.15 675.90L1403.15 669.90Z" fill="none" stroke="#7ee000" stroke-width="1.5" stroke-linejoin="miter"/>
<path d="M1427.00 679.25L1433.00 685.25L1427.00 691.25L1421.00 685.25Z" fill="none" stroke="#7ee000" stroke-width="1.5" stroke-linejoin="miter"/>
<path d="M1438.90 690.33L1444.90 696.33L1438.90 702.33L1432.90 696.33Z" fill="none" stroke="#7ee000" stroke-width="1.5" stroke-linejoin="miter"/>
<path d="M1200.90 430.01L1205.50 434.61L1200.90 439.21L1196.30 434.61Z" fill="none" stroke="#36a2d8" stroke-width="1.5" stroke-linejoin="miter"/>
<path d="M1230.65 465.82L1235.25 470.42L1230.65 475.02L1226.05 470.42Z" fill="none" stroke="#36a2d8" stroke-width="1.5" stroke-linejoin="miter"/>
<path d="M1260.40 501.62L1265.00 506.22L1260.40 510.82L1255.80 506.22Z" fill="none" stroke="#36a2d8" stroke-width="1.5" stroke-linejoin="miter"/>
<path d="M1290.15 537.43L1294.75 542.03L1290.15 546.63L1285.55 542.03Z" fill="none" stroke="#36a2d8" stroke-width="1.5" stroke-linejoin="miter"/>
<path d="M1319.90 592.84L1324.50 597.44L1319.90 602.04L1315.30 597.44Z" fill="none" stroke="#36a2d8" stroke-width="1.5" stroke-linejoin="miter"/>
<path d="M1331.80 624.38L1336.40 628.99L1331.80 633.59L1327.20 628.99Z" fill="none" stroke="#36a2d8" stroke-width="1.5" stroke-linejoin="miter"/>
<path d="M1349.65 637.17L1354.25 641.77L1349.65 646.37L1345.05 641.77Z" fill="none" stroke="#36a2d8" stroke-width="1.5" stroke-linejoin="miter"/>
<path d="M1367.50 655.93L1372.10 660.53L1367.50 665.13L1362.90 660.53Z" fill="none" stroke="#36a2d8" stroke-width="1.5" stroke-linejoin="miter"/>
<path d="M1379.40 662.75L1384.00 667.35L1379.40 671.95L1374.80 667.35Z" fill="none" stroke="#36a2d8" stroke-width="1.5" stroke-linejoin="miter"/>
<path d="M1391.30 683.21L1395.90 687.81L1391.30 692.41L1386.70 687.81Z" fill="none" stroke="#36a2d8" stroke-width="1.5" stroke-linejoin="miter"/>
<path d="M1409.15 686.62L1413.75 691.22L1409.15 695.82L1404.55 691.22Z" fill="none" stroke="#36a2d8" stroke-width="1.5" stroke-linejoin="miter"/>
<path d="M1427.00 688.32L1431.60 692.92L1427.00 697.52L1422.40 692.92Z" fill="none" stroke="#36a2d8" stroke-width="1.5" stroke-linejoin="miter"/>
<path d="M1438.90 719.01L1443.50 723.61L1438.90 728.21L1434.30 723.61Z" fill="none" stroke="#36a2d8" stroke-width="1.5" stroke-linejoin="miter"/>
<path d="M1200.90 430.32L1206.90 436.32L1200.90 442.32L1194.90 436.32Z" fill="none" stroke="#1818c8" stroke-width="1.5" stroke-linejoin="miter"/>
<path d="M1230.65 461.86L1236.65 467.86L1230.65 473.86L1224.65 467.86Z" fill="none" stroke="#1818c8" stroke-width="1.5" stroke-linejoin="miter"/>
<path d="M1260.40 503.63L1266.40 509.63L1260.40 515.63L1254.40 509.63Z" fill="none" stroke="#1818c8" stroke-width="1.5" stroke-linejoin="miter"/>
<path d="M1290.15 538.59L1296.15 544.59L1290.15 550.59L1284.15 544.59Z" fill="none" stroke="#1818c8" stroke-width="1.5" stroke-linejoin="miter"/>
<path d="M1319.90 615.31L1325.90 621.31L1319.90 627.31L1313.90 621.31Z" fill="none" stroke="#1818c8" stroke-width="1.5" stroke-linejoin="miter"/>
<path d="M1337.75 639.18L1343.75 645.18L1337.75 651.18L1331.75 645.18Z" fill="none" stroke="#1818c8" stroke-width="1.5" stroke-linejoin="miter"/>
<path d="M1349.65 659.64L1355.65 665.64L1349.65 671.64L1343.65 665.64Z" fill="none" stroke="#1818c8" stroke-width="1.5" stroke-linejoin="miter"/>
<path d="M1367.50 685.22L1373.50 691.22L1367.50 697.22L1361.50 691.22Z" fill="none" stroke="#1818c8" stroke-width="1.5" stroke-linejoin="miter"/>
<path d="M1379.40 689.48L1385.40 695.48L1379.40 701.48L1373.40 695.48Z" fill="none" stroke="#1818c8" stroke-width="1.5" stroke-linejoin="miter"/>
<path d="M1391.30 702.27L1397.30 708.27L1391.30 714.27L1385.30 708.27Z" fill="none" stroke="#1818c8" stroke-width="1.5" stroke-linejoin="miter"/>
<path d="M1409.15 703.12L1415.15 709.12L1409.15 715.12L1403.15 709.12Z" fill="none" stroke="#1818c8" stroke-width="1.5" stroke-linejoin="miter"/>
<path d="M1427.00 702.27L1433.00 708.27L1427.00 714.27L1421.00 708.27Z" fill="none" stroke="#1818c8" stroke-width="1.5" stroke-linejoin="miter"/>
<path d="M1438.90 704.82L1444.90 710.82L1438.90 716.82L1432.90 710.82Z" fill="none" stroke="#1818c8" stroke-width="1.5" stroke-linejoin="miter"/>
<path d="M1200.90 431.17L1206.90 437.17L1200.90 443.17L1194.90 437.17Z" fill="none" stroke="#8a2be2" stroke-width="1.5" stroke-linejoin="miter"/>
<path d="M1230.65 461.86L1236.65 467.86L1230.65 473.86L1224.65 467.86Z" fill="none" stroke="#8a2be2" stroke-width="1.5" stroke-linejoin="miter"/>
<path d="M1260.40 505.34L1266.40 511.34L1260.40 517.34L1254.40 511.34Z" fill="none" stroke="#8a2be2" stroke-width="1.5" stroke-linejoin="miter"/>
<path d="M1290.15 545.41L1296.15 551.41L1290.15 557.41L1284.15 551.41Z" fill="none" stroke="#8a2be2" stroke-width="1.5" stroke-linejoin="miter"/>
<path d="M1319.90 611.90L1325.90 617.90L1319.90 623.90L1313.90 617.90Z" fill="none" stroke="#8a2be2" stroke-width="1.5" stroke-linejoin="miter"/>
<path d="M1337.75 639.18L1343.75 645.18L1337.75 651.18L1331.75 645.18Z" fill="none" stroke="#8a2be2" stroke-width="1.5" stroke-linejoin="miter"/>
<path d="M1349.65 646.00L1355.65 652.00L1349.65 658.00L1343.65 652.00Z" fill="none" stroke="#8a2be2" stroke-width="1.5" stroke-linejoin="miter"/>
<path d="M1367.50 692.89L1373.50 698.89L1367.50 704.89L1361.50 698.89Z" fill="none" stroke="#8a2be2" stroke-width="1.5" stroke-linejoin="miter"/>
<path d="M1379.40 700.56L1385.40 706.56L1379.40 712.56L1373.40 706.56Z" fill="none" stroke="#8a2be2" stroke-width="1.5" stroke-linejoin="miter"/>
<path d="M1391.30 730.40L1397.30 736.40L1391.30 742.40L1385.30 736.40Z" fill="none" stroke="#8a2be2" stroke-width="1.5" stroke-linejoin="miter"/>
<path d="M1409.15 730.40L1415.15 736.40L1409.15 742.40L1403.15 736.40Z" fill="none" stroke="#8a2be2" stroke-width="1.5" stroke-linejoin="miter"/>
<path d="M1438.90 730.40L1444.90 736.40L1438.90 742.40L1432.90 736.40Z" fill="none" stroke="#8a2be2" stroke-width="1.5" stroke-linejoin="miter"/>
<line x1="1200.9" y1="95.3" x2="1200.9" y2="146.5" stroke="#e8141e" stroke-width="1.6"/><line x1="1196.4" y1="95.3" x2="1205.4" y2="95.3" stroke="#e8141e" stroke-width="1.6"/><line x1="1196.4" y1="146.5" x2="1205.4" y2="146.5" stroke="#e8141e" stroke-width="1.6"/>
<circle cx="1200.9" cy="120.9" r="5" fill="none" stroke="#e8141e" stroke-width="1.4"/>
<line x1="1230.7" y1="141.4" x2="1230.7" y2="192.5" stroke="#e8141e" stroke-width="1.6"/><line x1="1226.2" y1="141.4" x2="1235.2" y2="141.4" stroke="#e8141e" stroke-width="1.6"/><line x1="1226.2" y1="192.5" x2="1235.2" y2="192.5" stroke="#e8141e" stroke-width="1.6"/>
<circle cx="1230.7" cy="166.9" r="5" fill="none" stroke="#e8141e" stroke-width="1.4"/>
<line x1="1260.4" y1="161.0" x2="1260.4" y2="213.8" stroke="#e8141e" stroke-width="1.6"/><line x1="1255.9" y1="161.0" x2="1264.9" y2="161.0" stroke="#e8141e" stroke-width="1.6"/><line x1="1255.9" y1="213.8" x2="1264.9" y2="213.8" stroke="#e8141e" stroke-width="1.6"/>
<circle cx="1260.4" cy="187.4" r="5" fill="none" stroke="#e8141e" stroke-width="1.4"/>
<line x1="1290.2" y1="216.4" x2="1290.2" y2="265.8" stroke="#e8141e" stroke-width="1.6"/><line x1="1285.7" y1="216.4" x2="1294.7" y2="216.4" stroke="#e8141e" stroke-width="1.6"/><line x1="1285.7" y1="265.8" x2="1294.7" y2="265.8" stroke="#e8141e" stroke-width="1.6"/>
<circle cx="1290.2" cy="241.1" r="5" fill="none" stroke="#e8141e" stroke-width="1.4"/>
<line x1="1319.9" y1="264.1" x2="1319.9" y2="315.3" stroke="#e8141e" stroke-width="1.6"/><line x1="1315.4" y1="264.1" x2="1324.4" y2="264.1" stroke="#e8141e" stroke-width="1.6"/><line x1="1315.4" y1="315.3" x2="1324.4" y2="315.3" stroke="#e8141e" stroke-width="1.6"/>
<circle cx="1319.9" cy="289.7" r="5" fill="none" stroke="#e8141e" stroke-width="1.4"/>
<line x1="1349.7" y1="323.8" x2="1349.7" y2="374.9" stroke="#e8141e" stroke-width="1.6"/><line x1="1345.2" y1="323.8" x2="1354.2" y2="323.8" stroke="#e8141e" stroke-width="1.6"/><line x1="1345.2" y1="374.9" x2="1354.2" y2="374.9" stroke="#e8141e" stroke-width="1.6"/>
<circle cx="1349.7" cy="349.4" r="5" fill="none" stroke="#e8141e" stroke-width="1.4"/>
<line x1="1379.4" y1="374.1" x2="1379.4" y2="425.2" stroke="#e8141e" stroke-width="1.6"/><line x1="1374.9" y1="374.1" x2="1383.9" y2="374.1" stroke="#e8141e" stroke-width="1.6"/><line x1="1374.9" y1="425.2" x2="1383.9" y2="425.2" stroke="#e8141e" stroke-width="1.6"/>
<circle cx="1379.4" cy="399.7" r="5" fill="none" stroke="#e8141e" stroke-width="1.4"/>
<line x1="1409.2" y1="469.6" x2="1409.2" y2="520.7" stroke="#e8141e" stroke-width="1.6"/><line x1="1404.7" y1="469.6" x2="1413.7" y2="469.6" stroke="#e8141e" stroke-width="1.6"/><line x1="1404.7" y1="520.7" x2="1413.7" y2="520.7" stroke="#e8141e" stroke-width="1.6"/>
<circle cx="1409.2" cy="495.1" r="5" fill="none" stroke="#e8141e" stroke-width="1.4"/>
<line x1="1438.9" y1="540.3" x2="1438.9" y2="591.5" stroke="#e8141e" stroke-width="1.6"/><line x1="1434.4" y1="540.3" x2="1443.4" y2="540.3" stroke="#e8141e" stroke-width="1.6"/><line x1="1434.4" y1="591.5" x2="1443.4" y2="591.5" stroke="#e8141e" stroke-width="1.6"/>
<circle cx="1438.9" cy="565.9" r="5" fill="none" stroke="#e8141e" stroke-width="1.4"/>
<line x1="1200.9" y1="100.4" x2="1200.9" y2="148.2" stroke="#2a92d2" stroke-width="1.6"/><line x1="1196.4" y1="100.4" x2="1205.4" y2="100.4" stroke="#2a92d2" stroke-width="1.6"/><line x1="1196.4" y1="148.2" x2="1205.4" y2="148.2" stroke="#2a92d2" stroke-width="1.6"/>
<circle cx="1200.9" cy="124.3" r="5" fill="none" stroke="#2a92d2" stroke-width="1.4"/>
<line x1="1230.7" y1="121.7" x2="1230.7" y2="172.9" stroke="#2a92d2" stroke-width="1.6"/><line x1="1226.2" y1="121.7" x2="1235.2" y2="121.7" stroke="#2a92d2" stroke-width="1.6"/><line x1="1226.2" y1="172.9" x2="1235.2" y2="172.9" stroke="#2a92d2" stroke-width="1.6"/>
<circle cx="1230.7" cy="147.3" r="5" fill="none" stroke="#2a92d2" stroke-width="1.4"/>
<line x1="1260.4" y1="161.0" x2="1260.4" y2="213.8" stroke="#2a92d2" stroke-width="1.6"/><line x1="1255.9" y1="161.0" x2="1264.9" y2="161.0" stroke="#2a92d2" stroke-width="1.6"/><line x1="1255.9" y1="213.8" x2="1264.9" y2="213.8" stroke="#2a92d2" stroke-width="1.6"/>
<circle cx="1260.4" cy="187.4" r="5" fill="none" stroke="#2a92d2" stroke-width="1.4"/>
<line x1="1290.2" y1="192.5" x2="1290.2" y2="245.4" stroke="#2a92d2" stroke-width="1.6"/><line x1="1285.7" y1="192.5" x2="1294.7" y2="192.5" stroke="#2a92d2" stroke-width="1.6"/><line x1="1285.7" y1="245.4" x2="1294.7" y2="245.4" stroke="#2a92d2" stroke-width="1.6"/>
<circle cx="1290.2" cy="218.9" r="5" fill="none" stroke="#2a92d2" stroke-width="1.4"/>
<line x1="1319.9" y1="240.2" x2="1319.9" y2="291.4" stroke="#2a92d2" stroke-width="1.6"/><line x1="1315.4" y1="240.2" x2="1324.4" y2="240.2" stroke="#2a92d2" stroke-width="1.6"/><line x1="1315.4" y1="291.4" x2="1324.4" y2="291.4" stroke="#2a92d2" stroke-width="1.6"/>
<circle cx="1319.9" cy="265.8" r="5" fill="none" stroke="#2a92d2" stroke-width="1.4"/>
<line x1="1349.7" y1="306.7" x2="1349.7" y2="357.9" stroke="#2a92d2" stroke-width="1.6"/><line x1="1345.2" y1="306.7" x2="1354.2" y2="306.7" stroke="#2a92d2" stroke-width="1.6"/><line x1="1345.2" y1="357.9" x2="1354.2" y2="357.9" stroke="#2a92d2" stroke-width="1.6"/>
<circle cx="1349.7" cy="332.3" r="5" fill="none" stroke="#2a92d2" stroke-width="1.4"/>
<line x1="1379.4" y1="370.7" x2="1379.4" y2="421.8" stroke="#2a92d2" stroke-width="1.6"/><line x1="1374.9" y1="370.7" x2="1383.9" y2="370.7" stroke="#2a92d2" stroke-width="1.6"/><line x1="1374.9" y1="421.8" x2="1383.9" y2="421.8" stroke="#2a92d2" stroke-width="1.6"/>
<circle cx="1379.4" cy="396.3" r="5" fill="none" stroke="#2a92d2" stroke-width="1.4"/>
<line x1="1409.2" y1="444.0" x2="1409.2" y2="502.0" stroke="#2a92d2" stroke-width="1.6"/><line x1="1404.7" y1="444.0" x2="1413.7" y2="444.0" stroke="#2a92d2" stroke-width="1.6"/><line x1="1404.7" y1="502.0" x2="1413.7" y2="502.0" stroke="#2a92d2" stroke-width="1.6"/>
<circle cx="1409.2" cy="473.0" r="5" fill="none" stroke="#2a92d2" stroke-width="1.4"/>
<line x1="1438.9" y1="531.8" x2="1438.9" y2="588.1" stroke="#2a92d2" stroke-width="1.6"/><line x1="1434.4" y1="531.8" x2="1443.4" y2="531.8" stroke="#2a92d2" stroke-width="1.6"/><line x1="1434.4" y1="588.1" x2="1443.4" y2="588.1" stroke="#2a92d2" stroke-width="1.6"/>
<circle cx="1438.9" cy="559.9" r="5" fill="none" stroke="#2a92d2" stroke-width="1.4"/>
</g>
<circle cx="1228.8" cy="74.7" r="5.1" fill="none" stroke="#e8141e" stroke-width="1.4"/>
<circle cx="1228.8" cy="99.2" r="5.1" fill="none" stroke="#2a92d2" stroke-width="1.4"/>
<text x="1250" y="81.6" font-size="23.5" font-family="'Liberation Sans', Arial, Helvetica, sans-serif">: 300 K</text>
<text x="1250" y="106" font-size="23.5" font-family="'Liberation Sans', Arial, Helvetica, sans-serif">: 160 K</text>
<path d="M1218.80 280.60L1226.50 288.30L1218.80 296.00L1211.10 288.30Z" fill="none" stroke="#e8141e" stroke-width="1.5" stroke-linejoin="miter"/>
<text x="1240.5" y="294.9" font-size="23" font-family="'Liberation Sans', Arial, Helvetica, sans-serif">: 300 K</text>
<path d="M1218.80 304.25L1226.50 311.95L1218.80 319.65L1211.10 311.95Z" fill="none" stroke="#f5b400" stroke-width="1.5" stroke-linejoin="miter"/>
<text x="1240.5" y="318.6" font-size="23" font-family="'Liberation Sans', Arial, Helvetica, sans-serif">: 250 K</text>
<path d="M1218.80 327.90L1226.50 335.60L1218.80 343.30L1211.10 335.60Z" fill="none" stroke="#7ee000" stroke-width="1.5" stroke-linejoin="miter"/>
<text x="1240.5" y="342.2" font-size="23" font-family="'Liberation Sans', Arial, Helvetica, sans-serif">: 200 K</text>
<path d="M1218.80 351.55L1226.50 359.25L1218.80 366.95L1211.10 359.25Z" fill="none" stroke="#36a2d8" stroke-width="1.5" stroke-linejoin="miter"/>
<text x="1240.5" y="365.9" font-size="23" font-family="'Liberation Sans', Arial, Helvetica, sans-serif">: 160 K</text>
<path d="M1218.80 375.20L1226.50 382.90L1218.80 390.60L1211.10 382.90Z" fill="none" stroke="#1818c8" stroke-width="1.5" stroke-linejoin="miter"/>
<text x="1240.5" y="389.5" font-size="23" font-family="'Liberation Sans', Arial, Helvetica, sans-serif">: 150 K</text>
<path d="M1218.80 398.85L1226.50 406.55L1218.80 414.25L1211.10 406.55Z" fill="none" stroke="#8a2be2" stroke-width="1.5" stroke-linejoin="miter"/>
<text x="1240.5" y="413.2" font-size="23" font-family="'Liberation Sans', Arial, Helvetica, sans-serif">: 130 K</text>
<text x="1214.5" y="535.3" font-size="22.5" font-family="'Liberation Sans', Arial, Helvetica, sans-serif">TA</text>
<text x="1459" y="543.3" font-size="22.5" font-family="'Liberation Sans', Arial, Helvetica, sans-serif">LA</text>
<line x1="1780.6" y1="60" x2="1780.6" y2="360" stroke="#000" stroke-width="1.3" stroke-dasharray="4.2,3.2"/>
<circle cx="1631.4" cy="352.5" r="4.6" fill="none" stroke="#e41a1a" stroke-width="1.4"/>
<line x1="1628.8" y1="352.5" x2="1634.0" y2="352.5" stroke="#e41a1a" stroke-width="1.3"/>
<circle cx="1641.2" cy="352.5" r="4.6" fill="none" stroke="#e41a1a" stroke-width="1.4"/>
<line x1="1638.6" y1="352.5" x2="1643.8" y2="352.5" stroke="#e41a1a" stroke-width="1.3"/>
<circle cx="1651.4" cy="352.5" r="4.6" fill="none" stroke="#e41a1a" stroke-width="1.4"/>
<line x1="1648.8" y1="352.5" x2="1654.0" y2="352.5" stroke="#e41a1a" stroke-width="1.3"/>
<circle cx="1661.2" cy="352.5" r="4.6" fill="none" stroke="#e41a1a" stroke-width="1.4"/>
<line x1="1658.6" y1="352.5" x2="1663.8" y2="352.5" stroke="#e41a1a" stroke-width="1.3"/>
<circle cx="1671.1" cy="352.5" r="4.6" fill="none" stroke="#e41a1a" stroke-width="1.4"/>
<line x1="1668.5" y1="352.5" x2="1673.7" y2="352.5" stroke="#e41a1a" stroke-width="1.3"/>
<circle cx="1681.2" cy="352.5" r="4.6" fill="none" stroke="#e41a1a" stroke-width="1.4"/>
<line x1="1678.6" y1="352.5" x2="1683.8" y2="352.5" stroke="#e41a1a" stroke-width="1.3"/>
<circle cx="1691.1" cy="352.5" r="4.6" fill="none" stroke="#e41a1a" stroke-width="1.4"/>
<line x1="1688.5" y1="352.5" x2="1693.7" y2="352.5" stroke="#e41a1a" stroke-width="1.3"/>
<circle cx="1700.9" cy="352.5" r="4.6" fill="none" stroke="#e41a1a" stroke-width="1.4"/>
<line x1="1698.3" y1="352.5" x2="1703.5" y2="352.5" stroke="#e41a1a" stroke-width="1.3"/>
<circle cx="1711.1" cy="348.7" r="4.6" fill="none" stroke="#e41a1a" stroke-width="1.4"/>
<line x1="1708.5" y1="348.7" x2="1713.7" y2="348.7" stroke="#e41a1a" stroke-width="1.3"/>
<circle cx="1720.9" cy="343.6" r="4.6" fill="none" stroke="#e41a1a" stroke-width="1.4"/>
<line x1="1718.3" y1="343.6" x2="1723.5" y2="343.6" stroke="#e41a1a" stroke-width="1.3"/>
<circle cx="1730.8" cy="336.5" r="4.6" fill="none" stroke="#e41a1a" stroke-width="1.4"/>
<line x1="1728.2" y1="336.5" x2="1733.4" y2="336.5" stroke="#e41a1a" stroke-width="1.3"/>
<circle cx="1740.9" cy="332.9" r="4.6" fill="none" stroke="#e41a1a" stroke-width="1.4"/>
<line x1="1738.3" y1="332.9" x2="1743.5" y2="332.9" stroke="#e41a1a" stroke-width="1.3"/>
<circle cx="1750.8" cy="335.5" r="4.6" fill="none" stroke="#e41a1a" stroke-width="1.4"/>
<line x1="1748.2" y1="335.5" x2="1753.4" y2="335.5" stroke="#e41a1a" stroke-width="1.3"/>
<circle cx="1760.6" cy="338.7" r="4.6" fill="none" stroke="#e41a1a" stroke-width="1.4"/>
<line x1="1758.0" y1="338.7" x2="1763.2" y2="338.7" stroke="#e41a1a" stroke-width="1.3"/>
<circle cx="1770.8" cy="340.4" r="4.6" fill="none" stroke="#e41a1a" stroke-width="1.4"/>
<line x1="1768.2" y1="340.4" x2="1773.4" y2="340.4" stroke="#e41a1a" stroke-width="1.3"/>
<circle cx="1780.6" cy="342.3" r="4.6" fill="none" stroke="#e41a1a" stroke-width="1.4"/>
<line x1="1778.0" y1="342.3" x2="1783.2" y2="342.3" stroke="#e41a1a" stroke-width="1.3"/>
<circle cx="1790.4" cy="340.8" r="4.6" fill="none" stroke="#e41a1a" stroke-width="1.4"/>
<line x1="1787.8" y1="340.8" x2="1793.0" y2="340.8" stroke="#e41a1a" stroke-width="1.3"/>
<circle cx="1800.6" cy="336.1" r="4.6" fill="none" stroke="#e41a1a" stroke-width="1.4"/>
<line x1="1798.0" y1="336.1" x2="1803.2" y2="336.1" stroke="#e41a1a" stroke-width="1.3"/>
<circle cx="1810.4" cy="331.2" r="4.6" fill="none" stroke="#e41a1a" stroke-width="1.4"/>
<line x1="1807.8" y1="331.2" x2="1813.0" y2="331.2" stroke="#e41a1a" stroke-width="1.3"/>
<circle cx="1820.3" cy="334.8" r="4.6" fill="none" stroke="#e41a1a" stroke-width="1.4"/>
<line x1="1817.7" y1="334.8" x2="1822.9" y2="334.8" stroke="#e41a1a" stroke-width="1.3"/>
<circle cx="1830.4" cy="337.6" r="4.6" fill="none" stroke="#e41a1a" stroke-width="1.4"/>
<line x1="1827.8" y1="337.6" x2="1833.0" y2="337.6" stroke="#e41a1a" stroke-width="1.3"/>
<circle cx="1840.3" cy="343.6" r="4.6" fill="none" stroke="#e41a1a" stroke-width="1.4"/>
<line x1="1837.7" y1="343.6" x2="1842.9" y2="343.6" stroke="#e41a1a" stroke-width="1.3"/>
<circle cx="1850.1" cy="349.4" r="4.6" fill="none" stroke="#e41a1a" stroke-width="1.4"/>
<line x1="1847.5" y1="349.4" x2="1852.7" y2="349.4" stroke="#e41a1a" stroke-width="1.3"/>
<circle cx="1860.3" cy="351.6" r="4.6" fill="none" stroke="#e41a1a" stroke-width="1.4"/>
<line x1="1857.7" y1="351.6" x2="1862.9" y2="351.6" stroke="#e41a1a" stroke-width="1.3"/>
<circle cx="1870.1" cy="352.5" r="4.6" fill="none" stroke="#e41a1a" stroke-width="1.4"/>
<line x1="1867.5" y1="352.5" x2="1872.7" y2="352.5" stroke="#e41a1a" stroke-width="1.3"/>
<circle cx="1880.0" cy="352.5" r="4.6" fill="none" stroke="#e41a1a" stroke-width="1.4"/>
<line x1="1877.4" y1="352.5" x2="1882.6" y2="352.5" stroke="#e41a1a" stroke-width="1.3"/>
<circle cx="1890.1" cy="352.5" r="4.6" fill="none" stroke="#e41a1a" stroke-width="1.4"/>
<line x1="1887.5" y1="352.5" x2="1892.7" y2="352.5" stroke="#e41a1a" stroke-width="1.3"/>
<circle cx="1900.0" cy="352.5" r="4.6" fill="none" stroke="#e41a1a" stroke-width="1.4"/>
<line x1="1897.4" y1="352.5" x2="1902.6" y2="352.5" stroke="#e41a1a" stroke-width="1.3"/>
<circle cx="1909.8" cy="352.5" r="4.6" fill="none" stroke="#e41a1a" stroke-width="1.4"/>
<line x1="1907.2" y1="352.5" x2="1912.4" y2="352.5" stroke="#e41a1a" stroke-width="1.3"/>
<circle cx="1920.0" cy="352.5" r="4.6" fill="none" stroke="#e41a1a" stroke-width="1.4"/>
<line x1="1917.4" y1="352.5" x2="1922.6" y2="352.5" stroke="#e41a1a" stroke-width="1.3"/>
<circle cx="1929.8" cy="352.5" r="4.6" fill="none" stroke="#e41a1a" stroke-width="1.4"/>
<line x1="1927.2" y1="352.5" x2="1932.4" y2="352.5" stroke="#e41a1a" stroke-width="1.3"/>
<path d="M1631.4,352.5C1633.0,352.5 1637.9,352.5 1641.2,352.5C1644.6,352.5 1648.1,352.5 1651.4,352.5C1654.7,352.5 1658.0,352.5 1661.2,352.5C1664.5,352.5 1667.8,352.5 1671.1,352.5C1674.4,352.5 1677.9,352.5 1681.2,352.5C1684.6,352.5 1687.8,352.5 1691.1,352.5C1694.4,352.5 1697.6,353.1 1700.9,352.5C1704.3,351.9 1707.7,350.2 1711.1,348.7C1714.4,347.2 1717.6,345.6 1720.9,343.6C1724.2,341.6 1727.4,338.3 1730.8,336.5C1734.1,334.7 1737.6,333.1 1740.9,332.9C1744.2,332.7 1747.5,334.5 1750.8,335.5C1754.0,336.5 1757.3,337.9 1760.6,338.7C1763.9,339.5 1767.4,339.8 1770.8,340.4C1774.1,341.0 1777.3,342.2 1780.6,342.3C1783.9,342.4 1787.1,341.8 1790.4,340.8C1793.8,339.8 1797.3,337.7 1800.6,336.1C1803.9,334.5 1807.2,331.4 1810.4,331.2C1813.7,331.0 1817.0,333.7 1820.3,334.8C1823.6,335.9 1827.1,336.1 1830.4,337.6C1833.8,339.1 1837.0,341.6 1840.3,343.6C1843.6,345.6 1846.8,348.1 1850.1,349.4C1853.5,350.7 1856.9,351.1 1860.3,351.6C1863.6,352.1 1866.8,352.4 1870.1,352.5C1873.4,352.6 1876.6,352.5 1880.0,352.5C1883.3,352.5 1886.8,352.5 1890.1,352.5C1893.4,352.5 1896.7,352.5 1900.0,352.5C1903.2,352.5 1906.5,352.5 1909.8,352.5C1913.1,352.5 1916.6,352.5 1920.0,352.5C1923.3,352.5 1928.2,352.5 1929.8,352.5" fill="none" stroke="#000" stroke-width="1.2" stroke-dasharray="4,3"/>
<circle cx="1631.4" cy="292.7" r="4.6" fill="none" stroke="#20b820" stroke-width="1.4"/>
<line x1="1628.8" y1="292.7" x2="1634.0" y2="292.7" stroke="#20b820" stroke-width="1.3"/>
<circle cx="1641.2" cy="292.7" r="4.6" fill="none" stroke="#20b820" stroke-width="1.4"/>
<line x1="1638.6" y1="292.7" x2="1643.8" y2="292.7" stroke="#20b820" stroke-width="1.3"/>
<circle cx="1651.4" cy="292.7" r="4.6" fill="none" stroke="#20b820" stroke-width="1.4"/>
<line x1="1648.8" y1="292.7" x2="1654.0" y2="292.7" stroke="#20b820" stroke-width="1.3"/>
<circle cx="1661.2" cy="292.7" r="4.6" fill="none" stroke="#20b820" stroke-width="1.4"/>
<line x1="1658.6" y1="292.7" x2="1663.8" y2="292.7" stroke="#20b820" stroke-width="1.3"/>
<circle cx="1671.1" cy="292.7" r="4.6" fill="none" stroke="#20b820" stroke-width="1.4"/>
<line x1="1668.5" y1="292.7" x2="1673.7" y2="292.7" stroke="#20b820" stroke-width="1.3"/>
<circle cx="1681.2" cy="292.7" r="4.6" fill="none" stroke="#20b820" stroke-width="1.4"/>
<line x1="1678.6" y1="292.7" x2="1683.8" y2="292.7" stroke="#20b820" stroke-width="1.3"/>
<circle cx="1691.1" cy="292.7" r="4.6" fill="none" stroke="#20b820" stroke-width="1.4"/>
<line x1="1688.5" y1="292.7" x2="1693.7" y2="292.7" stroke="#20b820" stroke-width="1.3"/>
<circle cx="1700.9" cy="291.5" r="4.6" fill="none" stroke="#20b820" stroke-width="1.4"/>
<line x1="1698.3" y1="291.5" x2="1703.5" y2="291.5" stroke="#20b820" stroke-width="1.3"/>
<circle cx="1711.1" cy="288.0" r="4.6" fill="none" stroke="#20b820" stroke-width="1.4"/>
<line x1="1708.5" y1="288.0" x2="1713.7" y2="288.0" stroke="#20b820" stroke-width="1.3"/>
<circle cx="1720.9" cy="283.5" r="4.6" fill="none" stroke="#20b820" stroke-width="1.4"/>
<line x1="1718.3" y1="283.5" x2="1723.5" y2="283.5" stroke="#20b820" stroke-width="1.3"/>
<circle cx="1730.8" cy="276.6" r="4.6" fill="none" stroke="#20b820" stroke-width="1.4"/>
<line x1="1728.2" y1="276.6" x2="1733.4" y2="276.6" stroke="#20b820" stroke-width="1.3"/>
<circle cx="1740.9" cy="271.7" r="4.6" fill="none" stroke="#20b820" stroke-width="1.4"/>
<line x1="1738.3" y1="271.7" x2="1743.5" y2="271.7" stroke="#20b820" stroke-width="1.3"/>
<circle cx="1750.8" cy="262.7" r="4.6" fill="none" stroke="#20b820" stroke-width="1.4"/>
<line x1="1748.2" y1="262.7" x2="1753.4" y2="262.7" stroke="#20b820" stroke-width="1.3"/>
<circle cx="1760.6" cy="261.2" r="4.6" fill="none" stroke="#20b820" stroke-width="1.4"/>
<line x1="1758.0" y1="261.2" x2="1763.2" y2="261.2" stroke="#20b820" stroke-width="1.3"/>
<circle cx="1770.8" cy="263.2" r="4.6" fill="none" stroke="#20b820" stroke-width="1.4"/>
<line x1="1768.2" y1="263.2" x2="1773.4" y2="263.2" stroke="#20b820" stroke-width="1.3"/>
<circle cx="1780.6" cy="261.2" r="4.6" fill="none" stroke="#20b820" stroke-width="1.4"/>
<line x1="1778.0" y1="261.2" x2="1783.2" y2="261.2" stroke="#20b820" stroke-width="1.3"/>
<circle cx="1790.4" cy="259.5" r="4.6" fill="none" stroke="#20b820" stroke-width="1.4"/>
<line x1="1787.8" y1="259.5" x2="1793.0" y2="259.5" stroke="#20b820" stroke-width="1.3"/>
<circle cx="1800.6" cy="258.9" r="4.6" fill="none" stroke="#20b820" stroke-width="1.4"/>
<line x1="1798.0" y1="258.9" x2="1803.2" y2="258.9" stroke="#20b820" stroke-width="1.3"/>
<circle cx="1810.4" cy="263.8" r="4.6" fill="none" stroke="#20b820" stroke-width="1.4"/>
<line x1="1807.8" y1="263.8" x2="1813.0" y2="263.8" stroke="#20b820" stroke-width="1.3"/>
<circle cx="1820.3" cy="272.4" r="4.6" fill="none" stroke="#20b820" stroke-width="1.4"/>
<line x1="1817.7" y1="272.4" x2="1822.9" y2="272.4" stroke="#20b820" stroke-width="1.3"/>
<circle cx="1830.4" cy="278.1" r="4.6" fill="none" stroke="#20b820" stroke-width="1.4"/>
<line x1="1827.8" y1="278.1" x2="1833.0" y2="278.1" stroke="#20b820" stroke-width="1.3"/>
<circle cx="1840.3" cy="286.3" r="4.6" fill="none" stroke="#20b820" stroke-width="1.4"/>
<line x1="1837.7" y1="286.3" x2="1842.9" y2="286.3" stroke="#20b820" stroke-width="1.3"/>
<circle cx="1850.1" cy="289.5" r="4.6" fill="none" stroke="#20b820" stroke-width="1.4"/>
<line x1="1847.5" y1="289.5" x2="1852.7" y2="289.5" stroke="#20b820" stroke-width="1.3"/>
<circle cx="1860.3" cy="291.2" r="4.6" fill="none" stroke="#20b820" stroke-width="1.4"/>
<line x1="1857.7" y1="291.2" x2="1862.9" y2="291.2" stroke="#20b820" stroke-width="1.3"/>
<circle cx="1870.1" cy="292.7" r="4.6" fill="none" stroke="#20b820" stroke-width="1.4"/>
<line x1="1867.5" y1="292.7" x2="1872.7" y2="292.7" stroke="#20b820" stroke-width="1.3"/>
<circle cx="1880.0" cy="292.7" r="4.6" fill="none" stroke="#20b820" stroke-width="1.4"/>
<line x1="1877.4" y1="292.7" x2="1882.6" y2="292.7" stroke="#20b820" stroke-width="1.3"/>
<circle cx="1890.1" cy="292.7" r="4.6" fill="none" stroke="#20b820" stroke-width="1.4"/>
<line x1="1887.5" y1="292.7" x2="1892.7" y2="292.7" stroke="#20b820" stroke-width="1.3"/>
<circle cx="1900.0" cy="292.7" r="4.6" fill="none" stroke="#20b820" stroke-width="1.4"/>
<line x1="1897.4" y1="292.7" x2="1902.6" y2="292.7" stroke="#20b820" stroke-width="1.3"/>
<circle cx="1909.8" cy="292.7" r="4.6" fill="none" stroke="#20b820" stroke-width="1.4"/>
<line x1="1907.2" y1="292.7" x2="1912.4" y2="292.7" stroke="#20b820" stroke-width="1.3"/>
<circle cx="1920.0" cy="292.7" r="4.6" fill="none" stroke="#20b820" stroke-width="1.4"/>
<line x1="1917.4" y1="292.7" x2="1922.6" y2="292.7" stroke="#20b820" stroke-width="1.3"/>
<circle cx="1929.8" cy="292.7" r="4.6" fill="none" stroke="#20b820" stroke-width="1.4"/>
<line x1="1927.2" y1="292.7" x2="1932.4" y2="292.7" stroke="#20b820" stroke-width="1.3"/>
<path d="M1631.4,292.7C1633.0,292.7 1637.9,292.7 1641.2,292.7C1644.6,292.7 1648.1,292.7 1651.4,292.7C1654.7,292.7 1658.0,292.7 1661.2,292.7C1664.5,292.7 1667.8,292.7 1671.1,292.7C1674.4,292.7 1677.9,292.7 1681.2,292.7C1684.6,292.7 1687.8,292.9 1691.1,292.7C1694.4,292.5 1697.6,292.3 1700.9,291.5C1704.3,290.7 1707.7,289.3 1711.1,288.0C1714.4,286.7 1717.6,285.4 1720.9,283.5C1724.2,281.6 1727.4,278.6 1730.8,276.6C1734.1,274.6 1737.6,274.0 1740.9,271.7C1744.2,269.4 1747.5,264.4 1750.8,262.7C1754.0,260.9 1757.3,261.1 1760.6,261.2C1763.9,261.3 1767.4,263.2 1770.8,263.2C1774.1,263.2 1777.3,261.8 1780.6,261.2C1783.9,260.6 1787.1,259.9 1790.4,259.5C1793.8,259.1 1797.3,258.2 1800.6,258.9C1803.9,259.6 1807.2,261.6 1810.4,263.8C1813.7,266.1 1817.0,270.0 1820.3,272.4C1823.6,274.8 1827.1,275.8 1830.4,278.1C1833.8,280.4 1837.0,284.4 1840.3,286.3C1843.6,288.2 1846.8,288.7 1850.1,289.5C1853.5,290.3 1856.9,290.7 1860.3,291.2C1863.6,291.7 1866.8,292.4 1870.1,292.7C1873.4,292.9 1876.6,292.7 1880.0,292.7C1883.3,292.7 1886.8,292.7 1890.1,292.7C1893.4,292.7 1896.7,292.7 1900.0,292.7C1903.2,292.7 1906.5,292.7 1909.8,292.7C1913.1,292.7 1916.6,292.7 1920.0,292.7C1923.3,292.7 1928.2,292.7 1929.8,292.7" fill="none" stroke="#000" stroke-width="1.2" stroke-dasharray="4,3"/>
<circle cx="1631.4" cy="232.8" r="4.6" fill="none" stroke="#1e8ad0" stroke-width="1.4"/>
<line x1="1628.8" y1="232.8" x2="1634.0" y2="232.8" stroke="#1e8ad0" stroke-width="1.3"/>
<circle cx="1641.2" cy="232.8" r="4.6" fill="none" stroke="#1e8ad0" stroke-width="1.4"/>
<line x1="1638.6" y1="232.8" x2="1643.8" y2="232.8" stroke="#1e8ad0" stroke-width="1.3"/>
<circle cx="1651.4" cy="232.8" r="4.6" fill="none" stroke="#1e8ad0" stroke-width="1.4"/>
<line x1="1648.8" y1="232.8" x2="1654.0" y2="232.8" stroke="#1e8ad0" stroke-width="1.3"/>
<circle cx="1661.2" cy="232.8" r="4.6" fill="none" stroke="#1e8ad0" stroke-width="1.4"/>
<line x1="1658.6" y1="232.8" x2="1663.8" y2="232.8" stroke="#1e8ad0" stroke-width="1.3"/>
<circle cx="1671.1" cy="232.8" r="4.6" fill="none" stroke="#1e8ad0" stroke-width="1.4"/>
<line x1="1668.5" y1="232.8" x2="1673.7" y2="232.8" stroke="#1e8ad0" stroke-width="1.3"/>
<circle cx="1681.2" cy="232.8" r="4.6" fill="none" stroke="#1e8ad0" stroke-width="1.4"/>
<line x1="1678.6" y1="232.8" x2="1683.8" y2="232.8" stroke="#1e8ad0" stroke-width="1.3"/>
<circle cx="1691.1" cy="232.8" r="4.6" fill="none" stroke="#1e8ad0" stroke-width="1.4"/>
<line x1="1688.5" y1="232.8" x2="1693.7" y2="232.8" stroke="#1e8ad0" stroke-width="1.3"/>
<circle cx="1700.9" cy="232.8" r="4.6" fill="none" stroke="#1e8ad0" stroke-width="1.4"/>
<line x1="1698.3" y1="232.8" x2="1703.5" y2="232.8" stroke="#1e8ad0" stroke-width="1.3"/>
<circle cx="1711.1" cy="230.8" r="4.6" fill="none" stroke="#1e8ad0" stroke-width="1.4"/>
<line x1="1708.5" y1="230.8" x2="1713.7" y2="230.8" stroke="#1e8ad0" stroke-width="1.3"/>
<circle cx="1720.9" cy="227.4" r="4.6" fill="none" stroke="#1e8ad0" stroke-width="1.4"/>
<line x1="1718.3" y1="227.4" x2="1723.5" y2="227.4" stroke="#1e8ad0" stroke-width="1.3"/>
<circle cx="1730.8" cy="221.0" r="4.6" fill="none" stroke="#1e8ad0" stroke-width="1.4"/>
<line x1="1728.2" y1="221.0" x2="1733.4" y2="221.0" stroke="#1e8ad0" stroke-width="1.3"/>
<circle cx="1740.9" cy="211.4" r="4.6" fill="none" stroke="#1e8ad0" stroke-width="1.4"/>
<line x1="1738.3" y1="211.4" x2="1743.5" y2="211.4" stroke="#1e8ad0" stroke-width="1.3"/>
<circle cx="1750.8" cy="192.1" r="4.6" fill="none" stroke="#1e8ad0" stroke-width="1.4"/>
<line x1="1748.2" y1="192.1" x2="1753.4" y2="192.1" stroke="#1e8ad0" stroke-width="1.3"/>
<circle cx="1760.6" cy="181.0" r="4.6" fill="none" stroke="#1e8ad0" stroke-width="1.4"/>
<line x1="1758.0" y1="181.0" x2="1763.2" y2="181.0" stroke="#1e8ad0" stroke-width="1.3"/>
<circle cx="1770.8" cy="175.7" r="4.6" fill="none" stroke="#1e8ad0" stroke-width="1.4"/>
<line x1="1768.2" y1="175.7" x2="1773.4" y2="175.7" stroke="#1e8ad0" stroke-width="1.3"/>
<circle cx="1780.6" cy="172.9" r="4.6" fill="none" stroke="#1e8ad0" stroke-width="1.4"/>
<line x1="1778.0" y1="172.9" x2="1783.2" y2="172.9" stroke="#1e8ad0" stroke-width="1.3"/>
<circle cx="1790.4" cy="169.7" r="4.6" fill="none" stroke="#1e8ad0" stroke-width="1.4"/>
<line x1="1787.8" y1="169.7" x2="1793.0" y2="169.7" stroke="#1e8ad0" stroke-width="1.3"/>
<circle cx="1800.6" cy="172.5" r="4.6" fill="none" stroke="#1e8ad0" stroke-width="1.4"/>
<line x1="1798.0" y1="172.5" x2="1803.2" y2="172.5" stroke="#1e8ad0" stroke-width="1.3"/>
<circle cx="1810.4" cy="194.3" r="4.6" fill="none" stroke="#1e8ad0" stroke-width="1.4"/>
<line x1="1807.8" y1="194.3" x2="1813.0" y2="194.3" stroke="#1e8ad0" stroke-width="1.3"/>
<circle cx="1820.3" cy="203.9" r="4.6" fill="none" stroke="#1e8ad0" stroke-width="1.4"/>
<line x1="1817.7" y1="203.9" x2="1822.9" y2="203.9" stroke="#1e8ad0" stroke-width="1.3"/>
<circle cx="1830.4" cy="219.9" r="4.6" fill="none" stroke="#1e8ad0" stroke-width="1.4"/>
<line x1="1827.8" y1="219.9" x2="1833.0" y2="219.9" stroke="#1e8ad0" stroke-width="1.3"/>
<circle cx="1840.3" cy="225.3" r="4.6" fill="none" stroke="#1e8ad0" stroke-width="1.4"/>
<line x1="1837.7" y1="225.3" x2="1842.9" y2="225.3" stroke="#1e8ad0" stroke-width="1.3"/>
<circle cx="1850.1" cy="228.5" r="4.6" fill="none" stroke="#1e8ad0" stroke-width="1.4"/>
<line x1="1847.5" y1="228.5" x2="1852.7" y2="228.5" stroke="#1e8ad0" stroke-width="1.3"/>
<circle cx="1860.3" cy="230.2" r="4.6" fill="none" stroke="#1e8ad0" stroke-width="1.4"/>
<line x1="1857.7" y1="230.2" x2="1862.9" y2="230.2" stroke="#1e8ad0" stroke-width="1.3"/>
<circle cx="1870.1" cy="231.7" r="4.6" fill="none" stroke="#1e8ad0" stroke-width="1.4"/>
<line x1="1867.5" y1="231.7" x2="1872.7" y2="231.7" stroke="#1e8ad0" stroke-width="1.3"/>
<circle cx="1880.0" cy="232.8" r="4.6" fill="none" stroke="#1e8ad0" stroke-width="1.4"/>
<line x1="1877.4" y1="232.8" x2="1882.6" y2="232.8" stroke="#1e8ad0" stroke-width="1.3"/>
<circle cx="1890.1" cy="232.8" r="4.6" fill="none" stroke="#1e8ad0" stroke-width="1.4"/>
<line x1="1887.5" y1="232.8" x2="1892.7" y2="232.8" stroke="#1e8ad0" stroke-width="1.3"/>
<circle cx="1900.0" cy="232.8" r="4.6" fill="none" stroke="#1e8ad0" stroke-width="1.4"/>
<line x1="1897.4" y1="232.8" x2="1902.6" y2="232.8" stroke="#1e8ad0" stroke-width="1.3"/>
<circle cx="1909.8" cy="232.8" r="4.6" fill="none" stroke="#1e8ad0" stroke-width="1.4"/>
<line x1="1907.2" y1="232.8" x2="1912.4" y2="232.8" stroke="#1e8ad0" stroke-width="1.3"/>
<circle cx="1920.0" cy="232.8" r="4.6" fill="none" stroke="#1e8ad0" stroke-width="1.4"/>
<line x1="1917.4" y1="232.8" x2="1922.6" y2="232.8" stroke="#1e8ad0" stroke-width="1.3"/>
<circle cx="1929.8" cy="232.8" r="4.6" fill="none" stroke="#1e8ad0" stroke-width="1.4"/>
<line x1="1927.2" y1="232.8" x2="1932.4" y2="232.8" stroke="#1e8ad0" stroke-width="1.3"/>
<path d="M1631.4,232.8C1633.0,232.8 1637.9,232.8 1641.2,232.8C1644.6,232.8 1648.1,232.8 1651.4,232.8C1654.7,232.8 1658.0,232.8 1661.2,232.8C1664.5,232.8 1667.8,232.8 1671.1,232.8C1674.4,232.8 1677.9,232.8 1681.2,232.8C1684.6,232.8 1687.8,232.8 1691.1,232.8C1694.4,232.8 1697.6,233.1 1700.9,232.8C1704.3,232.5 1707.7,231.7 1711.1,230.8C1714.4,229.9 1717.6,229.0 1720.9,227.4C1724.2,225.8 1727.4,223.7 1730.8,221.0C1734.1,218.3 1737.6,216.2 1740.9,211.4C1744.2,206.6 1747.5,197.2 1750.8,192.1C1754.0,187.0 1757.3,183.7 1760.6,181.0C1763.9,178.3 1767.4,177.0 1770.8,175.7C1774.1,174.3 1777.3,173.9 1780.6,172.9C1783.9,171.9 1787.1,169.8 1790.4,169.7C1793.8,169.6 1797.3,168.4 1800.6,172.5C1803.9,176.6 1807.2,189.1 1810.4,194.3C1813.7,199.5 1817.0,199.6 1820.3,203.9C1823.6,208.2 1827.1,216.3 1830.4,219.9C1833.8,223.5 1837.0,223.9 1840.3,225.3C1843.6,226.7 1846.8,227.7 1850.1,228.5C1853.5,229.3 1856.9,229.7 1860.3,230.2C1863.6,230.7 1866.8,231.3 1870.1,231.7C1873.4,232.1 1876.6,232.6 1880.0,232.8C1883.3,233.0 1886.8,232.8 1890.1,232.8C1893.4,232.8 1896.7,232.8 1900.0,232.8C1903.2,232.8 1906.5,232.8 1909.8,232.8C1913.1,232.8 1916.6,232.8 1920.0,232.8C1923.3,232.8 1928.2,232.8 1929.8,232.8" fill="none" stroke="#000" stroke-width="1.2" stroke-dasharray="4,3"/>
<circle cx="1631.4" cy="173.5" r="4.6" fill="none" stroke="#7a22d0" stroke-width="1.4"/>
<line x1="1628.8" y1="173.5" x2="1634.0" y2="173.5" stroke="#7a22d0" stroke-width="1.3"/>
<circle cx="1641.2" cy="173.5" r="4.6" fill="none" stroke="#7a22d0" stroke-width="1.4"/>
<line x1="1638.6" y1="173.5" x2="1643.8" y2="173.5" stroke="#7a22d0" stroke-width="1.3"/>
<circle cx="1651.4" cy="173.5" r="4.6" fill="none" stroke="#7a22d0" stroke-width="1.4"/>
<line x1="1648.8" y1="173.5" x2="1654.0" y2="173.5" stroke="#7a22d0" stroke-width="1.3"/>
<circle cx="1661.2" cy="173.5" r="4.6" fill="none" stroke="#7a22d0" stroke-width="1.4"/>
<line x1="1658.6" y1="173.5" x2="1663.8" y2="173.5" stroke="#7a22d0" stroke-width="1.3"/>
<circle cx="1671.1" cy="173.5" r="4.6" fill="none" stroke="#7a22d0" stroke-width="1.4"/>
<line x1="1668.5" y1="173.5" x2="1673.7" y2="173.5" stroke="#7a22d0" stroke-width="1.3"/>
<circle cx="1681.2" cy="173.5" r="4.6" fill="none" stroke="#7a22d0" stroke-width="1.4"/>
<line x1="1678.6" y1="173.5" x2="1683.8" y2="173.5" stroke="#7a22d0" stroke-width="1.3"/>
<circle cx="1691.1" cy="173.5" r="4.6" fill="none" stroke="#7a22d0" stroke-width="1.4"/>
<line x1="1688.5" y1="173.5" x2="1693.7" y2="173.5" stroke="#7a22d0" stroke-width="1.3"/>
<circle cx="1700.9" cy="172.8" r="4.6" fill="none" stroke="#7a22d0" stroke-width="1.4"/>
<line x1="1698.3" y1="172.8" x2="1703.5" y2="172.8" stroke="#7a22d0" stroke-width="1.3"/>
<circle cx="1711.1" cy="172.5" r="4.6" fill="none" stroke="#7a22d0" stroke-width="1.4"/>
<line x1="1708.5" y1="172.5" x2="1713.7" y2="172.5" stroke="#7a22d0" stroke-width="1.3"/>
<circle cx="1720.9" cy="170.4" r="4.6" fill="none" stroke="#7a22d0" stroke-width="1.4"/>
<line x1="1718.3" y1="170.4" x2="1723.5" y2="170.4" stroke="#7a22d0" stroke-width="1.3"/>
<circle cx="1730.8" cy="167.2" r="4.6" fill="none" stroke="#7a22d0" stroke-width="1.4"/>
<line x1="1728.2" y1="167.2" x2="1733.4" y2="167.2" stroke="#7a22d0" stroke-width="1.3"/>
<circle cx="1740.9" cy="163.4" r="4.6" fill="none" stroke="#7a22d0" stroke-width="1.4"/>
<line x1="1738.3" y1="163.4" x2="1743.5" y2="163.4" stroke="#7a22d0" stroke-width="1.3"/>
<circle cx="1750.8" cy="147.9" r="4.6" fill="none" stroke="#7a22d0" stroke-width="1.4"/>
<line x1="1748.2" y1="147.9" x2="1753.4" y2="147.9" stroke="#7a22d0" stroke-width="1.3"/>
<circle cx="1760.6" cy="128.4" r="4.6" fill="none" stroke="#7a22d0" stroke-width="1.4"/>
<line x1="1758.0" y1="128.4" x2="1763.2" y2="128.4" stroke="#7a22d0" stroke-width="1.3"/>
<circle cx="1770.8" cy="101.3" r="4.6" fill="none" stroke="#7a22d0" stroke-width="1.4"/>
<line x1="1768.2" y1="101.3" x2="1773.4" y2="101.3" stroke="#7a22d0" stroke-width="1.3"/>
<circle cx="1780.6" cy="90.5" r="4.6" fill="none" stroke="#7a22d0" stroke-width="1.4"/>
<line x1="1778.0" y1="90.5" x2="1783.2" y2="90.5" stroke="#7a22d0" stroke-width="1.3"/>
<circle cx="1790.4" cy="102.8" r="4.6" fill="none" stroke="#7a22d0" stroke-width="1.4"/>
<line x1="1787.8" y1="102.8" x2="1793.0" y2="102.8" stroke="#7a22d0" stroke-width="1.3"/>
<circle cx="1800.6" cy="126.5" r="4.6" fill="none" stroke="#7a22d0" stroke-width="1.4"/>
<line x1="1798.0" y1="126.5" x2="1803.2" y2="126.5" stroke="#7a22d0" stroke-width="1.3"/>
<circle cx="1810.4" cy="148.3" r="4.6" fill="none" stroke="#7a22d0" stroke-width="1.4"/>
<line x1="1807.8" y1="148.3" x2="1813.0" y2="148.3" stroke="#7a22d0" stroke-width="1.3"/>
<circle cx="1820.3" cy="160.2" r="4.6" fill="none" stroke="#7a22d0" stroke-width="1.4"/>
<line x1="1817.7" y1="160.2" x2="1822.9" y2="160.2" stroke="#7a22d0" stroke-width="1.3"/>
<circle cx="1830.4" cy="166.3" r="4.6" fill="none" stroke="#7a22d0" stroke-width="1.4"/>
<line x1="1827.8" y1="166.3" x2="1833.0" y2="166.3" stroke="#7a22d0" stroke-width="1.3"/>
<circle cx="1840.3" cy="170.4" r="4.6" fill="none" stroke="#7a22d0" stroke-width="1.4"/>
<line x1="1837.7" y1="170.4" x2="1842.9" y2="170.4" stroke="#7a22d0" stroke-width="1.3"/>
<circle cx="1850.1" cy="172.5" r="4.6" fill="none" stroke="#7a22d0" stroke-width="1.4"/>
<line x1="1847.5" y1="172.5" x2="1852.7" y2="172.5" stroke="#7a22d0" stroke-width="1.3"/>
<circle cx="1860.3" cy="173.2" r="4.6" fill="none" stroke="#7a22d0" stroke-width="1.4"/>
<line x1="1857.7" y1="173.2" x2="1862.9" y2="173.2" stroke="#7a22d0" stroke-width="1.3"/>
<circle cx="1870.1" cy="173.5" r="4.6" fill="none" stroke="#7a22d0" stroke-width="1.4"/>
<line x1="1867.5" y1="173.5" x2="1872.7" y2="173.5" stroke="#7a22d0" stroke-width="1.3"/>
<circle cx="1880.0" cy="173.5" r="4.6" fill="none" stroke="#7a22d0" stroke-width="1.4"/>
<line x1="1877.4" y1="173.5" x2="1882.6" y2="173.5" stroke="#7a22d0" stroke-width="1.3"/>
<circle cx="1890.1" cy="173.5" r="4.6" fill="none" stroke="#7a22d0" stroke-width="1.4"/>
<line x1="1887.5" y1="173.5" x2="1892.7" y2="173.5" stroke="#7a22d0" stroke-width="1.3"/>
<circle cx="1900.0" cy="173.5" r="4.6" fill="none" stroke="#7a22d0" stroke-width="1.4"/>
<line x1="1897.4" y1="173.5" x2="1902.6" y2="173.5" stroke="#7a22d0" stroke-width="1.3"/>
<circle cx="1909.8" cy="173.5" r="4.6" fill="none" stroke="#7a22d0" stroke-width="1.4"/>
<line x1="1907.2" y1="173.5" x2="1912.4" y2="173.5" stroke="#7a22d0" stroke-width="1.3"/>
<circle cx="1920.0" cy="173.5" r="4.6" fill="none" stroke="#7a22d0" stroke-width="1.4"/>
<line x1="1917.4" y1="173.5" x2="1922.6" y2="173.5" stroke="#7a22d0" stroke-width="1.3"/>
<circle cx="1929.8" cy="173.5" r="4.6" fill="none" stroke="#7a22d0" stroke-width="1.4"/>
<line x1="1927.2" y1="173.5" x2="1932.4" y2="173.5" stroke="#7a22d0" stroke-width="1.3"/>
<path d="M1631.4,173.5C1633.0,173.5 1637.9,173.5 1641.2,173.5C1644.6,173.5 1648.1,173.5 1651.4,173.5C1654.7,173.5 1658.0,173.5 1661.2,173.5C1664.5,173.5 1667.8,173.5 1671.1,173.5C1674.4,173.5 1677.9,173.5 1681.2,173.5C1684.6,173.5 1687.8,173.6 1691.1,173.5C1694.4,173.4 1697.6,173.0 1700.9,172.8C1704.3,172.6 1707.7,172.9 1711.1,172.5C1714.4,172.1 1717.6,171.3 1720.9,170.4C1724.2,169.5 1727.4,168.4 1730.8,167.2C1734.1,166.0 1737.6,166.6 1740.9,163.4C1744.2,160.2 1747.5,153.7 1750.8,147.9C1754.0,142.1 1757.3,136.2 1760.6,128.4C1763.9,120.6 1767.4,107.6 1770.8,101.3C1774.1,95.0 1777.3,90.2 1780.6,90.5C1783.9,90.8 1787.1,96.8 1790.4,102.8C1793.8,108.8 1797.3,118.9 1800.6,126.5C1803.9,134.1 1807.2,142.7 1810.4,148.3C1813.7,153.9 1817.0,157.2 1820.3,160.2C1823.6,163.2 1827.1,164.6 1830.4,166.3C1833.8,168.0 1837.0,169.4 1840.3,170.4C1843.6,171.4 1846.8,172.0 1850.1,172.5C1853.5,173.0 1856.9,173.0 1860.3,173.2C1863.6,173.4 1866.8,173.4 1870.1,173.5C1873.4,173.6 1876.6,173.5 1880.0,173.5C1883.3,173.5 1886.8,173.5 1890.1,173.5C1893.4,173.5 1896.7,173.5 1900.0,173.5C1903.2,173.5 1906.5,173.5 1909.8,173.5C1913.1,173.5 1916.6,173.5 1920.0,173.5C1923.3,173.5 1928.2,173.5 1929.8,173.5" fill="none" stroke="#000" stroke-width="1.2" stroke-dasharray="4,3"/>
<text x="1854.5" y="153" font-size="23.5" letter-spacing="1.6" font-family="'Liberation Sans', Arial, Helvetica, sans-serif">140 K</text>
<text x="1854.5" y="213.1" font-size="23.5" letter-spacing="1.6" font-family="'Liberation Sans', Arial, Helvetica, sans-serif">160 K</text>
<text x="1854.5" y="272.4" font-size="23.5" letter-spacing="1.6" font-family="'Liberation Sans', Arial, Helvetica, sans-serif">200 K</text>
<text x="1854.5" y="332.2" font-size="23.5" letter-spacing="1.6" font-family="'Liberation Sans', Arial, Helvetica, sans-serif">300 K</text>
<text x="1638" y="73" font-size="24" letter-spacing="1.3" font-family="'Liberation Sans', Arial, Helvetica, sans-serif">L=1.83</text>
<line x1="1809.5" y1="80" x2="1841.7" y2="80" stroke="#000" stroke-width="1.3" stroke-dasharray="4,3"/>
<text x="1849.3" y="85.7" font-size="22" font-family="'Liberation Sans', Arial, Helvetica, sans-serif">: Fitting</text></svg>
</body></html>
